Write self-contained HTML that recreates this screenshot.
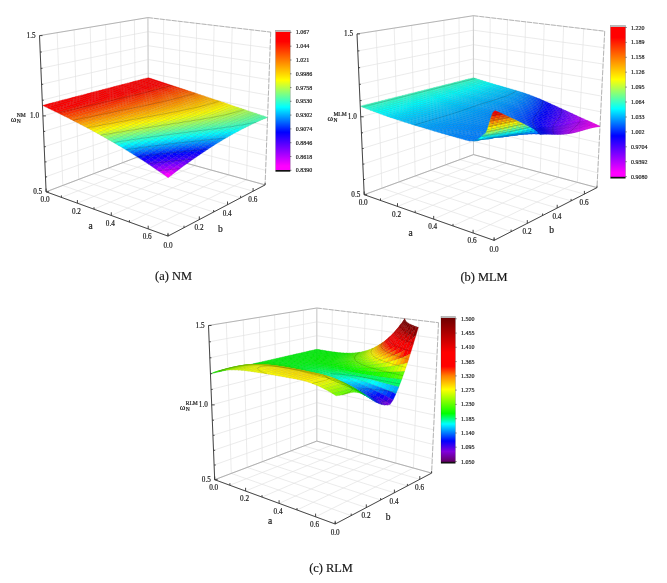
<!DOCTYPE html><html><head><meta charset="utf-8"><title>Figure</title><style>html,body{margin:0;padding:0;background:#fff}body{width:667px;height:583px;overflow:hidden;font-family:"Liberation Serif", serif}svg{display:block;filter:blur(.35px)}text{stroke:#222;stroke-width:.18px}</style></head><body><svg width="667" height="583" viewBox="0 0 667 583" font-family='"Liberation Serif", serif' fill="#141414"><defs></defs>
<g fill="none" stroke-linecap="butt">
<path d="M46.1 191.8L148.6 152.8" stroke="#e2e2e2" stroke-width="0.7"/>
<path d="M46.1 191.8L168 236.1" stroke="#e2e2e2" stroke-width="0.7"/>
<path d="M46.1 191.8L39.5 35.6" stroke="#e2e2e2" stroke-width="0.7"/>
<path d="M148.6 152.8L147.9 17.6" stroke="#e2e2e2" stroke-width="0.7"/>
<path d="M61.4 197.4L163.6 156.9" stroke="#e2e2e2" stroke-width="0.7"/>
<path d="M62.8 185.5L184 227.7" stroke="#e2e2e2" stroke-width="0.7"/>
<path d="M62.8 185.5L57.2 32.7" stroke="#e2e2e2" stroke-width="0.7"/>
<path d="M163.6 156.9L163.6 19.4" stroke="#e2e2e2" stroke-width="0.7"/>
<path d="M77.4 203.2L179 161.2" stroke="#e2e2e2" stroke-width="0.7"/>
<path d="M78.7 179.4L199.3 219.6" stroke="#e2e2e2" stroke-width="0.7"/>
<path d="M78.7 179.4L74.1 29.8" stroke="#e2e2e2" stroke-width="0.7"/>
<path d="M179 161.2L179.8 21.3" stroke="#e2e2e2" stroke-width="0.7"/>
<path d="M94 209.2L195 165.6" stroke="#e2e2e2" stroke-width="0.7"/>
<path d="M93.9 173.7L213.7 212" stroke="#e2e2e2" stroke-width="0.7"/>
<path d="M93.9 173.7L90.2 27.2" stroke="#e2e2e2" stroke-width="0.7"/>
<path d="M195 165.6L196.6 23.3" stroke="#e2e2e2" stroke-width="0.7"/>
<path d="M111.3 215.5L211.5 170.2" stroke="#e2e2e2" stroke-width="0.7"/>
<path d="M108.4 168.1L227.5 204.7" stroke="#e2e2e2" stroke-width="0.7"/>
<path d="M108.4 168.1L105.6 24.6" stroke="#e2e2e2" stroke-width="0.7"/>
<path d="M211.5 170.2L214.1 25.4" stroke="#e2e2e2" stroke-width="0.7"/>
<path d="M129.4 222.1L228.7 174.9" stroke="#e2e2e2" stroke-width="0.7"/>
<path d="M122.4 162.8L240.6 197.8" stroke="#e2e2e2" stroke-width="0.7"/>
<path d="M122.4 162.8L120.3 22.2" stroke="#e2e2e2" stroke-width="0.7"/>
<path d="M228.7 174.9L232.2 27.5" stroke="#e2e2e2" stroke-width="0.7"/>
<path d="M148.2 228.9L246.5 179.8" stroke="#e2e2e2" stroke-width="0.7"/>
<path d="M135.8 157.7L253.1 191.2" stroke="#e2e2e2" stroke-width="0.7"/>
<path d="M135.8 157.7L134.4 19.8" stroke="#e2e2e2" stroke-width="0.7"/>
<path d="M246.5 179.8L251.1 29.8" stroke="#e2e2e2" stroke-width="0.7"/>
<path d="M168 236.1L265.1 184.9" stroke="#e2e2e2" stroke-width="0.7"/>
<path d="M148.6 152.8L265.1 184.9" stroke="#e2e2e2" stroke-width="0.7"/>
<path d="M148.6 152.8L147.9 17.6" stroke="#e2e2e2" stroke-width="0.7"/>
<path d="M265.1 184.9L270.7 32.1" stroke="#e2e2e2" stroke-width="0.7"/>
<path d="M46.1 191.8L148.6 152.8" stroke="#e2e2e2" stroke-width="0.7"/>
<path d="M148.6 152.8L265.1 184.9" stroke="#e2e2e2" stroke-width="0.7"/>
<path d="M45.5 176.9L148.6 139.9" stroke="#e2e2e2" stroke-width="0.7"/>
<path d="M148.6 139.9L265.6 170.3" stroke="#e2e2e2" stroke-width="0.7"/>
<path d="M44.9 161.9L148.5 126.8" stroke="#e2e2e2" stroke-width="0.7"/>
<path d="M148.5 126.8L266.2 155.6" stroke="#e2e2e2" stroke-width="0.7"/>
<path d="M44.2 146.7L148.4 113.6" stroke="#e2e2e2" stroke-width="0.7"/>
<path d="M148.4 113.6L266.7 140.8" stroke="#e2e2e2" stroke-width="0.7"/>
<path d="M43.6 131.4L148.4 100.3" stroke="#e2e2e2" stroke-width="0.7"/>
<path d="M148.4 100.3L267.3 125.7" stroke="#e2e2e2" stroke-width="0.7"/>
<path d="M42.9 115.9L148.3 86.8" stroke="#e2e2e2" stroke-width="0.7"/>
<path d="M148.3 86.8L267.8 110.6" stroke="#e2e2e2" stroke-width="0.7"/>
<path d="M42.2 100.2L148.2 73.2" stroke="#e2e2e2" stroke-width="0.7"/>
<path d="M148.2 73.2L268.4 95.2" stroke="#e2e2e2" stroke-width="0.7"/>
<path d="M41.6 84.3L148.2 59.5" stroke="#e2e2e2" stroke-width="0.7"/>
<path d="M148.2 59.5L269 79.7" stroke="#e2e2e2" stroke-width="0.7"/>
<path d="M40.9 68.3L148.1 45.7" stroke="#e2e2e2" stroke-width="0.7"/>
<path d="M148.1 45.7L269.6 64" stroke="#e2e2e2" stroke-width="0.7"/>
<path d="M40.2 52L148 31.7" stroke="#e2e2e2" stroke-width="0.7"/>
<path d="M148 31.7L270.1 48.1" stroke="#e2e2e2" stroke-width="0.7"/>
<path d="M39.5 35.6L147.9 17.6" stroke="#e2e2e2" stroke-width="0.7"/>
<path d="M147.9 17.6L270.7 32.1" stroke="#e2e2e2" stroke-width="0.7"/>
<path d="M39.5 35.6L147.9 17.6" stroke="#8f8f8f" stroke-width="0.6"/>
<path d="M147.9 17.6L270.7 32.1" stroke="#8f8f8f" stroke-width="0.6" stroke-dasharray="5 1"/>
<path d="M270.7 32.1L265.1 184.9" stroke="#8f8f8f" stroke-width="0.6" stroke-dasharray="5 1.5"/>
<path d="M148.6 152.8L147.9 17.6" stroke="#c4c4c4" stroke-width="0.7"/>
<path d="M46.1 191.8L148.6 152.8" stroke="#9a9a9a" stroke-width="0.7"/>
<path d="M148.6 152.8L265.1 184.9" stroke="#9a9a9a" stroke-width="0.7"/>
</g>
<g stroke-width=".3" stroke-linejoin="round">
<path d="M145.7 78.4l3 0.9 2.5-0.7-2.9-0.9z" fill="#f00" stroke="#c00"/>
<path d="M148.7 79.3l2.9 0.9 2.5-0.6-2.9-1z" fill="#f00" stroke="#c00"/>
<path d="M143.2 79l2.9 1 2.6-0.7-3-0.9z" fill="#f00" stroke="#c00"/>
<path d="M151.6 80.2l3 1 2.5-0.7-3-0.9z" fill="#f00" stroke="#c00"/>
<path d="M146.1 80l3 0.9 2.5-0.7-2.9-0.9z" fill="#f00" stroke="#c00"/>
<path d="M140.6 79.7l3 0.9 2.5-0.6-2.9-1z" fill="#f00" stroke="#c00"/>
<path d="M154.6 81.2l3 1 2.5-0.7-3-1z" fill="#f00" stroke="#c00"/>
<path d="M149.1 80.9l3 1 2.5-0.7-3-1z" fill="#f00" stroke="#c00"/>
<path d="M143.6 80.6l2.9 1 2.6-0.7-3-0.9z" fill="#f00" stroke="#c00"/>
<path d="M138 80.4l3 0.9 2.6-0.7-3-0.9z" fill="#f00" stroke="#c00"/>
<path d="M157.6 82.2l3 1 2.5-0.7-3-1z" fill="#f00" stroke="#c00"/>
<path d="M152.1 81.9l3 1 2.5-0.7-3-1z" fill="#f00" stroke="#c00"/>
<path d="M146.5 81.6l3 1 2.6-0.7-3-1z" fill="#f00" stroke="#c00"/>
<path d="M141 81.3l2.9 1 2.6-0.7-2.9-1z" fill="#f00" stroke="#c00"/>
<path d="M135.4 81.1l3 0.9 2.6-0.7-3-0.9z" fill="#f00" stroke="#c00"/>
<path d="M160.6 83.2l3.1 1 2.5-0.7-3.1-1z" fill="#f00" stroke="#c00"/>
<path d="M155.1 82.9l3 1 2.5-0.7-3-1z" fill="#f00" stroke="#c00"/>
<path d="M149.5 82.6l3 1 2.6-0.7-3-1z" fill="#f00" stroke="#c00"/>
<path d="M143.9 82.3l3 1 2.6-0.7-3-1z" fill="#f00" stroke="#c00"/>
<path d="M138.4 82l2.9 1 2.6-0.7-2.9-1z" fill="#f00" stroke="#c00"/>
<path d="M163.7 84.2l3 1 2.5-0.7-3-1z" fill="#ff0a00" stroke="#cc0800"/>
<path d="M132.8 81.8l2.9 0.9 2.7-0.7-3-0.9z" fill="#f00" stroke="#c00"/>
<path d="M158.1 83.9l3 1 2.6-0.7-3.1-1z" fill="#f00" stroke="#c00"/>
<path d="M152.5 83.6l3 1 2.6-0.7-3-1z" fill="#f00" stroke="#c00"/>
<path d="M146.9 83.3l3 1 2.6-0.7-3-1z" fill="#f00" stroke="#c00"/>
<path d="M141.3 83l3 1 2.6-0.7-3-1z" fill="#f00" stroke="#c00"/>
<path d="M166.7 85.2l3.1 1 2.5-0.7-3.1-1z" fill="#ff1600" stroke="#c10"/>
<path d="M135.7 82.7l3 1 2.6-0.7-2.9-1z" fill="#f00" stroke="#c00"/>
<path d="M161.1 84.9l3.1 1 2.5-0.7-3-1z" fill="#ff0a00" stroke="#cc0800"/>
<path d="M130.1 82.5l3 0.9 2.6-0.7-2.9-0.9z" fill="#f00" stroke="#c00"/>
<path d="M155.5 84.6l3.1 1 2.5-0.7-3-1z" fill="#f00" stroke="#c00"/>
<path d="M149.9 84.3l3.1 1 2.5-0.7-3-1z" fill="#f00" stroke="#c00"/>
<path d="M144.3 84l3 1 2.6-0.7-3-1z" fill="#f00" stroke="#c00"/>
<path d="M169.8 86.2l3.1 1 2.5-0.7-3.1-1z" fill="#ff2300" stroke="#cc1c00"/>
<path d="M138.7 83.7l3 1 2.6-0.7-3-1z" fill="#f00" stroke="#c00"/>
<path d="M164.2 85.9l3.1 1 2.5-0.7-3.1-1z" fill="#ff1700" stroke="#cc1200"/>
<path d="M133.1 83.4l3 1 2.6-0.7-3-1z" fill="#f00" stroke="#c00"/>
<path d="M127.4 83.2l3 0.9 2.7-0.7-3-0.9z" fill="#f00" stroke="#c00"/>
<path d="M158.6 85.6l3.1 1 2.5-0.7-3.1-1z" fill="#ff0b00" stroke="#cc0800"/>
<path d="M153 85.3l3 1 2.6-0.7-3.1-1z" fill="#f00" stroke="#c00"/>
<path d="M172.9 87.2l3.1 1 2.5-0.7-3.1-1z" fill="#ff2f00" stroke="#cc2500"/>
<path d="M147.3 85l3.1 1 2.6-0.7-3.1-1z" fill="#f00" stroke="#c00"/>
<path d="M141.7 84.7l3 1 2.6-0.7-3-1z" fill="#f00" stroke="#c00"/>
<path d="M167.3 86.9l3.1 1 2.5-0.7-3.1-1z" fill="#ff2300" stroke="#cc1c00"/>
<path d="M136.1 84.4l3 1 2.6-0.7-3-1z" fill="#f00" stroke="#c00"/>
<path d="M161.7 86.6l3 1 2.6-0.7-3.1-1z" fill="#ff1700" stroke="#cc1200"/>
<path d="M130.4 84.1l3 1 2.7-0.7-3-1z" fill="#f00" stroke="#c00"/>
<path d="M124.7 83.9l3 0.9 2.7-0.7-3-0.9z" fill="#f00" stroke="#c00"/>
<path d="M156 86.3l3.1 1 2.6-0.7-3.1-1z" fill="#ff0b00" stroke="#cc0800"/>
<path d="M176 88.2l3.2 1.1 2.4-0.7-3.1-1.1z" fill="#ff3b00" stroke="#cc2f00"/>
<path d="M150.4 86l3 1 2.6-0.7-3-1z" fill="#f00" stroke="#c00"/>
<path d="M170.4 87.9l3.1 1.1 2.5-0.8-3.1-1z" fill="#ff2f00" stroke="#cc2500"/>
<path d="M144.7 85.7l3.1 1 2.6-0.7-3.1-1z" fill="#f00" stroke="#c00"/>
<path d="M139.1 85.4l3 1 2.6-0.7-3-1z" fill="#f00" stroke="#c00"/>
<path d="M164.7 87.6l3.1 1.1 2.6-0.8-3.1-1z" fill="#ff2300" stroke="#cc1c00"/>
<path d="M133.4 85.1l3 1 2.7-0.7-3-1z" fill="#f00" stroke="#c00"/>
<path d="M127.7 84.8l3 1.1 2.7-0.8-3-1z" fill="#f00" stroke="#c00"/>
<path d="M159.1 87.3l3.1 1.1 2.5-0.8-3-1z" fill="#ff1700" stroke="#cc1200"/>
<path d="M179.2 89.3l3.1 1 2.5-0.7-3.2-1z" fill="#ff4700" stroke="#cc3800"/>
<path d="M122 84.6l3 1 2.7-0.8-3-0.9z" fill="#f00" stroke="#c00"/>
<path d="M153.4 87l3.1 1.1 2.6-0.8-3.1-1z" fill="#ff0b00" stroke="#cc0800"/>
<path d="M173.5 89l3.2 1 2.5-0.7-3.2-1.1z" fill="#ff3b00" stroke="#cc2f00"/>
<path d="M147.8 86.7l3 1.1 2.6-0.8-3-1z" fill="#f00" stroke="#c00"/>
<path d="M142.1 86.4l3 1.1 2.7-0.8-3.1-1z" fill="#f00" stroke="#c00"/>
<path d="M167.8 88.7l3.2 1 2.5-0.7-3.1-1.1z" fill="#ff2f00" stroke="#cc2500"/>
<path d="M136.4 86.1l3 1.1 2.7-0.8-3-1z" fill="#f00" stroke="#c00"/>
<path d="M162.2 88.4l3.1 1 2.5-0.7-3.1-1.1z" fill="#ff2300" stroke="#cc1c00"/>
<path d="M130.7 85.9l3 1 2.7-0.8-3-1z" fill="#f00" stroke="#c00"/>
<path d="M182.3 90.3l3.2 1.1 2.5-0.7-3.2-1.1z" fill="#ff5400" stroke="#cc4300"/>
<path d="M125 85.6l3 1 2.7-0.7-3-1.1z" fill="#f00" stroke="#c00"/>
<path d="M156.5 88.1l3.1 1 2.6-0.7-3.1-1.1z" fill="#ff1700" stroke="#cc1200"/>
<path d="M119.3 85.3l3 1 2.7-0.7-3-1z" fill="#f00" stroke="#c00"/>
<path d="M176.7 90l3.1 1.1 2.5-0.8-3.1-1z" fill="#ff4700" stroke="#cc3800"/>
<path d="M150.8 87.8l3.1 1 2.6-0.7-3.1-1.1z" fill="#ff0b00" stroke="#cc0800"/>
<path d="M171 89.7l3.1 1.1 2.6-0.8-3.2-1z" fill="#ff3b00" stroke="#cc2f00"/>
<path d="M145.1 87.5l3.1 1 2.6-0.7-3-1.1z" fill="#f00" stroke="#c00"/>
<path d="M139.4 87.2l3.1 1 2.6-0.7-3-1.1z" fill="#f00" stroke="#c00"/>
<path d="M165.3 89.4l3.1 1.1 2.6-0.8-3.2-1z" fill="#ff2f00" stroke="#cc2500"/>
<path d="M185.5 91.4l3.2 1.1 2.5-0.8-3.2-1z" fill="#ff6000" stroke="#cc4c00"/>
<path d="M133.7 86.9l3 1 2.7-0.7-3-1.1z" fill="#f00" stroke="#c00"/>
<path d="M159.6 89.1l3.1 1.1 2.6-0.8-3.1-1z" fill="#ff2300" stroke="#cc1c00"/>
<path d="M128 86.6l3 1 2.7-0.7-3-1z" fill="#f00" stroke="#c00"/>
<path d="M179.8 91.1l3.2 1.1 2.5-0.8-3.2-1.1z" fill="#ff5400" stroke="#cc4300"/>
<path d="M122.3 86.3l3 1 2.7-0.7-3-1z" fill="#f00" stroke="#c00"/>
<path d="M153.9 88.8l3.1 1.1 2.6-0.8-3.1-1z" fill="#ff1800" stroke="#cc1300"/>
<path d="M116.5 86l3 1 2.8-0.7-3-1z" fill="#f00" stroke="#c00"/>
<path d="M174.1 90.8l3.2 1 2.5-0.7-3.1-1.1z" fill="#ff4800" stroke="#cc3900"/>
<path d="M148.2 88.5l3.1 1.1 2.6-0.8-3.1-1z" fill="#ff0c00" stroke="#cc0900"/>
<path d="M142.5 88.2l3 1.1 2.7-0.8-3.1-1z" fill="#f00" stroke="#c00"/>
<path d="M188.7 92.5l3.2 1.1 2.5-0.8-3.2-1.1z" fill="#ff6c00" stroke="#cc5600"/>
<path d="M168.4 90.5l3.2 1 2.5-0.7-3.1-1.1z" fill="#ff3c00" stroke="#cc3000"/>
<path d="M136.7 87.9l3.1 1.1 2.7-0.8-3.1-1z" fill="#f00" stroke="#c00"/>
<path d="M162.7 90.2l3.2 1 2.5-0.7-3.1-1.1z" fill="#ff3000" stroke="#cc2600"/>
<path d="M131 87.6l3 1.1 2.7-0.8-3-1z" fill="#f00" stroke="#c00"/>
<path d="M183 92.2l3.2 1 2.5-0.7-3.2-1.1z" fill="#ff6000" stroke="#cc4c00"/>
<path d="M125.3 87.3l3 1.1 2.7-0.8-3-1z" fill="#f00" stroke="#c00"/>
<path d="M157 89.9l3.1 1 2.6-0.7-3.1-1.1z" fill="#ff2400" stroke="#cc1c00"/>
<path d="M119.5 87l3 1.1 2.8-0.8-3-1z" fill="#f00" stroke="#c00"/>
<path d="M177.3 91.8l3.2 1.1 2.5-0.7-3.2-1.1z" fill="#ff5400" stroke="#cc4300"/>
<path d="M113.7 86.7l3 1.1 2.8-0.8-3-1z" fill="#f00" stroke="#c00"/>
<path d="M151.3 89.6l3.1 1 2.6-0.7-3.1-1.1z" fill="#ff1800" stroke="#cc1300"/>
<path d="M191.9 93.6l3.3 1 2.5-0.7-3.3-1.1z" fill="#ff7900" stroke="#cc6000"/>
<path d="M171.6 91.5l3.2 1.1 2.5-0.8-3.2-1z" fill="#ff4800" stroke="#cc3900"/>
<path d="M145.5 89.3l3.1 1 2.7-0.7-3.1-1.1z" fill="#ff0c00" stroke="#cc0900"/>
<path d="M139.8 89l3.1 1 2.6-0.7-3-1.1z" fill="#ff0100" stroke="#c00"/>
<path d="M165.9 91.2l3.1 1.1 2.6-0.8-3.2-1z" fill="#ff3c00" stroke="#cc3000"/>
<path d="M186.2 93.2l3.3 1.1 2.4-0.7-3.2-1.1z" fill="#ff6d00" stroke="#cc5700"/>
<path d="M134 88.7l3.1 1 2.7-0.7-3.1-1.1z" fill="#f00" stroke="#c00"/>
<path d="M160.1 90.9l3.2 1.1 2.6-0.8-3.2-1z" fill="#ff3000" stroke="#cc2600"/>
<path d="M128.3 88.4l3 1 2.7-0.7-3-1.1z" fill="#f00" stroke="#c00"/>
<path d="M180.5 92.9l3.2 1.1 2.5-0.8-3.2-1z" fill="#ff6100" stroke="#cc4d00"/>
<path d="M122.5 88.1l3 1 2.8-0.7-3-1.1z" fill="#f00" stroke="#c00"/>
<path d="M154.4 90.6l3.1 1.1 2.6-0.8-3.1-1z" fill="#ff2400" stroke="#cc1c00"/>
<path d="M116.7 87.8l3 1 2.8-0.7-3-1.1z" fill="#f00" stroke="#c00"/>
<path d="M195.2 94.6l3.3 1.1 2.4-0.7-3.2-1.1z" fill="#ff8600" stroke="#cc6b00"/>
<path d="M110.9 87.5l3 1 2.8-0.7-3-1.1z" fill="#f00" stroke="#c00"/>
<path d="M174.8 92.6l3.2 1.1 2.5-0.8-3.2-1.1z" fill="#ff5400" stroke="#cc4300"/>
<path d="M148.6 90.3l3.1 1.1 2.7-0.8-3.1-1z" fill="#ff1900" stroke="#cc1400"/>
<path d="M189.5 94.3l3.2 1.1 2.5-0.8-3.3-1z" fill="#ff7900" stroke="#cc6000"/>
<path d="M142.9 90l3 1.1 2.7-0.8-3.1-1z" fill="#ff0d00" stroke="#cc0a00"/>
<path d="M169 92.3l3.2 1.1 2.6-0.8-3.2-1.1z" fill="#ff4900" stroke="#cc3a00"/>
<path d="M137.1 89.7l3.1 1.1 2.7-0.8-3.1-1z" fill="#ff0100" stroke="#c00"/>
<path d="M163.3 92l3.1 1.1 2.6-0.8-3.1-1.1z" fill="#ff3d00" stroke="#cc3000"/>
<path d="M183.7 94l3.3 1.1 2.5-0.8-3.3-1.1z" fill="#ff6d00" stroke="#cc5700"/>
<path d="M131.3 89.4l3.1 1.1 2.7-0.8-3.1-1z" fill="#f00" stroke="#c00"/>
<path d="M125.5 89.1l3 1.1 2.8-0.8-3-1z" fill="#f00" stroke="#c00"/>
<path d="M198.5 95.7l3.3 1.1 2.4-0.7-3.3-1.1z" fill="#ff9200" stroke="#cc7400"/>
<path d="M157.5 91.7l3.1 1.1 2.7-0.8-3.2-1.1z" fill="#ff3100" stroke="#cc2700"/>
<path d="M119.7 88.8l3 1.1 2.8-0.8-3-1z" fill="#f00" stroke="#c00"/>
<path d="M178 93.7l3.2 1.1 2.5-0.8-3.2-1.1z" fill="#ff6100" stroke="#cc4d00"/>
<path d="M113.9 88.5l3 1.1 2.8-0.8-3-1z" fill="#f00" stroke="#c00"/>
<path d="M151.7 91.4l3.2 1.1 2.6-0.8-3.1-1.1z" fill="#ff2500" stroke="#cc1d00"/>
<path d="M108.1 88.2l3 1.1 2.8-0.8-3-1z" fill="#f00" stroke="#c00"/>
<path d="M192.7 95.4l3.3 1.1 2.5-0.8-3.3-1.1z" fill="#ff8600" stroke="#cc6b00"/>
<path d="M172.2 93.4l3.2 1.1 2.6-0.8-3.2-1.1z" fill="#f50" stroke="#c40"/>
<path d="M145.9 91.1l3.2 1.1 2.6-0.8-3.1-1.1z" fill="#ff1900" stroke="#cc1400"/>
<path d="M140.2 90.8l3 1.1 2.7-0.8-3-1.1z" fill="#ff0e00" stroke="#cc0b00"/>
<path d="M166.4 93.1l3.2 1.1 2.6-0.8-3.2-1.1z" fill="#ff4900" stroke="#cc3a00"/>
<path d="M187 95.1l3.2 1.1 2.5-0.8-3.2-1.1z" fill="#ff7a00" stroke="#cc6100"/>
<path d="M134.4 90.5l3 1.1 2.8-0.8-3.1-1.1z" fill="#ff0200" stroke="#cc0100"/>
<path d="M201.8 96.8l3.3 1.2 2.4-0.8-3.3-1.1z" fill="#ff9f00" stroke="#cc7f00"/>
<path d="M160.6 92.8l3.2 1.1 2.6-0.8-3.1-1.1z" fill="#ff3d00" stroke="#cc3000"/>
<path d="M128.5 90.2l3.1 1.1 2.8-0.8-3.1-1.1z" fill="#f00" stroke="#c00"/>
<path d="M181.2 94.8l3.2 1.1 2.6-0.8-3.3-1.1z" fill="#ff6e00" stroke="#cc5800"/>
<path d="M122.7 89.9l3.1 1.1 2.7-0.8-3-1.1z" fill="#f00" stroke="#c00"/>
<path d="M154.9 92.5l3.1 1.1 2.6-0.8-3.1-1.1z" fill="#ff3200" stroke="#cc2800"/>
<path d="M116.9 89.6l3 1.1 2.8-0.8-3-1.1z" fill="#f00" stroke="#c00"/>
<path d="M196 96.5l3.3 1.1 2.5-0.8-3.3-1.1z" fill="#ff9200" stroke="#cc7400"/>
<path d="M175.4 94.5l3.2 1.1 2.6-0.8-3.2-1.1z" fill="#ff6200" stroke="#cc4e00"/>
<path d="M111.1 89.3l3 1 2.8-0.7-3-1.1z" fill="#f00" stroke="#c00"/>
<path d="M149.1 92.2l3.1 1.1 2.7-0.8-3.2-1.1z" fill="#ff2600" stroke="#cc1e00"/>
<path d="M105.2 89l3 1 2.9-0.7-3-1.1z" fill="#f00" stroke="#c00"/>
<path d="M190.2 96.2l3.3 1.1 2.5-0.8-3.3-1.1z" fill="#ff8600" stroke="#cc6b00"/>
<path d="M143.2 91.9l3.2 1.1 2.7-0.8-3.2-1.1z" fill="#ff1a00" stroke="#cc1400"/>
<path d="M169.6 94.2l3.2 1.1 2.6-0.8-3.2-1.1z" fill="#ff5600" stroke="#c40"/>
<path d="M205.1 98l3.3 1.1 2.5-0.8-3.4-1.1z" fill="#ffab00" stroke="#c80"/>
<path d="M137.4 91.6l3.1 1.1 2.7-0.8-3-1.1z" fill="#ff0e00" stroke="#cc0b00"/>
<path d="M163.8 93.9l3.2 1.1 2.6-0.8-3.2-1.1z" fill="#ff4a00" stroke="#cc3b00"/>
<path d="M184.4 95.9l3.3 1.1 2.5-0.8-3.2-1.1z" fill="#ff7a00" stroke="#cc6100"/>
<path d="M131.6 91.3l3.1 1.1 2.7-0.8-3-1.1z" fill="#ff0200" stroke="#cc0100"/>
<path d="M125.8 91l3 1.1 2.8-0.8-3.1-1.1z" fill="#f00" stroke="#c00"/>
<path d="M199.3 97.6l3.3 1.2 2.5-0.8-3.3-1.2z" fill="#ff9f00" stroke="#cc7f00"/>
<path d="M158 93.6l3.2 1.1 2.6-0.8-3.2-1.1z" fill="#ff3e00" stroke="#cc3100"/>
<path d="M178.6 95.6l3.3 1.1 2.5-0.8-3.2-1.1z" fill="#ff6e00" stroke="#cc5800"/>
<path d="M119.9 90.7l3.1 1.1 2.8-0.8-3.1-1.1z" fill="#f00" stroke="#c00"/>
<path d="M114.1 90.3l3 1.1 2.8-0.7-3-1.1z" fill="#f00" stroke="#c00"/>
<path d="M152.2 93.3l3.1 1.1 2.7-0.8-3.1-1.1z" fill="#ff3200" stroke="#cc2800"/>
<path d="M108.2 90l3 1.1 2.9-0.8-3-1z" fill="#f00" stroke="#c00"/>
<path d="M193.5 97.3l3.3 1.2 2.5-0.9-3.3-1.1z" fill="#ff9300" stroke="#cc7500"/>
<path d="M102.3 89.7l3 1.1 2.9-0.8-3-1z" fill="#f00" stroke="#c00"/>
<path d="M172.8 95.3l3.2 1.1 2.6-0.8-3.2-1.1z" fill="#ff6200" stroke="#cc4e00"/>
<path d="M146.4 93l3.1 1.1 2.7-0.8-3.1-1.1z" fill="#ff2700" stroke="#cc1f00"/>
<path d="M208.4 99.1l3.4 1.1 2.4-0.8-3.3-1.1z" fill="#ffb800" stroke="#cc9300"/>
<path d="M140.5 92.7l3.1 1.1 2.8-0.8-3.2-1.1z" fill="#ff1b00" stroke="#cc1500"/>
<path d="M167 95l3.2 1.1 2.6-0.8-3.2-1.1z" fill="#ff5700" stroke="#cc4500"/>
<path d="M187.7 97l3.3 1.2 2.5-0.9-3.3-1.1z" fill="#ff8700" stroke="#cc6c00"/>
<path d="M134.7 92.4l3.1 1.1 2.7-0.8-3.1-1.1z" fill="#ff0f00" stroke="#cc0c00"/>
<path d="M202.6 98.8l3.4 1.1 2.4-0.8-3.3-1.1z" fill="#ffac00" stroke="#cc8900"/>
<path d="M161.2 94.7l3.2 1.1 2.6-0.8-3.2-1.1z" fill="#ff4b00" stroke="#cc3c00"/>
<path d="M128.8 92.1l3.1 1.1 2.8-0.8-3.1-1.1z" fill="#ff0300" stroke="#cc0200"/>
<path d="M181.9 96.7l3.2 1.2 2.6-0.9-3.3-1.1z" fill="#ff7b00" stroke="#cc6200"/>
<path d="M123 91.8l3 1.1 2.8-0.8-3-1.1z" fill="#f00" stroke="#c00"/>
<path d="M155.3 94.4l3.2 1.1 2.7-0.8-3.2-1.1z" fill="#ff3f00" stroke="#cc3200"/>
<path d="M196.8 98.5l3.3 1.1 2.5-0.8-3.3-1.2z" fill="#ff9f00" stroke="#cc7f00"/>
<path d="M117.1 91.4l3 1.2 2.9-0.8-3.1-1.1z" fill="#f00" stroke="#c00"/>
<path d="M211.8 100.2l3.4 1.2 2.4-0.9-3.4-1.1z" fill="#ffc500" stroke="#cc9d00"/>
<path d="M176 96.4l3.3 1.2 2.6-0.9-3.3-1.1z" fill="#ff6f00" stroke="#cc5800"/>
<path d="M111.2 91.1l3 1.1 2.9-0.8-3-1.1z" fill="#f00" stroke="#c00"/>
<path d="M149.5 94.1l3.2 1.1 2.6-0.8-3.1-1.1z" fill="#f30" stroke="#cc2800"/>
<path d="M105.3 90.8l3 1.1 2.9-0.8-3-1.1z" fill="#f00" stroke="#c00"/>
<path d="M99.4 90.5l3 1.1 2.9-0.8-3-1.1z" fill="#f00" stroke="#c00"/>
<path d="M191 98.2l3.3 1.1 2.5-0.8-3.3-1.2z" fill="#ff9300" stroke="#cc7500"/>
<path d="M170.2 96.1l3.2 1.2 2.6-0.9-3.2-1.1z" fill="#ff6300" stroke="#cc4f00"/>
<path d="M143.6 93.8l3.2 1.1 2.7-0.8-3.1-1.1z" fill="#ff2800" stroke="#cc2000"/>
<path d="M206 99.9l3.3 1.1 2.5-0.8-3.4-1.1z" fill="#ffb800" stroke="#cc9300"/>
<path d="M137.8 93.5l3.1 1.1 2.7-0.8-3.1-1.1z" fill="#ff1c00" stroke="#cc1600"/>
<path d="M164.4 95.8l3.2 1.2 2.6-0.9-3.2-1.1z" fill="#ff5800" stroke="#cc4600"/>
<path d="M185.1 97.9l3.3 1.1 2.6-0.8-3.3-1.2z" fill="#f80" stroke="#cc6c00"/>
<path d="M131.9 93.2l3.1 1.1 2.8-0.8-3.1-1.1z" fill="#ff1000" stroke="#cc0c00"/>
<path d="M200.1 99.6l3.4 1.1 2.5-0.8-3.4-1.1z" fill="#ffac00" stroke="#cc8900"/>
<path d="M126 92.9l3.1 1.1 2.8-0.8-3.1-1.1z" fill="#ff0400" stroke="#cc0300"/>
<path d="M158.5 95.5l3.2 1.2 2.7-0.9-3.2-1.1z" fill="#ff4c00" stroke="#cc3c00"/>
<path d="M215.2 101.4l3.4 1.1 2.4-0.8-3.4-1.2z" fill="#ffd100" stroke="#cca700"/>
<path d="M179.3 97.6l3.3 1.1 2.5-0.8-3.2-1.2z" fill="#ff7c00" stroke="#cc6300"/>
<path d="M120.1 92.6l3.1 1.1 2.8-0.8-3-1.1z" fill="#f00" stroke="#c00"/>
<path d="M152.7 95.2l3.1 1.2 2.7-0.9-3.2-1.1z" fill="#ff4000" stroke="#c30"/>
<path d="M114.2 92.2l3.1 1.2 2.8-0.8-3-1.2z" fill="#f00" stroke="#c00"/>
<path d="M194.3 99.3l3.3 1.1 2.5-0.8-3.3-1.1z" fill="#ffa000" stroke="#cc8000"/>
<path d="M108.3 91.9l3.1 1.1 2.8-0.8-3-1.1z" fill="#f00" stroke="#c00"/>
<path d="M173.4 97.3l3.3 1.1 2.6-0.8-3.3-1.2z" fill="#ff7000" stroke="#cc5900"/>
<path d="M102.4 91.6l3 1.1 2.9-0.8-3-1.1z" fill="#f00" stroke="#c00"/>
<path d="M209.3 101l3.4 1.2 2.5-0.8-3.4-1.2z" fill="#ffc500" stroke="#cc9d00"/>
<path d="M146.8 94.9l3.1 1.2 2.8-0.9-3.2-1.1z" fill="#ff3400" stroke="#cc2900"/>
<path d="M96.5 91.2l3 1.1 2.9-0.7-3-1.1z" fill="#f00" stroke="#c00"/>
<path d="M140.9 94.6l3.2 1.2 2.7-0.9-3.2-1.1z" fill="#ff2900" stroke="#cc2000"/>
<path d="M188.4 99l3.4 1.1 2.5-0.8-3.3-1.1z" fill="#ff9400" stroke="#cc7600"/>
<path d="M167.6 97l3.2 1.1 2.6-0.8-3.2-1.2z" fill="#ff6400" stroke="#cc5000"/>
<path d="M135 94.3l3.1 1.1 2.8-0.8-3.1-1.1z" fill="#ff1d00" stroke="#cc1700"/>
<path d="M203.5 100.7l3.4 1.2 2.4-0.9-3.3-1.1z" fill="#ffb900" stroke="#cc9400"/>
<path d="M218.6 102.5l3.4 1.2 2.4-0.9-3.4-1.1z" fill="#ffde00" stroke="#ccb100"/>
<path d="M161.7 96.7l3.2 1.1 2.7-0.8-3.2-1.2z" fill="#ff5900" stroke="#cc4700"/>
<path d="M129.1 94l3.1 1.1 2.8-0.8-3.1-1.1z" fill="#f10" stroke="#cc0d00"/>
<path d="M182.6 98.7l3.3 1.1 2.5-0.8-3.3-1.1z" fill="#ff8900" stroke="#cc6d00"/>
<path d="M123.2 93.7l3.1 1.1 2.8-0.8-3.1-1.1z" fill="#ff0500" stroke="#cc0400"/>
<path d="M155.8 96.4l3.2 1.1 2.7-0.8-3.2-1.2z" fill="#ff4d00" stroke="#cc3d00"/>
<path d="M197.6 100.4l3.4 1.2 2.5-0.9-3.4-1.1z" fill="#ffad00" stroke="#cc8a00"/>
<path d="M117.3 93.4l3.1 1.1 2.8-0.8-3.1-1.1z" fill="#f00" stroke="#c00"/>
<path d="M212.7 102.2l3.5 1.2 2.4-0.9-3.4-1.1z" fill="#ffd200" stroke="#cca800"/>
<path d="M176.7 98.4l3.3 1.1 2.6-0.8-3.3-1.1z" fill="#ff7d00" stroke="#cc6400"/>
<path d="M111.4 93l3 1.2 2.9-0.8-3.1-1.2z" fill="#f00" stroke="#c00"/>
<path d="M149.9 96.1l3.2 1.1 2.7-0.8-3.1-1.2z" fill="#ff4100" stroke="#cc3400"/>
<path d="M105.4 92.7l3.1 1.1 2.9-0.8-3.1-1.1z" fill="#f00" stroke="#c00"/>
<path d="M99.5 92.3l3 1.2 2.9-0.8-3-1.1z" fill="#f00" stroke="#c00"/>
<path d="M191.8 100.1l3.3 1.2 2.5-0.9-3.3-1.1z" fill="#ffa100" stroke="#cc8000"/>
<path d="M93.5 92l3 1.1 3-0.8-3-1.1z" fill="#f00" stroke="#c00"/>
<path d="M170.8 98.1l3.3 1.2 2.6-0.9-3.3-1.1z" fill="#ff7100" stroke="#cc5a00"/>
<path d="M144.1 95.8l3.1 1.1 2.7-0.8-3.1-1.2z" fill="#ff3600" stroke="#cc2b00"/>
<path d="M206.9 101.9l3.4 1.2 2.4-0.9-3.4-1.2z" fill="#ffc600" stroke="#cc9e00"/>
<path d="M222 103.7l3.5 1.1 2.4-0.8-3.5-1.2z" fill="#ffeb00" stroke="#ccbc00"/>
<path d="M138.1 95.4l3.2 1.2 2.8-0.8-3.2-1.2z" fill="#ff2a00" stroke="#cc2100"/>
<path d="M164.9 97.8l3.3 1.2 2.6-0.9-3.2-1.1z" fill="#f60" stroke="#cc5100"/>
<path d="M185.9 99.8l3.3 1.2 2.6-0.9-3.4-1.1z" fill="#ff9500" stroke="#c70"/>
<path d="M132.2 95.1l3.2 1.2 2.7-0.9-3.1-1.1z" fill="#ff1e00" stroke="#cc1800"/>
<path d="M201 101.6l3.4 1.1 2.5-0.8-3.4-1.2z" fill="#ffba00" stroke="#cc9400"/>
<path d="M216.2 103.4l3.4 1.1 2.4-0.8-3.4-1.2z" fill="#ffdf00" stroke="#ccb200"/>
<path d="M126.3 94.8l3.1 1.2 2.8-0.9-3.1-1.1z" fill="#ff1200" stroke="#cc0e00"/>
<path d="M159 97.5l3.3 1.2 2.6-0.9-3.2-1.1z" fill="#ff5a00" stroke="#cc4800"/>
<path d="M180 99.5l3.3 1.2 2.6-0.9-3.3-1.1z" fill="#ff8a00" stroke="#cc6e00"/>
<path d="M120.4 94.5l3.1 1.1 2.8-0.8-3.1-1.1z" fill="#ff0500" stroke="#cc0400"/>
<path d="M153.1 97.2l3.2 1.2 2.7-0.9-3.2-1.1z" fill="#ff4e00" stroke="#cc3e00"/>
<path d="M114.4 94.2l3.1 1.1 2.9-0.8-3.1-1.1z" fill="#f00" stroke="#c00"/>
<path d="M195.1 101.3l3.4 1.2 2.5-0.9-3.4-1.2z" fill="#ffae00" stroke="#cc8b00"/>
<path d="M108.5 93.8l3 1.2 2.9-0.8-3-1.2z" fill="#f00" stroke="#c00"/>
<path d="M225.5 104.8l3.5 1.2 2.4-0.8-3.5-1.2z" fill="#fff800" stroke="#ccc600"/>
<path d="M174.1 99.3l3.3 1.1 2.6-0.9-3.3-1.1z" fill="#ff7e00" stroke="#cc6400"/>
<path d="M210.3 103.1l3.4 1.1 2.5-0.8-3.5-1.2z" fill="#ffd200" stroke="#cca800"/>
<path d="M102.5 93.5l3 1.1 3-0.8-3.1-1.1z" fill="#f00" stroke="#c00"/>
<path d="M147.2 96.9l3.2 1.2 2.7-0.9-3.2-1.1z" fill="#ff4300" stroke="#cc3500"/>
<path d="M96.5 93.1l3.1 1.2 2.9-0.8-3-1.2z" fill="#f00" stroke="#c00"/>
<path d="M90.6 92.8l3 1.1 2.9-0.8-3-1.1z" fill="#f00" stroke="#c00"/>
<path d="M141.3 96.6l3.2 1.2 2.7-0.9-3.1-1.1z" fill="#ff3700" stroke="#cc2c00"/>
<path d="M189.2 101l3.3 1.2 2.6-0.9-3.3-1.2z" fill="#ffa200" stroke="#cc8100"/>
<path d="M168.2 99l3.3 1.1 2.6-0.8-3.3-1.2z" fill="#ff7300" stroke="#cc5c00"/>
<path d="M204.4 102.7l3.4 1.2 2.5-0.8-3.4-1.2z" fill="#ffc600" stroke="#cc9e00"/>
<path d="M219.6 104.5l3.5 1.2 2.4-0.9-3.5-1.1z" fill="#ffeb00" stroke="#ccbc00"/>
<path d="M135.4 96.3l3.1 1.1 2.8-0.8-3.2-1.2z" fill="#ff2b00" stroke="#c20"/>
<path d="M162.3 98.7l3.2 1.1 2.7-0.8-3.3-1.2z" fill="#ff6700" stroke="#cc5200"/>
<path d="M183.3 100.7l3.3 1.2 2.6-0.9-3.3-1.2z" fill="#ff9700" stroke="#cc7800"/>
<path d="M129.4 96l3.1 1.1 2.9-0.8-3.2-1.2z" fill="#ff1f00" stroke="#cc1800"/>
<path d="M123.5 95.6l3.1 1.2 2.8-0.8-3.1-1.2z" fill="#ff1300" stroke="#cc0f00"/>
<path d="M156.3 98.4l3.3 1.1 2.7-0.8-3.3-1.2z" fill="#ff5c00" stroke="#cc4900"/>
<path d="M198.5 102.5l3.3 1.1 2.6-0.9-3.4-1.1z" fill="#fb0" stroke="#cc9500"/>
<path d="M229 106l3.5 1.2 2.4-0.8-3.5-1.2z" fill="#f7ff08" stroke="#c5cc06"/>
<path d="M213.7 104.2l3.4 1.2 2.5-0.9-3.4-1.1z" fill="#ffdf00" stroke="#ccb200"/>
<path d="M117.5 95.3l3.1 1.2 2.9-0.9-3.1-1.1z" fill="#ff0600" stroke="#cc0400"/>
<path d="M177.4 100.4l3.3 1.2 2.6-0.9-3.3-1.2z" fill="#ff8b00" stroke="#cc6f00"/>
<path d="M111.5 95l3.1 1.1 2.9-0.8-3.1-1.1z" fill="#f00" stroke="#c00"/>
<path d="M150.4 98.1l3.2 1.1 2.7-0.8-3.2-1.2z" fill="#ff5000" stroke="#cc4000"/>
<path d="M105.5 94.6l3.1 1.2 2.9-0.8-3-1.2z" fill="#f00" stroke="#c00"/>
<path d="M99.6 94.3l3 1.2 2.9-0.9-3-1.1z" fill="#f00" stroke="#c00"/>
<path d="M192.5 102.2l3.4 1.1 2.6-0.8-3.4-1.2z" fill="#ffaf00" stroke="#cc8c00"/>
<path d="M93.6 93.9l3 1.2 3-0.8-3.1-1.2z" fill="#f00" stroke="#c00"/>
<path d="M171.5 100.1l3.2 1.2 2.7-0.9-3.3-1.1z" fill="#ff8000" stroke="#c60"/>
<path d="M87.5 93.6l3 1.1 3.1-0.8-3-1.1z" fill="#f00" stroke="#c00"/>
<path d="M144.5 97.8l3.2 1.1 2.7-0.8-3.2-1.2z" fill="#f40" stroke="#cc3600"/>
<path d="M223.1 105.7l3.5 1.2 2.4-0.9-3.5-1.2z" fill="#fff800" stroke="#ccc600"/>
<path d="M207.8 103.9l3.4 1.2 2.5-0.9-3.4-1.1z" fill="#ffd300" stroke="#cca800"/>
<path d="M138.5 97.4l3.2 1.2 2.8-0.8-3.2-1.2z" fill="#ff3800" stroke="#cc2c00"/>
<path d="M165.5 99.8l3.3 1.2 2.7-0.9-3.3-1.1z" fill="#ff7400" stroke="#cc5c00"/>
<path d="M186.6 101.9l3.4 1.1 2.5-0.8-3.3-1.2z" fill="#ffa400" stroke="#cc8300"/>
<path d="M132.5 97.1l3.2 1.2 2.8-0.9-3.1-1.1z" fill="#ff2c00" stroke="#cc2300"/>
<path d="M232.5 107.2l3.5 1.2 2.4-0.8-3.5-1.2z" fill="#e4ff1b" stroke="#b6cc15"/>
<path d="M201.8 103.6l3.5 1.2 2.5-0.9-3.4-1.2z" fill="#ffc800" stroke="#cca000"/>
<path d="M217.1 105.4l3.5 1.2 2.5-0.9-3.5-1.2z" fill="#ffec00" stroke="#ccbc00"/>
<path d="M159.6 99.5l3.2 1.2 2.7-0.9-3.2-1.1z" fill="#ff6900" stroke="#cc5400"/>
<path d="M126.6 96.8l3.1 1.2 2.8-0.9-3.1-1.1z" fill="#ff2000" stroke="#cc1900"/>
<path d="M180.7 101.6l3.3 1.2 2.6-0.9-3.3-1.2z" fill="#ff9800" stroke="#cc7900"/>
<path d="M120.6 96.5l3.1 1.2 2.9-0.9-3.1-1.2z" fill="#ff1400" stroke="#cc1000"/>
<path d="M153.6 99.2l3.3 1.2 2.7-0.9-3.3-1.1z" fill="#ff5d00" stroke="#cc4a00"/>
<path d="M114.6 96.1l3.1 1.2 2.9-0.8-3.1-1.2z" fill="#ff0700" stroke="#cc0500"/>
<path d="M195.9 103.3l3.4 1.2 2.5-0.9-3.3-1.1z" fill="#ffbc00" stroke="#cc9600"/>
<path d="M226.6 106.9l3.5 1.2 2.4-0.9-3.5-1.2z" fill="#f6ff09" stroke="#c4cc07"/>
<path d="M108.6 95.8l3.1 1.2 2.9-0.9-3.1-1.1z" fill="#f00" stroke="#c00"/>
<path d="M174.7 101.3l3.4 1.2 2.6-0.9-3.3-1.2z" fill="#ff8d00" stroke="#cc7000"/>
<path d="M211.2 105.1l3.5 1.2 2.4-0.9-3.4-1.2z" fill="#ffe000" stroke="#ccb300"/>
<path d="M102.6 95.5l3.1 1.1 2.9-0.8-3.1-1.2z" fill="#f00" stroke="#c00"/>
<path d="M147.7 98.9l3.2 1.2 2.7-0.9-3.2-1.1z" fill="#ff5100" stroke="#cc4000"/>
<path d="M96.6 95.1l3 1.2 3-0.8-3-1.2z" fill="#f00" stroke="#c00"/>
<path d="M90.5 94.7l3.1 1.2 3-0.8-3-1.2z" fill="#f00" stroke="#c00"/>
<path d="M84.5 94.4l3 1.1 3-0.8-3-1.1z" fill="#f00" stroke="#c00"/>
<path d="M190 103l3.3 1.2 2.6-0.9-3.4-1.1z" fill="#ffb100" stroke="#cc8d00"/>
<path d="M141.7 98.6l3.2 1.2 2.8-0.9-3.2-1.1z" fill="#ff4600" stroke="#cc3800"/>
<path d="M168.8 101l3.3 1.2 2.6-0.9-3.2-1.2z" fill="#ff8100" stroke="#cc6700"/>
<path d="M236 108.4l3.6 1.2 2.4-0.8-3.6-1.2z" fill="#d2ff2d" stroke="#a8cc24"/>
<path d="M205.3 104.8l3.4 1.2 2.5-0.9-3.4-1.2z" fill="#ffd500" stroke="#ca0"/>
<path d="M220.6 106.6l3.5 1.2 2.5-0.9-3.5-1.2z" fill="#fff900" stroke="#ccc700"/>
<path d="M135.7 98.3l3.2 1.2 2.8-0.9-3.2-1.2z" fill="#ff3a00" stroke="#cc2e00"/>
<path d="M162.8 100.7l3.3 1.2 2.7-0.9-3.3-1.2z" fill="#ff7600" stroke="#cc5e00"/>
<path d="M184 102.8l3.4 1.2 2.6-1-3.4-1.1z" fill="#ffa500" stroke="#cc8400"/>
<path d="M129.7 98l3.2 1.2 2.8-0.9-3.2-1.2z" fill="#ff2e00" stroke="#cc2400"/>
<path d="M123.7 97.7l3.2 1.2 2.8-0.9-3.1-1.2z" fill="#ff2100" stroke="#cc1a00"/>
<path d="M230.1 108.1l3.5 1.2 2.4-0.9-3.5-1.2z" fill="#e4ff1b" stroke="#b6cc15"/>
<path d="M199.3 104.5l3.4 1.2 2.6-0.9-3.5-1.2z" fill="#ffc900" stroke="#cca000"/>
<path d="M156.9 100.4l3.2 1.2 2.7-0.9-3.2-1.2z" fill="#ff6a00" stroke="#cc5400"/>
<path d="M214.7 106.3l3.4 1.2 2.5-0.9-3.5-1.2z" fill="#ffed00" stroke="#ccbd00"/>
<path d="M117.7 97.3l3.1 1.2 2.9-0.8-3.1-1.2z" fill="#ff1500" stroke="#cc1000"/>
<path d="M178.1 102.5l3.3 1.2 2.6-0.9-3.3-1.2z" fill="#ff9a00" stroke="#cc7b00"/>
<path d="M111.7 97l3.1 1.2 2.9-0.9-3.1-1.2z" fill="#ff0800" stroke="#cc0600"/>
<path d="M150.9 100.1l3.2 1.2 2.8-0.9-3.3-1.2z" fill="#ff5f00" stroke="#cc4c00"/>
<path d="M105.7 96.6l3 1.2 3-0.8-3.1-1.2z" fill="#f00" stroke="#c00"/>
<path d="M239.6 109.6l3.6 1.2 2.3-0.8-3.5-1.2z" fill="#bfff40" stroke="#98cc33"/>
<path d="M193.3 104.2l3.4 1.2 2.6-0.9-3.4-1.2z" fill="#ffbe00" stroke="#cc9800"/>
<path d="M99.6 96.3l3.1 1.2 3-0.9-3.1-1.1z" fill="#f00" stroke="#c00"/>
<path d="M172.1 102.2l3.3 1.2 2.7-0.9-3.4-1.2z" fill="#ff8f00" stroke="#cc7200"/>
<path d="M93.6 95.9l3 1.2 3-0.8-3-1.2z" fill="#f00" stroke="#c00"/>
<path d="M144.9 99.8l3.2 1.2 2.8-0.9-3.2-1.2z" fill="#ff5300" stroke="#cc4200"/>
<path d="M224.1 107.8l3.5 1.2 2.5-0.9-3.5-1.2z" fill="#f5ff0a" stroke="#c4cc08"/>
<path d="M87.5 95.5l3 1.2 3.1-0.8-3.1-1.2z" fill="#f00" stroke="#c00"/>
<path d="M208.7 106l3.5 1.2 2.5-0.9-3.5-1.2z" fill="#ffe200" stroke="#ccb400"/>
<path d="M81.4 95.2l3 1.2 3.1-0.9-3-1.1z" fill="#f00" stroke="#c00"/>
<path d="M138.9 99.5l3.2 1.2 2.8-0.9-3.2-1.2z" fill="#ff4700" stroke="#cc3800"/>
<path d="M166.1 101.9l3.3 1.2 2.7-0.9-3.3-1.2z" fill="#ff8300" stroke="#cc6800"/>
<path d="M187.4 104l3.4 1.2 2.5-1-3.3-1.2z" fill="#ffb200" stroke="#cc8e00"/>
<path d="M233.6 109.3l3.6 1.2 2.4-0.9-3.6-1.2z" fill="#d1ff2e" stroke="#a7cc24"/>
<path d="M132.9 99.2l3.2 1.2 2.8-0.9-3.2-1.2z" fill="#ff3b00" stroke="#cc2f00"/>
<path d="M202.7 105.7l3.5 1.2 2.5-0.9-3.4-1.2z" fill="#ffd600" stroke="#ccab00"/>
<path d="M218.1 107.5l3.5 1.2 2.5-0.9-3.5-1.2z" fill="#fffa00" stroke="#ccc800"/>
<path d="M160.1 101.6l3.3 1.2 2.7-0.9-3.3-1.2z" fill="#ff7800" stroke="#cc6000"/>
<path d="M126.9 98.9l3.1 1.2 2.9-0.9-3.2-1.2z" fill="#ff2f00" stroke="#cc2500"/>
<path d="M181.4 103.7l3.4 1.2 2.6-0.9-3.4-1.2z" fill="#ffa700" stroke="#cc8500"/>
<path d="M243.2 110.8l3.6 1.3 2.4-0.9-3.7-1.2z" fill="#adff52" stroke="#8acc41"/>
<path d="M120.8 98.5l3.2 1.2 2.9-0.8-3.2-1.2z" fill="#ff2300" stroke="#cc1c00"/>
<path d="M154.1 101.3l3.3 1.2 2.7-0.9-3.2-1.2z" fill="#ff6c00" stroke="#cc5600"/>
<path d="M114.8 98.2l3.1 1.2 2.9-0.9-3.1-1.2z" fill="#ff1600" stroke="#c10"/>
<path d="M196.7 105.4l3.5 1.3 2.5-1-3.4-1.2z" fill="#ffcb00" stroke="#cca200"/>
<path d="M227.6 109l3.6 1.2 2.4-0.9-3.5-1.2z" fill="#e3ff1c" stroke="#b5cc16"/>
<path d="M212.2 107.2l3.4 1.2 2.5-0.9-3.4-1.2z" fill="#ffef00" stroke="#ccbf00"/>
<path d="M108.7 97.8l3.1 1.3 3-0.9-3.1-1.2z" fill="#ff0a00" stroke="#cc0800"/>
<path d="M175.4 103.4l3.3 1.2 2.7-0.9-3.3-1.2z" fill="#ff9c00" stroke="#cc7c00"/>
<path d="M102.7 97.5l3.1 1.2 2.9-0.9-3-1.2z" fill="#f00" stroke="#c00"/>
<path d="M148.1 101l3.3 1.2 2.7-0.9-3.2-1.2z" fill="#ff6100" stroke="#cc4d00"/>
<path d="M96.6 97.1l3.1 1.2 3-0.8-3.1-1.2z" fill="#f00" stroke="#c00"/>
<path d="M90.5 96.7l3.1 1.3 3-0.9-3-1.2z" fill="#f00" stroke="#c00"/>
<path d="M84.4 96.4l3.1 1.2 3-0.9-3-1.2z" fill="#f00" stroke="#c00"/>
<path d="M78.3 96l3.1 1.2 3-0.8-3-1.2z" fill="#f00" stroke="#c00"/>
<path d="M190.8 105.2l3.4 1.2 2.5-1-3.4-1.2z" fill="#ffc000" stroke="#c90"/>
<path d="M237.2 110.5l3.6 1.3 2.4-1-3.6-1.2z" fill="#bfff40" stroke="#98cc33"/>
<path d="M142.1 100.7l3.2 1.2 2.8-0.9-3.2-1.2z" fill="#f50" stroke="#c40"/>
<path d="M169.4 103.1l3.3 1.2 2.7-0.9-3.3-1.2z" fill="#ff9100" stroke="#cc7400"/>
<path d="M206.2 106.9l3.4 1.2 2.6-0.9-3.5-1.2z" fill="#ffe300" stroke="#ccb500"/>
<path d="M221.6 108.7l3.6 1.2 2.4-0.9-3.5-1.2z" fill="#f3ff0c" stroke="#c2cc09"/>
<path d="M136.1 100.4l3.2 1.2 2.8-0.9-3.2-1.2z" fill="#ff4900" stroke="#cc3a00"/>
<path d="M246.8 112.1l3.6 1.2 2.4-0.9-3.6-1.2z" fill="#9aff65" stroke="#7bcc50"/>
<path d="M163.4 102.8l3.3 1.2 2.7-0.9-3.3-1.2z" fill="#ff8500" stroke="#cc6a00"/>
<path d="M184.8 104.9l3.3 1.2 2.7-0.9-3.4-1.2z" fill="#ffb500" stroke="#cc9000"/>
<path d="M130 100.1l3.2 1.2 2.9-0.9-3.2-1.2z" fill="#ff3d00" stroke="#cc3000"/>
<path d="M231.2 110.2l3.6 1.3 2.4-1-3.6-1.2z" fill="#d0ff2f" stroke="#a6cc25"/>
<path d="M200.2 106.7l3.4 1.2 2.6-1-3.5-1.2z" fill="#ffd800" stroke="#ccac00"/>
<path d="M124 99.7l3.1 1.3 2.9-0.9-3.1-1.2z" fill="#ff3100" stroke="#cc2700"/>
<path d="M157.4 102.5l3.3 1.2 2.7-0.9-3.3-1.2z" fill="#ff7a00" stroke="#cc6100"/>
<path d="M215.6 108.4l3.6 1.3 2.4-1-3.5-1.2z" fill="#fffc00" stroke="#ccc900"/>
<path d="M178.7 104.6l3.4 1.2 2.7-0.9-3.4-1.2z" fill="#ffa900" stroke="#cc8700"/>
<path d="M117.9 99.4l3.2 1.2 2.9-0.9-3.2-1.2z" fill="#ff2400" stroke="#cc1c00"/>
<path d="M111.8 99.1l3.2 1.2 2.9-0.9-3.1-1.2z" fill="#ff1800" stroke="#cc1300"/>
<path d="M151.4 102.2l3.2 1.2 2.8-0.9-3.3-1.2z" fill="#ff6e00" stroke="#cc5800"/>
<path d="M240.8 111.8l3.6 1.2 2.4-0.9-3.6-1.3z" fill="#acff53" stroke="#89cc42"/>
<path d="M105.8 98.7l3.1 1.2 2.9-0.8-3.1-1.3z" fill="#ff0b00" stroke="#cc0800"/>
<path d="M194.2 106.4l3.4 1.2 2.6-0.9-3.5-1.3z" fill="#ffcd00" stroke="#cca400"/>
<path d="M99.7 98.3l3.1 1.3 3-0.9-3.1-1.2z" fill="#f00" stroke="#c00"/>
<path d="M172.7 104.3l3.4 1.2 2.6-0.9-3.3-1.2z" fill="#ff9e00" stroke="#cc7e00"/>
<path d="M225.2 109.9l3.5 1.3 2.5-1-3.6-1.2z" fill="#e1ff1e" stroke="#b4cc18"/>
<path d="M209.6 108.1l3.5 1.3 2.5-1-3.4-1.2z" fill="#fff000" stroke="#ccc000"/>
<path d="M93.6 98l3.1 1.2 3-0.9-3.1-1.2z" fill="#f00" stroke="#c00"/>
<path d="M145.3 101.9l3.3 1.2 2.8-0.9-3.3-1.2z" fill="#ff6300" stroke="#cc4f00"/>
<path d="M87.5 97.6l3 1.2 3.1-0.8-3.1-1.3z" fill="#f00" stroke="#c00"/>
<path d="M75.2 96.8l3 1.2 3.2-0.8-3.1-1.2z" fill="#f00" stroke="#c00"/>
<path d="M81.4 97.2l3 1.2 3.1-0.8-3.1-1.2z" fill="#f00" stroke="#c00"/>
<path d="M250.4 113.3l3.7 1.3 2.3-1-3.6-1.2z" fill="#8f7" stroke="#6ccc5f"/>
<path d="M139.3 101.6l3.2 1.2 2.8-0.9-3.2-1.2z" fill="#ff5700" stroke="#cc4500"/>
<path d="M188.1 106.1l3.5 1.2 2.6-0.9-3.4-1.2z" fill="#ffc200" stroke="#cc9b00"/>
<path d="M166.7 104l3.3 1.3 2.7-1-3.3-1.2z" fill="#ff9300" stroke="#cc7500"/>
<path d="M234.8 111.5l3.6 1.2 2.4-0.9-3.6-1.3z" fill="#bdff42" stroke="#97cc34"/>
<path d="M133.2 101.3l3.2 1.2 2.9-0.9-3.2-1.2z" fill="#ff4b00" stroke="#cc3c00"/>
<path d="M203.6 107.9l3.5 1.2 2.5-1-3.4-1.2z" fill="#ffe500" stroke="#ccb700"/>
<path d="M219.2 109.7l3.5 1.2 2.5-1-3.6-1.2z" fill="#f1ff0e" stroke="#c0cc0b"/>
<path d="M160.7 103.7l3.3 1.3 2.7-1-3.3-1.2z" fill="#f80" stroke="#cc6c00"/>
<path d="M127.1 101l3.2 1.2 2.9-0.9-3.2-1.2z" fill="#ff3f00" stroke="#cc3200"/>
<path d="M182.1 105.8l3.4 1.3 2.6-1-3.3-1.2z" fill="#ffb700" stroke="#cc9200"/>
<path d="M244.4 113l3.6 1.2 2.4-0.9-3.6-1.2z" fill="#9f6" stroke="#7acc51"/>
<path d="M121.1 100.6l3.1 1.3 2.9-0.9-3.1-1.3z" fill="#ff3200" stroke="#cc2800"/>
<path d="M154.6 103.4l3.3 1.3 2.8-1-3.3-1.2z" fill="#ff7c00" stroke="#cc6300"/>
<path d="M197.6 107.6l3.4 1.2 2.6-0.9-3.4-1.2z" fill="#ffda00" stroke="#ccae00"/>
<path d="M228.7 111.2l3.6 1.2 2.5-0.9-3.6-1.3z" fill="#ceff31" stroke="#a4cc27"/>
<path d="M115 100.3l3.1 1.2 3-0.9-3.2-1.2z" fill="#ff2600" stroke="#cc1e00"/>
<path d="M213.1 109.4l3.5 1.2 2.6-0.9-3.6-1.3z" fill="#fffe00" stroke="#cccb00"/>
<path d="M254.1 114.6l3.7 1.2 2.3-0.9-3.7-1.3z" fill="#75ff8a" stroke="#5dcc6e"/>
<path d="M176.1 105.5l3.3 1.3 2.7-1-3.4-1.2z" fill="#ffac00" stroke="#cc8900"/>
<path d="M108.9 99.9l3.1 1.3 3-0.9-3.2-1.2z" fill="#ff1900" stroke="#cc1400"/>
<path d="M148.6 103.1l3.2 1.3 2.8-1-3.2-1.2z" fill="#ff7100" stroke="#cc5a00"/>
<path d="M102.8 99.6l3.1 1.2 3-0.9-3.1-1.2z" fill="#ff0c00" stroke="#cc0900"/>
<path d="M96.7 99.2l3 1.2 3.1-0.8-3.1-1.3z" fill="#f00" stroke="#c00"/>
<path d="M90.5 98.8l3.1 1.3 3.1-0.9-3.1-1.2z" fill="#f00" stroke="#c00"/>
<path d="M238.4 112.7l3.6 1.2 2.4-0.9-3.6-1.2z" fill="#abff54" stroke="#88cc43"/>
<path d="M72.1 97.6l3 1.3 3.1-0.9-3-1.2z" fill="#f00" stroke="#c00"/>
<path d="M84.4 98.4l3 1.3 3.1-0.9-3-1.2z" fill="#f00" stroke="#c00"/>
<path d="M191.6 107.3l3.4 1.3 2.6-1-3.4-1.2z" fill="#ffcf00" stroke="#cca500"/>
<path d="M78.2 98l3.1 1.3 3.1-0.9-3-1.2z" fill="#f00" stroke="#c00"/>
<path d="M170 105.3l3.4 1.2 2.7-1-3.4-1.2z" fill="#ffa100" stroke="#cc8000"/>
<path d="M142.5 102.8l3.2 1.3 2.9-1-3.3-1.2z" fill="#ff6500" stroke="#cc5000"/>
<path d="M222.7 110.9l3.6 1.2 2.4-0.9-3.5-1.3z" fill="#deff21" stroke="#b1cc1a"/>
<path d="M207.1 109.1l3.5 1.2 2.5-0.9-3.5-1.3z" fill="#fff300" stroke="#ccc200"/>
<path d="M136.4 102.5l3.2 1.3 2.9-1-3.2-1.2z" fill="#ff5900" stroke="#cc4700"/>
<path d="M248 114.2l3.7 1.3 2.4-0.9-3.7-1.3z" fill="#87ff78" stroke="#6ccc60"/>
<path d="M164 105l3.3 1.2 2.7-0.9-3.3-1.3z" fill="#ff9500" stroke="#c70"/>
<path d="M185.5 107.1l3.4 1.2 2.7-1-3.5-1.2z" fill="#ffc400" stroke="#cc9c00"/>
<path d="M130.3 102.2l3.2 1.2 2.9-0.9-3.2-1.2z" fill="#ff4d00" stroke="#cc3d00"/>
<path d="M232.3 112.4l3.6 1.3 2.5-1-3.6-1.2z" fill="#bf4" stroke="#95cc36"/>
<path d="M257.8 115.8l3.7 1.3 2.3-1-3.7-1.2z" fill="#62ff9d" stroke="#4ecc7d"/>
<path d="M201 108.8l3.5 1.3 2.6-1-3.5-1.2z" fill="#ffe800" stroke="#ccb900"/>
<path d="M124.2 101.9l3.2 1.2 2.9-0.9-3.2-1.2z" fill="#ff4100" stroke="#cc3400"/>
<path d="M216.6 110.6l3.6 1.3 2.5-1-3.5-1.2z" fill="#ef1" stroke="#becc0d"/>
<path d="M157.9 104.7l3.3 1.2 2.8-0.9-3.3-1.3z" fill="#ff8a00" stroke="#cc6e00"/>
<path d="M179.4 106.8l3.4 1.2 2.7-0.9-3.4-1.3z" fill="#ffb900" stroke="#cc9400"/>
<path d="M118.1 101.5l3.2 1.3 2.9-0.9-3.1-1.3z" fill="#ff3400" stroke="#cc2900"/>
<path d="M242 113.9l3.6 1.3 2.4-1-3.6-1.2z" fill="#98ff67" stroke="#79cc52"/>
<path d="M112 101.2l3.2 1.2 2.9-0.9-3.1-1.2z" fill="#ff2700" stroke="#cc1f00"/>
<path d="M151.8 104.4l3.3 1.2 2.8-0.9-3.3-1.3z" fill="#ff7f00" stroke="#cc6500"/>
<path d="M195 108.6l3.4 1.2 2.6-1-3.4-1.2z" fill="#fd0" stroke="#ccb000"/>
<path d="M105.9 100.8l3.1 1.3 3-0.9-3.1-1.3z" fill="#ff1a00" stroke="#cc1400"/>
<path d="M226.3 112.1l3.5 1.3 2.5-1-3.6-1.2z" fill="#cbff34" stroke="#a2cc29"/>
<path d="M173.4 106.5l3.4 1.3 2.6-1-3.3-1.3z" fill="#ffae00" stroke="#cc8b00"/>
<path d="M99.7 100.4l3.2 1.3 3-0.9-3.1-1.2z" fill="#ff0d00" stroke="#cc0a00"/>
<path d="M210.6 110.3l3.5 1.3 2.5-1-3.5-1.2z" fill="#feff01" stroke="#cbcc00"/>
<path d="M145.7 104.1l3.3 1.2 2.8-0.9-3.2-1.3z" fill="#ff7300" stroke="#cc5c00"/>
<path d="M93.6 100.1l3.1 1.2 3-0.9-3-1.2z" fill="#f00" stroke="#c00"/>
<path d="M251.7 115.5l3.7 1.3 2.4-1-3.7-1.2z" fill="#74ff8b" stroke="#5ccc6f"/>
<path d="M87.4 99.7l3.1 1.2 3.1-0.8-3.1-1.3z" fill="#f00" stroke="#c00"/>
<path d="M68.9 98.5l3 1.2 3.2-0.8-3-1.3z" fill="#f00" stroke="#c00"/>
<path d="M81.3 99.3l3 1.2 3.1-0.8-3-1.3z" fill="#f00" stroke="#c00"/>
<path d="M75.1 98.9l3 1.2 3.2-0.8-3.1-1.3z" fill="#f00" stroke="#c00"/>
<path d="M139.6 103.8l3.3 1.2 2.8-0.9-3.2-1.3z" fill="#ff6700" stroke="#cc5200"/>
<path d="M188.9 108.3l3.5 1.3 2.6-1-3.4-1.3z" fill="#ffd200" stroke="#cca800"/>
<path d="M167.3 106.2l3.4 1.3 2.7-1-3.4-1.2z" fill="#ffa300" stroke="#cc8200"/>
<path d="M261.5 117.1l3.7 1.3 2.4-1-3.8-1.3z" fill="#4fffb0" stroke="#3fcc8c"/>
<path d="M235.9 113.7l3.7 1.2 2.4-1-3.6-1.2z" fill="#a8ff57" stroke="#86cc45"/>
<path d="M204.5 110.1l3.5 1.2 2.6-1-3.5-1.2z" fill="#fff500" stroke="#ccc400"/>
<path d="M133.5 103.4l3.3 1.3 2.8-0.9-3.2-1.3z" fill="#ff5b00" stroke="#cc4800"/>
<path d="M220.2 111.9l3.6 1.2 2.5-1-3.6-1.2z" fill="#dbff24" stroke="#afcc1c"/>
<path d="M161.2 105.9l3.4 1.3 2.7-1-3.3-1.2z" fill="#ff9800" stroke="#cc7900"/>
<path d="M127.4 103.1l3.2 1.3 2.9-1-3.2-1.2z" fill="#ff4f00" stroke="#cc3f00"/>
<path d="M182.8 108l3.5 1.3 2.6-1-3.4-1.2z" fill="#ffc700" stroke="#cc9f00"/>
<path d="M245.6 115.2l3.7 1.3 2.4-1-3.7-1.3z" fill="#85ff7a" stroke="#6acc61"/>
<path d="M121.3 102.8l3.2 1.3 2.9-1-3.2-1.2z" fill="#ff4300" stroke="#cc3500"/>
<path d="M155.1 105.6l3.3 1.3 2.8-1-3.3-1.2z" fill="#ff8d00" stroke="#cc7000"/>
<path d="M198.4 109.8l3.5 1.3 2.6-1-3.5-1.3z" fill="#ffea00" stroke="#cb0"/>
<path d="M229.8 113.4l3.7 1.3 2.4-1-3.6-1.3z" fill="#b8ff47" stroke="#93cc38"/>
<path d="M255.4 116.8l3.7 1.2 2.4-0.9-3.7-1.3z" fill="#61ff9e" stroke="#4dcc7e"/>
<path d="M115.2 102.4l3.1 1.3 3-0.9-3.2-1.3z" fill="#ff3600" stroke="#cc2b00"/>
<path d="M214.1 111.6l3.6 1.3 2.5-1-3.6-1.3z" fill="#eaff15" stroke="#bbcc10"/>
<path d="M176.8 107.8l3.4 1.2 2.6-1-3.4-1.2z" fill="#ffbc00" stroke="#cc9600"/>
<path d="M109 102.1l3.2 1.3 3-1-3.2-1.2z" fill="#ff2900" stroke="#cc2000"/>
<path d="M149 105.3l3.3 1.3 2.8-1-3.3-1.2z" fill="#ff8100" stroke="#cc6700"/>
<path d="M102.9 101.7l3.1 1.3 3-0.9-3.1-1.3z" fill="#ff1c00" stroke="#cc1600"/>
<path d="M96.7 101.3l3.1 1.3 3.1-0.9-3.2-1.3z" fill="#ff0f00" stroke="#cc0c00"/>
<path d="M239.6 114.9l3.6 1.3 2.4-1-3.6-1.3z" fill="#95ff6a" stroke="#77cc54"/>
<path d="M192.4 109.6l3.4 1.2 2.6-1-3.4-1.2z" fill="#ffe000" stroke="#ccb300"/>
<path d="M90.5 100.9l3.1 1.3 3.1-0.9-3.1-1.2z" fill="#ff0100" stroke="#c00"/>
<path d="M65.7 99.3l3 1.3 3.2-0.9-3-1.2z" fill="#f00" stroke="#c00"/>
<path d="M84.3 100.5l3.1 1.3 3.1-0.9-3.1-1.2z" fill="#f00" stroke="#c00"/>
<path d="M71.9 99.7l3.1 1.3 3.1-0.9-3-1.2z" fill="#f00" stroke="#c00"/>
<path d="M78.1 100.1l3.1 1.3 3.1-0.9-3-1.2z" fill="#f00" stroke="#c00"/>
<path d="M170.7 107.5l3.3 1.2 2.8-0.9-3.4-1.3z" fill="#ffb100" stroke="#cc8d00"/>
<path d="M142.9 105l3.3 1.3 2.8-1-3.3-1.2z" fill="#ff7500" stroke="#cc5d00"/>
<path d="M223.8 113.1l3.6 1.3 2.4-1-3.5-1.3z" fill="#c8ff37" stroke="#a0cc2c"/>
<path d="M208 111.3l3.6 1.3 2.5-1-3.5-1.3z" fill="#faff05" stroke="#c8cc04"/>
<path d="M249.3 116.5l3.7 1.3 2.4-1-3.7-1.3z" fill="#72ff8d" stroke="#5bcc70"/>
<path d="M136.8 104.7l3.2 1.3 2.9-1-3.3-1.2z" fill="#ff6a00" stroke="#cc5400"/>
<path d="M164.6 107.2l3.3 1.3 2.8-1-3.4-1.3z" fill="#ffa600" stroke="#cc8400"/>
<path d="M186.3 109.3l3.4 1.3 2.7-1-3.5-1.3z" fill="#ffd500" stroke="#ca0"/>
<path d="M130.6 104.4l3.3 1.3 2.9-1-3.3-1.3z" fill="#ff5e00" stroke="#cc4b00"/>
<path d="M259.1 118l3.8 1.3 2.3-0.9-3.7-1.3z" fill="#4effb1" stroke="#3ecc8d"/>
<path d="M233.5 114.7l3.6 1.2 2.5-1-3.7-1.2z" fill="#a5ff5a" stroke="#84cc48"/>
<path d="M201.9 111.1l3.5 1.3 2.6-1.1-3.5-1.2z" fill="#fff800" stroke="#ccc600"/>
<path d="M217.7 112.9l3.5 1.2 2.6-1-3.6-1.2z" fill="#d7ff28" stroke="#accc20"/>
<path d="M124.5 104.1l3.2 1.2 2.9-0.9-3.2-1.3z" fill="#ff5100" stroke="#cc4000"/>
<path d="M158.4 106.9l3.4 1.3 2.8-1-3.4-1.3z" fill="#ff9b00" stroke="#cc7c00"/>
<path d="M180.2 109l3.4 1.3 2.7-1-3.5-1.3z" fill="#ffca00" stroke="#cca100"/>
<path d="M118.3 103.7l3.2 1.3 3-0.9-3.2-1.3z" fill="#ff4500" stroke="#cc3700"/>
<path d="M243.2 116.2l3.7 1.3 2.4-1-3.7-1.3z" fill="#82ff7d" stroke="#68cc64"/>
<path d="M152.3 106.6l3.3 1.3 2.8-1-3.3-1.3z" fill="#ff8f00" stroke="#cc7200"/>
<path d="M112.2 103.4l3.2 1.3 2.9-1-3.1-1.3z" fill="#ff3800" stroke="#cc2c00"/>
<path d="M195.8 110.8l3.5 1.3 2.6-1-3.5-1.3z" fill="#ffed00" stroke="#ccbd00"/>
<path d="M106 103l3.2 1.3 3-0.9-3.2-1.3z" fill="#ff2b00" stroke="#c20"/>
<path d="M227.4 114.4l3.6 1.3 2.5-1-3.7-1.3z" fill="#b5ff4a" stroke="#90cc3b"/>
<path d="M211.6 112.6l3.5 1.3 2.6-1-3.6-1.3z" fill="#e6ff19" stroke="#b8cc14"/>
<path d="M174 108.7l3.5 1.3 2.7-1-3.4-1.2z" fill="#ffbf00" stroke="#cc9800"/>
<path d="M99.8 102.6l3.2 1.3 3-0.9-3.1-1.3z" fill="#ff1e00" stroke="#cc1800"/>
<path d="M253 117.8l3.8 1.2 2.3-1-3.7-1.2z" fill="#5fffa0" stroke="#4ccc80"/>
<path d="M146.2 106.3l3.3 1.3 2.8-1-3.3-1.3z" fill="#ff8400" stroke="#cc6900"/>
<path d="M93.6 102.2l3.1 1.3 3.1-0.9-3.1-1.3z" fill="#ff1000" stroke="#cc0c00"/>
<path d="M62.5 100.1l3 1.3 3.2-0.8-3-1.3z" fill="#f00" stroke="#c00"/>
<path d="M87.4 101.8l3.1 1.3 3.1-0.9-3.1-1.3z" fill="#ff0200" stroke="#cc0100"/>
<path d="M68.7 100.6l3.1 1.3 3.2-0.9-3.1-1.3z" fill="#f00" stroke="#c00"/>
<path d="M81.2 101.4l3.1 1.3 3.1-0.9-3.1-1.3z" fill="#f00" stroke="#c00"/>
<path d="M75 101l3 1.3 3.2-0.9-3.1-1.3z" fill="#f00" stroke="#c00"/>
<path d="M189.7 110.6l3.5 1.3 2.6-1.1-3.4-1.2z" fill="#ffe300" stroke="#ccb500"/>
<path d="M140 106l3.3 1.3 2.9-1-3.3-1.3z" fill="#ff7800" stroke="#cc6000"/>
<path d="M167.9 108.5l3.4 1.3 2.7-1.1-3.3-1.2z" fill="#ffb400" stroke="#cc9000"/>
<path d="M237.1 115.9l3.7 1.3 2.4-1-3.6-1.3z" fill="#92ff6d" stroke="#74cc57"/>
<path d="M205.4 112.4l3.6 1.2 2.6-1-3.6-1.3z" fill="#f5ff0a" stroke="#c4cc08"/>
<path d="M221.2 114.1l3.6 1.3 2.6-1-3.6-1.3z" fill="#c4ff3b" stroke="#9ccc2f"/>
<path d="M133.9 105.7l3.3 1.3 2.8-1-3.2-1.3z" fill="#ff6c00" stroke="#cc5600"/>
<path d="M161.8 108.2l3.4 1.3 2.7-1-3.3-1.3z" fill="#ffa900" stroke="#cc8700"/>
<path d="M246.9 117.5l3.7 1.3 2.4-1-3.7-1.3z" fill="#6fff90" stroke="#58cc73"/>
<path d="M183.6 110.3l3.4 1.3 2.7-1-3.4-1.3z" fill="#ffd800" stroke="#ccac00"/>
<path d="M127.7 105.3l3.3 1.3 2.9-0.9-3.3-1.3z" fill="#ff6000" stroke="#cc4c00"/>
<path d="M121.5 105l3.3 1.3 2.9-1-3.2-1.2z" fill="#ff5400" stroke="#cc4300"/>
<path d="M231 115.7l3.6 1.3 2.5-1.1-3.6-1.2z" fill="#a1ff5e" stroke="#80cc4b"/>
<path d="M199.3 112.1l3.5 1.3 2.6-1-3.5-1.3z" fill="#fffb00" stroke="#ccc800"/>
<path d="M155.6 107.9l3.4 1.3 2.8-1-3.4-1.3z" fill="#ff9e00" stroke="#cc7e00"/>
<path d="M256.8 119l3.7 1.3 2.4-1-3.8-1.3z" fill="#4cffb3" stroke="#3ccc8f"/>
<path d="M215.1 113.9l3.6 1.3 2.5-1.1-3.5-1.2z" fill="#d3ff2c" stroke="#a8cc23"/>
<path d="M115.4 104.7l3.2 1.3 2.9-1-3.2-1.3z" fill="#ff4700" stroke="#cc3800"/>
<path d="M177.5 110l3.4 1.3 2.7-1-3.4-1.3z" fill="#ffcd00" stroke="#cca400"/>
<path d="M109.2 104.3l3.2 1.3 3-0.9-3.2-1.3z" fill="#ff3a00" stroke="#cc2e00"/>
<path d="M149.5 107.6l3.3 1.3 2.8-1-3.3-1.3z" fill="#ff9200" stroke="#cc7400"/>
<path d="M103 103.9l3.1 1.3 3.1-0.9-3.2-1.3z" fill="#ff2d00" stroke="#cc2400"/>
<path d="M240.8 117.2l3.7 1.3 2.4-1-3.7-1.3z" fill="#7fff80" stroke="#65cc66"/>
<path d="M96.7 103.5l3.2 1.4 3.1-1-3.2-1.3z" fill="#ff1f00" stroke="#cc1800"/>
<path d="M59.2 101l3 1.3 3.3-0.9-3-1.3z" fill="#f00" stroke="#c00"/>
<path d="M193.2 111.9l3.5 1.3 2.6-1.1-3.5-1.3z" fill="#fff100" stroke="#ccc000"/>
<path d="M90.5 103.1l3.1 1.4 3.1-1-3.1-1.3z" fill="#f10" stroke="#cc0d00"/>
<path d="M65.5 101.4l3 1.4 3.3-0.9-3.1-1.3z" fill="#f00" stroke="#c00"/>
<path d="M171.3 109.8l3.4 1.3 2.8-1.1-3.5-1.3z" fill="#ffc300" stroke="#cc9c00"/>
<path d="M84.3 102.7l3.1 1.4 3.1-1-3.1-1.3z" fill="#ff0300" stroke="#cc0200"/>
<path d="M71.8 101.9l3 1.3 3.2-0.9-3-1.3z" fill="#f00" stroke="#c00"/>
<path d="M78 102.3l3.1 1.3 3.2-0.9-3.1-1.3z" fill="#f00" stroke="#c00"/>
<path d="M224.8 115.4l3.7 1.3 2.5-1-3.6-1.3z" fill="#b0ff4f" stroke="#8ccc3f"/>
<path d="M143.3 107.3l3.3 1.3 2.9-1-3.3-1.3z" fill="#ff8700" stroke="#cc6c00"/>
<path d="M209 113.6l3.5 1.3 2.6-1-3.5-1.3z" fill="#e2ff1d" stroke="#b4cc17"/>
<path d="M250.6 118.8l3.8 1.3 2.4-1.1-3.8-1.2z" fill="#5cffa3" stroke="#49cc82"/>
<path d="M137.2 107l3.2 1.3 2.9-1-3.3-1.3z" fill="#ff7b00" stroke="#cc6200"/>
<path d="M165.2 109.5l3.3 1.3 2.8-1-3.4-1.3z" fill="#ffb800" stroke="#cc9300"/>
<path d="M187 111.6l3.5 1.3 2.7-1-3.5-1.3z" fill="#ffe600" stroke="#ccb800"/>
<path d="M234.6 117l3.7 1.3 2.5-1.1-3.7-1.3z" fill="#8eff71" stroke="#71cc5a"/>
<path d="M131 106.6l3.2 1.4 3-1-3.3-1.3z" fill="#ff6f00" stroke="#cc5800"/>
<path d="M202.8 113.4l3.6 1.3 2.6-1.1-3.6-1.2z" fill="#f0ff0f" stroke="#c0cc0c"/>
<path d="M218.7 115.2l3.6 1.3 2.5-1.1-3.6-1.3z" fill="#bfff40" stroke="#98cc33"/>
<path d="M159 109.2l3.4 1.3 2.8-1-3.4-1.3z" fill="#ffad00" stroke="#cc8a00"/>
<path d="M124.8 106.3l3.2 1.3 3-1-3.3-1.3z" fill="#ff6300" stroke="#cc4f00"/>
<path d="M180.9 111.3l3.4 1.3 2.7-1-3.4-1.3z" fill="#ffdc00" stroke="#ccb000"/>
<path d="M244.5 118.5l3.7 1.3 2.4-1-3.7-1.3z" fill="#6cff93" stroke="#56cc75"/>
<path d="M118.6 106l3.2 1.3 3-1-3.3-1.3z" fill="#ff5600" stroke="#c40"/>
<path d="M152.8 108.9l3.4 1.3 2.8-1-3.4-1.3z" fill="#ffa100" stroke="#cc8000"/>
<path d="M112.4 105.6l3.2 1.3 3-0.9-3.2-1.3z" fill="#ff4900" stroke="#cc3a00"/>
<path d="M196.7 113.2l3.5 1.3 2.6-1.1-3.5-1.3z" fill="#ff0" stroke="#cc0"/>
<path d="M228.5 116.7l3.6 1.3 2.5-1-3.6-1.3z" fill="#9dff62" stroke="#7dcc4e"/>
<path d="M106.1 105.2l3.2 1.4 3.1-1-3.2-1.3z" fill="#ff3c00" stroke="#cc3000"/>
<path d="M212.5 114.9l3.6 1.4 2.6-1.1-3.6-1.3z" fill="#ceff31" stroke="#a4cc27"/>
<path d="M254.4 120.1l3.7 1.3 2.4-1.1-3.7-1.3z" fill="#49ffb6" stroke="#3acc91"/>
<path d="M174.7 111.1l3.5 1.3 2.7-1.1-3.4-1.3z" fill="#ffd100" stroke="#cca700"/>
<path d="M99.9 104.9l3.2 1.3 3-1-3.1-1.3z" fill="#ff2f00" stroke="#cc2500"/>
<path d="M55.9 101.9l3 1.3 3.3-0.9-3-1.3z" fill="#f00" stroke="#c00"/>
<path d="M146.6 108.6l3.4 1.3 2.8-1-3.3-1.3z" fill="#ff9600" stroke="#cc7800"/>
<path d="M93.6 104.5l3.2 1.3 3.1-0.9-3.2-1.4z" fill="#ff2100" stroke="#cc1a00"/>
<path d="M62.2 102.3l3.1 1.4 3.2-0.9-3-1.4z" fill="#f00" stroke="#c00"/>
<path d="M87.4 104.1l3.1 1.3 3.1-0.9-3.1-1.4z" fill="#ff1300" stroke="#cc0f00"/>
<path d="M68.5 102.8l3.1 1.3 3.2-0.9-3-1.3z" fill="#f00" stroke="#c00"/>
<path d="M81.1 103.6l3.1 1.4 3.2-0.9-3.1-1.4z" fill="#ff0500" stroke="#cc0400"/>
<path d="M74.8 103.2l3.1 1.4 3.2-1-3.1-1.3z" fill="#f00" stroke="#c00"/>
<path d="M190.5 112.9l3.5 1.3 2.7-1-3.5-1.3z" fill="#fff500" stroke="#ccc400"/>
<path d="M238.3 118.3l3.7 1.3 2.5-1.1-3.7-1.3z" fill="#7bff84" stroke="#62cc69"/>
<path d="M140.4 108.3l3.4 1.3 2.8-1-3.3-1.3z" fill="#ff8a00" stroke="#cc6e00"/>
<path d="M168.5 110.8l3.5 1.3 2.7-1-3.4-1.3z" fill="#ffc600" stroke="#cc9e00"/>
<path d="M206.4 114.7l3.5 1.3 2.6-1.1-3.5-1.3z" fill="#dcff23" stroke="#b0cc1c"/>
<path d="M222.3 116.5l3.6 1.3 2.6-1.1-3.7-1.3z" fill="#abff54" stroke="#88cc43"/>
<path d="M134.2 108l3.3 1.3 2.9-1-3.2-1.3z" fill="#ff7e00" stroke="#cc6400"/>
<path d="M248.2 119.8l3.7 1.4 2.5-1.1-3.8-1.3z" fill="#59ffa6" stroke="#47cc84"/>
<path d="M162.4 110.5l3.4 1.3 2.7-1-3.3-1.3z" fill="#fb0" stroke="#cc9500"/>
<path d="M184.3 112.6l3.5 1.4 2.7-1.1-3.5-1.3z" fill="#ffea00" stroke="#cb0"/>
<path d="M128 107.6l3.3 1.4 2.9-1-3.2-1.4z" fill="#ff7200" stroke="#cc5b00"/>
<path d="M232.1 118l3.7 1.4 2.5-1.1-3.7-1.3z" fill="#89ff76" stroke="#6dcc5e"/>
<path d="M121.8 107.3l3.2 1.3 3-1-3.2-1.3z" fill="#ff6500" stroke="#cc5000"/>
<path d="M200.2 114.5l3.6 1.3 2.6-1.1-3.6-1.3z" fill="#ebff14" stroke="#bccc10"/>
<path d="M156.2 110.2l3.3 1.4 2.9-1.1-3.4-1.3z" fill="#ffb000" stroke="#cc8c00"/>
<path d="M216.1 116.3l3.6 1.3 2.6-1.1-3.6-1.3z" fill="#baff45" stroke="#94cc37"/>
<path d="M115.6 106.9l3.2 1.4 3-1-3.2-1.3z" fill="#ff5900" stroke="#cc4700"/>
<path d="M178.2 112.4l3.4 1.3 2.7-1.1-3.4-1.3z" fill="#ffe000" stroke="#ccb300"/>
<path d="M109.3 106.6l3.2 1.3 3.1-1-3.2-1.3z" fill="#ff4c00" stroke="#cc3c00"/>
<path d="M150 109.9l3.3 1.4 2.9-1.1-3.4-1.3z" fill="#ffa500" stroke="#cc8400"/>
<path d="M242 119.6l3.7 1.3 2.5-1.1-3.7-1.3z" fill="#67ff98" stroke="#52cc79"/>
<path d="M103.1 106.2l3.1 1.4 3.1-1-3.2-1.4z" fill="#ff3e00" stroke="#cc3100"/>
<path d="M52.6 102.7l3 1.4 3.3-0.9-3-1.3z" fill="#f00" stroke="#c00"/>
<path d="M194 114.2l3.6 1.4 2.6-1.1-3.5-1.3z" fill="#f9ff06" stroke="#c7cc04"/>
<path d="M96.8 105.8l3.2 1.4 3.1-1-3.2-1.3z" fill="#ff3100" stroke="#cc2700"/>
<path d="M58.9 103.2l3.1 1.4 3.3-0.9-3.1-1.4z" fill="#f00" stroke="#c00"/>
<path d="M172 112.1l3.4 1.4 2.8-1.1-3.5-1.3z" fill="#ffd500" stroke="#ca0"/>
<path d="M90.5 105.4l3.2 1.4 3.1-1-3.2-1.3z" fill="#ff2300" stroke="#cc1c00"/>
<path d="M225.9 117.8l3.7 1.3 2.5-1.1-3.6-1.3z" fill="#98ff67" stroke="#79cc52"/>
<path d="M65.3 103.7l3.1 1.3 3.2-0.9-3.1-1.3z" fill="#f00" stroke="#c00"/>
<path d="M209.9 116l3.6 1.4 2.6-1.1-3.6-1.4z" fill="#c8ff37" stroke="#a0cc2c"/>
<path d="M84.2 105l3.2 1.4 3.1-1-3.1-1.3z" fill="#ff1400" stroke="#cc1000"/>
<path d="M71.6 104.1l3.1 1.4 3.2-0.9-3.1-1.4z" fill="#f00" stroke="#c00"/>
<path d="M143.8 109.6l3.3 1.4 2.9-1.1-3.4-1.3z" fill="#f90" stroke="#cc7a00"/>
<path d="M77.9 104.6l3.1 1.3 3.2-0.9-3.1-1.4z" fill="#ff0600" stroke="#cc0400"/>
<path d="M251.9 121.2l3.8 1.3 2.4-1.1-3.7-1.3z" fill="#45ffba" stroke="#37cc94"/>
<path d="M137.5 109.3l3.3 1.4 3-1.1-3.4-1.3z" fill="#ff8d00" stroke="#cc7000"/>
<path d="M187.8 114l3.5 1.3 2.7-1.1-3.5-1.3z" fill="#fff900" stroke="#ccc700"/>
<path d="M165.8 111.8l3.4 1.4 2.8-1.1-3.5-1.3z" fill="#ffca00" stroke="#cca100"/>
<path d="M235.8 119.4l3.7 1.3 2.5-1.1-3.7-1.3z" fill="#76ff89" stroke="#5ecc6d"/>
<path d="M131.3 109l3.3 1.3 2.9-1-3.3-1.3z" fill="#ff8100" stroke="#cc6700"/>
<path d="M203.8 115.8l3.5 1.3 2.6-1.1-3.5-1.3z" fill="#d6ff29" stroke="#abcc20"/>
<path d="M219.7 117.6l3.7 1.3 2.5-1.1-3.6-1.3z" fill="#a6ff59" stroke="#84cc47"/>
<path d="M159.5 111.6l3.4 1.3 2.9-1.1-3.4-1.3z" fill="#ffbf00" stroke="#cc9800"/>
<path d="M125 108.6l3.3 1.4 3-1-3.3-1.4z" fill="#ff7500" stroke="#cc5d00"/>
<path d="M181.6 113.7l3.5 1.4 2.7-1.1-3.5-1.4z" fill="#fe0" stroke="#ccbe00"/>
<path d="M245.7 120.9l3.8 1.4 2.4-1.1-3.7-1.4z" fill="#54ffab" stroke="#43cc88"/>
<path d="M118.8 108.3l3.2 1.4 3-1.1-3.2-1.3z" fill="#ff6800" stroke="#cc5300"/>
<path d="M153.3 111.3l3.4 1.3 2.8-1-3.3-1.4z" fill="#ffb400" stroke="#cc9000"/>
<path d="M197.6 115.6l3.5 1.3 2.7-1.1-3.6-1.3z" fill="#e5ff1a" stroke="#b7cc14"/>
<path d="M112.5 107.9l3.3 1.4 3-1-3.2-1.4z" fill="#ff5b00" stroke="#cc4800"/>
<path d="M229.6 119.1l3.7 1.4 2.5-1.1-3.7-1.4z" fill="#84ff7b" stroke="#69cc62"/>
<path d="M213.5 117.4l3.7 1.3 2.5-1.1-3.6-1.3z" fill="#b4ff4b" stroke="#90cc3c"/>
<path d="M106.2 107.6l3.3 1.3 3-1-3.2-1.3z" fill="#ff4e00" stroke="#cc3e00"/>
<path d="M175.4 113.5l3.5 1.3 2.7-1.1-3.4-1.3z" fill="#ffe400" stroke="#ccb600"/>
<path d="M49.2 103.6l3.1 1.4 3.3-0.9-3-1.4z" fill="#f00" stroke="#c00"/>
<path d="M100 107.2l3.2 1.4 3-1-3.1-1.4z" fill="#ff4100" stroke="#cc3400"/>
<path d="M147.1 111l3.4 1.3 2.8-1-3.3-1.4z" fill="#ffa800" stroke="#cc8600"/>
<path d="M55.6 104.1l3.1 1.4 3.3-0.9-3.1-1.4z" fill="#f00" stroke="#c00"/>
<path d="M93.7 106.8l3.1 1.4 3.2-1-3.2-1.4z" fill="#f30" stroke="#cc2800"/>
<path d="M62 104.6l3.1 1.4 3.3-1-3.1-1.3z" fill="#f00" stroke="#c00"/>
<path d="M87.4 106.4l3.1 1.3 3.2-0.9-3.2-1.4z" fill="#ff2500" stroke="#cc1d00"/>
<path d="M68.4 105l3 1.4 3.3-0.9-3.1-1.4z" fill="#f00" stroke="#c00"/>
<path d="M81 105.9l3.2 1.4 3.2-0.9-3.2-1.4z" fill="#ff1600" stroke="#c10"/>
<path d="M74.7 105.5l3.1 1.4 3.2-1-3.1-1.3z" fill="#ff0700" stroke="#cc0500"/>
<path d="M239.5 120.7l3.8 1.3 2.4-1.1-3.7-1.3z" fill="#62ff9d" stroke="#4ecc7d"/>
<path d="M191.3 115.3l3.6 1.4 2.7-1.1-3.6-1.4z" fill="#f3ff0c" stroke="#c2cc09"/>
<path d="M169.2 113.2l3.4 1.3 2.8-1-3.4-1.4z" fill="#ffd900" stroke="#ccad00"/>
<path d="M140.8 110.7l3.4 1.3 2.9-1-3.3-1.4z" fill="#ff9d00" stroke="#cc7d00"/>
<path d="M223.4 118.9l3.7 1.4 2.5-1.2-3.7-1.3z" fill="#92ff6d" stroke="#74cc57"/>
<path d="M207.3 117.1l3.6 1.4 2.6-1.1-3.6-1.4z" fill="#c2ff3d" stroke="#9bcc30"/>
<path d="M134.6 110.3l3.3 1.4 2.9-1-3.3-1.4z" fill="#ff9100" stroke="#cc7400"/>
<path d="M249.5 122.3l3.8 1.3 2.4-1.1-3.8-1.3z" fill="#40ffbf" stroke="#33cc98"/>
<path d="M162.9 112.9l3.5 1.4 2.8-1.1-3.4-1.4z" fill="#ffce00" stroke="#cca400"/>
<path d="M185.1 115.1l3.5 1.3 2.7-1.1-3.5-1.3z" fill="#fffd00" stroke="#ccca00"/>
<path d="M128.3 110l3.3 1.4 3-1.1-3.3-1.3z" fill="#ff8400" stroke="#cc6900"/>
<path d="M233.3 120.5l3.7 1.3 2.5-1.1-3.7-1.3z" fill="#70ff8f" stroke="#59cc72"/>
<path d="M201.1 116.9l3.6 1.4 2.6-1.2-3.5-1.3z" fill="#d0ff2f" stroke="#a6cc25"/>
<path d="M122 109.7l3.3 1.3 3-1-3.3-1.4z" fill="#ff7800" stroke="#cc6000"/>
<path d="M217.2 118.7l3.6 1.4 2.6-1.2-3.7-1.3z" fill="#9fff60" stroke="#7fcc4c"/>
<path d="M156.7 112.6l3.4 1.4 2.8-1.1-3.4-1.3z" fill="#ffc300" stroke="#cc9c00"/>
<path d="M178.9 114.8l3.5 1.4 2.7-1.1-3.5-1.4z" fill="#fff300" stroke="#ccc200"/>
<path d="M115.8 109.3l3.2 1.4 3-1-3.2-1.4z" fill="#ff6b00" stroke="#c50"/>
<path d="M243.3 122l3.7 1.4 2.5-1.1-3.8-1.4z" fill="#4effb1" stroke="#3ecc8d"/>
<path d="M109.5 108.9l3.2 1.4 3.1-1-3.3-1.4z" fill="#ff5e00" stroke="#cc4b00"/>
<path d="M150.5 112.3l3.3 1.4 2.9-1.1-3.4-1.3z" fill="#ffb800" stroke="#cc9300"/>
<path d="M45.9 104.5l3 1.4 3.4-0.9-3.1-1.4z" fill="#f00" stroke="#c00"/>
<path d="M103.2 108.6l3.2 1.3 3.1-1-3.3-1.3z" fill="#ff5100" stroke="#cc4000"/>
<path d="M194.9 116.7l3.5 1.3 2.7-1.1-3.5-1.3z" fill="#deff21" stroke="#b1cc1a"/>
<path d="M52.3 105l3 1.4 3.4-0.9-3.1-1.4z" fill="#f00" stroke="#c00"/>
<path d="M227.1 120.3l3.7 1.3 2.5-1.1-3.7-1.4z" fill="#7dff82" stroke="#64cc68"/>
<path d="M96.8 108.2l3.2 1.4 3.2-1-3.2-1.4z" fill="#ff4300" stroke="#cc3500"/>
<path d="M58.7 105.5l3.1 1.4 3.3-0.9-3.1-1.4z" fill="#f00" stroke="#c00"/>
<path d="M172.6 114.5l3.5 1.4 2.8-1.1-3.5-1.3z" fill="#ffe800" stroke="#ccb900"/>
<path d="M210.9 118.5l3.7 1.4 2.6-1.2-3.7-1.3z" fill="#adff52" stroke="#8acc41"/>
<path d="M90.5 107.7l3.2 1.5 3.1-1-3.1-1.4z" fill="#ff3500" stroke="#cc2a00"/>
<path d="M65.1 106l3.1 1.4 3.2-1-3-1.4z" fill="#f00" stroke="#c00"/>
<path d="M144.2 112l3.4 1.4 2.9-1.1-3.4-1.3z" fill="#ffac00" stroke="#cc8900"/>
<path d="M84.2 107.3l3.1 1.4 3.2-1-3.1-1.3z" fill="#ff2700" stroke="#cc1f00"/>
<path d="M71.4 106.4l3.2 1.5 3.2-1-3.1-1.4z" fill="#ff0900" stroke="#cc0700"/>
<path d="M77.8 106.9l3.1 1.4 3.3-1-3.2-1.4z" fill="#ff1800" stroke="#cc1300"/>
<path d="M137.9 111.7l3.4 1.4 2.9-1.1-3.4-1.3z" fill="#ffa000" stroke="#cc8000"/>
<path d="M188.6 116.4l3.6 1.4 2.7-1.1-3.6-1.4z" fill="#ecff13" stroke="#bccc0f"/>
<path d="M166.4 114.3l3.4 1.4 2.8-1.2-3.4-1.3z" fill="#fd0" stroke="#ccb000"/>
<path d="M237 121.8l3.8 1.4 2.5-1.2-3.8-1.3z" fill="#5cffa3" stroke="#49cc82"/>
<path d="M204.7 118.3l3.6 1.3 2.6-1.1-3.6-1.4z" fill="#bf4" stroke="#95cc36"/>
<path d="M220.8 120.1l3.7 1.3 2.6-1.1-3.7-1.4z" fill="#8bff74" stroke="#6fcc5c"/>
<path d="M131.6 111.4l3.4 1.4 2.9-1.1-3.3-1.4z" fill="#ff9400" stroke="#cc7600"/>
<path d="M160.1 114l3.4 1.4 2.9-1.1-3.5-1.4z" fill="#ffd300" stroke="#cca800"/>
<path d="M125.3 111l3.3 1.4 3-1-3.3-1.4z" fill="#f80" stroke="#cc6c00"/>
<path d="M247 123.4l3.8 1.4 2.5-1.2-3.8-1.3z" fill="#3affc5" stroke="#2ecc9d"/>
<path d="M182.4 116.2l3.5 1.4 2.7-1.2-3.5-1.3z" fill="#fbff04" stroke="#c8cc03"/>
<path d="M119 110.7l3.3 1.4 3-1.1-3.3-1.3z" fill="#ff7b00" stroke="#cc6200"/>
<path d="M230.8 121.6l3.7 1.4 2.5-1.2-3.7-1.3z" fill="#69ff96" stroke="#54cc78"/>
<path d="M153.8 113.7l3.5 1.4 2.8-1.1-3.4-1.4z" fill="#ffc700" stroke="#cc9f00"/>
<path d="M198.4 118l3.6 1.4 2.7-1.1-3.6-1.4z" fill="#c9ff36" stroke="#a0cc2b"/>
<path d="M112.7 110.3l3.3 1.4 3-1-3.2-1.4z" fill="#ff6e00" stroke="#cc5800"/>
<path d="M214.6 119.9l3.6 1.3 2.6-1.1-3.6-1.4z" fill="#98ff67" stroke="#79cc52"/>
<path d="M42.5 105.4l3 1.4 3.4-0.9-3-1.4z" fill="#f00" stroke="#c00"/>
<path d="M176.1 115.9l3.5 1.4 2.8-1.1-3.5-1.4z" fill="#fff700" stroke="#ccc500"/>
<path d="M106.4 109.9l3.2 1.5 3.1-1.1-3.2-1.4z" fill="#ff6100" stroke="#cc4d00"/>
<path d="M48.9 105.9l3.1 1.4 3.3-0.9-3-1.4z" fill="#f00" stroke="#c00"/>
<path d="M147.6 113.4l3.3 1.4 2.9-1.1-3.3-1.4z" fill="#ffbc00" stroke="#cc9600"/>
<path d="M100 109.6l3.3 1.4 3.1-1.1-3.2-1.3z" fill="#ff5300" stroke="#cc4200"/>
<path d="M55.3 106.4l3.1 1.4 3.4-0.9-3.1-1.4z" fill="#f00" stroke="#c00"/>
<path d="M93.7 109.2l3.2 1.4 3.1-1-3.2-1.4z" fill="#ff4500" stroke="#cc3700"/>
<path d="M61.8 106.9l3.1 1.4 3.3-0.9-3.1-1.4z" fill="#f00" stroke="#c00"/>
<path d="M240.8 123.2l3.7 1.4 2.5-1.2-3.7-1.4z" fill="#48ffb7" stroke="#39cc92"/>
<path d="M87.3 108.7l3.2 1.5 3.2-1-3.2-1.5z" fill="#ff3700" stroke="#cc2c00"/>
<path d="M68.2 107.4l3.1 1.4 3.3-0.9-3.2-1.5z" fill="#ff0a00" stroke="#cc0800"/>
<path d="M80.9 108.3l3.2 1.4 3.2-1-3.1-1.4z" fill="#ff2900" stroke="#cc2000"/>
<path d="M74.6 107.9l3.1 1.4 3.2-1-3.1-1.4z" fill="#ff1900" stroke="#cc1400"/>
<path d="M192.2 117.8l3.5 1.4 2.7-1.2-3.5-1.3z" fill="#d7ff28" stroke="#accc20"/>
<path d="M169.8 115.7l3.5 1.4 2.8-1.2-3.5-1.4z" fill="#ffed00" stroke="#ccbd00"/>
<path d="M141.3 113.1l3.3 1.4 3-1.1-3.4-1.4z" fill="#ffb000" stroke="#cc8c00"/>
<path d="M224.5 121.4l3.7 1.4 2.6-1.2-3.7-1.3z" fill="#76ff89" stroke="#5ecc6d"/>
<path d="M208.3 119.6l3.6 1.4 2.7-1.1-3.7-1.4z" fill="#a6ff59" stroke="#84cc47"/>
<path d="M135 112.8l3.3 1.4 3-1.1-3.4-1.4z" fill="#ffa400" stroke="#cc8300"/>
<path d="M163.5 115.4l3.5 1.4 2.8-1.1-3.4-1.4z" fill="#ffe200" stroke="#ccb400"/>
<path d="M185.9 117.6l3.5 1.4 2.8-1.2-3.6-1.4z" fill="#e5ff1a" stroke="#b7cc14"/>
<path d="M128.6 112.4l3.4 1.5 3-1.1-3.4-1.4z" fill="#ff9800" stroke="#cc7900"/>
<path d="M234.5 123l3.7 1.4 2.6-1.2-3.8-1.4z" fill="#5fa" stroke="#4c8"/>
<path d="M202 119.4l3.6 1.4 2.7-1.2-3.6-1.3z" fill="#b3ff4c" stroke="#8fcc3c"/>
<path d="M218.2 121.2l3.7 1.4 2.6-1.2-3.7-1.3z" fill="#83ff7c" stroke="#68cc63"/>
<path d="M122.3 112.1l3.3 1.4 3-1.1-3.3-1.4z" fill="#ff8c00" stroke="#cc7000"/>
<path d="M157.3 115.1l3.4 1.4 2.8-1.1-3.4-1.4z" fill="#ffd700" stroke="#ccac00"/>
<path d="M179.6 117.3l3.5 1.4 2.8-1.1-3.5-1.4z" fill="#f4ff0b" stroke="#c3cc08"/>
<path d="M116 111.7l3.3 1.5 3-1.1-3.3-1.4z" fill="#ff7f00" stroke="#cc6500"/>
<path d="M244.5 124.6l3.8 1.4 2.5-1.2-3.8-1.4z" fill="#3fc" stroke="#28cca3"/>
<path d="M109.6 111.4l3.3 1.4 3.1-1.1-3.3-1.4z" fill="#ff7200" stroke="#cc5b00"/>
<path d="M150.9 114.8l3.5 1.4 2.9-1.1-3.5-1.4z" fill="#fc0" stroke="#cca300"/>
<path d="M45.5 106.8l3 1.5 3.5-1-3.1-1.4z" fill="#f00" stroke="#c00"/>
<path d="M195.7 119.2l3.6 1.4 2.7-1.2-3.6-1.4z" fill="#c1ff3e" stroke="#9acc31"/>
<path d="M103.3 111l3.2 1.4 3.1-1-3.2-1.5z" fill="#ff6400" stroke="#cc5000"/>
<path d="M228.2 122.8l3.7 1.4 2.6-1.2-3.7-1.4z" fill="#61ff9e" stroke="#4dcc7e"/>
<path d="M52 107.3l3 1.5 3.4-1-3.1-1.4z" fill="#f00" stroke="#c00"/>
<path d="M211.9 121l3.7 1.4 2.6-1.2-3.6-1.3z" fill="#91ff6e" stroke="#74cc58"/>
<path d="M173.3 117.1l3.5 1.4 2.8-1.2-3.5-1.4z" fill="#fffc00" stroke="#ccc900"/>
<path d="M96.9 110.6l3.2 1.4 3.2-1-3.3-1.4z" fill="#ff5600" stroke="#c40"/>
<path d="M58.4 107.8l3.1 1.5 3.4-1-3.1-1.4z" fill="#f00" stroke="#c00"/>
<path d="M90.5 110.2l3.2 1.4 3.2-1-3.2-1.4z" fill="#ff4800" stroke="#cc3900"/>
<path d="M144.6 114.5l3.4 1.4 2.9-1.1-3.3-1.4z" fill="#ffc000" stroke="#c90"/>
<path d="M64.9 108.3l3.1 1.5 3.3-1-3.1-1.4z" fill="#ff0c00" stroke="#cc0900"/>
<path d="M84.1 109.7l3.2 1.5 3.2-1-3.2-1.5z" fill="#ff3a00" stroke="#cc2e00"/>
<path d="M71.3 108.8l3.1 1.5 3.3-1-3.1-1.4z" fill="#ff1b00" stroke="#cc1500"/>
<path d="M77.7 109.3l3.2 1.4 3.2-1-3.2-1.4z" fill="#ff2b00" stroke="#c20"/>
<path d="M189.4 119l3.6 1.4 2.7-1.2-3.5-1.4z" fill="#cfff30" stroke="#a5cc26"/>
<path d="M138.3 114.2l3.4 1.4 2.9-1.1-3.3-1.4z" fill="#ffb500" stroke="#cc9000"/>
<path d="M238.2 124.4l3.8 1.4 2.5-1.2-3.7-1.4z" fill="#40ffbf" stroke="#33cc98"/>
<path d="M167 116.8l3.5 1.4 2.8-1.1-3.5-1.4z" fill="#fff200" stroke="#ccc100"/>
<path d="M205.6 120.8l3.7 1.4 2.6-1.2-3.6-1.4z" fill="#9eff61" stroke="#7ecc4d"/>
<path d="M221.9 122.6l3.7 1.4 2.6-1.2-3.7-1.4z" fill="#6eff91" stroke="#58cc74"/>
<path d="M132 113.9l3.3 1.4 3-1.1-3.3-1.4z" fill="#ffa800" stroke="#cc8600"/>
<path d="M160.7 116.5l3.5 1.5 2.8-1.2-3.5-1.4z" fill="#ffe700" stroke="#ccb800"/>
<path d="M183.1 118.7l3.6 1.5 2.7-1.2-3.5-1.4z" fill="#df2" stroke="#b0cc1b"/>
<path d="M125.6 113.5l3.4 1.5 3-1.1-3.4-1.5z" fill="#ff9c00" stroke="#cc7c00"/>
<path d="M119.3 113.2l3.3 1.4 3-1.1-3.3-1.4z" fill="#ff8f00" stroke="#cc7200"/>
<path d="M231.9 124.2l3.8 1.4 2.5-1.2-3.7-1.4z" fill="#4dffb2" stroke="#3dcc8e"/>
<path d="M199.3 120.6l3.6 1.4 2.7-1.2-3.6-1.4z" fill="#abff54" stroke="#88cc43"/>
<path d="M154.4 116.2l3.4 1.5 2.9-1.2-3.4-1.4z" fill="#ffdc00" stroke="#ccb000"/>
<path d="M215.6 122.4l3.7 1.5 2.6-1.3-3.7-1.4z" fill="#7bff84" stroke="#62cc69"/>
<path d="M112.9 112.8l3.3 1.5 3.1-1.1-3.3-1.5z" fill="#ff8200" stroke="#cc6800"/>
<path d="M176.8 118.5l3.5 1.4 2.8-1.2-3.5-1.4z" fill="#ecff13" stroke="#bccc0f"/>
<path d="M106.5 112.4l3.3 1.5 3.1-1.1-3.3-1.4z" fill="#ff7500" stroke="#cc5d00"/>
<path d="M48.5 108.3l3.1 1.5 3.4-1-3-1.5z" fill="#f00" stroke="#c00"/>
<path d="M148 115.9l3.4 1.5 3-1.2-3.5-1.4z" fill="#ffd100" stroke="#cca700"/>
<path d="M100.1 112l3.3 1.5 3.1-1.1-3.2-1.4z" fill="#ff6700" stroke="#cc5200"/>
<path d="M242 125.8l3.8 1.4 2.5-1.2-3.8-1.4z" fill="#2bffd4" stroke="#22cca9"/>
<path d="M55 108.8l3.1 1.5 3.4-1-3.1-1.5z" fill="#f00" stroke="#c00"/>
<path d="M93.7 111.6l3.2 1.5 3.2-1.1-3.2-1.4z" fill="#ff5900" stroke="#cc4700"/>
<path d="M61.5 109.3l3.1 1.5 3.4-1-3.1-1.5z" fill="#ff0d00" stroke="#cc0a00"/>
<path d="M193 120.4l3.6 1.4 2.7-1.2-3.6-1.4z" fill="#b9ff46" stroke="#94cc38"/>
<path d="M87.3 111.2l3.2 1.5 3.2-1.1-3.2-1.4z" fill="#ff4b00" stroke="#cc3c00"/>
<path d="M68 109.8l3.1 1.5 3.3-1-3.1-1.5z" fill="#ff1d00" stroke="#cc1700"/>
<path d="M80.9 110.7l3.2 1.5 3.2-1-3.2-1.5z" fill="#ff3c00" stroke="#cc3000"/>
<path d="M74.4 110.3l3.2 1.5 3.3-1.1-3.2-1.4z" fill="#ff2d00" stroke="#cc2400"/>
<path d="M170.5 118.2l3.5 1.5 2.8-1.2-3.5-1.4z" fill="#fbff04" stroke="#c8cc03"/>
<path d="M225.6 124l3.7 1.5 2.6-1.3-3.7-1.4z" fill="#59ffa6" stroke="#47cc84"/>
<path d="M141.7 115.6l3.4 1.5 2.9-1.2-3.4-1.4z" fill="#ffc500" stroke="#cc9d00"/>
<path d="M209.3 122.2l3.6 1.5 2.7-1.3-3.7-1.4z" fill="#8f7" stroke="#6ccc5f"/>
<path d="M135.3 115.3l3.4 1.5 3-1.2-3.4-1.4z" fill="#ffb900" stroke="#cc9400"/>
<path d="M164.2 118l3.4 1.4 2.9-1.2-3.5-1.4z" fill="#fff700" stroke="#ccc500"/>
<path d="M186.7 120.2l3.6 1.4 2.7-1.2-3.6-1.4z" fill="#c7ff38" stroke="#9fcc2c"/>
<path d="M235.7 125.6l3.8 1.5 2.5-1.3-3.8-1.4z" fill="#38ffc7" stroke="#2ccc9f"/>
<path d="M129 115l3.3 1.4 3-1.1-3.3-1.4z" fill="#ffad00" stroke="#cc8a00"/>
<path d="M202.9 122l3.7 1.5 2.7-1.3-3.7-1.4z" fill="#95ff6a" stroke="#77cc54"/>
<path d="M219.3 123.9l3.7 1.4 2.6-1.3-3.7-1.4z" fill="#6f9" stroke="#51cc7a"/>
<path d="M157.8 117.7l3.5 1.4 2.9-1.1-3.5-1.5z" fill="#ffec00" stroke="#ccbc00"/>
<path d="M122.6 114.6l3.3 1.5 3.1-1.1-3.4-1.5z" fill="#ffa000" stroke="#cc8000"/>
<path d="M180.3 119.9l3.6 1.5 2.8-1.2-3.6-1.5z" fill="#d5ff2a" stroke="#aacc21"/>
<path d="M116.2 114.3l3.3 1.4 3.1-1.1-3.3-1.4z" fill="#ff9300" stroke="#cc7500"/>
<path d="M151.4 117.4l3.5 1.4 2.9-1.1-3.4-1.5z" fill="#ffe100" stroke="#ccb400"/>
<path d="M109.8 113.9l3.3 1.5 3.1-1.1-3.3-1.5z" fill="#ff8600" stroke="#cc6b00"/>
<path d="M196.6 121.8l3.6 1.5 2.7-1.3-3.6-1.4z" fill="#a2ff5d" stroke="#81cc4a"/>
<path d="M229.3 125.5l3.8 1.4 2.6-1.3-3.8-1.4z" fill="#4fb" stroke="#36cc95"/>
<path d="M103.4 113.5l3.2 1.5 3.2-1.1-3.3-1.5z" fill="#ff7800" stroke="#cc6000"/>
<path d="M212.9 123.7l3.7 1.4 2.7-1.2-3.7-1.5z" fill="#72ff8d" stroke="#5bcc70"/>
<path d="M174 119.7l3.5 1.4 2.8-1.2-3.5-1.4z" fill="#e4ff1b" stroke="#b6cc15"/>
<path d="M51.6 109.8l3.1 1.5 3.4-1-3.1-1.5z" fill="#f00" stroke="#c00"/>
<path d="M96.9 113.1l3.3 1.5 3.2-1.1-3.3-1.5z" fill="#ff6a00" stroke="#cc5400"/>
<path d="M58.1 110.3l3.2 1.5 3.3-1-3.1-1.5z" fill="#ff0f00" stroke="#cc0c00"/>
<path d="M145.1 117.1l3.4 1.4 2.9-1.1-3.4-1.5z" fill="#ffd600" stroke="#ccab00"/>
<path d="M90.5 112.7l3.2 1.4 3.2-1-3.2-1.5z" fill="#ff5c00" stroke="#cc4900"/>
<path d="M64.6 110.8l3.2 1.5 3.3-1-3.1-1.5z" fill="#ff1f00" stroke="#cc1800"/>
<path d="M84.1 112.2l3.2 1.5 3.2-1-3.2-1.5z" fill="#ff4e00" stroke="#cc3e00"/>
<path d="M71.1 111.3l3.2 1.5 3.3-1-3.2-1.5z" fill="#ff2f00" stroke="#cc2500"/>
<path d="M77.6 111.8l3.2 1.5 3.3-1.1-3.2-1.5z" fill="#ff3e00" stroke="#cc3100"/>
<path d="M239.5 127.1l3.8 1.4 2.5-1.3-3.8-1.4z" fill="#2fd" stroke="#1bccb0"/>
<path d="M190.3 121.6l3.6 1.5 2.7-1.3-3.6-1.4z" fill="#b0ff4f" stroke="#8ccc3f"/>
<path d="M138.7 116.8l3.4 1.4 3-1.1-3.4-1.5z" fill="#ffca00" stroke="#cca100"/>
<path d="M167.6 119.4l3.6 1.5 2.8-1.2-3.5-1.5z" fill="#f3ff0c" stroke="#c2cc09"/>
<path d="M223 125.3l3.7 1.4 2.6-1.2-3.7-1.5z" fill="#50ffaf" stroke="#40cc8c"/>
<path d="M206.6 123.5l3.7 1.4 2.6-1.2-3.6-1.5z" fill="#7fff80" stroke="#65cc66"/>
<path d="M132.3 116.4l3.4 1.5 3-1.1-3.4-1.5z" fill="#ffbe00" stroke="#cc9800"/>
<path d="M161.3 119.1l3.5 1.5 2.8-1.2-3.4-1.4z" fill="#fffd00" stroke="#ccca00"/>
<path d="M183.9 121.4l3.6 1.4 2.8-1.2-3.6-1.4z" fill="#beff41" stroke="#98cc34"/>
<path d="M125.9 116.1l3.4 1.5 3-1.2-3.3-1.4z" fill="#ffb100" stroke="#cc8d00"/>
<path d="M233.1 126.9l3.8 1.5 2.6-1.3-3.8-1.5z" fill="#2effd1" stroke="#24cca7"/>
<path d="M200.2 123.3l3.7 1.4 2.7-1.2-3.7-1.5z" fill="#8cff73" stroke="#70cc5c"/>
<path d="M119.5 115.7l3.3 1.5 3.1-1.1-3.3-1.5z" fill="#ffa400" stroke="#cc8300"/>
<path d="M216.6 125.1l3.8 1.5 2.6-1.3-3.7-1.4z" fill="#5cffa3" stroke="#49cc82"/>
<path d="M154.9 118.8l3.5 1.5 2.9-1.2-3.5-1.4z" fill="#fff200" stroke="#ccc100"/>
<path d="M113.1 115.4l3.3 1.5 3.1-1.2-3.3-1.4z" fill="#ff9700" stroke="#cc7800"/>
<path d="M177.5 121.1l3.6 1.5 2.8-1.2-3.6-1.5z" fill="#cf3" stroke="#a3cc28"/>
<path d="M106.6 115l3.3 1.5 3.2-1.1-3.3-1.5z" fill="#ff8a00" stroke="#cc6e00"/>
<path d="M148.5 118.5l3.5 1.5 2.9-1.2-3.5-1.4z" fill="#ffe600" stroke="#ccb800"/>
<path d="M100.2 114.6l3.3 1.5 3.1-1.1-3.2-1.5z" fill="#ff7c00" stroke="#cc6300"/>
<path d="M54.7 111.3l3.2 1.5 3.4-1-3.2-1.5z" fill="#ff1000" stroke="#cc0c00"/>
<path d="M193.9 123.1l3.6 1.4 2.7-1.2-3.6-1.5z" fill="#9f6" stroke="#7acc51"/>
<path d="M93.7 114.1l3.3 1.6 3.2-1.1-3.3-1.5z" fill="#ff6e00" stroke="#cc5800"/>
<path d="M61.3 111.8l3.1 1.5 3.4-1-3.2-1.5z" fill="#ff2100" stroke="#cc1a00"/>
<path d="M87.3 113.7l3.2 1.5 3.2-1.1-3.2-1.4z" fill="#ff5f00" stroke="#cc4c00"/>
<path d="M226.7 126.7l3.8 1.5 2.6-1.3-3.8-1.4z" fill="#3affc5" stroke="#2ecc9d"/>
<path d="M67.8 112.3l3.2 1.5 3.3-1-3.2-1.5z" fill="#ff3100" stroke="#cc2700"/>
<path d="M171.2 120.9l3.5 1.5 2.8-1.3-3.5-1.4z" fill="#dbff24" stroke="#afcc1c"/>
<path d="M80.8 113.3l3.2 1.5 3.3-1.1-3.2-1.5z" fill="#ff5000" stroke="#cc4000"/>
<path d="M74.3 112.8l3.2 1.5 3.3-1-3.2-1.5z" fill="#ff4100" stroke="#cc3400"/>
<path d="M210.3 124.9l3.7 1.5 2.6-1.3-3.7-1.4z" fill="#68ff97" stroke="#53cc78"/>
<path d="M142.1 118.2l3.4 1.5 3-1.2-3.4-1.4z" fill="#ffdb00" stroke="#ccaf00"/>
<path d="M135.7 117.9l3.4 1.5 3-1.2-3.4-1.4z" fill="#ffcf00" stroke="#cca500"/>
<path d="M187.5 122.8l3.6 1.5 2.8-1.2-3.6-1.5z" fill="#a7ff58" stroke="#85cc46"/>
<path d="M164.8 120.6l3.5 1.5 2.9-1.2-3.6-1.5z" fill="#eaff15" stroke="#bbcc10"/>
<path d="M236.9 128.4l3.8 1.4 2.6-1.3-3.8-1.4z" fill="#18ffe7" stroke="#13ccb8"/>
<path d="M129.3 117.6l3.4 1.5 3-1.2-3.4-1.5z" fill="#ffc300" stroke="#cc9c00"/>
<path d="M203.9 124.7l3.7 1.5 2.7-1.3-3.7-1.4z" fill="#75ff8a" stroke="#5dcc6e"/>
<path d="M220.4 126.6l3.7 1.5 2.6-1.4-3.7-1.4z" fill="#46ffb9" stroke="#38cc94"/>
<path d="M158.4 120.3l3.5 1.5 2.9-1.2-3.5-1.5z" fill="#faff05" stroke="#c8cc04"/>
<path d="M122.8 117.2l3.4 1.5 3.1-1.1-3.4-1.5z" fill="#ffb600" stroke="#cc9100"/>
<path d="M181.1 122.6l3.6 1.5 2.8-1.3-3.6-1.4z" fill="#b5ff4a" stroke="#90cc3b"/>
<path d="M116.4 116.9l3.3 1.5 3.1-1.2-3.3-1.5z" fill="#ffa900" stroke="#cc8700"/>
<path d="M152 120l3.4 1.6 3-1.3-3.5-1.5z" fill="#fff800" stroke="#ccc600"/>
<path d="M230.5 128.2l3.8 1.5 2.6-1.3-3.8-1.5z" fill="#24ffdb" stroke="#1cccaf"/>
<path d="M197.5 124.5l3.7 1.5 2.7-1.3-3.7-1.4z" fill="#82ff7d" stroke="#68cc64"/>
<path d="M109.9 116.5l3.4 1.5 3.1-1.1-3.3-1.5z" fill="#ff9c00" stroke="#cc7c00"/>
<path d="M214 126.4l3.7 1.5 2.7-1.3-3.8-1.5z" fill="#52ffad" stroke="#41cc8a"/>
<path d="M103.5 116.1l3.3 1.5 3.1-1.1-3.3-1.5z" fill="#ff8e00" stroke="#cc7100"/>
<path d="M174.7 122.4l3.6 1.5 2.8-1.3-3.6-1.5z" fill="#c3ff3c" stroke="#9ccc30"/>
<path d="M97 115.7l3.3 1.5 3.2-1.1-3.3-1.5z" fill="#ff8000" stroke="#c60"/>
<path d="M145.5 119.7l3.5 1.6 3-1.3-3.5-1.5z" fill="#ffec00" stroke="#ccbc00"/>
<path d="M57.9 112.8l3.1 1.6 3.4-1.1-3.1-1.5z" fill="#ff2300" stroke="#cc1c00"/>
<path d="M90.5 115.2l3.3 1.6 3.2-1.1-3.3-1.6z" fill="#ff7100" stroke="#cc5a00"/>
<path d="M64.4 113.3l3.2 1.6 3.4-1.1-3.2-1.5z" fill="#ff3400" stroke="#cc2900"/>
<path d="M84 114.8l3.2 1.5 3.3-1.1-3.2-1.5z" fill="#ff6300" stroke="#cc4f00"/>
<path d="M71 113.8l3.1 1.6 3.4-1.1-3.2-1.5z" fill="#f40" stroke="#cc3600"/>
<path d="M77.5 114.3l3.2 1.6 3.3-1.1-3.2-1.5z" fill="#ff5300" stroke="#cc4200"/>
<path d="M191.1 124.3l3.6 1.5 2.8-1.3-3.6-1.4z" fill="#8fff70" stroke="#72cc59"/>
<path d="M168.3 122.1l3.5 1.5 2.9-1.2-3.5-1.5z" fill="#d2ff2d" stroke="#a8cc24"/>
<path d="M139.1 119.4l3.4 1.5 3-1.2-3.4-1.5z" fill="#ffe000" stroke="#ccb300"/>
<path d="M224.1 128.1l3.8 1.5 2.6-1.4-3.8-1.5z" fill="#2fffd0" stroke="#25cca6"/>
<path d="M207.6 126.2l3.7 1.5 2.7-1.3-3.7-1.5z" fill="#5effa1" stroke="#4bcc80"/>
<path d="M132.7 119.1l3.4 1.5 3-1.2-3.4-1.5z" fill="#ffd400" stroke="#cca900"/>
<path d="M161.9 121.8l3.5 1.6 2.9-1.3-3.5-1.5z" fill="#e1ff1e" stroke="#b4cc18"/>
<path d="M184.7 124.1l3.6 1.5 2.8-1.3-3.6-1.5z" fill="#9dff62" stroke="#7dcc4e"/>
<path d="M126.2 118.7l3.4 1.6 3.1-1.2-3.4-1.5z" fill="#ffc800" stroke="#cca000"/>
<path d="M234.3 129.7l3.9 1.5 2.5-1.4-3.8-1.4z" fill="#0dfff2" stroke="#0accc1"/>
<path d="M201.2 126l3.6 1.6 2.8-1.4-3.7-1.5z" fill="#6aff95" stroke="#54cc77"/>
<path d="M217.7 127.9l3.8 1.5 2.6-1.3-3.7-1.5z" fill="#3bffc4" stroke="#2fcc9c"/>
<path d="M119.7 118.4l3.4 1.5 3.1-1.2-3.4-1.5z" fill="#fb0" stroke="#cc9500"/>
<path d="M155.4 121.6l3.5 1.5 3-1.3-3.5-1.5z" fill="#f1ff0e" stroke="#c0cc0b"/>
<path d="M178.3 123.9l3.6 1.5 2.8-1.3-3.6-1.5z" fill="#abff54" stroke="#88cc43"/>
<path d="M113.3 118l3.3 1.5 3.1-1.1-3.3-1.5z" fill="#ffae00" stroke="#cc8b00"/>
<path d="M106.8 117.6l3.3 1.6 3.2-1.2-3.4-1.5z" fill="#ffa000" stroke="#cc8000"/>
<path d="M149 121.3l3.5 1.5 2.9-1.2-3.4-1.6z" fill="#fffe00" stroke="#cccb00"/>
<path d="M100.3 117.2l3.3 1.6 3.2-1.2-3.3-1.5z" fill="#ff9200" stroke="#cc7400"/>
<path d="M194.7 125.8l3.7 1.6 2.8-1.4-3.7-1.5z" fill="#7f8" stroke="#5fcc6c"/>
<path d="M227.9 129.6l3.8 1.5 2.6-1.4-3.8-1.5z" fill="#18ffe7" stroke="#13ccb8"/>
<path d="M93.8 116.8l3.2 1.5 3.3-1.1-3.3-1.5z" fill="#ff8400" stroke="#cc6900"/>
<path d="M211.3 127.7l3.7 1.6 2.7-1.4-3.7-1.5z" fill="#46ffb9" stroke="#38cc94"/>
<path d="M61 114.4l3.2 1.6 3.4-1.1-3.2-1.6z" fill="#ff3600" stroke="#cc2b00"/>
<path d="M171.8 123.6l3.6 1.6 2.9-1.3-3.6-1.5z" fill="#b9ff46" stroke="#94cc38"/>
<path d="M87.2 116.3l3.3 1.6 3.3-1.1-3.3-1.6z" fill="#ff7500" stroke="#cc5d00"/>
<path d="M67.6 114.9l3.2 1.6 3.3-1.1-3.1-1.6z" fill="#ff4600" stroke="#cc3800"/>
<path d="M80.7 115.9l3.2 1.5 3.3-1.1-3.2-1.5z" fill="#f60" stroke="#cc5100"/>
<path d="M74.1 115.4l3.3 1.6 3.3-1.1-3.2-1.6z" fill="#ff5600" stroke="#c40"/>
<path d="M142.5 120.9l3.5 1.6 3-1.2-3.5-1.6z" fill="#fff200" stroke="#ccc100"/>
<path d="M136.1 120.6l3.4 1.6 3-1.3-3.4-1.5z" fill="#ffe600" stroke="#ccb800"/>
<path d="M188.3 125.6l3.6 1.6 2.8-1.4-3.6-1.5z" fill="#84ff7b" stroke="#69cc62"/>
<path d="M165.4 123.4l3.5 1.5 2.9-1.3-3.5-1.5z" fill="#c8ff37" stroke="#a0cc2c"/>
<path d="M204.8 127.6l3.8 1.5 2.7-1.4-3.7-1.5z" fill="#52ffad" stroke="#41cc8a"/>
<path d="M221.5 129.4l3.8 1.5 2.6-1.3-3.8-1.5z" fill="#23ffdc" stroke="#1cccb0"/>
<path d="M129.6 120.3l3.4 1.5 3.1-1.2-3.4-1.5z" fill="#ffda00" stroke="#ccae00"/>
<path d="M158.9 123.1l3.6 1.5 2.9-1.2-3.5-1.6z" fill="#d7ff28" stroke="#accc20"/>
<path d="M123.1 119.9l3.4 1.6 3.1-1.2-3.4-1.6z" fill="#ffcd00" stroke="#cca400"/>
<path d="M181.9 125.4l3.6 1.6 2.8-1.4-3.6-1.5z" fill="#92ff6d" stroke="#74cc57"/>
<path d="M116.6 119.5l3.4 1.6 3.1-1.2-3.4-1.5z" fill="#ffc000" stroke="#c90"/>
<path d="M231.7 131.1l3.8 1.5 2.7-1.4-3.9-1.5z" fill="#01fffe" stroke="#00cccb"/>
<path d="M198.4 127.4l3.7 1.5 2.7-1.3-3.6-1.6z" fill="#5fffa0" stroke="#4ccc80"/>
<path d="M152.5 122.8l3.5 1.6 2.9-1.3-3.5-1.5z" fill="#e7ff18" stroke="#b8cc13"/>
<path d="M110.1 119.2l3.4 1.5 3.1-1.2-3.3-1.5z" fill="#ffb200" stroke="#cc8e00"/>
<path d="M215 129.3l3.8 1.5 2.7-1.4-3.8-1.5z" fill="#2fffd0" stroke="#25cca6"/>
<path d="M175.4 125.2l3.6 1.5 2.9-1.3-3.6-1.5z" fill="#a0ff5f" stroke="#80cc4c"/>
<path d="M103.6 118.8l3.3 1.5 3.2-1.1-3.3-1.6z" fill="#ffa500" stroke="#cc8400"/>
<path d="M97 118.3l3.4 1.6 3.2-1.1-3.3-1.6z" fill="#ff9600" stroke="#cc7800"/>
<path d="M146 122.5l3.5 1.6 3-1.3-3.5-1.5z" fill="#f8ff07" stroke="#c6cc05"/>
<path d="M90.5 117.9l3.3 1.6 3.2-1.2-3.2-1.5z" fill="#f80" stroke="#cc6c00"/>
<path d="M64.2 116l3.2 1.6 3.4-1.1-3.2-1.6z" fill="#ff4900" stroke="#cc3a00"/>
<path d="M83.9 117.4l3.3 1.6 3.3-1.1-3.3-1.6z" fill="#ff7900" stroke="#cc6000"/>
<path d="M70.8 116.5l3.2 1.6 3.4-1.1-3.3-1.6z" fill="#ff5a00" stroke="#cc4800"/>
<path d="M77.4 117l3.2 1.6 3.3-1.2-3.2-1.5z" fill="#ff6900" stroke="#cc5400"/>
<path d="M191.9 127.2l3.7 1.5 2.8-1.3-3.7-1.6z" fill="#6cff93" stroke="#56cc75"/>
<path d="M168.9 124.9l3.6 1.6 2.9-1.3-3.6-1.6z" fill="#afff50" stroke="#8ccc40"/>
<path d="M225.3 130.9l3.8 1.6 2.6-1.4-3.8-1.5z" fill="#0cfff3" stroke="#09ccc2"/>
<path d="M139.5 122.2l3.5 1.6 3-1.3-3.5-1.6z" fill="#fff800" stroke="#ccc600"/>
<path d="M208.6 129.1l3.7 1.5 2.7-1.3-3.7-1.6z" fill="#3affc5" stroke="#2ecc9d"/>
<path d="M133 121.8l3.5 1.6 3-1.2-3.4-1.6z" fill="#ffec00" stroke="#ccbc00"/>
<path d="M162.5 124.6l3.5 1.6 2.9-1.3-3.5-1.5z" fill="#beff41" stroke="#98cc34"/>
<path d="M185.5 127l3.6 1.5 2.8-1.3-3.6-1.6z" fill="#79ff86" stroke="#60cc6b"/>
<path d="M126.5 121.5l3.4 1.6 3.1-1.3-3.4-1.5z" fill="#ffdf00" stroke="#ccb200"/>
<path d="M202.1 128.9l3.7 1.6 2.8-1.4-3.8-1.5z" fill="#46ffb9" stroke="#38cc94"/>
<path d="M218.8 130.8l3.8 1.6 2.7-1.5-3.8-1.5z" fill="#17ffe8" stroke="#12ccb9"/>
<path d="M120 121.1l3.4 1.6 3.1-1.2-3.4-1.6z" fill="#ffd200" stroke="#cca800"/>
<path d="M156 124.4l3.5 1.6 3-1.4-3.6-1.5z" fill="#ceff31" stroke="#a4cc27"/>
<path d="M179 126.7l3.6 1.6 2.9-1.3-3.6-1.6z" fill="#87ff78" stroke="#6ccc60"/>
<path d="M113.5 120.7l3.3 1.6 3.2-1.2-3.4-1.6z" fill="#ffc500" stroke="#cc9d00"/>
<path d="M106.9 120.3l3.4 1.6 3.2-1.2-3.4-1.5z" fill="#ffb700" stroke="#cc9200"/>
<path d="M149.5 124.1l3.5 1.6 3-1.3-3.5-1.6z" fill="#deff21" stroke="#b1cc1a"/>
<path d="M195.6 128.7l3.7 1.6 2.8-1.4-3.7-1.5z" fill="#53ffac" stroke="#42cc89"/>
<path d="M229.1 132.5l3.8 1.5 2.6-1.4-3.8-1.5z" fill="#00f3ff" stroke="#00c2cc"/>
<path d="M100.4 119.9l3.3 1.6 3.2-1.2-3.3-1.5z" fill="#ffa900" stroke="#cc8700"/>
<path d="M212.3 130.6l3.8 1.6 2.7-1.4-3.8-1.5z" fill="#2fd" stroke="#1bccb0"/>
<path d="M93.8 119.5l3.3 1.6 3.3-1.2-3.4-1.6z" fill="#ff9b00" stroke="#cc7c00"/>
<path d="M172.5 126.5l3.6 1.6 2.9-1.4-3.6-1.5z" fill="#95ff6a" stroke="#77cc54"/>
<path d="M87.2 119l3.3 1.7 3.3-1.2-3.3-1.6z" fill="#ff8c00" stroke="#cc7000"/>
<path d="M67.4 117.6l3.2 1.6 3.4-1.1-3.2-1.6z" fill="#ff5d00" stroke="#cc4a00"/>
<path d="M80.6 118.6l3.3 1.6 3.3-1.2-3.3-1.6z" fill="#ff7d00" stroke="#cc6400"/>
<path d="M143 123.8l3.5 1.6 3-1.3-3.5-1.6z" fill="#ef1" stroke="#becc0d"/>
<path d="M74 118.1l3.3 1.6 3.3-1.1-3.2-1.6z" fill="#ff6d00" stroke="#cc5700"/>
<path d="M189.1 128.5l3.7 1.6 2.8-1.4-3.7-1.5z" fill="#60ff9f" stroke="#4ccc7f"/>
<path d="M136.5 123.4l3.4 1.6 3.1-1.2-3.5-1.6z" fill="#ff0" stroke="#cc0"/>
<path d="M166 126.2l3.6 1.6 2.9-1.3-3.6-1.6z" fill="#a4ff5b" stroke="#83cc48"/>
<path d="M222.6 132.4l3.8 1.5 2.7-1.4-3.8-1.6z" fill="#00feff" stroke="#00cbcc"/>
<path d="M205.8 130.5l3.8 1.6 2.7-1.5-3.7-1.5z" fill="#2effd1" stroke="#24cca7"/>
<path d="M129.9 123.1l3.5 1.6 3.1-1.3-3.5-1.6z" fill="#fff200" stroke="#ccc100"/>
<path d="M159.5 126l3.6 1.6 2.9-1.4-3.5-1.6z" fill="#b3ff4c" stroke="#8fcc3c"/>
<path d="M182.6 128.3l3.7 1.6 2.8-1.4-3.6-1.5z" fill="#6dff92" stroke="#57cc74"/>
<path d="M123.4 122.7l3.4 1.6 3.1-1.2-3.4-1.6z" fill="#ffe500" stroke="#ccb700"/>
<path d="M116.8 122.3l3.4 1.7 3.2-1.3-3.4-1.6z" fill="#ffd800" stroke="#ccac00"/>
<path d="M199.3 130.3l3.8 1.6 2.7-1.4-3.7-1.6z" fill="#3affc5" stroke="#2ecc9d"/>
<path d="M153 125.7l3.5 1.6 3-1.3-3.5-1.6z" fill="#c3ff3c" stroke="#9ccc30"/>
<path d="M216.1 132.2l3.8 1.6 2.7-1.4-3.8-1.6z" fill="#0afff5" stroke="#08ccc4"/>
<path d="M110.3 121.9l3.4 1.7 3.1-1.3-3.3-1.6z" fill="#ffcb00" stroke="#cca200"/>
<path d="M176.1 128.1l3.7 1.6 2.8-1.4-3.6-1.6z" fill="#7bff84" stroke="#62cc69"/>
<path d="M103.7 121.5l3.4 1.7 3.2-1.3-3.4-1.6z" fill="#ffbd00" stroke="#cc9700"/>
<path d="M146.5 125.4l3.5 1.6 3-1.3-3.5-1.6z" fill="#d4ff2b" stroke="#a9cc22"/>
<path d="M97.1 121.1l3.3 1.6 3.3-1.2-3.3-1.6z" fill="#ffae00" stroke="#cc8b00"/>
<path d="M90.5 120.7l3.3 1.6 3.3-1.2-3.3-1.6z" fill="#ff9f00" stroke="#cc7f00"/>
<path d="M192.8 130.1l3.7 1.6 2.8-1.4-3.7-1.6z" fill="#46ffb9" stroke="#38cc94"/>
<path d="M83.9 120.2l3.3 1.6 3.3-1.1-3.3-1.7z" fill="#ff9000" stroke="#cc7300"/>
<path d="M70.6 119.2l3.3 1.7 3.4-1.2-3.3-1.6z" fill="#ff7100" stroke="#cc5a00"/>
<path d="M77.3 119.7l3.2 1.7 3.4-1.2-3.3-1.6z" fill="#ff8100" stroke="#cc6700"/>
<path d="M226.4 133.9l3.9 1.6 2.6-1.5-3.8-1.5z" fill="#00e4ff" stroke="#00b6cc"/>
<path d="M169.6 127.8l3.6 1.7 2.9-1.4-3.6-1.6z" fill="#89ff76" stroke="#6dcc5e"/>
<path d="M209.6 132.1l3.8 1.6 2.7-1.5-3.8-1.6z" fill="#15ffea" stroke="#10ccbb"/>
<path d="M139.9 125l3.5 1.7 3.1-1.3-3.5-1.6z" fill="#e5ff1a" stroke="#b7cc14"/>
<path d="M133.4 124.7l3.5 1.6 3-1.3-3.4-1.6z" fill="#f6ff09" stroke="#c4cc07"/>
<path d="M186.3 129.9l3.7 1.6 2.8-1.4-3.7-1.6z" fill="#53ffac" stroke="#42cc89"/>
<path d="M163.1 127.6l3.6 1.6 2.9-1.4-3.6-1.6z" fill="#98ff67" stroke="#79cc52"/>
<path d="M126.8 124.3l3.5 1.7 3.1-1.3-3.5-1.6z" fill="#fff900" stroke="#ccc700"/>
<path d="M203.1 131.9l3.7 1.6 2.8-1.4-3.8-1.6z" fill="#20ffdf" stroke="#19ccb2"/>
<path d="M219.9 133.8l3.8 1.6 2.7-1.5-3.8-1.5z" fill="#0ef" stroke="#00becc"/>
<path d="M156.5 127.3l3.6 1.6 3-1.3-3.6-1.6z" fill="#a8ff57" stroke="#86cc45"/>
<path d="M120.2 124l3.5 1.6 3.1-1.3-3.4-1.6z" fill="#ffec00" stroke="#ccbc00"/>
<path d="M179.8 129.7l3.6 1.6 2.9-1.4-3.7-1.6z" fill="#61ff9e" stroke="#4dcc7e"/>
<path d="M113.7 123.6l3.4 1.6 3.1-1.2-3.4-1.7z" fill="#ffde00" stroke="#ccb100"/>
<path d="M150 127l3.5 1.6 3-1.3-3.5-1.6z" fill="#b8ff47" stroke="#93cc38"/>
<path d="M107.1 123.2l3.3 1.6 3.3-1.2-3.4-1.7z" fill="#ffd000" stroke="#cca600"/>
<path d="M196.5 131.7l3.8 1.7 2.8-1.5-3.8-1.6z" fill="#2cffd3" stroke="#23cca8"/>
<path d="M213.4 133.7l3.8 1.6 2.7-1.5-3.8-1.6z" fill="#00faff" stroke="#00c8cc"/>
<path d="M100.4 122.7l3.4 1.7 3.3-1.2-3.4-1.7z" fill="#ffc200" stroke="#cc9b00"/>
<path d="M173.2 129.5l3.7 1.6 2.9-1.4-3.7-1.6z" fill="#6fff90" stroke="#58cc73"/>
<path d="M93.8 122.3l3.4 1.7 3.2-1.3-3.3-1.6z" fill="#ffb300" stroke="#cc8f00"/>
<path d="M87.2 121.8l3.3 1.7 3.3-1.2-3.3-1.6z" fill="#ffa400" stroke="#cc8300"/>
<path d="M143.4 126.7l3.6 1.6 3-1.3-3.5-1.6z" fill="#c9ff36" stroke="#a0cc2b"/>
<path d="M80.5 121.4l3.3 1.7 3.4-1.3-3.3-1.6z" fill="#ff9500" stroke="#c70"/>
<path d="M73.9 120.9l3.2 1.7 3.4-1.2-3.2-1.7z" fill="#ff8500" stroke="#cc6a00"/>
<path d="M190 131.5l3.7 1.7 2.8-1.5-3.7-1.6z" fill="#39ffc6" stroke="#2dcc9e"/>
<path d="M136.9 126.3l3.5 1.7 3-1.3-3.5-1.7z" fill="#daff25" stroke="#aecc1d"/>
<path d="M166.7 129.2l3.6 1.7 2.9-1.4-3.6-1.7z" fill="#7dff82" stroke="#64cc68"/>
<path d="M223.7 135.4l3.9 1.7 2.7-1.6-3.9-1.6z" fill="#00d3ff" stroke="#00a8cc"/>
<path d="M206.8 133.5l3.8 1.7 2.8-1.5-3.8-1.6z" fill="#06fff9" stroke="#04ccc7"/>
<path d="M130.3 126l3.5 1.7 3.1-1.4-3.5-1.6z" fill="#ecff13" stroke="#bccc0f"/>
<path d="M160.1 128.9l3.6 1.7 3-1.4-3.6-1.6z" fill="#8dff72" stroke="#70cc5b"/>
<path d="M183.4 131.3l3.7 1.7 2.9-1.5-3.7-1.6z" fill="#46ffb9" stroke="#38cc94"/>
<path d="M123.7 125.6l3.4 1.7 3.2-1.3-3.5-1.7z" fill="#ff0" stroke="#cc0"/>
<path d="M200.3 133.4l3.7 1.6 2.8-1.5-3.7-1.6z" fill="#12ffed" stroke="#0eccbd"/>
<path d="M117.1 125.2l3.4 1.7 3.2-1.3-3.5-1.6z" fill="#fff200" stroke="#ccc100"/>
<path d="M217.2 135.3l3.8 1.7 2.7-1.6-3.8-1.6z" fill="#00deff" stroke="#00b1cc"/>
<path d="M153.5 128.6l3.6 1.7 3-1.4-3.6-1.6z" fill="#9cff63" stroke="#7ccc4f"/>
<path d="M110.4 124.8l3.5 1.7 3.2-1.3-3.4-1.6z" fill="#ffe400" stroke="#ccb600"/>
<path d="M176.9 131.1l3.6 1.7 2.9-1.5-3.6-1.6z" fill="#53ffac" stroke="#42cc89"/>
<path d="M103.8 124.4l3.4 1.7 3.2-1.3-3.3-1.6z" fill="#ffd600" stroke="#ccab00"/>
<path d="M147 128.3l3.5 1.7 3-1.4-3.5-1.6z" fill="#adff52" stroke="#8acc41"/>
<path d="M97.2 124l3.3 1.7 3.3-1.3-3.4-1.7z" fill="#ffc700" stroke="#cc9f00"/>
<path d="M193.7 133.2l3.7 1.7 2.9-1.5-3.8-1.7z" fill="#1effe1" stroke="#18ccb4"/>
<path d="M90.5 123.5l3.3 1.7 3.4-1.2-3.4-1.7z" fill="#ffb800" stroke="#cc9300"/>
<path d="M83.8 123.1l3.4 1.7 3.3-1.3-3.3-1.7z" fill="#ffa900" stroke="#cc8700"/>
<path d="M77.1 122.6l3.3 1.7 3.4-1.2-3.3-1.7z" fill="#f90" stroke="#cc7a00"/>
<path d="M210.6 135.2l3.8 1.7 2.8-1.6-3.8-1.6z" fill="#00e9ff" stroke="#00bacc"/>
<path d="M170.3 130.9l3.6 1.7 3-1.5-3.7-1.6z" fill="#62ff9d" stroke="#4ecc7d"/>
<path d="M140.4 128l3.5 1.7 3.1-1.4-3.6-1.6z" fill="#beff41" stroke="#98cc34"/>
<path d="M133.8 127.7l3.5 1.7 3.1-1.4-3.5-1.7z" fill="#d0ff2f" stroke="#a6cc25"/>
<path d="M187.1 133l3.7 1.7 2.9-1.5-3.7-1.7z" fill="#2affd5" stroke="#21ccaa"/>
<path d="M163.7 130.6l3.6 1.7 3-1.4-3.6-1.7z" fill="#71ff8e" stroke="#5acc71"/>
<path d="M204 135l3.8 1.7 2.8-1.5-3.8-1.7z" fill="#00f5ff" stroke="#00c4cc"/>
<path d="M221 137l3.9 1.6 2.7-1.5-3.9-1.7z" fill="#00c2ff" stroke="#009bcc"/>
<path d="M127.1 127.3l3.5 1.7 3.2-1.3-3.5-1.7z" fill="#e2ff1d" stroke="#b4cc17"/>
<path d="M157.1 130.3l3.6 1.7 3-1.4-3.6-1.7z" fill="#80ff7f" stroke="#66cc65"/>
<path d="M120.5 126.9l3.5 1.7 3.1-1.3-3.4-1.7z" fill="#f5ff0a" stroke="#c4cc08"/>
<path d="M180.5 132.8l3.7 1.7 2.9-1.5-3.7-1.7z" fill="#38ffc7" stroke="#2ccc9f"/>
<path d="M113.9 126.5l3.4 1.8 3.2-1.4-3.4-1.7z" fill="#fff900" stroke="#ccc700"/>
<path d="M197.4 134.9l3.8 1.7 2.8-1.6-3.7-1.6z" fill="#03fffc" stroke="#02ccc9"/>
<path d="M150.5 130l3.6 1.7 3-1.4-3.6-1.7z" fill="#90ff6f" stroke="#73cc58"/>
<path d="M107.2 126.1l3.4 1.7 3.3-1.3-3.5-1.7z" fill="#ffea00" stroke="#cb0"/>
<path d="M214.4 136.9l3.9 1.7 2.7-1.6-3.8-1.7z" fill="#00cdff" stroke="#00a4cc"/>
<path d="M100.5 125.7l3.4 1.7 3.3-1.3-3.4-1.7z" fill="#ffdc00" stroke="#ccb000"/>
<path d="M173.9 132.6l3.7 1.7 2.9-1.5-3.6-1.7z" fill="#46ffb9" stroke="#38cc94"/>
<path d="M93.8 125.2l3.4 1.8 3.3-1.3-3.3-1.7z" fill="#ffcd00" stroke="#cca400"/>
<path d="M143.9 129.7l3.5 1.7 3.1-1.4-3.5-1.7z" fill="#a1ff5e" stroke="#80cc4b"/>
<path d="M87.2 124.8l3.3 1.7 3.3-1.3-3.3-1.7z" fill="#ffbe00" stroke="#cc9800"/>
<path d="M80.4 124.3l3.4 1.7 3.4-1.2-3.4-1.7z" fill="#ffae00" stroke="#cc8b00"/>
<path d="M190.8 134.7l3.8 1.7 2.8-1.5-3.7-1.7z" fill="#0ffff0" stroke="#0cccc0"/>
<path d="M167.3 132.3l3.7 1.7 2.9-1.4-3.6-1.7z" fill="#54ffab" stroke="#43cc88"/>
<path d="M137.3 129.4l3.5 1.7 3.1-1.4-3.5-1.7z" fill="#b2ff4d" stroke="#8ecc3d"/>
<path d="M207.8 136.7l3.8 1.7 2.8-1.5-3.8-1.7z" fill="#00d8ff" stroke="#00accc"/>
<path d="M130.6 129l3.5 1.8 3.2-1.4-3.5-1.7z" fill="#c5ff3a" stroke="#9dcc2e"/>
<path d="M160.7 132l3.6 1.8 3-1.5-3.6-1.7z" fill="#63ff9c" stroke="#4fcc7c"/>
<path d="M184.2 134.5l3.8 1.7 2.8-1.5-3.7-1.7z" fill="#1cffe3" stroke="#16ccb5"/>
<path d="M124 128.6l3.5 1.8 3.1-1.4-3.5-1.7z" fill="#d7ff28" stroke="#accc20"/>
<path d="M201.2 136.6l3.8 1.7 2.8-1.6-3.8-1.7z" fill="#00e4ff" stroke="#00b6cc"/>
<path d="M218.3 138.6l3.8 1.7 2.8-1.7-3.9-1.6z" fill="#00b0ff" stroke="#008ccc"/>
<path d="M117.3 128.3l3.5 1.7 3.2-1.4-3.5-1.7z" fill="#ebff14" stroke="#bccc10"/>
<path d="M154.1 131.7l3.6 1.8 3-1.5-3.6-1.7z" fill="#73ff8c" stroke="#5ccc70"/>
<path d="M177.6 134.3l3.7 1.7 2.9-1.5-3.7-1.7z" fill="#29ffd6" stroke="#20ccab"/>
<path d="M110.6 127.8l3.5 1.8 3.2-1.3-3.4-1.8z" fill="#ff0" stroke="#cc0"/>
<path d="M103.9 127.4l3.4 1.8 3.3-1.4-3.4-1.7z" fill="#fff100" stroke="#ccc000"/>
<path d="M147.4 131.4l3.6 1.8 3.1-1.5-3.6-1.7z" fill="#84ff7b" stroke="#69cc62"/>
<path d="M194.6 136.4l3.8 1.8 2.8-1.6-3.8-1.7z" fill="#00f1ff" stroke="#00c0cc"/>
<path d="M97.2 127l3.4 1.7 3.3-1.3-3.4-1.7z" fill="#ffe200" stroke="#ccb400"/>
<path d="M211.6 138.4l3.9 1.8 2.8-1.6-3.9-1.7z" fill="#0bf" stroke="#0095cc"/>
<path d="M90.5 126.5l3.4 1.8 3.3-1.3-3.4-1.8z" fill="#ffd300" stroke="#cca800"/>
<path d="M171 134l3.7 1.8 2.9-1.5-3.7-1.7z" fill="#37ffc8" stroke="#2ccca0"/>
<path d="M83.8 126l3.3 1.8 3.4-1.3-3.3-1.7z" fill="#ffc300" stroke="#cc9c00"/>
<path d="M140.8 131.1l3.6 1.8 3-1.5-3.5-1.7z" fill="#95ff6a" stroke="#77cc54"/>
<path d="M188 136.2l3.7 1.8 2.9-1.6-3.8-1.7z" fill="#00feff" stroke="#00cbcc"/>
<path d="M134.1 130.8l3.6 1.7 3.1-1.4-3.5-1.7z" fill="#a7ff58" stroke="#85cc46"/>
<path d="M164.3 133.8l3.7 1.7 3-1.5-3.7-1.7z" fill="#46ffb9" stroke="#38cc94"/>
<path d="M205 138.3l3.8 1.8 2.8-1.7-3.8-1.7z" fill="#00c6ff" stroke="#009ecc"/>
<path d="M127.5 130.4l3.5 1.8 3.1-1.4-3.5-1.8z" fill="#b9ff46" stroke="#94cc38"/>
<path d="M157.7 133.5l3.6 1.8 3-1.5-3.6-1.8z" fill="#5fa" stroke="#4c8"/>
<path d="M181.3 136l3.7 1.8 3-1.6-3.8-1.7z" fill="#0cfff3" stroke="#09ccc2"/>
<path d="M120.8 130l3.5 1.8 3.2-1.4-3.5-1.8z" fill="#cf3" stroke="#a3cc28"/>
<path d="M114.1 129.6l3.4 1.8 3.3-1.4-3.5-1.7z" fill="#e0ff1f" stroke="#b3cc18"/>
<path d="M198.4 138.2l3.8 1.7 2.8-1.6-3.8-1.7z" fill="#00d2ff" stroke="#00a8cc"/>
<path d="M215.5 140.2l3.9 1.7 2.7-1.6-3.8-1.7z" fill="#009cff" stroke="#007ccc"/>
<path d="M151 133.2l3.6 1.8 3.1-1.5-3.6-1.8z" fill="#6f9" stroke="#51cc7a"/>
<path d="M107.3 129.2l3.5 1.8 3.3-1.4-3.5-1.8z" fill="#f4ff0b" stroke="#c3cc08"/>
<path d="M174.7 135.8l3.7 1.8 2.9-1.6-3.7-1.7z" fill="#1affe5" stroke="#14ccb7"/>
<path d="M100.6 128.7l3.5 1.8 3.2-1.3-3.4-1.8z" fill="#fff800" stroke="#ccc600"/>
<path d="M93.9 128.3l3.4 1.8 3.3-1.4-3.4-1.7z" fill="#ffe900" stroke="#ccba00"/>
<path d="M144.4 132.9l3.5 1.8 3.1-1.5-3.6-1.8z" fill="#76ff89" stroke="#5ecc6d"/>
<path d="M87.1 127.8l3.4 1.8 3.4-1.3-3.4-1.8z" fill="#ffd900" stroke="#ccad00"/>
<path d="M191.7 138l3.8 1.8 2.9-1.6-3.8-1.8z" fill="#00dfff" stroke="#00b2cc"/>
<path d="M168 135.5l3.7 1.8 3-1.5-3.7-1.8z" fill="#28ffd7" stroke="#20ccac"/>
<path d="M208.8 140.1l3.9 1.7 2.8-1.6-3.9-1.8z" fill="#00a7ff" stroke="#0085cc"/>
<path d="M137.7 132.5l3.5 1.8 3.2-1.4-3.6-1.8z" fill="#8f7" stroke="#6ccc5f"/>
<path d="M131 132.2l3.5 1.8 3.2-1.5-3.6-1.7z" fill="#9aff65" stroke="#7bcc50"/>
<path d="M185 137.8l3.8 1.8 2.9-1.6-3.7-1.8z" fill="#00ecff" stroke="#00bccc"/>
<path d="M161.3 135.3l3.7 1.8 3-1.6-3.7-1.7z" fill="#37ffc8" stroke="#2ccca0"/>
<path d="M124.3 131.8l3.5 1.8 3.2-1.4-3.5-1.8z" fill="#adff52" stroke="#8acc41"/>
<path d="M202.2 139.9l3.8 1.8 2.8-1.6-3.8-1.8z" fill="#00b3ff" stroke="#008fcc"/>
<path d="M117.5 131.4l3.5 1.8 3.3-1.4-3.5-1.8z" fill="#c1ff3e" stroke="#9acc31"/>
<path d="M154.6 135l3.7 1.8 3-1.5-3.6-1.8z" fill="#47ffb8" stroke="#38cc93"/>
<path d="M178.4 137.6l3.7 1.8 2.9-1.6-3.7-1.8z" fill="#00faff" stroke="#00c8cc"/>
<path d="M110.8 131l3.5 1.8 3.2-1.4-3.4-1.8z" fill="#d5ff2a" stroke="#aacc21"/>
<path d="M104.1 130.5l3.4 1.9 3.3-1.4-3.5-1.8z" fill="#eaff15" stroke="#bbcc10"/>
<path d="M147.9 134.7l3.7 1.8 3-1.5-3.6-1.8z" fill="#58ffa7" stroke="#46cc85"/>
<path d="M195.5 139.8l3.8 1.8 2.9-1.7-3.8-1.7z" fill="#00bfff" stroke="#0098cc"/>
<path d="M212.7 141.8l3.9 1.8 2.8-1.7-3.9-1.7z" fill="#08f" stroke="#006ccc"/>
<path d="M97.3 130.1l3.4 1.8 3.4-1.4-3.5-1.8z" fill="#ff0" stroke="#cc0"/>
<path d="M171.7 137.3l3.7 1.9 3-1.6-3.7-1.8z" fill="#0afff5" stroke="#08ccc4"/>
<path d="M90.5 129.6l3.4 1.8 3.4-1.3-3.4-1.8z" fill="#ffef00" stroke="#ccbf00"/>
<path d="M141.2 134.3l3.6 1.9 3.1-1.5-3.5-1.8z" fill="#69ff96" stroke="#54cc78"/>
<path d="M188.8 139.6l3.8 1.8 2.9-1.6-3.8-1.8z" fill="#0cf" stroke="#00a3cc"/>
<path d="M134.5 134l3.6 1.8 3.1-1.5-3.5-1.8z" fill="#7bff84" stroke="#62cc69"/>
<path d="M165 137.1l3.7 1.8 3-1.6-3.7-1.8z" fill="#18ffe7" stroke="#13ccb8"/>
<path d="M206 141.7l3.9 1.8 2.8-1.7-3.9-1.7z" fill="#0093ff" stroke="#0075cc"/>
<path d="M127.8 133.6l3.5 1.9 3.2-1.5-3.5-1.8z" fill="#8eff71" stroke="#71cc5a"/>
<path d="M158.3 136.8l3.7 1.9 3-1.6-3.7-1.8z" fill="#28ffd7" stroke="#20ccac"/>
<path d="M182.1 139.4l3.8 1.8 2.9-1.6-3.8-1.8z" fill="#00d9ff" stroke="#00adcc"/>
<path d="M121 133.2l3.6 1.9 3.2-1.5-3.5-1.8z" fill="#a1ff5e" stroke="#80cc4b"/>
<path d="M199.3 141.6l3.8 1.8 2.9-1.7-3.8-1.8z" fill="#009eff" stroke="#007ecc"/>
<path d="M114.3 132.8l3.5 1.9 3.2-1.5-3.5-1.8z" fill="#b5ff4a" stroke="#90cc3b"/>
<path d="M151.6 136.5l3.6 1.9 3.1-1.6-3.7-1.8z" fill="#38ffc7" stroke="#2ccc9f"/>
<path d="M107.5 132.4l3.5 1.8 3.3-1.4-3.5-1.8z" fill="#caff35" stroke="#a1cc2a"/>
<path d="M175.4 139.2l3.7 1.8 3-1.6-3.7-1.8z" fill="#00e8ff" stroke="#00b9cc"/>
<path d="M100.7 131.9l3.5 1.9 3.3-1.4-3.4-1.9z" fill="#dfff20" stroke="#b2cc19"/>
<path d="M144.8 136.2l3.7 1.8 3.1-1.5-3.7-1.8z" fill="#49ffb6" stroke="#3acc91"/>
<path d="M93.9 131.4l3.5 1.9 3.3-1.4-3.4-1.8z" fill="#f5ff0a" stroke="#c4cc08"/>
<path d="M192.6 141.4l3.8 1.9 2.9-1.7-3.8-1.8z" fill="#00abff" stroke="#08c"/>
<path d="M209.9 143.5l3.9 1.9 2.8-1.8-3.9-1.8z" fill="#0072ff" stroke="#005bcc"/>
<path d="M168.7 138.9l3.7 1.9 3-1.6-3.7-1.9z" fill="#00f7ff" stroke="#00c5cc"/>
<path d="M138.1 135.8l3.6 1.9 3.1-1.5-3.6-1.9z" fill="#5bffa4" stroke="#48cc83"/>
<path d="M131.3 135.5l3.6 1.9 3.2-1.6-3.6-1.8z" fill="#6dff92" stroke="#57cc74"/>
<path d="M185.9 141.2l3.8 1.9 2.9-1.7-3.8-1.8z" fill="#00b8ff" stroke="#0093cc"/>
<path d="M162 138.7l3.7 1.8 3-1.6-3.7-1.8z" fill="#08fff7" stroke="#06ccc5"/>
<path d="M203.1 143.4l3.9 1.9 2.9-1.8-3.9-1.8z" fill="#007dff" stroke="#0064cc"/>
<path d="M124.6 135.1l3.5 1.9 3.2-1.5-3.5-1.9z" fill="#80ff7f" stroke="#66cc65"/>
<path d="M155.2 138.4l3.7 1.9 3.1-1.6-3.7-1.9z" fill="#18ffe7" stroke="#13ccb8"/>
<path d="M117.8 134.7l3.5 1.9 3.3-1.5-3.6-1.9z" fill="#94ff6b" stroke="#76cc55"/>
<path d="M179.1 141l3.8 1.9 3-1.7-3.8-1.8z" fill="#00c6ff" stroke="#009ecc"/>
<path d="M111 134.2l3.5 1.9 3.3-1.4-3.5-1.9z" fill="#a9ff56" stroke="#87cc44"/>
<path d="M196.4 143.3l3.9 1.9 2.8-1.8-3.8-1.8z" fill="#0089ff" stroke="#006dcc"/>
<path d="M148.5 138l3.6 2 3.1-1.6-3.6-1.9z" fill="#29ffd6" stroke="#20ccab"/>
<path d="M104.2 133.8l3.5 1.9 3.3-1.5-3.5-1.8z" fill="#beff41" stroke="#98cc34"/>
<path d="M97.4 133.3l3.4 1.9 3.4-1.4-3.5-1.9z" fill="#d4ff2b" stroke="#a9cc22"/>
<path d="M172.4 140.8l3.8 1.9 2.9-1.7-3.7-1.8z" fill="#00d5ff" stroke="#0ac"/>
<path d="M141.7 137.7l3.6 1.9 3.2-1.6-3.7-1.8z" fill="#3affc5" stroke="#2ecc9d"/>
<path d="M189.7 143.1l3.8 1.9 2.9-1.7-3.8-1.9z" fill="#0096ff" stroke="#0078cc"/>
<path d="M165.7 140.5l3.7 2 3-1.7-3.7-1.9z" fill="#00e5ff" stroke="#00b7cc"/>
<path d="M134.9 137.4l3.6 1.9 3.2-1.6-3.6-1.9z" fill="#4cffb3" stroke="#3ccc8f"/>
<path d="M207 145.3l3.9 1.9 2.9-1.8-3.9-1.9z" fill="#005cff" stroke="#0049cc"/>
<path d="M128.1 137l3.6 1.9 3.2-1.5-3.6-1.9z" fill="#5fffa0" stroke="#4ccc80"/>
<path d="M158.9 140.3l3.7 1.9 3.1-1.7-3.7-1.8z" fill="#00f5ff" stroke="#00c4cc"/>
<path d="M182.9 142.9l3.8 1.9 3-1.7-3.8-1.9z" fill="#00a3ff" stroke="#0082cc"/>
<path d="M121.3 136.6l3.6 1.9 3.2-1.5-3.5-1.9z" fill="#73ff8c" stroke="#5ccc70"/>
<path d="M200.3 145.2l3.8 1.9 2.9-1.8-3.9-1.9z" fill="#0067ff" stroke="#0052cc"/>
<path d="M114.5 136.1l3.5 2 3.3-1.5-3.5-1.9z" fill="#87ff78" stroke="#6ccc60"/>
<path d="M152.1 140l3.7 1.9 3.1-1.6-3.7-1.9z" fill="#07fff8" stroke="#05ccc6"/>
<path d="M176.2 142.7l3.7 1.9 3-1.7-3.8-1.9z" fill="#00b2ff" stroke="#008ecc"/>
<path d="M107.7 135.7l3.5 1.9 3.3-1.5-3.5-1.9z" fill="#9cff63" stroke="#7ccc4f"/>
<path d="M100.8 135.2l3.5 2 3.4-1.5-3.5-1.9z" fill="#b2ff4d" stroke="#8ecc3d"/>
<path d="M145.3 139.6l3.7 2 3.1-1.6-3.6-2z" fill="#19ffe6" stroke="#14ccb8"/>
<path d="M193.5 145l3.9 2 2.9-1.8-3.9-1.9z" fill="#0073ff" stroke="#005ccc"/>
<path d="M169.4 142.5l3.7 1.9 3.1-1.7-3.8-1.9z" fill="#00c1ff" stroke="#009acc"/>
<path d="M138.5 139.3l3.6 1.9 3.2-1.6-3.6-1.9z" fill="#2affd5" stroke="#21ccaa"/>
<path d="M186.7 144.8l3.9 2 2.9-1.8-3.8-1.9z" fill="#0080ff" stroke="#06c"/>
<path d="M131.7 138.9l3.6 2 3.2-1.6-3.6-1.9z" fill="#3dffc2" stroke="#30cc9b"/>
<path d="M162.6 142.2l3.7 2 3.1-1.7-3.7-2z" fill="#00d1ff" stroke="#00a7cc"/>
<path d="M204.1 147.1l4 2 2.8-1.9-3.9-1.9z" fill="#04f" stroke="#0036cc"/>
<path d="M124.9 138.5l3.6 2 3.2-1.6-3.6-1.9z" fill="#51ffae" stroke="#40cc8b"/>
<path d="M155.8 141.9l3.7 2 3.1-1.7-3.7-1.9z" fill="#00e2ff" stroke="#00b4cc"/>
<path d="M179.9 144.6l3.8 2 3-1.8-3.8-1.9z" fill="#008eff" stroke="#0071cc"/>
<path d="M118 138.1l3.6 2 3.3-1.6-3.6-1.9z" fill="#65ff9a" stroke="#50cc7b"/>
<path d="M111.2 137.6l3.5 2 3.3-1.5-3.5-2z" fill="#7aff85" stroke="#61cc6a"/>
<path d="M197.4 147l3.8 1.9 2.9-1.8-3.8-1.9z" fill="#0050ff" stroke="#0040cc"/>
<path d="M149 141.6l3.7 2 3.1-1.7-3.7-1.9z" fill="#00f5ff" stroke="#00c4cc"/>
<path d="M104.3 137.2l3.5 2 3.4-1.6-3.5-1.9z" fill="#90ff6f" stroke="#73cc58"/>
<path d="M173.1 144.4l3.8 2 3-1.8-3.7-1.9z" fill="#009dff" stroke="#007dcc"/>
<path d="M142.1 141.2l3.7 2 3.2-1.6-3.7-2z" fill="#08fff7" stroke="#06ccc5"/>
<path d="M190.6 146.8l3.8 2 3-1.8-3.9-2z" fill="#005cff" stroke="#0049cc"/>
<path d="M166.3 144.2l3.8 2 3-1.8-3.7-1.9z" fill="#00acff" stroke="#0089cc"/>
<path d="M135.3 140.9l3.6 2 3.2-1.7-3.6-1.9z" fill="#1affe5" stroke="#14ccb7"/>
<path d="M128.5 140.5l3.6 2 3.2-1.6-3.6-2z" fill="#2effd1" stroke="#24cca7"/>
<path d="M183.7 146.6l3.9 2 3-1.8-3.9-2z" fill="#0069ff" stroke="#0054cc"/>
<path d="M159.5 143.9l3.7 2 3.1-1.7-3.7-2z" fill="#00bdff" stroke="#0097cc"/>
<path d="M201.2 148.9l4 2.1 2.9-1.9-4-2z" fill="#002bff" stroke="#02c"/>
<path d="M121.6 140.1l3.6 2 3.3-1.6-3.6-2z" fill="#42ffbd" stroke="#34cc97"/>
<path d="M114.7 139.6l3.6 2.1 3.3-1.6-3.6-2z" fill="#56ffa9" stroke="#44cc87"/>
<path d="M152.7 143.6l3.7 2 3.1-1.7-3.7-2z" fill="#00cfff" stroke="#00a5cc"/>
<path d="M176.9 146.4l3.8 2 3-1.8-3.8-2z" fill="#07f" stroke="#005fcc"/>
<path d="M107.8 139.2l3.6 2 3.3-1.6-3.5-2z" fill="#6cff93" stroke="#56cc75"/>
<path d="M194.4 148.8l3.9 2 2.9-1.9-3.8-1.9z" fill="#0037ff" stroke="#002ccc"/>
<path d="M145.8 143.2l3.7 2.1 3.2-1.7-3.7-2z" fill="#00e1ff" stroke="#00b4cc"/>
<path d="M170.1 146.2l3.8 2 3-1.8-3.8-2z" fill="#0087ff" stroke="#006ccc"/>
<path d="M138.9 142.9l3.7 2 3.2-1.7-3.7-2z" fill="#00f5ff" stroke="#00c4cc"/>
<path d="M187.6 148.6l3.8 2.1 3-1.9-3.8-2z" fill="#04f" stroke="#0036cc"/>
<path d="M163.2 145.9l3.8 2 3.1-1.7-3.8-2z" fill="#0097ff" stroke="#0078cc"/>
<path d="M132.1 142.5l3.6 2 3.2-1.6-3.6-2z" fill="#0afff5" stroke="#08ccc4"/>
<path d="M125.2 142.1l3.6 2 3.3-1.6-3.6-2z" fill="#1effe1" stroke="#18ccb4"/>
<path d="M156.4 145.6l3.7 2.1 3.1-1.8-3.7-2z" fill="#00a8ff" stroke="#0086cc"/>
<path d="M180.7 148.4l3.9 2.1 3-1.9-3.9-2z" fill="#0052ff" stroke="#0041cc"/>
<path d="M118.3 141.7l3.6 2 3.3-1.6-3.6-2z" fill="#32ffcd" stroke="#28cca4"/>
<path d="M198.3 150.8l3.9 2.1 3-1.9-4-2.1z" fill="#0012ff" stroke="#000ecc"/>
<path d="M111.4 141.2l3.5 2.1 3.4-1.6-3.6-2.1z" fill="#48ffb7" stroke="#39cc92"/>
<path d="M149.5 145.3l3.7 2.1 3.2-1.8-3.7-2z" fill="#0bf" stroke="#0095cc"/>
<path d="M173.9 148.2l3.8 2.1 3-1.9-3.8-2z" fill="#0060ff" stroke="#004ccc"/>
<path d="M142.6 144.9l3.7 2.1 3.2-1.7-3.7-2.1z" fill="#00ceff" stroke="#00a4cc"/>
<path d="M191.4 150.7l3.9 2.1 3-2-3.9-2z" fill="#001eff" stroke="#0018cc"/>
<path d="M167 147.9l3.8 2.1 3.1-1.8-3.8-2z" fill="#0070ff" stroke="#0059cc"/>
<path d="M135.7 144.5l3.7 2.1 3.2-1.7-3.7-2z" fill="#00e2ff" stroke="#00b4cc"/>
<path d="M184.6 150.5l3.9 2.1 2.9-1.9-3.8-2.1z" fill="#002bff" stroke="#02c"/>
<path d="M128.8 144.1l3.7 2.2 3.2-1.8-3.6-2z" fill="#00f7ff" stroke="#00c5cc"/>
<path d="M160.1 147.7l3.8 2.1 3.1-1.9-3.8-2z" fill="#0081ff" stroke="#0067cc"/>
<path d="M121.9 143.7l3.6 2.1 3.3-1.7-3.6-2z" fill="#0dfff2" stroke="#0accc1"/>
<path d="M153.2 147.4l3.8 2.1 3.1-1.8-3.7-2.1z" fill="#0093ff" stroke="#0075cc"/>
<path d="M114.9 143.3l3.6 2.1 3.4-1.7-3.6-2z" fill="#2fd" stroke="#1bccb0"/>
<path d="M177.7 150.3l3.8 2.1 3.1-1.9-3.9-2.1z" fill="#0039ff" stroke="#002dcc"/>
<path d="M195.3 152.8l4 2.1 2.9-2-3.9-2.1z" fill="#0700ff" stroke="#0500cc"/>
<path d="M146.3 147l3.7 2.1 3.2-1.7-3.7-2.1z" fill="#00a6ff" stroke="#0084cc"/>
<path d="M170.8 150l3.8 2.2 3.1-1.9-3.8-2.1z" fill="#0048ff" stroke="#0039cc"/>
<path d="M139.4 146.6l3.7 2.2 3.2-1.8-3.7-2.1z" fill="#00b9ff" stroke="#0094cc"/>
<path d="M188.5 152.6l3.9 2.2 2.9-2-3.9-2.1z" fill="#0003ff" stroke="#0002cc"/>
<path d="M163.9 149.8l3.8 2.1 3.1-1.9-3.8-2.1z" fill="#0059ff" stroke="#0047cc"/>
<path d="M132.5 146.3l3.6 2.1 3.3-1.8-3.7-2.1z" fill="#00ceff" stroke="#00a4cc"/>
<path d="M125.5 145.8l3.7 2.2 3.3-1.7-3.7-2.2z" fill="#00e4ff" stroke="#00b6cc"/>
<path d="M181.5 152.4l3.9 2.2 3.1-2-3.9-2.1z" fill="#01f" stroke="#000dcc"/>
<path d="M157 149.5l3.8 2.1 3.1-1.8-3.8-2.1z" fill="#006aff" stroke="#0054cc"/>
<path d="M118.5 145.4l3.7 2.1 3.3-1.7-3.6-2.1z" fill="#00fbff" stroke="#00c8cc"/>
<path d="M150 149.1l3.8 2.2 3.2-1.8-3.8-2.1z" fill="#007cff" stroke="#0063cc"/>
<path d="M174.6 152.2l3.9 2.2 3-2-3.8-2.1z" fill="#001fff" stroke="#0018cc"/>
<path d="M192.4 154.8l3.9 2.1 3-2-4-2.1z" fill="#1c00ff" stroke="#1600cc"/>
<path d="M143.1 148.8l3.7 2.2 3.2-1.9-3.7-2.1z" fill="#0090ff" stroke="#0073cc"/>
<path d="M167.7 151.9l3.8 2.2 3.1-1.9-3.8-2.2z" fill="#002fff" stroke="#0025cc"/>
<path d="M136.1 148.4l3.7 2.2 3.3-1.8-3.7-2.2z" fill="#00a4ff" stroke="#0083cc"/>
<path d="M185.4 154.6l3.9 2.2 3.1-2-3.9-2.2z" fill="#1200ff" stroke="#0e00cc"/>
<path d="M129.2 148l3.6 2.2 3.3-1.8-3.6-2.1z" fill="#00baff" stroke="#0094cc"/>
<path d="M160.8 151.6l3.8 2.3 3.1-2-3.8-2.1z" fill="#0040ff" stroke="#03c"/>
<path d="M122.2 147.5l3.6 2.3 3.4-1.8-3.7-2.2z" fill="#00d0ff" stroke="#00a6cc"/>
<path d="M153.8 151.3l3.8 2.2 3.2-1.9-3.8-2.1z" fill="#0052ff" stroke="#0041cc"/>
<path d="M178.5 154.4l3.9 2.2 3-2-3.9-2.2z" fill="#0800ff" stroke="#0600cc"/>
<path d="M146.8 151l3.8 2.2 3.2-1.9-3.8-2.2z" fill="#0065ff" stroke="#0050cc"/>
<path d="M171.5 154.1l3.9 2.3 3.1-2-3.9-2.2z" fill="#0005ff" stroke="#0004cc"/>
<path d="M139.8 150.6l3.8 2.2 3.2-1.8-3.7-2.2z" fill="#007aff" stroke="#0061cc"/>
<path d="M189.3 156.8l4 2.2 3-2.1-3.9-2.1z" fill="#3100ff" stroke="#2700cc"/>
<path d="M164.6 153.9l3.8 2.2 3.1-2-3.8-2.2z" fill="#0016ff" stroke="#01c"/>
<path d="M132.8 150.2l3.8 2.2 3.2-1.8-3.7-2.2z" fill="#008fff" stroke="#0072cc"/>
<path d="M182.4 156.6l3.9 2.3 3-2.1-3.9-2.2z" fill="#2700ff" stroke="#1f00cc"/>
<path d="M125.8 149.8l3.7 2.2 3.3-1.8-3.6-2.2z" fill="#00a5ff" stroke="#0084cc"/>
<path d="M157.6 153.5l3.8 2.3 3.2-1.9-3.8-2.3z" fill="#0027ff" stroke="#001fcc"/>
<path d="M150.6 153.2l3.8 2.3 3.2-2-3.8-2.2z" fill="#003aff" stroke="#002ecc"/>
<path d="M175.4 156.4l3.9 2.3 3.1-2.1-3.9-2.2z" fill="#1c00ff" stroke="#1600cc"/>
<path d="M143.6 152.8l3.7 2.3 3.3-1.9-3.8-2.2z" fill="#004eff" stroke="#003ecc"/>
<path d="M168.4 156.1l3.9 2.3 3.1-2-3.9-2.3z" fill="#10f" stroke="#0d00cc"/>
<path d="M136.6 152.4l3.7 2.3 3.3-1.9-3.8-2.2z" fill="#0063ff" stroke="#004fcc"/>
<path d="M186.3 158.9l3.9 2.3 3.1-2.2-4-2.2z" fill="#4800ff" stroke="#3900cc"/>
<path d="M161.4 155.8l3.8 2.3 3.2-2-3.8-2.2z" fill="#0400ff" stroke="#0300cc"/>
<path d="M129.5 152l3.7 2.3 3.4-1.9-3.8-2.2z" fill="#0079ff" stroke="#0060cc"/>
<path d="M179.3 158.7l3.9 2.3 3.1-2.1-3.9-2.3z" fill="#3d00ff" stroke="#3000cc"/>
<path d="M154.4 155.5l3.8 2.3 3.2-2-3.8-2.3z" fill="#000dff" stroke="#000acc"/>
<path d="M147.3 155.1l3.8 2.4 3.3-2-3.8-2.3z" fill="#0021ff" stroke="#001acc"/>
<path d="M172.3 158.4l3.9 2.4 3.1-2.1-3.9-2.3z" fill="#3200ff" stroke="#2800cc"/>
<path d="M140.3 154.7l3.8 2.4 3.2-2-3.7-2.3z" fill="#0035ff" stroke="#002acc"/>
<path d="M165.2 158.1l3.9 2.4 3.2-2.1-3.9-2.3z" fill="#2500ff" stroke="#1d00cc"/>
<path d="M133.2 154.3l3.8 2.4 3.3-2-3.7-2.3z" fill="#004bff" stroke="#003ccc"/>
<path d="M183.2 161l4 2.4 3-2.2-3.9-2.3z" fill="#5f00ff" stroke="#4c00cc"/>
<path d="M158.2 157.8l3.9 2.4 3.1-2.1-3.8-2.3z" fill="#1800ff" stroke="#1300cc"/>
<path d="M151.1 157.5l3.9 2.4 3.2-2.1-3.8-2.3z" fill="#0a00ff" stroke="#0800cc"/>
<path d="M176.2 160.8l3.9 2.4 3.1-2.2-3.9-2.3z" fill="#5400ff" stroke="#4300cc"/>
<path d="M144.1 157.1l3.8 2.4 3.2-2-3.8-2.4z" fill="#0007ff" stroke="#0005cc"/>
<path d="M169.1 160.5l3.9 2.4 3.2-2.1-3.9-2.4z" fill="#4800ff" stroke="#3900cc"/>
<path d="M137 156.7l3.8 2.4 3.3-2-3.8-2.4z" fill="#001cff" stroke="#0016cc"/>
<path d="M162.1 160.2l3.8 2.4 3.2-2.1-3.9-2.4z" fill="#3b00ff" stroke="#2f00cc"/>
<path d="M180.1 163.2l4 2.4 3.1-2.2-4-2.4z" fill="#70f" stroke="#5f00cc"/>
<path d="M155 159.9l3.8 2.4 3.3-2.1-3.9-2.4z" fill="#2d00ff" stroke="#2400cc"/>
<path d="M147.9 159.5l3.8 2.5 3.3-2.1-3.9-2.4z" fill="#1e00ff" stroke="#1800cc"/>
<path d="M173 162.9l4 2.5 3.1-2.2-3.9-2.4z" fill="#6b00ff" stroke="#50c"/>
<path d="M140.8 159.1l3.8 2.5 3.3-2.1-3.8-2.4z" fill="#0f00ff" stroke="#0c00cc"/>
<path d="M165.9 162.6l3.9 2.5 3.2-2.2-3.9-2.4z" fill="#5f00ff" stroke="#4c00cc"/>
<path d="M158.8 162.3l3.9 2.5 3.2-2.2-3.8-2.4z" fill="#5100ff" stroke="#4000cc"/>
<path d="M177 165.4l3.9 2.5 3.2-2.3-4-2.4z" fill="#8f00ff" stroke="#7200cc"/>
<path d="M151.7 162l3.9 2.5 3.2-2.2-3.8-2.4z" fill="#4300ff" stroke="#3500cc"/>
<path d="M144.6 161.6l3.8 2.5 3.3-2.1-3.8-2.5z" fill="#3400ff" stroke="#2900cc"/>
<path d="M169.8 165.1l4 2.6 3.2-2.3-4-2.5z" fill="#8300ff" stroke="#6800cc"/>
<path d="M162.7 164.8l3.9 2.6 3.2-2.3-3.9-2.5z" fill="#7600ff" stroke="#5e00cc"/>
<path d="M155.6 164.5l3.9 2.6 3.2-2.3-3.9-2.5z" fill="#6800ff" stroke="#5300cc"/>
<path d="M173.8 167.7l4 2.6 3.1-2.4-3.9-2.5z" fill="#a900ff" stroke="#8700cc"/>
<path d="M148.4 164.1l3.9 2.6 3.3-2.2-3.9-2.5z" fill="#5900ff" stroke="#4700cc"/>
<path d="M166.6 167.4l4 2.6 3.2-2.3-4-2.6z" fill="#9c00ff" stroke="#7c00cc"/>
<path d="M159.5 167.1l3.9 2.6 3.2-2.3-3.9-2.6z" fill="#8f00ff" stroke="#7200cc"/>
<path d="M152.3 166.7l3.9 2.7 3.3-2.3-3.9-2.6z" fill="#8000ff" stroke="#60c"/>
<path d="M170.6 170l4 2.7 3.2-2.4-4-2.6z" fill="#c300ff" stroke="#9c00cc"/>
<path d="M163.4 169.7l4 2.7 3.2-2.4-4-2.6z" fill="#b600ff" stroke="#9100cc"/>
<path d="M156.2 169.4l3.9 2.7 3.3-2.4-3.9-2.6z" fill="#a800ff" stroke="#8600cc"/>
<path d="M167.4 172.4l3.9 2.8 3.3-2.5-4-2.7z" fill="#df00ff" stroke="#b200cc"/>
<path d="M160.1 172.1l4 2.7 3.3-2.4-4-2.7z" fill="#d100ff" stroke="#a700cc"/>
<path d="M164.1 174.8l4 2.9 3.2-2.5-3.9-2.8z" fill="#fb00ff" stroke="#c800cc"/>
</g>
<path d="M158.3 170.8L162.5 170.3M164.1 170.2L162.5 170.3M164.1 170.2L169.9 169.6M169.9 169.6L171.4 169.4M175.8 169L171.4 169.4M175.8 169L180.1 168.6M148 163.9L149 163.7M153.6 163.2L149 163.7M153.6 163.2L158.4 162.6M159.2 162.6L158.4 162.6M159.2 162.6L164.8 161.9M164.8 161.9L167.4 161.6M170.4 161.3L167.4 161.6M170.4 161.3L176.1 160.7M176.1 160.7L176.2 160.7M181.8 160.2L176.2 160.7M181.8 160.2L184.8 159.9M187.6 159.6L184.8 159.9M187.6 159.6L193.1 159.1M137.2 156.8L142.5 156.1M142.5 156.1L146.5 155.6M147.9 155.5L146.5 155.6M147.9 155.5L153.2 154.8M153.2 154.8L156.1 154.5M158.6 154.2L156.1 154.5M158.6 154.2L164 153.5M164 153.5L165.3 153.4M169.4 152.9L165.3 153.4M169.4 152.9L174.3 152.4M174.9 152.3L174.3 152.4M174.9 152.3L180.4 151.8M180.4 151.8L183 151.5M185.9 151.2L183 151.5M185.9 151.2L191.4 150.7M191.4 150.7L191.5 150.7M197 150.1L191.5 150.7M197 150.1L199.8 149.9M202.6 149.6L199.8 149.9M202.6 149.6L207.9 149.2M125.8 149.7L125.9 149.7M130.8 149L125.9 149.7M130.8 149L135.9 148.3M135.9 148.3L136.5 148.2M141 147.6L136.5 148.2M141 147.6L146.1 146.9M146.1 146.9L146.6 146.9M151.2 146.2L146.6 146.9M151.2 146.2L156.4 145.6M156.4 145.6L156.4 145.6M156.4 145.6L161.5 145M161.5 145L165.8 144.4M166.7 144.3L165.8 144.4M166.7 144.3L171.8 143.7M171.8 143.7L175 143.4M177 143.1L175 143.4M177 143.1L182.2 142.5M182.2 142.5L183.9 142.3M187.4 142L183.9 142.3M187.4 142L192.6 141.4M192.6 141.4L192.6 141.4M197.8 140.9L192.6 141.4M197.8 140.9L201.1 140.5M203 140.3L201.1 140.5M203 140.3L208.3 139.8M208.3 139.8L209.5 139.7M213.5 139.3L209.5 139.7M213.5 139.3L217.7 138.9M218.7 138.8L217.7 138.9M218.7 138.8L224 138.3M224 138.3L225.8 138.1M113.7 142.5L117.8 141.9M118.5 141.8L117.8 141.9M118.5 141.8L123.3 141M123.3 141L128.1 140.3M128.1 140.3L129.1 140.1M132.9 139.6L129.1 140.1M132.9 139.6L137.8 138.9M137.8 138.9L140 138.6M142.6 138.2L140 138.6M142.6 138.2L147.4 137.5M147.4 137.5L150.4 137.1M152.2 136.8L150.4 137.1M152.2 136.8L157 136.2M157 136.2L160.5 135.7M161.8 135.5L160.5 135.7M161.8 135.5L166.6 134.9M166.6 134.9L170.2 134.4M171.4 134.3L170.2 134.4M171.4 134.3L176.2 133.6M176.2 133.6L179.8 133.2M181 133L179.8 133.2M181 133L185.8 132.4M185.8 132.4L189.1 132M190.6 131.8L189.1 132M190.6 131.8L195.3 131.2M195.3 131.2L198.3 130.8M200.1 130.6L198.3 130.8M200.1 130.6L204.8 130M204.8 130L207.3 129.7M209.4 129.4L207.3 129.7M209.4 129.4L214.1 128.9M214.1 128.9L216.4 128.6M218.6 128.3L216.4 128.6M218.6 128.3L223.1 127.7M223.1 127.7L225.5 127.3M227.6 127.1L225.5 127.3M227.6 127.1L231.9 126.5M231.9 126.5L234.9 126M236.2 125.8L234.9 126M236.2 125.8L240.3 125.2M240.3 125.2L244.4 124.5M244.4 124.5L244.8 124.4M248.2 123.8L244.8 124.4M248.2 123.8L251.9 123.1M251.9 123.1L255.5 122.4M255.5 122.4L256.4 122.2M100.8 135.2L100.8 135.2M105.4 134.4L100.8 135.2M105.4 134.4L109.9 133.7M109.9 133.7L113.8 133M114.5 132.9L113.8 133M114.5 132.9L119 132.2M119 132.2L123.5 131.4M123.5 131.4L126.1 131M128 130.7L126.1 131M128 130.7L132.5 130M132.5 130L137 129.3M137 129.3L137.8 129.1M141.5 128.5L137.8 129.1M141.5 128.5L145.9 127.8M145.9 127.8L149.2 127.3M150.4 127.2L149.2 127.3M150.4 127.2L154.8 126.5M154.8 126.5L159.2 125.8M159.2 125.8L160.2 125.6M163.6 125.1L160.2 125.6M163.6 125.1L167.9 124.5M167.9 124.5L171 124M172.3 123.8L171 124M172.3 123.8L176.6 123.2M176.6 123.2L180.8 122.5M180.8 122.5L181.6 122.4M185.1 121.8L181.6 122.4M185.1 121.8L189.2 121.2M189.2 121.2L192.3 120.7M193.4 120.5L192.3 120.7M193.4 120.5L197.5 119.9M197.5 119.9L201.5 119.2M201.5 119.2L203.2 118.9M205.4 118.5L203.2 118.9M205.4 118.5L209.3 117.9M209.3 117.9L213.1 117.2M213.1 117.2L214.7 116.9M216.8 116.5L214.7 116.9M216.8 116.5L220.3 115.8M220.3 115.8L223.8 115.1M223.8 115.1L227.1 114.3M227.1 114.3L228.2 114.1M230.3 113.6L228.2 114.1M230.3 113.6L233.4 112.8M233.4 112.8L236.3 112M236.3 112L239.1 111.2M239.1 111.2L241.7 110.3M241.7 110.3L244.1 109.5M87.2 127.8L91.5 127M91.5 127L95.8 126.2M95.8 126.2L100 125.4M100 125.4L102.3 125M104.3 124.6L102.3 125M104.3 124.6L108.5 123.9M108.5 123.9L112.7 123.1M112.7 123.1L116.8 122.4M116.9 122.4L116.8 122.4M116.9 122.4L121 121.6M121 121.6L125.1 120.9M125.1 120.9L129.3 120.1M129.3 120.1L130.6 119.9M133.3 119.4L130.6 119.9M133.3 119.4L137.4 118.7M137.4 118.7L141.4 117.9M141.4 117.9L144.1 117.5M145.4 117.2L144.1 117.5M145.4 117.2L149.4 116.5M149.4 116.5L153.3 115.8M153.3 115.8L157.2 115.1M157.3 115.1L157.2 115.1M157.3 115.1L161.1 114.4M161.1 114.4L164.9 113.7M164.9 113.7L168.7 113M168.7 113L170.6 112.6M172.4 112.3L170.6 112.6M172.4 112.3L176.1 111.6M176.1 111.6L179.7 110.9M179.7 110.9L183.3 110.2M183.3 110.2L184.7 109.9M186.7 109.5L184.7 109.9M186.7 109.5L190.2 108.7M190.2 108.7L193.5 108M193.5 108L196.7 107.3M196.7 107.3L199.9 106.6M199.9 106.6L201.5 106.2M203 105.8L201.5 106.2M203 105.8L206 105.1M206 105.1L208.8 104.3M208.8 104.3L211.6 103.5M211.6 103.5L214.3 102.7M214.3 102.7L216.9 101.9M216.9 101.9L219.3 101.1M72.9 120.4L76.9 119.5M76.9 119.5L79.2 119.1M80.9 118.7L79.2 119.1M80.9 118.7L84.8 117.9M84.8 117.9L88.8 117.1M88.8 117.1L92.7 116.3M92.7 116.3L96.6 115.5M96.6 115.5L98.9 115M100.5 114.7L98.9 115M100.5 114.7L104.3 113.9M104.3 113.9L108.1 113.1M108.1 113.1L111.9 112.4M111.9 112.4L115.6 111.6M115.6 111.6L117.5 111.2M119.3 110.8L117.5 111.2M119.3 110.8L123 110.1M123 110.1L126.7 109.3M126.7 109.3L130.3 108.6M130.3 108.6L133.9 107.8M133.9 107.8L135.7 107.5M137.5 107.1L135.7 107.5M137.5 107.1L141 106.4M141 106.4L144.5 105.6M144.5 105.6L147.9 104.9M147.9 104.9L151.3 104.2M151.3 104.2L154.6 103.5M154.6 103.4L154.6 103.5M154.6 103.4L157.9 102.7M157.9 102.7L161.2 102M161.2 102L164.3 101.3M164.3 101.3L167.5 100.5M167.5 100.5L170.6 99.8M170.6 99.8L173.6 99.1M173.6 99.1L176.5 98.3M176.5 98.3L178.2 97.9M179.4 97.6L178.2 97.9M179.4 97.6L182.3 96.9M182.3 96.9L185 96.1M185 96.1L187.7 95.4M187.7 95.4L190.3 94.6M190.3 94.6L192.9 93.9M192.9 93.9L195.4 93.1M58 112.9L61.7 112M61.7 112L65.4 111.2M65.4 111.2L69.1 110.3M69.1 110.3L72.7 109.5M72.7 109.5L76.3 108.6M76.3 108.6L79.9 107.8M79.9 107.8L83.4 107M83.4 107L87 106.2M87 106.2L90.5 105.4M90.5 105.4L91 105.3M93.9 104.6L91 105.3M93.9 104.6L97.4 103.8M97.4 103.8L100.8 103M100.8 103L104.1 102.2M104.1 102.2L107.5 101.5M107.5 101.5L110.8 100.7M110.8 100.7L114.1 99.9M114.1 99.9L117.3 99.2M117.3 99.2L120.6 98.4M120.6 98.4L123.5 97.7M123.7 97.7L123.5 97.7M123.7 97.7L126.9 96.9M126.9 96.9L130 96.2M130 96.2L133.1 95.4M133.1 95.4L136.1 94.7M136.1 94.7L139.1 94M139.1 94L142.1 93.3M142.1 93.3L145 92.5M145 92.5L147.9 91.8M147.9 91.8L150.7 91.1M150.7 91.1L153.5 90.4M153.5 90.4L156.3 89.6M156.3 89.6L159 88.9M159 88.9L161.7 88.2M161.7 88.2L164.3 87.5M164.3 87.5L166.9 86.8M166.9 86.8L169.5 86.1M169.5 86.1L172 85.4" fill="none" stroke="#000" stroke-opacity=".4" stroke-width=".4"/>
<g fill="none" stroke="#333" stroke-width=".9">
<path d="M46.1 191.8L39.5 35.6"/>
<path d="M46.1 191.8L168 236.1"/>
<path d="M168 236.1L265.1 184.9"/>
<path d="M46.1 191.8h3"/>
<path d="M45.5 176.9h1.6"/>
<path d="M44.9 161.9h1.6"/>
<path d="M44.2 146.7h1.6"/>
<path d="M43.6 131.4h1.6"/>
<path d="M42.9 115.9h3"/>
<path d="M42.2 100.2h1.6"/>
<path d="M41.6 84.3h1.6"/>
<path d="M40.9 68.3h1.6"/>
<path d="M40.2 52h1.6"/>
<path d="M39.5 35.6h3"/>
<path d="M46.1 191.8l0-3.2"/>
<path d="M168 236.1l0-3.2"/>
<path d="M61.4 197.4l0-2"/>
<path d="M184 227.7l0-2"/>
<path d="M77.4 203.2l0-3.2"/>
<path d="M199.3 219.6l0-3.2"/>
<path d="M94 209.2l0-2"/>
<path d="M213.7 212l0-2"/>
<path d="M111.3 215.5l0-3.2"/>
<path d="M227.5 204.7l0-3.2"/>
<path d="M129.4 222.1l0-2"/>
<path d="M240.6 197.8l0-2"/>
<path d="M148.2 228.9l0-3.2"/>
<path d="M253.1 191.2l0-3.2"/>
<path d="M168 236.1l0-2"/>
<path d="M265.1 184.9l0-2"/>
</g>
<g fill="none" stroke-linecap="butt">
<path d="M364.2 194.7L473.5 154.6" stroke="#e2e2e2" stroke-width="0.7"/>
<path d="M364.2 194.7L494.1 240.4" stroke="#e2e2e2" stroke-width="0.7"/>
<path d="M364.2 194.7L357 33.9" stroke="#e2e2e2" stroke-width="0.7"/>
<path d="M473.5 154.6L473.4 15.7" stroke="#e2e2e2" stroke-width="0.7"/>
<path d="M380.5 200.4L489.3 158.8" stroke="#e2e2e2" stroke-width="0.7"/>
<path d="M381.9 188.2L511.1 231.6" stroke="#e2e2e2" stroke-width="0.7"/>
<path d="M381.9 188.2L376.1 30.9" stroke="#e2e2e2" stroke-width="0.7"/>
<path d="M489.3 158.8L490.2 17.6" stroke="#e2e2e2" stroke-width="0.7"/>
<path d="M397.5 206.4L505.7 163.2" stroke="#e2e2e2" stroke-width="0.7"/>
<path d="M398.9 181.9L527.3 223.3" stroke="#e2e2e2" stroke-width="0.7"/>
<path d="M398.9 181.9L394.2 28.1" stroke="#e2e2e2" stroke-width="0.7"/>
<path d="M505.7 163.2L507.5 19.7" stroke="#e2e2e2" stroke-width="0.7"/>
<path d="M415.2 212.6L522.7 167.7" stroke="#e2e2e2" stroke-width="0.7"/>
<path d="M415.2 176L542.6 215.5" stroke="#e2e2e2" stroke-width="0.7"/>
<path d="M415.2 176L411.6 25.3" stroke="#e2e2e2" stroke-width="0.7"/>
<path d="M522.7 167.7L525.5 21.8" stroke="#e2e2e2" stroke-width="0.7"/>
<path d="M433.7 219.1L540.3 172.4" stroke="#e2e2e2" stroke-width="0.7"/>
<path d="M430.7 170.3L557.2 208" stroke="#e2e2e2" stroke-width="0.7"/>
<path d="M430.7 170.3L428.1 22.8" stroke="#e2e2e2" stroke-width="0.7"/>
<path d="M540.3 172.4L544.2 24" stroke="#e2e2e2" stroke-width="0.7"/>
<path d="M453 225.9L558.5 177.3" stroke="#e2e2e2" stroke-width="0.7"/>
<path d="M445.5 164.8L571.1 200.9" stroke="#e2e2e2" stroke-width="0.7"/>
<path d="M445.5 164.8L443.9 20.3" stroke="#e2e2e2" stroke-width="0.7"/>
<path d="M558.5 177.3L563.6 26.3" stroke="#e2e2e2" stroke-width="0.7"/>
<path d="M473.1 233L577.4 182.4" stroke="#e2e2e2" stroke-width="0.7"/>
<path d="M459.8 159.6L584.4 194.1" stroke="#e2e2e2" stroke-width="0.7"/>
<path d="M459.8 159.6L459 17.9" stroke="#e2e2e2" stroke-width="0.7"/>
<path d="M577.4 182.4L583.7 28.7" stroke="#e2e2e2" stroke-width="0.7"/>
<path d="M494.1 240.4L597 187.6" stroke="#e2e2e2" stroke-width="0.7"/>
<path d="M473.5 154.6L597 187.6" stroke="#e2e2e2" stroke-width="0.7"/>
<path d="M473.5 154.6L473.4 15.7" stroke="#e2e2e2" stroke-width="0.7"/>
<path d="M597 187.6L604.7 31.2" stroke="#e2e2e2" stroke-width="0.7"/>
<path d="M364.2 194.7L473.5 154.6" stroke="#e2e2e2" stroke-width="0.7"/>
<path d="M473.5 154.6L597 187.6" stroke="#e2e2e2" stroke-width="0.7"/>
<path d="M363.5 179.5L473.5 141.3" stroke="#e2e2e2" stroke-width="0.7"/>
<path d="M473.5 141.3L597.7 172.8" stroke="#e2e2e2" stroke-width="0.7"/>
<path d="M362.8 164.1L473.5 128" stroke="#e2e2e2" stroke-width="0.7"/>
<path d="M473.5 128L598.5 157.8" stroke="#e2e2e2" stroke-width="0.7"/>
<path d="M362.1 148.5L473.5 114.4" stroke="#e2e2e2" stroke-width="0.7"/>
<path d="M473.5 114.4L599.2 142.7" stroke="#e2e2e2" stroke-width="0.7"/>
<path d="M361.4 132.8L473.5 100.8" stroke="#e2e2e2" stroke-width="0.7"/>
<path d="M473.5 100.8L600 127.3" stroke="#e2e2e2" stroke-width="0.7"/>
<path d="M360.7 116.8L473.5 87" stroke="#e2e2e2" stroke-width="0.7"/>
<path d="M473.5 87L600.7 111.8" stroke="#e2e2e2" stroke-width="0.7"/>
<path d="M360 100.6L473.4 73" stroke="#e2e2e2" stroke-width="0.7"/>
<path d="M473.4 73L601.5 96.1" stroke="#e2e2e2" stroke-width="0.7"/>
<path d="M359.2 84.3L473.4 58.9" stroke="#e2e2e2" stroke-width="0.7"/>
<path d="M473.4 58.9L602.3 80.2" stroke="#e2e2e2" stroke-width="0.7"/>
<path d="M358.5 67.7L473.4 44.7" stroke="#e2e2e2" stroke-width="0.7"/>
<path d="M473.4 44.7L603.1 64" stroke="#e2e2e2" stroke-width="0.7"/>
<path d="M357.8 50.9L473.4 30.2" stroke="#e2e2e2" stroke-width="0.7"/>
<path d="M473.4 30.2L603.9 47.7" stroke="#e2e2e2" stroke-width="0.7"/>
<path d="M357 33.9L473.4 15.7" stroke="#e2e2e2" stroke-width="0.7"/>
<path d="M473.4 15.7L604.7 31.2" stroke="#e2e2e2" stroke-width="0.7"/>
<path d="M357 33.9L473.4 15.7" stroke="#8f8f8f" stroke-width="0.6"/>
<path d="M473.4 15.7L604.7 31.2" stroke="#8f8f8f" stroke-width="0.6" stroke-dasharray="5 1"/>
<path d="M604.7 31.2L597 187.6" stroke="#8f8f8f" stroke-width="0.6" stroke-dasharray="5 1.5"/>
<path d="M473.5 154.6L473.4 15.7" stroke="#c4c4c4" stroke-width="0.7"/>
<path d="M364.2 194.7L473.5 154.6" stroke="#9a9a9a" stroke-width="0.7"/>
<path d="M473.5 154.6L597 187.6" stroke="#9a9a9a" stroke-width="0.7"/>
</g>
<g stroke-width=".3" stroke-linejoin="round">
<path d="M470.8 78.5l3.1 1 2.7-0.7-3.1-1z" fill="#3cffc3" stroke="#30cc9c"/>
<path d="M473.9 79.5l3.1 1 2.7-0.7-3.1-1z" fill="#2fffd0" stroke="#25cca6"/>
<path d="M468 79.1l3.2 1.1 2.7-0.7-3.1-1z" fill="#3cffc3" stroke="#30cc9c"/>
<path d="M477 80.5l3.2 1 2.7-0.7-3.2-1z" fill="#23ffdc" stroke="#1cccb0"/>
<path d="M471.2 80.2l3.1 1 2.7-0.7-3.1-1z" fill="#2fffd0" stroke="#25cca6"/>
<path d="M465.3 79.8l3.1 1.1 2.8-0.7-3.2-1.1z" fill="#3cffc3" stroke="#30cc9c"/>
<path d="M480.2 81.5l3.2 1 2.7-0.7-3.2-1z" fill="#17ffe8" stroke="#12ccb9"/>
<path d="M474.3 81.2l3.2 1 2.7-0.7-3.2-1z" fill="#23ffdc" stroke="#1cccb0"/>
<path d="M468.4 80.9l3.2 1 2.7-0.7-3.1-1z" fill="#2fffd0" stroke="#25cca6"/>
<path d="M462.5 80.5l3.2 1.1 2.7-0.7-3.1-1.1z" fill="#3cffc3" stroke="#30cc9c"/>
<path d="M483.4 82.5l3.2 1 2.7-0.7-3.2-1z" fill="#0cfff3" stroke="#09ccc2"/>
<path d="M477.5 82.2l3.2 1 2.7-0.7-3.2-1z" fill="#17ffe8" stroke="#12ccb9"/>
<path d="M471.6 81.9l3.2 1 2.7-0.7-3.2-1z" fill="#23ffdc" stroke="#1cccb0"/>
<path d="M465.7 81.6l3.2 1 2.7-0.7-3.2-1z" fill="#2fffd0" stroke="#25cca6"/>
<path d="M459.7 81.2l3.2 1.1 2.8-0.7-3.2-1.1z" fill="#3cffc3" stroke="#30cc9c"/>
<path d="M486.6 83.5l3.3 0.9 2.7-0.7-3.3-0.9z" fill="#01fffe" stroke="#00cccb"/>
<path d="M480.7 83.2l3.2 1 2.7-0.7-3.2-1z" fill="#0cfff3" stroke="#09ccc2"/>
<path d="M474.8 82.9l3.2 1 2.7-0.7-3.2-1z" fill="#17ffe8" stroke="#12ccb9"/>
<path d="M468.9 82.6l3.1 1 2.8-0.7-3.2-1z" fill="#23ffdc" stroke="#1cccb0"/>
<path d="M462.9 82.3l3.2 1 2.8-0.7-3.2-1z" fill="#2fffd0" stroke="#25cca6"/>
<path d="M489.9 84.4l3.2 1 2.7-0.7-3.2-1z" fill="#00f6ff" stroke="#00c4cc"/>
<path d="M456.9 81.9l3.2 1.1 2.8-0.7-3.2-1.1z" fill="#3cffc3" stroke="#30cc9c"/>
<path d="M483.9 84.2l3.3 1 2.7-0.8-3.3-0.9z" fill="#01fffe" stroke="#00cccb"/>
<path d="M478 83.9l3.2 1 2.7-0.7-3.2-1z" fill="#0cfff3" stroke="#09ccc2"/>
<path d="M472 83.6l3.3 1.1 2.7-0.8-3.2-1z" fill="#17ffe8" stroke="#12ccb9"/>
<path d="M466.1 83.3l3.2 1.1 2.7-0.8-3.1-1z" fill="#23ffdc" stroke="#1cccb0"/>
<path d="M493.1 85.4l3.3 0.9 2.7-0.7-3.3-0.9z" fill="#00ecff" stroke="#00bccc"/>
<path d="M460.1 83l3.2 1.1 2.8-0.8-3.2-1z" fill="#2fffd0" stroke="#25cca6"/>
<path d="M487.2 85.2l3.3 0.9 2.6-0.7-3.2-1z" fill="#00f6ff" stroke="#00c4cc"/>
<path d="M454.1 82.6l3.2 1.1 2.8-0.7-3.2-1.1z" fill="#3cffc3" stroke="#30cc9c"/>
<path d="M481.2 84.9l3.3 1 2.7-0.7-3.3-1z" fill="#02fffd" stroke="#01ccca"/>
<path d="M475.3 84.7l3.2 0.9 2.7-0.7-3.2-1z" fill="#0cfff3" stroke="#09ccc2"/>
<path d="M469.3 84.4l3.2 1 2.8-0.7-3.3-1.1z" fill="#17ffe8" stroke="#12ccb9"/>
<path d="M496.4 86.3l3.3 1 2.7-0.7-3.3-1z" fill="#00e2ff" stroke="#00b4cc"/>
<path d="M463.3 84.1l3.2 1 2.8-0.7-3.2-1.1z" fill="#23ffdc" stroke="#1cccb0"/>
<path d="M490.5 86.1l3.2 0.9 2.7-0.7-3.3-0.9z" fill="#00ecff" stroke="#00bccc"/>
<path d="M457.3 83.7l3.1 1.1 2.9-0.7-3.2-1.1z" fill="#2fffd0" stroke="#25cca6"/>
<path d="M451.2 83.4l3.2 1 2.9-0.7-3.2-1.1z" fill="#3cffc3" stroke="#30cc9c"/>
<path d="M484.5 85.9l3.2 0.9 2.8-0.7-3.3-0.9z" fill="#00f6ff" stroke="#00c4cc"/>
<path d="M478.5 85.6l3.2 1 2.8-0.7-3.3-1z" fill="#02fffd" stroke="#01ccca"/>
<path d="M499.7 87.3l3.4 0.9 2.6-0.7-3.3-0.9z" fill="#00d8ff" stroke="#00accc"/>
<path d="M472.5 85.4l3.2 1 2.8-0.8-3.2-0.9z" fill="#0cfff3" stroke="#09ccc2"/>
<path d="M466.5 85.1l3.2 1 2.8-0.7-3.2-1z" fill="#17ffe8" stroke="#12ccb9"/>
<path d="M493.7 87l3.4 1 2.6-0.7-3.3-1z" fill="#00e2ff" stroke="#00b4cc"/>
<path d="M460.4 84.8l3.2 1 2.9-0.7-3.2-1z" fill="#23ffdc" stroke="#1cccb0"/>
<path d="M487.7 86.8l3.3 1 2.7-0.8-3.2-0.9z" fill="#00ecff" stroke="#00bccc"/>
<path d="M454.4 84.4l3.2 1.1 2.8-0.7-3.1-1.1z" fill="#2fffd0" stroke="#25cca6"/>
<path d="M448.4 84.1l3.1 1.1 2.9-0.8-3.2-1z" fill="#3cffc3" stroke="#30cc9c"/>
<path d="M481.7 86.6l3.3 1 2.7-0.8-3.2-0.9z" fill="#00f6ff" stroke="#00c4cc"/>
<path d="M503.1 88.2l3.3 0.9 2.7-0.7-3.4-0.9z" fill="#00cfff" stroke="#00a5cc"/>
<path d="M475.7 86.4l3.3 0.9 2.7-0.7-3.2-1z" fill="#02fffd" stroke="#01ccca"/>
<path d="M469.7 86.1l3.2 1 2.8-0.7-3.2-1z" fill="#0cfff3" stroke="#09ccc2"/>
<path d="M497.1 88l3.3 0.9 2.7-0.7-3.4-0.9z" fill="#00d9ff" stroke="#00adcc"/>
<path d="M463.6 85.8l3.3 1 2.8-0.7-3.2-1z" fill="#17ffe8" stroke="#12ccb9"/>
<path d="M491 87.8l3.4 0.9 2.7-0.7-3.4-1z" fill="#00e3ff" stroke="#00b5cc"/>
<path d="M457.6 85.5l3.2 1.1 2.8-0.8-3.2-1z" fill="#23ffdc" stroke="#1cccb0"/>
<path d="M451.5 85.2l3.2 1 2.9-0.7-3.2-1.1z" fill="#2fffd0" stroke="#25cca6"/>
<path d="M485 87.6l3.3 0.9 2.7-0.7-3.3-1z" fill="#00ecff" stroke="#00bccc"/>
<path d="M445.5 84.8l3.1 1.1 2.9-0.7-3.1-1.1z" fill="#3cffc3" stroke="#30cc9c"/>
<path d="M506.4 89.1l3.4 1 2.6-0.7-3.3-1z" fill="#00c5ff" stroke="#009dcc"/>
<path d="M479 87.3l3.3 1 2.7-0.7-3.3-1z" fill="#00f6ff" stroke="#00c4cc"/>
<path d="M500.4 88.9l3.3 0.9 2.7-0.7-3.3-0.9z" fill="#00d0ff" stroke="#00a6cc"/>
<path d="M472.9 87.1l3.3 1 2.8-0.8-3.3-0.9z" fill="#02fffd" stroke="#01ccca"/>
<path d="M466.9 86.8l3.2 1 2.8-0.7-3.2-1z" fill="#0cfff3" stroke="#09ccc2"/>
<path d="M494.4 88.7l3.3 0.9 2.7-0.7-3.3-0.9z" fill="#00daff" stroke="#00aecc"/>
<path d="M460.8 86.6l3.2 1 2.9-0.8-3.3-1z" fill="#17ffe8" stroke="#12ccb9"/>
<path d="M488.3 88.5l3.3 0.9 2.8-0.7-3.4-0.9z" fill="#00e3ff" stroke="#00b5cc"/>
<path d="M454.7 86.2l3.2 1.1 2.9-0.7-3.2-1.1z" fill="#23ffdc" stroke="#1cccb0"/>
<path d="M509.8 90.1l3.4 0.9 2.6-0.6-3.4-1z" fill="#0bf" stroke="#0095cc"/>
<path d="M448.6 85.9l3.2 1.1 2.9-0.8-3.2-1z" fill="#2fffd0" stroke="#25cca6"/>
<path d="M482.3 88.3l3.3 1 2.7-0.8-3.3-0.9z" fill="#00edff" stroke="#00bdcc"/>
<path d="M442.5 85.5l3.2 1.1 2.9-0.7-3.1-1.1z" fill="#3cffc3" stroke="#30cc9c"/>
<path d="M503.7 89.8l3.4 1 2.7-0.7-3.4-1z" fill="#00c7ff" stroke="#009fcc"/>
<path d="M476.2 88.1l3.3 1 2.8-0.8-3.3-1z" fill="#00f7ff" stroke="#00c5cc"/>
<path d="M470.1 87.8l3.3 1 2.8-0.7-3.3-1z" fill="#02fffd" stroke="#01ccca"/>
<path d="M497.7 89.6l3.4 1 2.6-0.8-3.3-0.9z" fill="#00d1ff" stroke="#00a7cc"/>
<path d="M464 87.6l3.3 1 2.8-0.8-3.2-1z" fill="#0cfff3" stroke="#09ccc2"/>
<path d="M491.6 89.4l3.4 1 2.7-0.8-3.3-0.9z" fill="#00daff" stroke="#00aecc"/>
<path d="M513.2 91l3.4 1 2.6-0.6-3.4-1z" fill="#00b0ff" stroke="#008ccc"/>
<path d="M457.9 87.3l3.3 1 2.8-0.7-3.2-1z" fill="#17ffe8" stroke="#12ccb9"/>
<path d="M451.8 87l3.2 1 2.9-0.7-3.2-1.1z" fill="#23ffdc" stroke="#1cccb0"/>
<path d="M485.6 89.3l3.3 0.9 2.7-0.8-3.3-0.9z" fill="#00e3ff" stroke="#00b5cc"/>
<path d="M445.7 86.6l3.2 1.1 2.9-0.7-3.2-1.1z" fill="#2fffd0" stroke="#25cca6"/>
<path d="M507.1 90.8l3.4 0.9 2.7-0.7-3.4-0.9z" fill="#00bdff" stroke="#0097cc"/>
<path d="M479.5 89.1l3.3 0.9 2.8-0.7-3.3-1z" fill="#00edff" stroke="#00bdcc"/>
<path d="M439.6 86.3l3.2 1.1 2.9-0.8-3.2-1.1z" fill="#3cffc3" stroke="#30cc9c"/>
<path d="M501.1 90.6l3.3 0.9 2.7-0.7-3.4-1z" fill="#00c8ff" stroke="#00a0cc"/>
<path d="M473.4 88.8l3.3 1 2.8-0.7-3.3-1z" fill="#00f7ff" stroke="#00c5cc"/>
<path d="M467.3 88.6l3.3 1 2.8-0.8-3.3-1z" fill="#02fffd" stroke="#01ccca"/>
<path d="M495 90.4l3.3 0.9 2.8-0.7-3.4-1z" fill="#00d1ff" stroke="#00a7cc"/>
<path d="M516.6 92l3.4 1.1 2.7-0.6-3.5-1.1z" fill="#00a3ff" stroke="#0082cc"/>
<path d="M461.2 88.3l3.2 1.1 2.9-0.8-3.3-1z" fill="#0cfff3" stroke="#09ccc2"/>
<path d="M488.9 90.2l3.3 0.9 2.8-0.7-3.4-1z" fill="#00daff" stroke="#00aecc"/>
<path d="M455 88l3.3 1.1 2.9-0.8-3.3-1z" fill="#17ffe8" stroke="#12ccb9"/>
<path d="M510.5 91.7l3.4 1 2.7-0.7-3.4-1z" fill="#00b3ff" stroke="#008fcc"/>
<path d="M448.9 87.7l3.2 1.1 2.9-0.8-3.2-1z" fill="#23ffdc" stroke="#1cccb0"/>
<path d="M482.8 90l3.3 1 2.8-0.8-3.3-0.9z" fill="#00e3ff" stroke="#00b5cc"/>
<path d="M442.8 87.4l3.2 1.1 2.9-0.8-3.2-1.1z" fill="#2fffd0" stroke="#25cca6"/>
<path d="M504.4 91.5l3.4 0.9 2.7-0.7-3.4-0.9z" fill="#00bfff" stroke="#0098cc"/>
<path d="M436.6 87l3.2 1.1 3-0.7-3.2-1.1z" fill="#3cffc3" stroke="#30cc9c"/>
<path d="M476.7 89.8l3.3 1 2.8-0.8-3.3-0.9z" fill="#00edff" stroke="#00bdcc"/>
<path d="M520 93.1l3.5 1.1 2.6-0.5-3.4-1.2z" fill="#0096ff" stroke="#0078cc"/>
<path d="M470.6 89.6l3.2 1 2.9-0.8-3.3-1z" fill="#00f7ff" stroke="#00c5cc"/>
<path d="M498.3 91.3l3.4 0.9 2.7-0.7-3.3-0.9z" fill="#00c9ff" stroke="#00a0cc"/>
<path d="M464.4 89.4l3.3 1 2.9-0.8-3.3-1z" fill="#02fffd" stroke="#01ccca"/>
<path d="M492.2 91.1l3.4 1 2.7-0.8-3.3-0.9z" fill="#00d2ff" stroke="#00a8cc"/>
<path d="M513.9 92.7l3.5 1 2.6-0.6-3.4-1.1z" fill="#00a8ff" stroke="#0086cc"/>
<path d="M458.3 89.1l3.2 1 2.9-0.7-3.2-1.1z" fill="#0cfff3" stroke="#09ccc2"/>
<path d="M452.1 88.8l3.3 1.1 2.9-0.8-3.3-1.1z" fill="#17ffe8" stroke="#12ccb9"/>
<path d="M486.1 91l3.4 0.9 2.7-0.8-3.3-0.9z" fill="#00dbff" stroke="#00afcc"/>
<path d="M446 88.5l3.2 1.1 2.9-0.8-3.2-1.1z" fill="#23ffdc" stroke="#1cccb0"/>
<path d="M507.8 92.4l3.5 1 2.6-0.7-3.4-1z" fill="#00b6ff" stroke="#0091cc"/>
<path d="M480 90.8l3.3 0.9 2.8-0.7-3.3-1z" fill="#00e4ff" stroke="#00b6cc"/>
<path d="M439.8 88.1l3.2 1.2 3-0.8-3.2-1.1z" fill="#2fffd0" stroke="#25cca6"/>
<path d="M523.5 94.2l3.5 1.2 2.6-0.5-3.5-1.2z" fill="#0086ff" stroke="#006bcc"/>
<path d="M433.6 87.8l3.2 1.1 3-0.8-3.2-1.1z" fill="#3cffc3" stroke="#30cc9c"/>
<path d="M501.7 92.2l3.4 1 2.7-0.8-3.4-0.9z" fill="#00c1ff" stroke="#009acc"/>
<path d="M473.8 90.6l3.4 0.9 2.8-0.7-3.3-1z" fill="#00edff" stroke="#00bdcc"/>
<path d="M467.7 90.4l3.3 0.9 2.8-0.7-3.2-1z" fill="#00f7ff" stroke="#00c5cc"/>
<path d="M517.4 93.7l3.5 1.1 2.6-0.6-3.5-1.1z" fill="#009cff" stroke="#007ccc"/>
<path d="M495.6 92.1l3.4 0.9 2.7-0.8-3.4-0.9z" fill="#00caff" stroke="#00a1cc"/>
<path d="M461.5 90.1l3.3 1 2.9-0.7-3.3-1z" fill="#02fffd" stroke="#01ccca"/>
<path d="M489.5 91.9l3.3 0.9 2.8-0.7-3.4-1z" fill="#00d2ff" stroke="#00a8cc"/>
<path d="M455.4 89.9l3.2 1 2.9-0.8-3.2-1z" fill="#0cfff3" stroke="#09ccc2"/>
<path d="M511.3 93.4l3.4 1 2.7-0.7-3.5-1z" fill="#00acff" stroke="#0089cc"/>
<path d="M449.2 89.6l3.2 1 3-0.7-3.3-1.1z" fill="#17ffe8" stroke="#12ccb9"/>
<path d="M527 95.4l3.5 1.3 2.6-0.4-3.5-1.4z" fill="#0074ff" stroke="#005ccc"/>
<path d="M483.3 91.7l3.4 1 2.8-0.8-3.4-0.9z" fill="#00dbff" stroke="#00afcc"/>
<path d="M443 89.3l3.2 1 3-0.7-3.2-1.1z" fill="#23ffdc" stroke="#1cccb0"/>
<path d="M505.1 93.2l3.5 0.9 2.7-0.7-3.5-1z" fill="#00b8ff" stroke="#0093cc"/>
<path d="M436.8 88.9l3.2 1.1 3-0.7-3.2-1.2z" fill="#2fffd0" stroke="#25cca6"/>
<path d="M477.2 91.5l3.3 1 2.8-0.8-3.3-0.9z" fill="#00e4ff" stroke="#00b6cc"/>
<path d="M430.6 88.5l3.1 1.2 3.1-0.8-3.2-1.1z" fill="#3cffc3" stroke="#30cc9c"/>
<path d="M520.9 94.8l3.5 1.1 2.6-0.5-3.5-1.2z" fill="#008eff" stroke="#0071cc"/>
<path d="M471 91.3l3.3 1 2.9-0.8-3.4-0.9z" fill="#00edff" stroke="#00bdcc"/>
<path d="M499 93l3.4 0.9 2.7-0.7-3.4-1z" fill="#00c2ff" stroke="#009bcc"/>
<path d="M464.8 91.1l3.3 1 2.9-0.8-3.3-0.9z" fill="#00f7ff" stroke="#00c5cc"/>
<path d="M492.8 92.8l3.4 1 2.8-0.8-3.4-0.9z" fill="#00caff" stroke="#00a1cc"/>
<path d="M514.7 94.4l3.5 1 2.7-0.6-3.5-1.1z" fill="#00a1ff" stroke="#0080cc"/>
<path d="M458.6 90.9l3.3 1 2.9-0.8-3.3-1z" fill="#02fffd" stroke="#01ccca"/>
<path d="M530.5 96.7l3.5 1.3 2.6-0.3-3.5-1.4z" fill="#0060ff" stroke="#004ccc"/>
<path d="M452.4 90.6l3.3 1.1 2.9-0.8-3.2-1z" fill="#0cfff3" stroke="#09ccc2"/>
<path d="M486.7 92.7l3.4 0.9 2.7-0.8-3.3-0.9z" fill="#00d2ff" stroke="#00a8cc"/>
<path d="M446.2 90.3l3.3 1.1 2.9-0.8-3.2-1z" fill="#17ffe8" stroke="#12ccb9"/>
<path d="M508.6 94.1l3.4 1 2.7-0.7-3.4-1z" fill="#00afff" stroke="#008ccc"/>
<path d="M480.5 92.5l3.4 1 2.8-0.8-3.4-1z" fill="#00dbff" stroke="#00afcc"/>
<path d="M440 90l3.2 1.1 3-0.8-3.2-1z" fill="#23ffdc" stroke="#1cccb0"/>
<path d="M524.4 95.9l3.5 1.2 2.6-0.4-3.5-1.3z" fill="#007fff" stroke="#0065cc"/>
<path d="M433.7 89.7l3.3 1.1 3-0.8-3.2-1.1z" fill="#2fffd0" stroke="#25cca6"/>
<path d="M502.4 93.9l3.5 1 2.7-0.8-3.5-0.9z" fill="#00b9ff" stroke="#0094cc"/>
<path d="M427.5 89.3l3.2 1.2 3-0.8-3.1-1.2z" fill="#3cffc3" stroke="#30cc9c"/>
<path d="M474.3 92.3l3.4 1 2.8-0.8-3.3-1z" fill="#00e4ff" stroke="#00b6cc"/>
<path d="M468.1 92.1l3.3 1 2.9-0.8-3.3-1z" fill="#00edff" stroke="#00bdcc"/>
<path d="M518.2 95.4l3.5 1.1 2.7-0.6-3.5-1.1z" fill="#0095ff" stroke="#07c"/>
<path d="M496.2 93.8l3.5 0.9 2.7-0.8-3.4-0.9z" fill="#00c2ff" stroke="#009bcc"/>
<path d="M534 98l3.6 1.4 2.5-0.3-3.5-1.4z" fill="#004aff" stroke="#003bcc"/>
<path d="M461.9 91.9l3.3 1 2.9-0.8-3.3-1z" fill="#00f7ff" stroke="#00c5cc"/>
<path d="M490.1 93.6l3.4 0.9 2.7-0.7-3.4-1z" fill="#00caff" stroke="#00a1cc"/>
<path d="M455.7 91.7l3.3 1 2.9-0.8-3.3-1z" fill="#02fffd" stroke="#01ccca"/>
<path d="M512 95.1l3.5 1 2.7-0.7-3.5-1z" fill="#00a5ff" stroke="#0084cc"/>
<path d="M449.5 91.4l3.2 1 3-0.7-3.3-1.1z" fill="#0cfff3" stroke="#09ccc2"/>
<path d="M527.9 97.1l3.5 1.3 2.6-0.4-3.5-1.3z" fill="#006dff" stroke="#0057cc"/>
<path d="M483.9 93.5l3.3 0.9 2.9-0.8-3.4-0.9z" fill="#00d2ff" stroke="#00a8cc"/>
<path d="M443.2 91.1l3.3 1.1 3-0.8-3.3-1.1z" fill="#17ffe8" stroke="#12ccb9"/>
<path d="M505.9 94.9l3.4 0.9 2.7-0.7-3.4-1z" fill="#00b1ff" stroke="#008dcc"/>
<path d="M437 90.8l3.2 1.1 3-0.8-3.2-1.1z" fill="#23ffdc" stroke="#1cccb0"/>
<path d="M477.7 93.3l3.3 0.9 2.9-0.7-3.4-1z" fill="#00dbff" stroke="#00afcc"/>
<path d="M430.7 90.5l3.2 1.1 3.1-0.8-3.3-1.1z" fill="#2fffd0" stroke="#25cca6"/>
<path d="M537.6 99.4l3.5 1.5 2.6-0.2-3.6-1.6z" fill="#0032ff" stroke="#0028cc"/>
<path d="M424.4 90.1l3.2 1.1 3.1-0.7-3.2-1.2z" fill="#3cffc3" stroke="#30cc9c"/>
<path d="M521.7 96.5l3.5 1.1 2.7-0.5-3.5-1.2z" fill="#0087ff" stroke="#006ccc"/>
<path d="M471.4 93.1l3.4 1 2.9-0.8-3.4-1z" fill="#00e4ff" stroke="#00b6cc"/>
<path d="M499.7 94.7l3.4 0.9 2.8-0.7-3.5-1z" fill="#00baff" stroke="#0094cc"/>
<path d="M465.2 92.9l3.3 1 2.9-0.8-3.3-1z" fill="#00edff" stroke="#00bdcc"/>
<path d="M493.5 94.5l3.4 1 2.8-0.8-3.5-0.9z" fill="#00c3ff" stroke="#009ccc"/>
<path d="M515.5 96.1l3.5 1 2.7-0.6-3.5-1.1z" fill="#009aff" stroke="#007bcc"/>
<path d="M459 92.7l3.3 1 2.9-0.8-3.3-1z" fill="#00f7ff" stroke="#00c5cc"/>
<path d="M531.4 98.4l3.6 1.4 2.6-0.4-3.6-1.4z" fill="#0059ff" stroke="#0047cc"/>
<path d="M452.7 92.4l3.3 1.1 3-0.8-3.3-1z" fill="#02fffd" stroke="#01ccca"/>
<path d="M487.2 94.4l3.5 0.9 2.8-0.8-3.4-0.9z" fill="#00cbff" stroke="#00a2cc"/>
<path d="M446.5 92.2l3.2 1 3-0.8-3.2-1z" fill="#0cfff3" stroke="#09ccc2"/>
<path d="M509.3 95.8l3.5 1 2.7-0.7-3.5-1z" fill="#00a8ff" stroke="#0086cc"/>
<path d="M541.1 100.9l3.6 1.6 2.6-0.2-3.6-1.6z" fill="#0019ff" stroke="#0014cc"/>
<path d="M440.2 91.9l3.3 1.1 3-0.8-3.3-1.1z" fill="#17ffe8" stroke="#12ccb9"/>
<path d="M481 94.2l3.4 1 2.8-0.8-3.3-0.9z" fill="#00d3ff" stroke="#00a8cc"/>
<path d="M525.2 97.6l3.6 1.3 2.6-0.5-3.5-1.3z" fill="#07f" stroke="#005fcc"/>
<path d="M433.9 91.6l3.2 1.1 3.1-0.8-3.2-1.1z" fill="#23ffdc" stroke="#1cccb0"/>
<path d="M503.1 95.6l3.5 1 2.7-0.8-3.4-0.9z" fill="#00b2ff" stroke="#008ecc"/>
<path d="M427.6 91.2l3.2 1.2 3.1-0.8-3.2-1.1z" fill="#2fffd0" stroke="#25cca6"/>
<path d="M474.8 94.1l3.4 0.9 2.8-0.8-3.3-0.9z" fill="#00dbff" stroke="#00afcc"/>
<path d="M421.3 90.9l3.2 1.1 3.1-0.8-3.2-1.1z" fill="#3cffc3" stroke="#30cc9c"/>
<path d="M468.5 93.9l3.4 1 2.9-0.8-3.4-1z" fill="#00e4ff" stroke="#00b6cc"/>
<path d="M519 97.1l3.6 1.1 2.6-0.6-3.5-1.1z" fill="#008eff" stroke="#0071cc"/>
<path d="M535 99.8l3.5 1.4 2.6-0.3-3.5-1.5z" fill="#0042ff" stroke="#0034cc"/>
<path d="M496.9 95.5l3.4 0.9 2.8-0.8-3.4-0.9z" fill="#0bf" stroke="#0095cc"/>
<path d="M462.3 93.7l3.3 1 2.9-0.8-3.3-1z" fill="#00edff" stroke="#00bdcc"/>
<path d="M490.7 95.3l3.4 1 2.8-0.8-3.4-1z" fill="#00c3ff" stroke="#009ccc"/>
<path d="M456 93.5l3.3 1 3-0.8-3.3-1z" fill="#00f7ff" stroke="#00c5cc"/>
<path d="M544.7 102.5l3.6 1.6 2.6-0.2-3.6-1.6z" fill="#0100ff" stroke="#00c"/>
<path d="M512.8 96.8l3.5 1 2.7-0.7-3.5-1z" fill="#009eff" stroke="#007ecc"/>
<path d="M449.7 93.2l3.3 1.1 3-0.8-3.3-1.1z" fill="#02fffd" stroke="#01ccca"/>
<path d="M528.8 98.9l3.5 1.3 2.7-0.4-3.6-1.4z" fill="#0065ff" stroke="#0050cc"/>
<path d="M484.4 95.2l3.4 0.9 2.9-0.8-3.5-0.9z" fill="#00cbff" stroke="#00a2cc"/>
<path d="M443.5 93l3.2 1 3-0.8-3.2-1z" fill="#0cfff3" stroke="#09ccc2"/>
<path d="M506.6 96.6l3.5 0.9 2.7-0.7-3.5-1z" fill="#0af" stroke="#08c"/>
<path d="M437.1 92.7l3.3 1.1 3.1-0.8-3.3-1.1z" fill="#17ffe8" stroke="#12ccb9"/>
<path d="M478.2 95l3.4 1 2.8-0.8-3.4-1z" fill="#00d3ff" stroke="#00a8cc"/>
<path d="M430.8 92.4l3.3 1.1 3-0.8-3.2-1.1z" fill="#23ffdc" stroke="#1cccb0"/>
<path d="M538.5 101.2l3.6 1.5 2.6-0.2-3.6-1.6z" fill="#002aff" stroke="#0021cc"/>
<path d="M424.5 92l3.2 1.2 3.1-0.8-3.2-1.2z" fill="#2fffd0" stroke="#25cca6"/>
<path d="M522.6 98.2l3.5 1.2 2.7-0.5-3.6-1.3z" fill="#0080ff" stroke="#06c"/>
<path d="M418.2 91.6l3.2 1.2 3.1-0.8-3.2-1.1z" fill="#3cffc3" stroke="#30cc9c"/>
<path d="M471.9 94.9l3.4 0.9 2.9-0.8-3.4-0.9z" fill="#00dbff" stroke="#00afcc"/>
<path d="M500.3 96.4l3.5 1 2.8-0.8-3.5-1z" fill="#00b3ff" stroke="#008fcc"/>
<path d="M548.3 104.1l3.7 1.6 2.5-0.2-3.6-1.6z" fill="#1500ff" stroke="#1000cc"/>
<path d="M465.6 94.7l3.4 1 2.9-0.8-3.4-1z" fill="#00e4ff" stroke="#00b6cc"/>
<path d="M494.1 96.3l3.4 0.9 2.8-0.8-3.4-0.9z" fill="#0bf" stroke="#0095cc"/>
<path d="M516.3 97.8l3.6 1.1 2.7-0.7-3.6-1.1z" fill="#0093ff" stroke="#0075cc"/>
<path d="M459.3 94.5l3.4 1 2.9-0.8-3.3-1z" fill="#00edff" stroke="#00bdcc"/>
<path d="M532.3 100.2l3.6 1.4 2.6-0.4-3.5-1.4z" fill="#0051ff" stroke="#0040cc"/>
<path d="M453 94.3l3.4 1 2.9-0.8-3.3-1z" fill="#00f7ff" stroke="#00c5cc"/>
<path d="M487.8 96.1l3.5 1 2.8-0.8-3.4-1z" fill="#00c3ff" stroke="#009ccc"/>
<path d="M510.1 97.5l3.5 1 2.7-0.7-3.5-1z" fill="#00a1ff" stroke="#0080cc"/>
<path d="M446.7 94l3.3 1.1 3-0.8-3.3-1.1z" fill="#02fffd" stroke="#01ccca"/>
<path d="M542.1 102.7l3.7 1.6 2.5-0.2-3.6-1.6z" fill="#01f" stroke="#000dcc"/>
<path d="M440.4 93.8l3.3 1 3-0.8-3.2-1z" fill="#0cfff3" stroke="#09ccc2"/>
<path d="M481.6 96l3.4 0.9 2.8-0.8-3.4-0.9z" fill="#00cbff" stroke="#00a2cc"/>
<path d="M526.1 99.4l3.6 1.3 2.6-0.5-3.5-1.3z" fill="#0070ff" stroke="#0059cc"/>
<path d="M434.1 93.5l3.2 1.1 3.1-0.8-3.3-1.1z" fill="#17ffe8" stroke="#12ccb9"/>
<path d="M552 105.7l3.7 1.7 2.5-0.2-3.7-1.7z" fill="#2a00ff" stroke="#2100cc"/>
<path d="M503.8 97.4l3.5 0.9 2.8-0.8-3.5-0.9z" fill="#00acff" stroke="#0089cc"/>
<path d="M427.7 93.2l3.3 1.1 3.1-0.8-3.3-1.1z" fill="#23ffdc" stroke="#1cccb0"/>
<path d="M475.3 95.8l3.4 1 2.9-0.8-3.4-1z" fill="#00d3ff" stroke="#00a8cc"/>
<path d="M421.4 92.8l3.2 1.2 3.1-0.8-3.2-1.2z" fill="#2fffd0" stroke="#25cca6"/>
<path d="M415 92.4l3.2 1.2 3.2-0.8-3.2-1.2z" fill="#3cffc3" stroke="#30cc9c"/>
<path d="M469 95.7l3.4 1 2.9-0.9-3.4-0.9z" fill="#00dbff" stroke="#00afcc"/>
<path d="M535.9 101.6l3.6 1.5 2.6-0.4-3.6-1.5z" fill="#003aff" stroke="#002ecc"/>
<path d="M519.9 98.9l3.5 1.1 2.7-0.6-3.5-1.2z" fill="#0087ff" stroke="#006ccc"/>
<path d="M497.5 97.2l3.5 1 2.8-0.8-3.5-1z" fill="#00b4ff" stroke="#0090cc"/>
<path d="M462.7 95.5l3.3 1 3-0.8-3.4-1z" fill="#00e4ff" stroke="#00b6cc"/>
<path d="M545.8 104.3l3.6 1.6 2.6-0.2-3.7-1.6z" fill="#0700ff" stroke="#0500cc"/>
<path d="M491.3 97.1l3.4 0.9 2.8-0.8-3.4-0.9z" fill="#00bcff" stroke="#0096cc"/>
<path d="M456.4 95.3l3.3 1 3-0.8-3.4-1z" fill="#00edff" stroke="#00bdcc"/>
<path d="M513.6 98.5l3.5 1.1 2.8-0.7-3.6-1.1z" fill="#0097ff" stroke="#0078cc"/>
<path d="M529.7 100.7l3.6 1.3 2.6-0.4-3.6-1.4z" fill="#005dff" stroke="#004acc"/>
<path d="M450 95.1l3.4 1 3-0.8-3.4-1z" fill="#00f7ff" stroke="#00c5cc"/>
<path d="M555.7 107.4l3.6 1.7 2.6-0.2-3.7-1.7z" fill="#3f00ff" stroke="#3200cc"/>
<path d="M485 96.9l3.4 1 2.9-0.8-3.5-1z" fill="#00c3ff" stroke="#009ccc"/>
<path d="M443.7 94.8l3.3 1.1 3-0.8-3.3-1.1z" fill="#02fffd" stroke="#01ccca"/>
<path d="M507.3 98.3l3.5 1 2.8-0.8-3.5-1z" fill="#00a3ff" stroke="#0082cc"/>
<path d="M437.3 94.6l3.3 1 3.1-0.8-3.3-1z" fill="#0cfff3" stroke="#09ccc2"/>
<path d="M478.7 96.8l3.4 1 2.9-0.9-3.4-0.9z" fill="#00cbff" stroke="#00a2cc"/>
<path d="M431 94.3l3.2 1.1 3.1-0.8-3.2-1.1z" fill="#17ffe8" stroke="#12ccb9"/>
<path d="M539.5 103.1l3.7 1.5 2.6-0.3-3.7-1.6z" fill="#02f" stroke="#001bcc"/>
<path d="M424.6 94l3.2 1.1 3.2-0.8-3.3-1.1z" fill="#23ffdc" stroke="#1cccb0"/>
<path d="M523.4 100l3.6 1.2 2.7-0.5-3.6-1.3z" fill="#0078ff" stroke="#0060cc"/>
<path d="M418.2 93.6l3.2 1.2 3.2-0.8-3.2-1.2z" fill="#2fffd0" stroke="#25cca6"/>
<path d="M472.4 96.7l3.4 0.9 2.9-0.8-3.4-1z" fill="#00d3ff" stroke="#00a8cc"/>
<path d="M411.8 93.2l3.2 1.2 3.2-0.8-3.2-1.2z" fill="#3cffc3" stroke="#30cc9c"/>
<path d="M501 98.2l3.5 0.9 2.8-0.8-3.5-0.9z" fill="#00acff" stroke="#0089cc"/>
<path d="M549.4 105.9l3.7 1.7 2.6-0.2-3.7-1.7z" fill="#1b00ff" stroke="#1500cc"/>
<path d="M466 96.5l3.4 1 3-0.8-3.4-1z" fill="#00dbff" stroke="#00afcc"/>
<path d="M494.7 98l3.5 1 2.8-0.8-3.5-1z" fill="#00b4ff" stroke="#0090cc"/>
<path d="M517.1 99.6l3.6 1.1 2.7-0.7-3.5-1.1z" fill="#008cff" stroke="#0070cc"/>
<path d="M559.3 109.1l3.8 1.7 2.5-0.2-3.7-1.7z" fill="#5400ff" stroke="#4300cc"/>
<path d="M533.3 102l3.6 1.4 2.6-0.3-3.6-1.5z" fill="#0048ff" stroke="#0039cc"/>
<path d="M459.7 96.3l3.4 1 2.9-0.8-3.3-1z" fill="#00e4ff" stroke="#00b6cc"/>
<path d="M453.4 96.1l3.3 1 3-0.8-3.3-1z" fill="#00edff" stroke="#00bdcc"/>
<path d="M488.4 97.9l3.5 0.9 2.8-0.8-3.4-0.9z" fill="#00bcff" stroke="#0096cc"/>
<path d="M510.8 99.3l3.6 1 2.7-0.7-3.5-1.1z" fill="#009aff" stroke="#007bcc"/>
<path d="M447 95.9l3.3 1 3.1-0.8-3.4-1z" fill="#00f7ff" stroke="#00c5cc"/>
<path d="M543.2 104.6l3.6 1.6 2.6-0.3-3.6-1.6z" fill="#0008ff" stroke="#0006cc"/>
<path d="M440.6 95.6l3.3 1.1 3.1-0.8-3.3-1.1z" fill="#02fffd" stroke="#01ccca"/>
<path d="M482.1 97.8l3.4 0.9 2.9-0.8-3.4-1z" fill="#00c3ff" stroke="#009ccc"/>
<path d="M527 101.2l3.6 1.3 2.7-0.5-3.6-1.3z" fill="#0067ff" stroke="#0052cc"/>
<path d="M434.2 95.4l3.3 1.1 3.1-0.9-3.3-1z" fill="#0cfff3" stroke="#09ccc2"/>
<path d="M553.1 107.6l3.7 1.7 2.5-0.2-3.6-1.7z" fill="#3000ff" stroke="#2600cc"/>
<path d="M504.5 99.1l3.6 1 2.7-0.8-3.5-1z" fill="#00a5ff" stroke="#0084cc"/>
<path d="M427.8 95.1l3.3 1.1 3.1-0.8-3.2-1.1z" fill="#17ffe8" stroke="#12ccb9"/>
<path d="M475.8 97.6l3.4 1 2.9-0.8-3.4-1z" fill="#00cbff" stroke="#00a2cc"/>
<path d="M421.4 94.8l3.3 1.1 3.1-0.8-3.2-1.1z" fill="#23ffdc" stroke="#1cccb0"/>
<path d="M415 94.4l3.2 1.2 3.2-0.8-3.2-1.2z" fill="#2fffd0" stroke="#25cca6"/>
<path d="M563.1 110.8l3.7 1.7 2.5-0.2-3.7-1.7z" fill="#6900ff" stroke="#5400cc"/>
<path d="M408.6 94l3.2 1.2 3.2-0.8-3.2-1.2z" fill="#3cffc3" stroke="#30cc9c"/>
<path d="M536.9 103.4l3.6 1.6 2.7-0.4-3.7-1.5z" fill="#0031ff" stroke="#0027cc"/>
<path d="M469.4 97.5l3.4 1 3-0.9-3.4-0.9z" fill="#00d3ff" stroke="#00a8cc"/>
<path d="M520.7 100.7l3.6 1.1 2.7-0.6-3.6-1.2z" fill="#007fff" stroke="#0065cc"/>
<path d="M498.2 99l3.5 0.9 2.8-0.8-3.5-0.9z" fill="#00adff" stroke="#008acc"/>
<path d="M463.1 97.3l3.4 1 2.9-0.8-3.4-1z" fill="#00dbff" stroke="#00afcc"/>
<path d="M546.8 106.2l3.7 1.7 2.6-0.3-3.7-1.7z" fill="#0e00ff" stroke="#0b00cc"/>
<path d="M491.9 98.8l3.5 1 2.8-0.8-3.5-1z" fill="#00b5ff" stroke="#0090cc"/>
<path d="M456.7 97.1l3.4 1 3-0.8-3.4-1z" fill="#00e4ff" stroke="#00b6cc"/>
<path d="M514.4 100.3l3.6 1.1 2.7-0.7-3.6-1.1z" fill="#0090ff" stroke="#0073cc"/>
<path d="M530.6 102.5l3.6 1.4 2.7-0.5-3.6-1.4z" fill="#0054ff" stroke="#0043cc"/>
<path d="M450.3 96.9l3.4 1.1 3-0.9-3.3-1z" fill="#00edff" stroke="#00bdcc"/>
<path d="M556.8 109.3l3.7 1.7 2.6-0.2-3.8-1.7z" fill="#4500ff" stroke="#3700cc"/>
<path d="M485.5 98.7l3.5 1 2.9-0.9-3.5-0.9z" fill="#00bcff" stroke="#0096cc"/>
<path d="M443.9 96.7l3.4 1.1 3-0.9-3.3-1z" fill="#00f7ff" stroke="#00c5cc"/>
<path d="M566.8 112.5l3.7 1.7 2.5-0.2-3.7-1.7z" fill="#7e00ff" stroke="#6400cc"/>
<path d="M508.1 100.1l3.5 1 2.8-0.8-3.6-1z" fill="#009cff" stroke="#007ccc"/>
<path d="M437.5 96.5l3.3 1 3.1-0.8-3.3-1.1z" fill="#02fffd" stroke="#01ccca"/>
<path d="M479.2 98.6l3.5 1 2.8-0.9-3.4-0.9z" fill="#00c3ff" stroke="#009ccc"/>
<path d="M540.5 105l3.7 1.5 2.6-0.3-3.6-1.6z" fill="#0019ff" stroke="#0014cc"/>
<path d="M431.1 96.2l3.3 1.1 3.1-0.8-3.3-1.1z" fill="#0cfff3" stroke="#09ccc2"/>
<path d="M524.3 101.8l3.6 1.3 2.7-0.6-3.6-1.3z" fill="#0070ff" stroke="#0059cc"/>
<path d="M424.7 95.9l3.3 1.1 3.1-0.8-3.3-1.1z" fill="#17ffe8" stroke="#12ccb9"/>
<path d="M418.2 95.6l3.3 1.1 3.2-0.8-3.3-1.1z" fill="#23ffdc" stroke="#1cccb0"/>
<path d="M411.8 95.2l3.2 1.2 3.2-0.8-3.2-1.2z" fill="#2fffd0" stroke="#25cca6"/>
<path d="M472.8 98.5l3.5 0.9 2.9-0.8-3.4-1z" fill="#00cbff" stroke="#00a2cc"/>
<path d="M501.7 99.9l3.6 1 2.8-0.8-3.6-1z" fill="#00a5ff" stroke="#0084cc"/>
<path d="M405.3 94.9l3.2 1.2 3.3-0.9-3.2-1.2z" fill="#3cffc3" stroke="#30cc9c"/>
<path d="M550.5 107.9l3.7 1.7 2.6-0.3-3.7-1.7z" fill="#20f" stroke="#1b00cc"/>
<path d="M466.5 98.3l3.4 1 2.9-0.8-3.4-1z" fill="#00d3ff" stroke="#00a8cc"/>
<path d="M560.5 111l3.8 1.7 2.5-0.2-3.7-1.7z" fill="#5a00ff" stroke="#4800cc"/>
<path d="M518 101.4l3.6 1.1 2.7-0.7-3.6-1.1z" fill="#0085ff" stroke="#006acc"/>
<path d="M495.4 99.8l3.5 1 2.8-0.9-3.5-0.9z" fill="#00adff" stroke="#008acc"/>
<path d="M534.2 103.9l3.7 1.5 2.6-0.4-3.6-1.6z" fill="#003fff" stroke="#0032cc"/>
<path d="M460.1 98.1l3.4 1 3-0.8-3.4-1z" fill="#00dbff" stroke="#00afcc"/>
<path d="M570.5 114.2l3.8 1.7 2.5-0.2-3.8-1.7z" fill="#9300ff" stroke="#7500cc"/>
<path d="M453.7 98l3.3 1 3.1-0.9-3.4-1z" fill="#00e4ff" stroke="#00b6cc"/>
<path d="M489 99.7l3.5 0.9 2.9-0.8-3.5-1z" fill="#00b5ff" stroke="#0090cc"/>
<path d="M544.2 106.5l3.7 1.7 2.6-0.3-3.7-1.7z" fill="#0100ff" stroke="#00c"/>
<path d="M511.6 101.1l3.6 1 2.8-0.7-3.6-1.1z" fill="#0093ff" stroke="#0075cc"/>
<path d="M447.3 97.8l3.3 1 3.1-0.8-3.4-1.1z" fill="#00edff" stroke="#00bdcc"/>
<path d="M527.9 103.1l3.7 1.3 2.6-0.5-3.6-1.4z" fill="#005fff" stroke="#004ccc"/>
<path d="M440.8 97.5l3.4 1.1 3.1-0.8-3.4-1.1z" fill="#00f7ff" stroke="#00c5cc"/>
<path d="M482.7 99.6l3.4 0.9 2.9-0.8-3.5-1z" fill="#00bcff" stroke="#0096cc"/>
<path d="M554.2 109.6l3.8 1.7 2.5-0.3-3.7-1.7z" fill="#3700ff" stroke="#2c00cc"/>
<path d="M434.4 97.3l3.3 1.1 3.1-0.9-3.3-1z" fill="#02fffd" stroke="#01ccca"/>
<path d="M505.3 100.9l3.5 1 2.8-0.8-3.5-1z" fill="#009eff" stroke="#007ecc"/>
<path d="M428 97l3.3 1.1 3.1-0.8-3.3-1.1z" fill="#0cfff3" stroke="#09ccc2"/>
<path d="M476.3 99.4l3.4 1 3-0.8-3.5-1z" fill="#00c3ff" stroke="#009ccc"/>
<path d="M421.5 96.7l3.3 1.2 3.2-0.9-3.3-1.1z" fill="#17ffe8" stroke="#12ccb9"/>
<path d="M564.3 112.7l3.7 1.8 2.5-0.3-3.7-1.7z" fill="#6f00ff" stroke="#5800cc"/>
<path d="M415 96.4l3.3 1.2 3.2-0.9-3.3-1.1z" fill="#23ffdc" stroke="#1cccb0"/>
<path d="M408.5 96.1l3.3 1.1 3.2-0.8-3.2-1.2z" fill="#2fffd0" stroke="#25cca6"/>
<path d="M402 95.7l3.3 1.2 3.2-0.8-3.2-1.2z" fill="#3cffc3" stroke="#30cc9c"/>
<path d="M537.9 105.4l3.7 1.5 2.6-0.4-3.7-1.5z" fill="#0028ff" stroke="#0020cc"/>
<path d="M574.3 115.9l3.8 1.8 2.5-0.2-3.8-1.8z" fill="#a800ff" stroke="#8600cc"/>
<path d="M521.6 102.5l3.6 1.2 2.7-0.6-3.6-1.3z" fill="#07f" stroke="#005fcc"/>
<path d="M469.9 99.3l3.4 1 3-0.9-3.5-0.9z" fill="#00cbff" stroke="#00a2cc"/>
<path d="M498.9 100.8l3.5 0.9 2.9-0.8-3.6-1z" fill="#00a6ff" stroke="#0084cc"/>
<path d="M463.5 99.1l3.4 1 3-0.8-3.4-1z" fill="#00d3ff" stroke="#00a8cc"/>
<path d="M547.9 108.2l3.7 1.7 2.6-0.3-3.7-1.7z" fill="#1500ff" stroke="#1000cc"/>
<path d="M492.5 100.6l3.5 1 2.9-0.8-3.5-1z" fill="#00aeff" stroke="#008bcc"/>
<path d="M457 99l3.4 1 3.1-0.9-3.4-1z" fill="#00dbff" stroke="#00afcc"/>
<path d="M515.2 102.1l3.6 1.1 2.8-0.7-3.6-1.1z" fill="#0089ff" stroke="#006dcc"/>
<path d="M531.6 104.4l3.6 1.4 2.7-0.4-3.7-1.5z" fill="#004bff" stroke="#003ccc"/>
<path d="M558 111.3l3.7 1.7 2.6-0.3-3.8-1.7z" fill="#4c00ff" stroke="#3c00cc"/>
<path d="M450.6 98.8l3.4 1 3-0.8-3.3-1z" fill="#00e4ff" stroke="#00b6cc"/>
<path d="M486.1 100.5l3.5 1 2.9-0.9-3.5-0.9z" fill="#00b5ff" stroke="#0090cc"/>
<path d="M568 114.5l3.8 1.7 2.5-0.3-3.8-1.7z" fill="#8400ff" stroke="#6900cc"/>
<path d="M444.2 98.6l3.3 1 3.1-0.8-3.3-1z" fill="#00edff" stroke="#00bdcc"/>
<path d="M508.8 101.9l3.6 1 2.8-0.8-3.6-1z" fill="#0095ff" stroke="#07c"/>
<path d="M578.1 117.7l3.9 1.7 2.4-0.2-3.8-1.7z" fill="#bd00ff" stroke="#9700cc"/>
<path d="M437.7 98.4l3.4 1 3.1-0.8-3.4-1.1z" fill="#00f7ff" stroke="#00c5cc"/>
<path d="M541.6 106.9l3.7 1.6 2.6-0.3-3.7-1.7z" fill="#000eff" stroke="#000bcc"/>
<path d="M479.7 100.4l3.5 1 2.9-0.9-3.4-0.9z" fill="#00bcff" stroke="#0096cc"/>
<path d="M431.3 98.1l3.3 1.1 3.1-0.8-3.3-1.1z" fill="#02fffd" stroke="#01ccca"/>
<path d="M525.2 103.7l3.6 1.3 2.8-0.6-3.7-1.3z" fill="#0068ff" stroke="#0053cc"/>
<path d="M424.8 97.9l3.3 1.1 3.2-0.9-3.3-1.1z" fill="#0cfff3" stroke="#09ccc2"/>
<path d="M418.3 97.6l3.3 1.1 3.2-0.8-3.3-1.2z" fill="#17ffe8" stroke="#12ccb9"/>
<path d="M411.8 97.2l3.2 1.2 3.3-0.8-3.3-1.2z" fill="#23ffdc" stroke="#1cccb0"/>
<path d="M502.4 101.7l3.6 1 2.8-0.8-3.5-1z" fill="#009fff" stroke="#007fcc"/>
<path d="M473.3 100.3l3.5 0.9 2.9-0.8-3.4-1z" fill="#00c3ff" stroke="#009ccc"/>
<path d="M405.3 96.9l3.2 1.2 3.3-0.9-3.3-1.1z" fill="#2fffd0" stroke="#25cca6"/>
<path d="M398.7 96.5l3.3 1.2 3.3-0.8-3.3-1.2z" fill="#3cffc3" stroke="#30cc9c"/>
<path d="M551.6 109.9l3.8 1.7 2.6-0.3-3.8-1.7z" fill="#2a00ff" stroke="#2100cc"/>
<path d="M466.9 100.1l3.4 1 3-0.8-3.4-1z" fill="#00cbff" stroke="#00a2cc"/>
<path d="M561.7 113l3.8 1.8 2.5-0.3-3.7-1.8z" fill="#6100ff" stroke="#4d00cc"/>
<path d="M518.8 103.2l3.6 1.2 2.8-0.7-3.6-1.2z" fill="#007dff" stroke="#0064cc"/>
<path d="M535.2 105.8l3.7 1.5 2.7-0.4-3.7-1.5z" fill="#0035ff" stroke="#002acc"/>
<path d="M496 101.6l3.6 1 2.8-0.9-3.5-0.9z" fill="#00a6ff" stroke="#0084cc"/>
<path d="M571.8 116.2l3.8 1.8 2.5-0.3-3.8-1.8z" fill="#90f" stroke="#7a00cc"/>
<path d="M460.4 100l3.5 1 3-0.9-3.4-1z" fill="#00d3ff" stroke="#00a8cc"/>
<path d="M582 119.4l3.8 1.8 2.5-0.2-3.9-1.8z" fill="#d200ff" stroke="#a800cc"/>
<path d="M454 99.8l3.4 1 3-0.8-3.4-1z" fill="#00dbff" stroke="#00afcc"/>
<path d="M489.6 101.5l3.6 0.9 2.8-0.8-3.5-1z" fill="#00aeff" stroke="#008bcc"/>
<path d="M545.3 108.5l3.7 1.7 2.6-0.3-3.7-1.7z" fill="#0900ff" stroke="#0700cc"/>
<path d="M512.4 102.9l3.6 1.1 2.8-0.8-3.6-1.1z" fill="#008cff" stroke="#0070cc"/>
<path d="M447.5 99.6l3.4 1.1 3.1-0.9-3.4-1z" fill="#00e4ff" stroke="#00b6cc"/>
<path d="M528.8 105l3.7 1.3 2.7-0.5-3.6-1.4z" fill="#05f" stroke="#04c"/>
<path d="M441.1 99.4l3.3 1.1 3.1-0.9-3.3-1z" fill="#00edff" stroke="#00bdcc"/>
<path d="M483.2 101.4l3.5 0.9 2.9-0.8-3.5-1z" fill="#00b5ff" stroke="#0090cc"/>
<path d="M585.8 121.2l0.1 0 2.4-0.2 0 0z" fill="#d0f" stroke="#b000cc"/>
<path d="M555.4 111.6l3.7 1.7 2.6-0.3-3.7-1.7z" fill="#3f00ff" stroke="#3200cc"/>
<path d="M434.6 99.2l3.3 1.1 3.2-0.9-3.4-1z" fill="#00f7ff" stroke="#00c5cc"/>
<path d="M585.9 121.2l0.9 0.5 2.5-0.3-1-0.4z" fill="#df00ff" stroke="#b200cc"/>
<path d="M506 102.7l3.6 1 2.8-0.8-3.6-1z" fill="#0097ff" stroke="#0078cc"/>
<path d="M428.1 99l3.3 1.1 3.2-0.9-3.3-1.1z" fill="#02fffd" stroke="#01ccca"/>
<path d="M565.5 114.8l3.8 1.7 2.5-0.3-3.8-1.7z" fill="#70f" stroke="#5f00cc"/>
<path d="M476.8 101.2l3.5 1 2.9-0.8-3.5-1z" fill="#00bcff" stroke="#0096cc"/>
<path d="M421.6 98.7l3.3 1.1 3.2-0.8-3.3-1.1z" fill="#0cfff3" stroke="#09ccc2"/>
<path d="M586.8 121.7l1 0.4 2.4-0.3-0.9-0.4z" fill="#e400ff" stroke="#b600cc"/>
<path d="M415 98.4l3.3 1.1 3.3-0.8-3.3-1.1z" fill="#17ffe8" stroke="#12ccb9"/>
<path d="M575.6 118l3.9 1.8 2.5-0.4-3.9-1.7z" fill="#af00ff" stroke="#8c00cc"/>
<path d="M408.5 98.1l3.3 1.2 3.2-0.9-3.2-1.2z" fill="#23ffdc" stroke="#1cccb0"/>
<path d="M538.9 107.3l3.7 1.6 2.7-0.4-3.7-1.6z" fill="#001dff" stroke="#0017cc"/>
<path d="M395.4 97.3l3.2 1.3 3.4-0.9-3.3-1.2z" fill="#3cffc3" stroke="#30cc9c"/>
<path d="M402 97.7l3.2 1.2 3.3-0.8-3.2-1.2z" fill="#2fffd0" stroke="#25cca6"/>
<path d="M522.4 104.4l3.7 1.2 2.7-0.6-3.6-1.3z" fill="#006fff" stroke="#0058cc"/>
<path d="M470.3 101.1l3.5 1 3-0.9-3.5-0.9z" fill="#00c3ff" stroke="#009ccc"/>
<path d="M499.6 102.6l3.6 1 2.8-0.9-3.6-1z" fill="#009fff" stroke="#007fcc"/>
<path d="M587.8 122.1l1 0.4 2.4-0.2-1-0.5z" fill="#ea00ff" stroke="#b0c"/>
<path d="M549 110.2l3.7 1.7 2.7-0.3-3.8-1.7z" fill="#1e00ff" stroke="#1800cc"/>
<path d="M463.9 101l3.4 1 3-0.9-3.4-1z" fill="#00cbff" stroke="#00a2cc"/>
<path d="M588.8 122.5l0.9 0.5 2.5-0.3-1-0.4z" fill="#ef00ff" stroke="#bf00cc"/>
<path d="M589.7 123l0 0 2.5-0.3 0 0z" fill="#f100ff" stroke="#c000cc"/>
<path d="M493.2 102.4l3.5 1 2.9-0.8-3.6-1z" fill="#00a7ff" stroke="#0085cc"/>
<path d="M516 104l3.7 1.1 2.7-0.7-3.6-1.2z" fill="#0081ff" stroke="#0067cc"/>
<path d="M457.4 100.8l3.4 1 3.1-0.8-3.5-1z" fill="#00d3ff" stroke="#00a8cc"/>
<path d="M559.1 113.3l3.8 1.8 2.6-0.3-3.8-1.8z" fill="#5400ff" stroke="#4300cc"/>
<path d="M532.5 106.3l3.7 1.5 2.7-0.5-3.7-1.5z" fill="#0041ff" stroke="#0034cc"/>
<path d="M589.7 123l1 0.4 2.5-0.2-1-0.5z" fill="#f400ff" stroke="#c300cc"/>
<path d="M450.9 100.7l3.4 1 3.1-0.9-3.4-1z" fill="#00dbff" stroke="#00afcc"/>
<path d="M569.3 116.5l3.8 1.8 2.5-0.3-3.8-1.8z" fill="#8c00ff" stroke="#7000cc"/>
<path d="M486.7 102.3l3.6 1 2.9-0.9-3.6-0.9z" fill="#00aeff" stroke="#008bcc"/>
<path d="M590.7 123.4l1 0.5 2.4-0.3-0.9-0.4z" fill="#f900ff" stroke="#c700cc"/>
<path d="M444.4 100.5l3.4 1 3.1-0.8-3.4-1.1z" fill="#00e4ff" stroke="#00b6cc"/>
<path d="M579.5 119.8l3.9 1.7 2.4-0.3-3.8-1.8z" fill="#c400ff" stroke="#9c00cc"/>
<path d="M509.6 103.7l3.6 1.1 2.8-0.8-3.6-1.1z" fill="#008eff" stroke="#0071cc"/>
<path d="M542.6 108.9l3.8 1.7 2.6-0.4-3.7-1.7z" fill="#0003ff" stroke="#0002cc"/>
<path d="M437.9 100.3l3.4 1 3.1-0.8-3.3-1.1z" fill="#00edff" stroke="#00bdcc"/>
<path d="M591.7 123.9l1 0.4 2.4-0.3-1-0.4z" fill="#fe00ff" stroke="#cb00cc"/>
<path d="M480.3 102.2l3.5 1 2.9-0.9-3.5-0.9z" fill="#00b5ff" stroke="#0090cc"/>
<path d="M431.4 100.1l3.3 1 3.2-0.8-3.3-1.1z" fill="#00f7ff" stroke="#00c5cc"/>
<path d="M526.1 105.6l3.7 1.3 2.7-0.6-3.7-1.3z" fill="#005eff" stroke="#004bcc"/>
<path d="M424.9 99.8l3.3 1.1 3.2-0.8-3.3-1.1z" fill="#02fffd" stroke="#01ccca"/>
<path d="M592.7 124.3l1 0.5 2.4-0.3-1-0.5z" fill="#f0f" stroke="#c0c"/>
<path d="M418.3 99.5l3.3 1.2 3.3-0.9-3.3-1.1z" fill="#0cfff3" stroke="#09ccc2"/>
<path d="M552.7 111.9l3.8 1.8 2.6-0.4-3.7-1.7z" fill="#30f" stroke="#2800cc"/>
<path d="M411.8 99.3l3.3 1.1 3.2-0.9-3.3-1.1z" fill="#17ffe8" stroke="#12ccb9"/>
<path d="M503.2 103.6l3.6 1 2.8-0.9-3.6-1z" fill="#0098ff" stroke="#0079cc"/>
<path d="M583.4 121.5l0 0 2.5-0.3-0.1 0z" fill="#ce00ff" stroke="#a400cc"/>
<path d="M392 98.2l3.2 1.2 3.4-0.8-3.2-1.3z" fill="#3cffc3" stroke="#30cc9c"/>
<path d="M473.8 102.1l3.5 1 3-0.9-3.5-1z" fill="#00bcff" stroke="#0096cc"/>
<path d="M405.2 98.9l3.3 1.2 3.3-0.8-3.3-1.2z" fill="#23ffdc" stroke="#1cccb0"/>
<path d="M398.6 98.6l3.3 1.2 3.3-0.9-3.2-1.2z" fill="#2fffd0" stroke="#25cca6"/>
<path d="M593.7 124.8l0 0 2.4-0.3 0 0z" fill="#f0f" stroke="#c0c"/>
<path d="M583.4 121.5l0.9 0.5 2.5-0.3-0.9-0.5z" fill="#d100ff" stroke="#a700cc"/>
<path d="M593.7 124.8l0.9 0.4 2.5-0.3-1-0.4z" fill="#f0f" stroke="#c0c"/>
<path d="M562.9 115.1l3.8 1.8 2.6-0.4-3.8-1.7z" fill="#6a00ff" stroke="#5400cc"/>
<path d="M467.3 102l3.5 0.9 3-0.8-3.5-1z" fill="#00c4ff" stroke="#009ccc"/>
<path d="M536.2 107.8l3.7 1.6 2.7-0.5-3.7-1.6z" fill="#002aff" stroke="#0021cc"/>
<path d="M519.7 105.1l3.6 1.2 2.8-0.7-3.7-1.2z" fill="#0074ff" stroke="#005ccc"/>
<path d="M584.3 122l1 0.4 2.5-0.3-1-0.4z" fill="#d600ff" stroke="#ab00cc"/>
<path d="M496.7 103.4l3.6 1 2.9-0.8-3.6-1z" fill="#00a0ff" stroke="#0080cc"/>
<path d="M573.1 118.3l3.9 1.8 2.5-0.3-3.9-1.8z" fill="#a100ff" stroke="#8000cc"/>
<path d="M594.6 125.2l1 0.5 2.5-0.3-1-0.5z" fill="#f0f" stroke="#c0c"/>
<path d="M460.8 101.8l3.5 1 3-0.8-3.4-1z" fill="#00cbff" stroke="#00a2cc"/>
<path d="M585.3 122.4l1 0.5 2.5-0.4-1-0.4z" fill="#db00ff" stroke="#af00cc"/>
<path d="M595.6 125.7l1 0.4 2.4-0.3-0.9-0.4z" fill="#f0f" stroke="#c0c"/>
<path d="M454.3 101.7l3.5 1 3-0.9-3.4-1z" fill="#00d3ff" stroke="#00a8cc"/>
<path d="M546.4 110.6l3.7 1.7 2.6-0.4-3.7-1.7z" fill="#1200ff" stroke="#0e00cc"/>
<path d="M490.3 103.3l3.5 1 2.9-0.9-3.5-1z" fill="#00a7ff" stroke="#0085cc"/>
<path d="M513.2 104.8l3.7 1.1 2.8-0.8-3.7-1.1z" fill="#0084ff" stroke="#0069cc"/>
<path d="M586.3 122.9l1 0.4 2.4-0.3-0.9-0.5z" fill="#e100ff" stroke="#b400cc"/>
<path d="M596.6 126.1l1 0.5 2.4-0.3-1-0.5z" fill="#f0f" stroke="#c0c"/>
<path d="M447.8 101.5l3.4 1 3.1-0.8-3.4-1z" fill="#00dbff" stroke="#00afcc"/>
<path d="M529.8 106.9l3.7 1.4 2.7-0.5-3.7-1.5z" fill="#004bff" stroke="#003ccc"/>
<path d="M587.3 123.3l0 0 2.4-0.3 0 0z" fill="#e300ff" stroke="#b500cc"/>
<path d="M597.6 126.6l0 0 2.4-0.3 0 0z" fill="#f0f" stroke="#c0c"/>
<path d="M556.5 113.7l3.8 1.8 2.6-0.4-3.8-1.8z" fill="#4800ff" stroke="#3900cc"/>
<path d="M441.3 101.3l3.4 1.1 3.1-0.9-3.4-1z" fill="#00e4ff" stroke="#00b6cc"/>
<path d="M483.8 103.2l3.5 1 3-0.9-3.6-1z" fill="#00aeff" stroke="#008bcc"/>
<path d="M587.3 123.3l0.9 0.5 2.5-0.4-1-0.4z" fill="#e600ff" stroke="#b800cc"/>
<path d="M434.7 101.1l3.4 1.1 3.2-0.9-3.4-1z" fill="#00edff" stroke="#00bdcc"/>
<path d="M566.7 116.9l3.9 1.8 2.5-0.4-3.8-1.8z" fill="#8000ff" stroke="#60c"/>
<path d="M506.8 104.6l3.6 1 2.8-0.8-3.6-1.1z" fill="#008fff" stroke="#0072cc"/>
<path d="M428.2 100.9l3.3 1.1 3.2-0.9-3.3-1z" fill="#00f7ff" stroke="#00c5cc"/>
<path d="M588.2 123.8l1 0.5 2.5-0.4-1-0.5z" fill="#eb00ff" stroke="#bc00cc"/>
<path d="M477.3 103.1l3.5 0.9 3-0.8-3.5-1z" fill="#00b5ff" stroke="#0090cc"/>
<path d="M577 120.1l3.9 1.9 2.5-0.5-3.9-1.7z" fill="#b700ff" stroke="#9200cc"/>
<path d="M421.6 100.7l3.4 1.1 3.2-0.9-3.3-1.1z" fill="#02fffd" stroke="#01ccca"/>
<path d="M539.9 109.4l3.8 1.6 2.7-0.4-3.8-1.7z" fill="#01f" stroke="#000dcc"/>
<path d="M415.1 100.4l3.3 1.1 3.2-0.8-3.3-1.2z" fill="#0cfff3" stroke="#09ccc2"/>
<path d="M388.6 99l3.2 1.3 3.4-0.9-3.2-1.2z" fill="#3cffc3" stroke="#30cc9c"/>
<path d="M408.5 100.1l3.3 1.2 3.3-0.9-3.3-1.1z" fill="#17ffe8" stroke="#12ccb9"/>
<path d="M395.2 99.4l3.3 1.2 3.4-0.8-3.3-1.2z" fill="#2fffd0" stroke="#25cca6"/>
<path d="M401.9 99.8l3.2 1.2 3.4-0.9-3.3-1.2z" fill="#23ffdc" stroke="#1cccb0"/>
<path d="M523.3 106.3l3.7 1.3 2.8-0.7-3.7-1.3z" fill="#0065ff" stroke="#0050cc"/>
<path d="M589.2 124.3l1 0.4 2.5-0.4-1-0.4z" fill="#f000ff" stroke="#c000cc"/>
<path d="M470.8 102.9l3.5 1 3-0.8-3.5-1z" fill="#00bcff" stroke="#0096cc"/>
<path d="M500.3 104.4l3.6 1 2.9-0.8-3.6-1z" fill="#0098ff" stroke="#0079cc"/>
<path d="M550.1 112.3l3.8 1.8 2.6-0.4-3.8-1.8z" fill="#2700ff" stroke="#1f00cc"/>
<path d="M590.2 124.7l1 0.5 2.5-0.4-1-0.5z" fill="#f600ff" stroke="#c400cc"/>
<path d="M580.9 122l0 0 2.5-0.5 0 0z" fill="#c200ff" stroke="#9b00cc"/>
<path d="M464.3 102.8l3.5 1 3-0.9-3.5-0.9z" fill="#00c4ff" stroke="#009ccc"/>
<path d="M591.2 125.2l0 0 2.5-0.4 0 0z" fill="#f800ff" stroke="#c600cc"/>
<path d="M580.9 122l0.9 0.4 2.5-0.4-0.9-0.5z" fill="#c400ff" stroke="#9c00cc"/>
<path d="M493.8 104.3l3.6 1 2.9-0.9-3.6-1z" fill="#00a0ff" stroke="#0080cc"/>
<path d="M591.2 125.2l1 0.4 2.4-0.4-0.9-0.4z" fill="#fb00ff" stroke="#c800cc"/>
<path d="M560.3 115.5l3.8 1.8 2.6-0.4-3.8-1.8z" fill="#5e00ff" stroke="#4b00cc"/>
<path d="M516.9 105.9l3.7 1.1 2.7-0.7-3.6-1.2z" fill="#0078ff" stroke="#0060cc"/>
<path d="M457.8 102.7l3.4 1 3.1-0.9-3.5-1z" fill="#00cbff" stroke="#00a2cc"/>
<path d="M533.5 108.3l3.7 1.6 2.7-0.5-3.7-1.6z" fill="#0036ff" stroke="#002bcc"/>
<path d="M581.8 122.4l1 0.5 2.5-0.5-1-0.4z" fill="#ca00ff" stroke="#a100cc"/>
<path d="M570.6 118.7l3.8 1.9 2.6-0.5-3.9-1.8z" fill="#9600ff" stroke="#7800cc"/>
<path d="M592.2 125.6l1 0.5 2.4-0.4-1-0.5z" fill="#f0f" stroke="#c0c"/>
<path d="M451.2 102.5l3.5 1.1 3.1-0.9-3.5-1z" fill="#00d3ff" stroke="#00a8cc"/>
<path d="M487.3 104.2l3.6 0.9 2.9-0.8-3.5-1z" fill="#00a7ff" stroke="#0085cc"/>
<path d="M444.7 102.4l3.4 1 3.1-0.9-3.4-1z" fill="#00dbff" stroke="#00afcc"/>
<path d="M582.8 122.9l1 0.4 2.5-0.4-1-0.5z" fill="#cf00ff" stroke="#a500cc"/>
<path d="M510.4 105.6l3.7 1.1 2.8-0.8-3.7-1.1z" fill="#0086ff" stroke="#006bcc"/>
<path d="M593.2 126.1l1 0.4 2.4-0.4-1-0.4z" fill="#f0f" stroke="#c0c"/>
<path d="M543.7 111l3.7 1.7 2.7-0.4-3.7-1.7z" fill="#0700ff" stroke="#0500cc"/>
<path d="M438.1 102.2l3.4 1 3.2-0.8-3.4-1.1z" fill="#00e4ff" stroke="#00b6cc"/>
<path d="M480.8 104l3.6 1 2.9-0.8-3.5-1z" fill="#00aeff" stroke="#008bcc"/>
<path d="M527 107.6l3.7 1.3 2.8-0.6-3.7-1.4z" fill="#0054ff" stroke="#0043cc"/>
<path d="M583.8 123.3l1 0.5 2.5-0.5-1-0.4z" fill="#d400ff" stroke="#a900cc"/>
<path d="M431.5 102l3.4 1.1 3.2-0.9-3.4-1.1z" fill="#00edff" stroke="#00bdcc"/>
<path d="M594.2 126.5l0.9 0.5 2.5-0.4-1-0.5z" fill="#f0f" stroke="#c0c"/>
<path d="M425 101.8l3.3 1.1 3.2-0.9-3.3-1.1z" fill="#00f7ff" stroke="#00c5cc"/>
<path d="M584.8 123.8l0 0 2.5-0.5 0 0z" fill="#d700ff" stroke="#ac00cc"/>
<path d="M553.9 114.1l3.8 1.8 2.6-0.4-3.8-1.8z" fill="#3d00ff" stroke="#3000cc"/>
<path d="M595.1 127l0 0 2.5-0.4 0 0z" fill="#f0f" stroke="#c0c"/>
<path d="M418.4 101.5l3.3 1.1 3.3-0.8-3.4-1.1z" fill="#02fffd" stroke="#01ccca"/>
<path d="M385.2 99.9l3.2 1.3 3.4-0.9-3.2-1.3z" fill="#3cffc3" stroke="#30cc9c"/>
<path d="M503.9 105.4l3.6 1 2.9-0.8-3.6-1z" fill="#0091ff" stroke="#0074cc"/>
<path d="M391.8 100.3l3.3 1.2 3.4-0.9-3.3-1.2z" fill="#2fffd0" stroke="#25cca6"/>
<path d="M411.8 101.3l3.3 1.1 3.3-0.9-3.3-1.1z" fill="#0cfff3" stroke="#09ccc2"/>
<path d="M584.8 123.8l1 0.5 2.4-0.5-0.9-0.5z" fill="#da00ff" stroke="#ae00cc"/>
<path d="M398.5 100.6l3.3 1.2 3.3-0.8-3.2-1.2z" fill="#23ffdc" stroke="#1cccb0"/>
<path d="M405.1 101l3.3 1.1 3.4-0.8-3.3-1.2z" fill="#17ffe8" stroke="#12ccb9"/>
<path d="M474.3 103.9l3.5 1 3-0.9-3.5-0.9z" fill="#00b6ff" stroke="#0091cc"/>
<path d="M564.1 117.3l3.9 1.9 2.6-0.5-3.9-1.8z" fill="#7400ff" stroke="#5c00cc"/>
<path d="M585.8 124.3l0.9 0.4 2.5-0.4-1-0.5z" fill="#df00ff" stroke="#b200cc"/>
<path d="M537.2 109.9l3.8 1.6 2.7-0.5-3.8-1.6z" fill="#001eff" stroke="#0018cc"/>
<path d="M574.4 120.6l3.9 1.8 2.6-0.4-3.9-1.9z" fill="#ac00ff" stroke="#8900cc"/>
<path d="M467.8 103.8l3.5 1 3-0.9-3.5-1z" fill="#00bdff" stroke="#0097cc"/>
<path d="M520.6 107l3.6 1.3 2.8-0.7-3.7-1.3z" fill="#006bff" stroke="#05c"/>
<path d="M497.4 105.3l3.6 1 2.9-0.9-3.6-1z" fill="#09f" stroke="#007acc"/>
<path d="M586.7 124.7l1 0.5 2.5-0.5-1-0.4z" fill="#e500ff" stroke="#b700cc"/>
<path d="M461.2 103.7l3.5 1 3.1-0.9-3.5-1z" fill="#00c4ff" stroke="#009ccc"/>
<path d="M547.4 112.7l3.8 1.8 2.7-0.4-3.8-1.8z" fill="#1c00ff" stroke="#1600cc"/>
<path d="M454.7 103.6l3.4 1 3.1-0.9-3.4-1z" fill="#00cbff" stroke="#00a2cc"/>
<path d="M587.7 125.2l1 0.4 2.5-0.4-1-0.5z" fill="#ea00ff" stroke="#b0c"/>
<path d="M490.9 105.1l3.6 1 2.9-0.8-3.6-1z" fill="#00a1ff" stroke="#0080cc"/>
<path d="M578.3 122.4l0 0 2.6-0.4 0 0z" fill="#b700ff" stroke="#9200cc"/>
<path d="M514.1 106.7l3.6 1.1 2.9-0.8-3.7-1.1z" fill="#007cff" stroke="#0063cc"/>
<path d="M588.7 125.6l0 0 2.5-0.4 0 0z" fill="#ed00ff" stroke="#bd00cc"/>
<path d="M578.3 122.4l1 0.5 2.5-0.5-0.9-0.4z" fill="#b900ff" stroke="#9400cc"/>
<path d="M448.1 103.4l3.4 1 3.2-0.8-3.5-1.1z" fill="#00d3ff" stroke="#00a8cc"/>
<path d="M530.7 108.9l3.8 1.5 2.7-0.5-3.7-1.6z" fill="#0040ff" stroke="#03c"/>
<path d="M557.7 115.9l3.8 1.9 2.6-0.5-3.8-1.8z" fill="#5300ff" stroke="#4200cc"/>
<path d="M588.7 125.6l1 0.5 2.5-0.5-1-0.4z" fill="#ef00ff" stroke="#bf00cc"/>
<path d="M484.4 105l3.5 1 3-0.9-3.6-0.9z" fill="#00a8ff" stroke="#0086cc"/>
<path d="M441.5 103.2l3.4 1.1 3.2-0.9-3.4-1z" fill="#00dbff" stroke="#00afcc"/>
<path d="M568 119.2l3.9 1.9 2.5-0.5-3.8-1.9z" fill="#8b00ff" stroke="#6f00cc"/>
<path d="M579.3 122.9l1 0.5 2.5-0.5-1-0.5z" fill="#bf00ff" stroke="#9800cc"/>
<path d="M434.9 103.1l3.4 1 3.2-0.9-3.4-1z" fill="#00e4ff" stroke="#00b6cc"/>
<path d="M589.7 126.1l1 0.5 2.5-0.5-1-0.5z" fill="#f500ff" stroke="#c400cc"/>
<path d="M507.5 106.4l3.7 1.1 2.9-0.8-3.7-1.1z" fill="#08f" stroke="#006ccc"/>
<path d="M428.3 102.9l3.4 1 3.2-0.8-3.4-1.1z" fill="#00edff" stroke="#00bdcc"/>
<path d="M477.8 104.9l3.6 1 3-0.9-3.6-1z" fill="#00afff" stroke="#008ccc"/>
<path d="M541 111.5l3.7 1.7 2.7-0.5-3.7-1.7z" fill="#0004ff" stroke="#0003cc"/>
<path d="M381.7 100.8l3.2 1.2 3.5-0.8-3.2-1.3z" fill="#3cffc3" stroke="#30cc9c"/>
<path d="M580.3 123.4l1 0.4 2.5-0.5-1-0.4z" fill="#c400ff" stroke="#9c00cc"/>
<path d="M421.7 102.6l3.4 1.1 3.2-0.8-3.3-1.1z" fill="#00f7ff" stroke="#00c5cc"/>
<path d="M388.4 101.2l3.3 1.2 3.4-0.9-3.3-1.2z" fill="#2fffd0" stroke="#25cca6"/>
<path d="M415.1 102.4l3.3 1.1 3.3-0.9-3.3-1.1z" fill="#02fffd" stroke="#01ccca"/>
<path d="M590.7 126.6l1 0.4 2.5-0.5-1-0.4z" fill="#fa00ff" stroke="#c800cc"/>
<path d="M395.1 101.5l3.3 1.2 3.4-0.9-3.3-1.2z" fill="#23ffdc" stroke="#1cccb0"/>
<path d="M408.4 102.1l3.3 1.2 3.4-0.9-3.3-1.1z" fill="#0cfff3" stroke="#09ccc2"/>
<path d="M401.8 101.8l3.3 1.2 3.3-0.9-3.3-1.1z" fill="#17ffe8" stroke="#12ccb9"/>
<path d="M524.2 108.3l3.8 1.3 2.7-0.7-3.7-1.3z" fill="#005cff" stroke="#0049cc"/>
<path d="M581.3 123.8l0.9 0.5 2.6-0.5-1-0.5z" fill="#ca00ff" stroke="#a100cc"/>
<path d="M471.3 104.8l3.5 1 3-0.9-3.5-1z" fill="#00b6ff" stroke="#0091cc"/>
<path d="M501 106.3l3.7 1 2.8-0.9-3.6-1z" fill="#0092ff" stroke="#0074cc"/>
<path d="M591.7 127l1 0.5 2.4-0.5-0.9-0.5z" fill="#f0f" stroke="#c0c"/>
<path d="M551.2 114.5l3.8 1.9 2.7-0.5-3.8-1.8z" fill="#3200ff" stroke="#2800cc"/>
<path d="M582.2 124.3l0 0 2.6-0.5 0 0z" fill="#cd00ff" stroke="#a400cc"/>
<path d="M592.7 127.5l0 0 2.4-0.5 0 0z" fill="#f0f" stroke="#c0c"/>
<path d="M582.2 124.3l1 0.5 2.6-0.5-1-0.5z" fill="#cf00ff" stroke="#a500cc"/>
<path d="M464.7 104.7l3.5 1 3.1-0.9-3.5-1z" fill="#00bdff" stroke="#0097cc"/>
<path d="M561.5 117.8l3.9 1.9 2.6-0.5-3.9-1.9z" fill="#6a00ff" stroke="#5400cc"/>
<path d="M517.7 107.8l3.7 1.2 2.8-0.7-3.6-1.3z" fill="#0070ff" stroke="#0059cc"/>
<path d="M494.5 106.1l3.6 1 2.9-0.8-3.6-1z" fill="#009aff" stroke="#007bcc"/>
<path d="M534.5 110.4l3.7 1.6 2.8-0.5-3.8-1.6z" fill="#002aff" stroke="#0021cc"/>
<path d="M458.1 104.6l3.5 1 3.1-0.9-3.5-1z" fill="#00c4ff" stroke="#009ccc"/>
<path d="M583.2 124.8l1 0.5 2.5-0.6-0.9-0.4z" fill="#d500ff" stroke="#a0c"/>
<path d="M571.9 121.1l3.9 1.9 2.5-0.6-3.9-1.8z" fill="#a100ff" stroke="#8000cc"/>
<path d="M451.5 104.4l3.5 1 3.1-0.8-3.4-1z" fill="#0cf" stroke="#00a3cc"/>
<path d="M584.2 125.3l1 0.4 2.5-0.5-1-0.5z" fill="#da00ff" stroke="#ae00cc"/>
<path d="M487.9 106l3.6 1 3-0.9-3.6-1z" fill="#00a1ff" stroke="#0080cc"/>
<path d="M544.7 113.2l3.8 1.8 2.7-0.5-3.8-1.8z" fill="#1200ff" stroke="#0e00cc"/>
<path d="M444.9 104.3l3.5 1 3.1-0.9-3.4-1z" fill="#00d3ff" stroke="#00a8cc"/>
<path d="M511.2 107.5l3.7 1.1 2.8-0.8-3.6-1.1z" fill="#007fff" stroke="#0065cc"/>
<path d="M585.2 125.7l1 0.5 2.5-0.6-1-0.4z" fill="#e000ff" stroke="#b300cc"/>
<path d="M438.3 104.1l3.4 1.1 3.2-0.9-3.4-1.1z" fill="#00dbff" stroke="#00afcc"/>
<path d="M575.8 123l0 0 2.5-0.6 0 0z" fill="#ad00ff" stroke="#8a00cc"/>
<path d="M528 109.6l3.7 1.4 2.8-0.6-3.8-1.5z" fill="#004aff" stroke="#003bcc"/>
<path d="M481.4 105.9l3.5 1 3-0.9-3.5-1z" fill="#00a8ff" stroke="#0086cc"/>
<path d="M586.2 126.2l0 0 2.5-0.6 0 0z" fill="#e300ff" stroke="#b500cc"/>
<path d="M431.7 103.9l3.4 1.1 3.2-0.9-3.4-1z" fill="#00e4ff" stroke="#00b6cc"/>
<path d="M575.8 123l0.9 0.5 2.6-0.6-1-0.5z" fill="#af00ff" stroke="#8c00cc"/>
<path d="M555 116.4l3.9 1.8 2.6-0.4-3.8-1.9z" fill="#4800ff" stroke="#3900cc"/>
<path d="M378.2 101.7l3.2 1.2 3.5-0.9-3.2-1.2z" fill="#3cffc3" stroke="#30cc9c"/>
<path d="M425.1 103.7l3.3 1.1 3.3-0.9-3.4-1z" fill="#00edff" stroke="#00bdcc"/>
<path d="M586.2 126.2l1 0.5 2.5-0.6-1-0.5z" fill="#e500ff" stroke="#b700cc"/>
<path d="M384.9 102l3.3 1.3 3.5-0.9-3.3-1.2z" fill="#2fffd0" stroke="#25cca6"/>
<path d="M418.4 103.5l3.4 1.1 3.3-0.9-3.4-1.1z" fill="#00f7ff" stroke="#00c5cc"/>
<path d="M504.7 107.3l3.6 1 2.9-0.8-3.7-1.1z" fill="#008aff" stroke="#006ecc"/>
<path d="M391.7 102.4l3.2 1.2 3.5-0.9-3.3-1.2z" fill="#23ffdc" stroke="#1cccb0"/>
<path d="M411.7 103.3l3.4 1.1 3.3-0.9-3.3-1.1z" fill="#02fffd" stroke="#01ccca"/>
<path d="M398.4 102.7l3.3 1.2 3.4-0.9-3.3-1.2z" fill="#17ffe8" stroke="#12ccb9"/>
<path d="M565.4 119.7l3.9 1.9 2.6-0.5-3.9-1.9z" fill="#8100ff" stroke="#6700cc"/>
<path d="M405.1 103l3.3 1.2 3.3-0.9-3.3-1.2z" fill="#0cfff3" stroke="#09ccc2"/>
<path d="M474.8 105.8l3.5 1 3.1-0.9-3.6-1z" fill="#00afff" stroke="#008ccc"/>
<path d="M576.7 123.5l1 0.4 2.6-0.5-1-0.5z" fill="#b500ff" stroke="#9000cc"/>
<path d="M587.2 126.7l1 0.5 2.5-0.6-1-0.5z" fill="#eb00ff" stroke="#bc00cc"/>
<path d="M538.2 112l3.8 1.7 2.7-0.5-3.7-1.7z" fill="#01f" stroke="#000dcc"/>
<path d="M577.7 123.9l1 0.5 2.6-0.6-1-0.4z" fill="#b0f" stroke="#9500cc"/>
<path d="M521.4 109l3.8 1.3 2.8-0.7-3.8-1.3z" fill="#0062ff" stroke="#004ecc"/>
<path d="M468.2 105.7l3.5 1 3.1-0.9-3.5-1z" fill="#00b6ff" stroke="#0091cc"/>
<path d="M588.2 127.2l1 0.4 2.5-0.6-1-0.4z" fill="#f100ff" stroke="#c000cc"/>
<path d="M498.1 107.1l3.6 1 3-0.8-3.7-1z" fill="#0093ff" stroke="#0075cc"/>
<path d="M578.7 124.4l1 0.5 2.5-0.6-0.9-0.5z" fill="#c000ff" stroke="#90c"/>
<path d="M461.6 105.6l3.5 1 3.1-0.9-3.5-1z" fill="#00bdff" stroke="#0097cc"/>
<path d="M548.5 115l3.9 1.8 2.6-0.4-3.8-1.9z" fill="#2700ff" stroke="#1f00cc"/>
<path d="M589.2 127.6l1 0.5 2.5-0.6-1-0.5z" fill="#f600ff" stroke="#c400cc"/>
<path d="M579.7 124.9l0 0 2.5-0.6 0 0z" fill="#c300ff" stroke="#9c00cc"/>
<path d="M590.2 128.1l0 0 2.5-0.6 0 0z" fill="#f900ff" stroke="#c700cc"/>
<path d="M491.5 107l3.6 1 3-0.9-3.6-1z" fill="#009bff" stroke="#007ccc"/>
<path d="M455 105.4l3.5 1.1 3.1-0.9-3.5-1z" fill="#00c4ff" stroke="#009ccc"/>
<path d="M579.7 124.9l1 0.5 2.5-0.6-1-0.5z" fill="#c600ff" stroke="#9e00cc"/>
<path d="M514.9 108.6l3.7 1.2 2.8-0.8-3.7-1.2z" fill="#0074ff" stroke="#005ccc"/>
<path d="M558.9 118.2l3.9 2 2.6-0.5-3.9-1.9z" fill="#5f00ff" stroke="#4c00cc"/>
<path d="M531.7 111l3.8 1.5 2.7-0.5-3.7-1.6z" fill="#0035ff" stroke="#002acc"/>
<path d="M448.4 105.3l3.4 1 3.2-0.9-3.5-1z" fill="#0cf" stroke="#00a3cc"/>
<path d="M580.7 125.4l1 0.5 2.5-0.6-1-0.5z" fill="#c0f" stroke="#a300cc"/>
<path d="M569.3 121.6l3.9 1.9 2.6-0.5-3.9-1.9z" fill="#9800ff" stroke="#7900cc"/>
<path d="M484.9 106.9l3.6 1 3-0.9-3.6-1z" fill="#00a2ff" stroke="#0081cc"/>
<path d="M441.7 105.2l3.5 1 3.2-0.9-3.5-1z" fill="#00d3ff" stroke="#00a8cc"/>
<path d="M435.1 105l3.4 1.1 3.2-0.9-3.4-1.1z" fill="#00dbff" stroke="#00afcc"/>
<path d="M508.3 108.3l3.7 1.1 2.9-0.8-3.7-1.1z" fill="#0081ff" stroke="#0067cc"/>
<path d="M581.7 125.9l1 0.5 2.5-0.7-1-0.4z" fill="#d200ff" stroke="#a800cc"/>
<path d="M374.7 102.5l3.2 1.3 3.5-0.9-3.2-1.2z" fill="#3cffc3" stroke="#30cc9c"/>
<path d="M542 113.7l3.8 1.7 2.7-0.4-3.8-1.8z" fill="#0700ff" stroke="#0500cc"/>
<path d="M428.4 104.8l3.4 1.1 3.3-0.9-3.4-1.1z" fill="#00e4ff" stroke="#00b6cc"/>
<path d="M381.4 102.9l3.3 1.3 3.5-0.9-3.3-1.3z" fill="#2fffd0" stroke="#25cca6"/>
<path d="M478.3 106.8l3.6 1 3-0.9-3.5-1z" fill="#00a9ff" stroke="#0087cc"/>
<path d="M421.8 104.6l3.4 1.1 3.2-0.9-3.3-1.1z" fill="#00edff" stroke="#00bdcc"/>
<path d="M388.2 103.3l3.3 1.2 3.4-0.9-3.2-1.2z" fill="#23ffdc" stroke="#1cccb0"/>
<path d="M415.1 104.4l3.3 1.1 3.4-0.9-3.4-1.1z" fill="#00f7ff" stroke="#00c5cc"/>
<path d="M525.2 110.3l3.7 1.3 2.8-0.6-3.7-1.4z" fill="#0051ff" stroke="#0040cc"/>
<path d="M394.9 103.6l3.3 1.2 3.5-0.9-3.3-1.2z" fill="#17ffe8" stroke="#12ccb9"/>
<path d="M408.4 104.2l3.3 1.1 3.4-0.9-3.4-1.1z" fill="#02fffd" stroke="#01ccca"/>
<path d="M582.7 126.4l0.9 0.4 2.6-0.6-1-0.5z" fill="#d700ff" stroke="#ac00cc"/>
<path d="M401.7 103.9l3.3 1.2 3.4-0.9-3.3-1.2z" fill="#0cfff3" stroke="#09ccc2"/>
<path d="M573.2 123.5l0 0 2.6-0.5 0 0z" fill="#a300ff" stroke="#8200cc"/>
<path d="M583.6 126.8l0 0 2.6-0.6 0 0z" fill="#da00ff" stroke="#ae00cc"/>
<path d="M552.4 116.8l3.8 1.9 2.7-0.5-3.9-1.8z" fill="#3e00ff" stroke="#3100cc"/>
<path d="M573.2 123.5l1 0.5 2.5-0.5-0.9-0.5z" fill="#a600ff" stroke="#8400cc"/>
<path d="M471.7 106.7l3.6 1 3-0.9-3.5-1z" fill="#00b0ff" stroke="#008ccc"/>
<path d="M501.7 108.1l3.7 1.1 2.9-0.9-3.6-1z" fill="#008bff" stroke="#006fcc"/>
<path d="M583.6 126.8l1 0.5 2.6-0.6-1-0.5z" fill="#d0f" stroke="#b000cc"/>
<path d="M562.8 120.2l3.8 1.9 2.7-0.5-3.9-1.9z" fill="#70f" stroke="#5f00cc"/>
<path d="M574.2 124l0.9 0.5 2.6-0.6-1-0.4z" fill="#ac00ff" stroke="#8900cc"/>
<path d="M465.1 106.6l3.6 1 3-0.9-3.5-1z" fill="#00b7ff" stroke="#0092cc"/>
<path d="M584.6 127.3l1 0.5 2.6-0.6-1-0.5z" fill="#e300ff" stroke="#b500cc"/>
<path d="M535.5 112.5l3.8 1.7 2.7-0.5-3.8-1.7z" fill="#001dff" stroke="#0017cc"/>
<path d="M518.6 109.8l3.7 1.2 2.9-0.7-3.8-1.3z" fill="#0067ff" stroke="#0052cc"/>
<path d="M495.1 108l3.7 1 2.9-0.9-3.6-1z" fill="#0094ff" stroke="#0076cc"/>
<path d="M575.1 124.5l1 0.5 2.6-0.6-1-0.5z" fill="#b200ff" stroke="#8e00cc"/>
<path d="M458.5 106.5l3.5 1 3.1-0.9-3.5-1z" fill="#00bdff" stroke="#0097cc"/>
<path d="M585.6 127.8l1 0.5 2.6-0.7-1-0.4z" fill="#e900ff" stroke="#ba00cc"/>
<path d="M451.8 106.3l3.5 1 3.2-0.8-3.5-1.1z" fill="#00c5ff" stroke="#009dcc"/>
<path d="M576.1 125l1 0.5 2.6-0.6-1-0.5z" fill="#b800ff" stroke="#9300cc"/>
<path d="M545.8 115.4l3.9 1.9 2.7-0.5-3.9-1.8z" fill="#1d00ff" stroke="#1700cc"/>
<path d="M488.5 107.9l3.7 1 2.9-0.9-3.6-1z" fill="#009bff" stroke="#007ccc"/>
<path d="M586.6 128.3l1 0.5 2.6-0.7-1-0.5z" fill="#e0f" stroke="#be00cc"/>
<path d="M577.1 125.5l0 0 2.6-0.6 0 0z" fill="#b0f" stroke="#9500cc"/>
<path d="M445.2 106.2l3.5 1 3.1-0.9-3.4-1z" fill="#0cf" stroke="#00a3cc"/>
<path d="M512 109.4l3.7 1.2 2.9-0.8-3.7-1.2z" fill="#07f" stroke="#005fcc"/>
<path d="M587.6 128.8l0 0 2.6-0.7 0 0z" fill="#f100ff" stroke="#c000cc"/>
<path d="M577.1 125.5l1 0.5 2.6-0.6-1-0.5z" fill="#be00ff" stroke="#9800cc"/>
<path d="M528.9 111.6l3.8 1.5 2.8-0.6-3.8-1.5z" fill="#003eff" stroke="#0031cc"/>
<path d="M438.5 106.1l3.5 1 3.2-0.9-3.5-1z" fill="#00d3ff" stroke="#00a8cc"/>
<path d="M556.2 118.7l3.9 2 2.7-0.5-3.9-2z" fill="#50f" stroke="#40c"/>
<path d="M371.1 103.4l3.3 1.3 3.5-0.9-3.2-1.3z" fill="#3cffc3" stroke="#30cc9c"/>
<path d="M481.9 107.8l3.6 1 3-0.9-3.6-1z" fill="#00a3ff" stroke="#0082cc"/>
<path d="M431.8 105.9l3.5 1.1 3.2-0.9-3.4-1.1z" fill="#00dbff" stroke="#00afcc"/>
<path d="M377.9 103.8l3.3 1.3 3.5-0.9-3.3-1.3z" fill="#2fffd0" stroke="#25cca6"/>
<path d="M566.6 122.1l4 2 2.6-0.6-3.9-1.9z" fill="#8f00ff" stroke="#7200cc"/>
<path d="M425.2 105.7l3.4 1.1 3.2-0.9-3.4-1.1z" fill="#00e4ff" stroke="#00b6cc"/>
<path d="M578.1 126l1 0.5 2.6-0.6-1-0.5z" fill="#c400ff" stroke="#9c00cc"/>
<path d="M384.7 104.2l3.3 1.2 3.5-0.9-3.3-1.2z" fill="#23ffdc" stroke="#1cccb0"/>
<path d="M418.4 105.5l3.4 1.1 3.4-0.9-3.4-1.1z" fill="#00edff" stroke="#00bdcc"/>
<path d="M505.4 109.2l3.7 1.1 2.9-0.9-3.7-1.1z" fill="#0083ff" stroke="#0068cc"/>
<path d="M391.5 104.5l3.3 1.2 3.4-0.9-3.3-1.2z" fill="#17ffe8" stroke="#12ccb9"/>
<path d="M411.7 105.3l3.4 1.1 3.3-0.9-3.3-1.1z" fill="#00f7ff" stroke="#00c5cc"/>
<path d="M398.2 104.8l3.4 1.2 3.4-0.9-3.3-1.2z" fill="#0cfff3" stroke="#09ccc2"/>
<path d="M405 105.1l3.3 1.1 3.4-0.9-3.3-1.1z" fill="#02fffd" stroke="#01ccca"/>
<path d="M475.3 107.7l3.6 1 3-0.9-3.6-1z" fill="#00a9ff" stroke="#0087cc"/>
<path d="M579.1 126.5l1 0.5 2.6-0.6-1-0.5z" fill="#ca00ff" stroke="#a100cc"/>
<path d="M539.3 114.2l3.8 1.7 2.7-0.5-3.8-1.7z" fill="#0003ff" stroke="#0002cc"/>
<path d="M522.3 111l3.8 1.3 2.8-0.7-3.7-1.3z" fill="#0058ff" stroke="#0046cc"/>
<path d="M468.7 107.6l3.5 1 3.1-0.9-3.6-1z" fill="#00b0ff" stroke="#008ccc"/>
<path d="M580.1 127l1 0.5 2.5-0.7-0.9-0.4z" fill="#d000ff" stroke="#a600cc"/>
<path d="M498.8 109l3.7 1 2.9-0.8-3.7-1.1z" fill="#008dff" stroke="#0070cc"/>
<path d="M570.6 124.1l0 0 2.6-0.6 0 0z" fill="#9b00ff" stroke="#7c00cc"/>
<path d="M549.7 117.3l3.8 1.9 2.7-0.5-3.8-1.9z" fill="#30f" stroke="#2800cc"/>
<path d="M581.1 127.5l0 0 2.5-0.7 0 0z" fill="#d300ff" stroke="#a800cc"/>
<path d="M570.6 124.1l1 0.5 2.6-0.6-1-0.5z" fill="#9e00ff" stroke="#7e00cc"/>
<path d="M462 107.5l3.6 1 3.1-0.9-3.6-1z" fill="#00b7ff" stroke="#0092cc"/>
<path d="M581.1 127.5l1 0.5 2.5-0.7-1-0.5z" fill="#d600ff" stroke="#ab00cc"/>
<path d="M560.1 120.7l3.9 2 2.6-0.6-3.8-1.9z" fill="#6d00ff" stroke="#5700cc"/>
<path d="M492.2 108.9l3.6 1 3-0.9-3.7-1z" fill="#0095ff" stroke="#07c"/>
<path d="M571.6 124.6l0.9 0.5 2.6-0.6-0.9-0.5z" fill="#a400ff" stroke="#8300cc"/>
<path d="M455.3 107.3l3.6 1.1 3.1-0.9-3.5-1z" fill="#00beff" stroke="#0098cc"/>
<path d="M515.7 110.6l3.8 1.2 2.8-0.8-3.7-1.2z" fill="#006cff" stroke="#0056cc"/>
<path d="M532.7 113.1l3.8 1.6 2.8-0.5-3.8-1.7z" fill="#0028ff" stroke="#0020cc"/>
<path d="M582.1 128l1 0.5 2.5-0.7-1-0.5z" fill="#dc00ff" stroke="#b000cc"/>
<path d="M448.7 107.2l3.5 1.1 3.1-1-3.5-1z" fill="#00c5ff" stroke="#009dcc"/>
<path d="M572.5 125.1l1 0.5 2.6-0.6-1-0.5z" fill="#a0f" stroke="#80c"/>
<path d="M485.5 108.8l3.7 1 3-0.9-3.7-1z" fill="#009cff" stroke="#007ccc"/>
<path d="M583.1 128.5l1 0.5 2.5-0.7-1-0.5z" fill="#e200ff" stroke="#b400cc"/>
<path d="M442 107.1l3.5 1 3.2-0.9-3.5-1z" fill="#0cf" stroke="#00a3cc"/>
<path d="M367.5 104.3l3.3 1.3 3.6-0.9-3.3-1.3z" fill="#3cffc3" stroke="#30cc9c"/>
<path d="M435.3 107l3.4 1 3.3-0.9-3.5-1z" fill="#00d4ff" stroke="#00a9cc"/>
<path d="M543.1 115.9l3.8 1.9 2.8-0.5-3.9-1.9z" fill="#1300ff" stroke="#0f00cc"/>
<path d="M509.1 110.3l3.7 1.1 2.9-0.8-3.7-1.2z" fill="#007aff" stroke="#0061cc"/>
<path d="M573.5 125.6l1 0.5 2.6-0.6-1-0.5z" fill="#b000ff" stroke="#8c00cc"/>
<path d="M374.4 104.7l3.2 1.3 3.6-0.9-3.3-1.3z" fill="#2fffd0" stroke="#25cca6"/>
<path d="M428.6 106.8l3.4 1.1 3.3-0.9-3.5-1.1z" fill="#00dcff" stroke="#00b0cc"/>
<path d="M584.1 129l1 0.5 2.5-0.7-1-0.5z" fill="#e800ff" stroke="#b900cc"/>
<path d="M381.2 105.1l3.3 1.2 3.5-0.9-3.3-1.2z" fill="#23ffdc" stroke="#1cccb0"/>
<path d="M574.5 126.1l0 0 2.6-0.6 0 0z" fill="#b300ff" stroke="#8f00cc"/>
<path d="M478.9 108.7l3.6 0.9 3-0.8-3.6-1z" fill="#00a3ff" stroke="#0082cc"/>
<path d="M421.8 106.6l3.4 1.1 3.4-0.9-3.4-1.1z" fill="#00e4ff" stroke="#00b6cc"/>
<path d="M388 105.4l3.3 1.2 3.5-0.9-3.3-1.2z" fill="#17ffe8" stroke="#12ccb9"/>
<path d="M526.1 112.3l3.8 1.4 2.8-0.6-3.8-1.5z" fill="#0047ff" stroke="#0038cc"/>
<path d="M585.1 129.5l0 0 2.5-0.7 0 0z" fill="#eb00ff" stroke="#bc00cc"/>
<path d="M415.1 106.4l3.4 1.1 3.3-0.9-3.4-1.1z" fill="#00edff" stroke="#00bdcc"/>
<path d="M394.8 105.7l3.3 1.2 3.5-0.9-3.4-1.2z" fill="#0cfff3" stroke="#09ccc2"/>
<path d="M574.5 126.1l1 0.6 2.6-0.7-1-0.5z" fill="#b600ff" stroke="#9100cc"/>
<path d="M408.3 106.2l3.4 1.2 3.4-1-3.4-1.1z" fill="#00f7ff" stroke="#00c5cc"/>
<path d="M401.6 106l3.3 1.1 3.4-0.9-3.3-1.1z" fill="#02fffd" stroke="#01ccca"/>
<path d="M553.5 119.2l3.9 2 2.7-0.5-3.9-2z" fill="#4b00ff" stroke="#3c00cc"/>
<path d="M502.5 110l3.7 1.1 2.9-0.8-3.7-1.1z" fill="#0085ff" stroke="#006acc"/>
<path d="M472.2 108.6l3.6 0.9 3.1-0.8-3.6-1z" fill="#0af" stroke="#08c"/>
<path d="M564 122.7l3.9 2 2.7-0.6-4-2z" fill="#8600ff" stroke="#6b00cc"/>
<path d="M575.5 126.7l1 0.5 2.6-0.7-1-0.5z" fill="#bc00ff" stroke="#9600cc"/>
<path d="M465.6 108.5l3.5 1 3.1-0.9-3.5-1z" fill="#00b1ff" stroke="#008dcc"/>
<path d="M536.5 114.7l3.8 1.7 2.8-0.5-3.8-1.7z" fill="#0010ff" stroke="#000ccc"/>
<path d="M576.5 127.2l1 0.5 2.6-0.7-1-0.5z" fill="#c300ff" stroke="#9c00cc"/>
<path d="M519.5 111.8l3.8 1.2 2.8-0.7-3.8-1.3z" fill="#005eff" stroke="#004bcc"/>
<path d="M495.8 109.9l3.7 1 3-0.9-3.7-1z" fill="#008eff" stroke="#0071cc"/>
<path d="M458.9 108.4l3.5 1 3.2-0.9-3.6-1z" fill="#00b7ff" stroke="#0092cc"/>
<path d="M577.5 127.7l1 0.5 2.6-0.7-1-0.5z" fill="#c900ff" stroke="#a000cc"/>
<path d="M567.9 124.7l0 0 2.7-0.6 0 0z" fill="#9200ff" stroke="#7400cc"/>
<path d="M546.9 117.8l3.9 1.9 2.7-0.5-3.8-1.9z" fill="#2900ff" stroke="#2000cc"/>
<path d="M578.5 128.2l0 0 2.6-0.7 0 0z" fill="#c0f" stroke="#a300cc"/>
<path d="M452.2 108.3l3.5 1 3.2-0.9-3.6-1.1z" fill="#00beff" stroke="#0098cc"/>
<path d="M567.9 124.7l1 0.5 2.7-0.6-1-0.5z" fill="#9500ff" stroke="#70c"/>
<path d="M489.2 109.8l3.6 1 3-0.9-3.6-1z" fill="#0096ff" stroke="#0078cc"/>
<path d="M578.5 128.2l1 0.5 2.6-0.7-1-0.5z" fill="#cf00ff" stroke="#a500cc"/>
<path d="M512.8 111.4l3.8 1.1 2.9-0.7-3.8-1.2z" fill="#0070ff" stroke="#0059cc"/>
<path d="M445.5 108.1l3.5 1.1 3.2-0.9-3.5-1.1z" fill="#00c5ff" stroke="#009dcc"/>
<path d="M557.4 121.2l3.9 2 2.7-0.5-3.9-2z" fill="#6300ff" stroke="#4f00cc"/>
<path d="M363.9 105.2l3.2 1.4 3.7-1-3.3-1.3z" fill="#3cffc3" stroke="#30cc9c"/>
<path d="M568.9 125.2l1 0.5 2.6-0.6-0.9-0.5z" fill="#9b00ff" stroke="#7c00cc"/>
<path d="M529.9 113.7l3.8 1.6 2.8-0.6-3.8-1.6z" fill="#03f" stroke="#0028cc"/>
<path d="M438.7 108l3.5 1.1 3.3-1-3.5-1z" fill="#0cf" stroke="#00a3cc"/>
<path d="M370.8 105.6l3.2 1.3 3.6-0.9-3.2-1.3z" fill="#2fffd0" stroke="#25cca6"/>
<path d="M579.5 128.7l1 0.5 2.6-0.7-1-0.5z" fill="#d500ff" stroke="#a0c"/>
<path d="M482.5 109.6l3.6 1 3.1-0.8-3.7-1z" fill="#009dff" stroke="#007dcc"/>
<path d="M432 107.9l3.5 1 3.2-0.9-3.4-1z" fill="#00d4ff" stroke="#00a9cc"/>
<path d="M377.6 106l3.3 1.2 3.6-0.9-3.3-1.2z" fill="#23ffdc" stroke="#1cccb0"/>
<path d="M569.9 125.7l1 0.6 2.6-0.7-1-0.5z" fill="#a200ff" stroke="#8100cc"/>
<path d="M425.2 107.7l3.5 1.1 3.3-0.9-3.4-1.1z" fill="#00dcff" stroke="#00b0cc"/>
<path d="M384.5 106.3l3.3 1.2 3.5-0.9-3.3-1.2z" fill="#17ffe8" stroke="#12ccb9"/>
<path d="M418.5 107.5l3.4 1.1 3.3-0.9-3.4-1.1z" fill="#00e4ff" stroke="#00b6cc"/>
<path d="M580.5 129.2l1 0.6 2.6-0.8-1-0.5z" fill="#db00ff" stroke="#af00cc"/>
<path d="M506.2 111.1l3.7 1.1 2.9-0.8-3.7-1.1z" fill="#007dff" stroke="#0064cc"/>
<path d="M391.3 106.6l3.3 1.2 3.5-0.9-3.3-1.2z" fill="#0cfff3" stroke="#09ccc2"/>
<path d="M411.7 107.4l3.4 1.1 3.4-1-3.4-1.1z" fill="#00edff" stroke="#00bdcc"/>
<path d="M398.1 106.9l3.4 1.2 3.4-1-3.3-1.1z" fill="#02fffd" stroke="#01ccca"/>
<path d="M404.9 107.1l3.4 1.2 3.4-0.9-3.4-1.2z" fill="#00f7ff" stroke="#00c5cc"/>
<path d="M475.8 109.5l3.6 1 3.1-0.9-3.6-0.9z" fill="#00a4ff" stroke="#0083cc"/>
<path d="M540.3 116.4l3.9 1.8 2.7-0.4-3.8-1.9z" fill="#0800ff" stroke="#0600cc"/>
<path d="M570.9 126.3l1 0.5 2.6-0.7-1-0.5z" fill="#a800ff" stroke="#8600cc"/>
<path d="M581.5 129.8l1 0.5 2.6-0.8-1-0.5z" fill="#e200ff" stroke="#b400cc"/>
<path d="M523.3 113l3.8 1.4 2.8-0.7-3.8-1.4z" fill="#004fff" stroke="#003fcc"/>
<path d="M571.9 126.8l0 0 2.6-0.7 0 0z" fill="#ab00ff" stroke="#80c"/>
<path d="M582.5 130.3l0 0 2.6-0.8 0 0z" fill="#e500ff" stroke="#b700cc"/>
<path d="M469.1 109.5l3.6 0.9 3.1-0.9-3.6-0.9z" fill="#00abff" stroke="#08c"/>
<path d="M571.9 126.8l1 0.5 2.6-0.6-1-0.6z" fill="#ae00ff" stroke="#8b00cc"/>
<path d="M499.5 110.9l3.7 1.1 3-0.9-3.7-1.1z" fill="#0087ff" stroke="#006ccc"/>
<path d="M550.8 119.7l3.9 1.9 2.7-0.4-3.9-2z" fill="#4000ff" stroke="#30c"/>
<path d="M462.4 109.4l3.6 1 3.1-0.9-3.5-1z" fill="#00b1ff" stroke="#008dcc"/>
<path d="M561.3 123.2l4 2.1 2.6-0.6-3.9-2z" fill="#7c00ff" stroke="#6300cc"/>
<path d="M572.9 127.3l1 0.5 2.6-0.6-1-0.5z" fill="#b500ff" stroke="#9000cc"/>
<path d="M516.6 112.5l3.8 1.3 2.9-0.8-3.8-1.2z" fill="#0064ff" stroke="#0050cc"/>
<path d="M492.8 110.8l3.7 1 3-0.9-3.7-1z" fill="#0090ff" stroke="#0073cc"/>
<path d="M533.7 115.3l3.8 1.6 2.8-0.5-3.8-1.7z" fill="#001cff" stroke="#0016cc"/>
<path d="M455.7 109.3l3.6 1 3.1-0.9-3.5-1z" fill="#00b8ff" stroke="#0093cc"/>
<path d="M573.9 127.8l1 0.6 2.6-0.7-1-0.5z" fill="#b0f" stroke="#9500cc"/>
<path d="M449 109.2l3.5 1 3.2-0.9-3.5-1z" fill="#00beff" stroke="#0098cc"/>
<path d="M360.2 106.2l3.3 1.3 3.6-0.9-3.2-1.4z" fill="#3cffc3" stroke="#30cc9c"/>
<path d="M574.9 128.4l1 0.5 2.6-0.7-1-0.5z" fill="#c200ff" stroke="#9b00cc"/>
<path d="M565.3 125.3l0 0 2.6-0.6 0 0z" fill="#8900ff" stroke="#6d00cc"/>
<path d="M486.1 110.6l3.7 1.1 3-0.9-3.6-1z" fill="#0097ff" stroke="#0078cc"/>
<path d="M442.2 109.1l3.5 1 3.3-0.9-3.5-1.1z" fill="#00c5ff" stroke="#009dcc"/>
<path d="M367.1 106.6l3.3 1.2 3.6-0.9-3.2-1.3z" fill="#2fffd0" stroke="#25cca6"/>
<path d="M544.2 118.2l3.9 1.9 2.7-0.4-3.9-1.9z" fill="#1e00ff" stroke="#1800cc"/>
<path d="M575.9 128.9l0 0 2.6-0.7 0 0z" fill="#c500ff" stroke="#9d00cc"/>
<path d="M565.3 125.3l1 0.5 2.6-0.6-1-0.5z" fill="#8c00ff" stroke="#7000cc"/>
<path d="M509.9 112.2l3.8 1.1 2.9-0.8-3.8-1.1z" fill="#0073ff" stroke="#005ccc"/>
<path d="M435.5 108.9l3.4 1.1 3.3-0.9-3.5-1.1z" fill="#0cf" stroke="#00a3cc"/>
<path d="M374 106.9l3.3 1.3 3.6-1-3.3-1.2z" fill="#23ffdc" stroke="#1cccb0"/>
<path d="M575.9 128.9l1 0.5 2.6-0.7-1-0.5z" fill="#c800ff" stroke="#a000cc"/>
<path d="M428.7 108.8l3.5 1.1 3.3-1-3.5-1z" fill="#00d4ff" stroke="#00a9cc"/>
<path d="M380.9 107.2l3.3 1.3 3.6-1-3.3-1.2z" fill="#17ffe8" stroke="#12ccb9"/>
<path d="M527.1 114.4l3.8 1.5 2.8-0.6-3.8-1.6z" fill="#003dff" stroke="#0030cc"/>
<path d="M479.4 110.5l3.7 1 3-0.9-3.6-1z" fill="#009eff" stroke="#007ecc"/>
<path d="M554.7 121.6l3.9 2.1 2.7-0.5-3.9-2z" fill="#5900ff" stroke="#4700cc"/>
<path d="M421.9 108.6l3.4 1.1 3.4-0.9-3.5-1.1z" fill="#00dcff" stroke="#00b0cc"/>
<path d="M387.8 107.5l3.3 1.2 3.5-0.9-3.3-1.2z" fill="#0cfff3" stroke="#09ccc2"/>
<path d="M566.3 125.8l0.9 0.5 2.7-0.6-1-0.5z" fill="#9300ff" stroke="#7500cc"/>
<path d="M415.1 108.5l3.4 1.1 3.4-1-3.4-1.1z" fill="#00e4ff" stroke="#00b6cc"/>
<path d="M394.6 107.8l3.4 1.2 3.5-0.9-3.4-1.2z" fill="#02fffd" stroke="#01ccca"/>
<path d="M408.3 108.3l3.4 1.1 3.4-0.9-3.4-1.1z" fill="#00edff" stroke="#00bdcc"/>
<path d="M401.5 108.1l3.3 1.1 3.5-0.9-3.4-1.2z" fill="#00f7ff" stroke="#00c5cc"/>
<path d="M576.9 129.4l1 0.6 2.6-0.8-1-0.5z" fill="#cf00ff" stroke="#a500cc"/>
<path d="M503.2 112l3.8 1 2.9-0.8-3.7-1.1z" fill="#007fff" stroke="#0065cc"/>
<path d="M472.7 110.4l3.6 1 3.1-0.9-3.6-1z" fill="#00a5ff" stroke="#0084cc"/>
<path d="M567.2 126.3l1 0.6 2.7-0.6-1-0.6z" fill="#90f" stroke="#7a00cc"/>
<path d="M577.9 130l1 0.5 2.6-0.7-1-0.6z" fill="#d500ff" stroke="#a0c"/>
<path d="M537.5 116.9l3.9 1.8 2.8-0.5-3.9-1.8z" fill="#0002ff" stroke="#0001cc"/>
<path d="M466 110.4l3.6 1 3.1-1-3.6-0.9z" fill="#00abff" stroke="#08c"/>
<path d="M568.2 126.9l1 0.5 2.7-0.6-1-0.5z" fill="#a000ff" stroke="#8000cc"/>
<path d="M520.4 113.8l3.8 1.3 2.9-0.7-3.8-1.4z" fill="#0056ff" stroke="#04c"/>
<path d="M578.9 130.5l1 0.5 2.6-0.7-1-0.5z" fill="#dc00ff" stroke="#b000cc"/>
<path d="M496.5 111.8l3.8 1 2.9-0.8-3.7-1.1z" fill="#0089ff" stroke="#006dcc"/>
<path d="M569.2 127.4l0 0 2.7-0.6 0 0z" fill="#a300ff" stroke="#8200cc"/>
<path d="M579.9 131l0 0 2.6-0.7 0 0z" fill="#df00ff" stroke="#b200cc"/>
<path d="M459.3 110.3l3.5 1 3.2-0.9-3.6-1z" fill="#00b2ff" stroke="#008ecc"/>
<path d="M569.2 127.4l1 0.5 2.7-0.6-1-0.5z" fill="#a600ff" stroke="#8400cc"/>
<path d="M548.1 120.1l3.9 2 2.7-0.5-3.9-1.9z" fill="#3500ff" stroke="#2a00cc"/>
<path d="M452.5 110.2l3.6 1 3.2-0.9-3.6-1z" fill="#00b8ff" stroke="#0093cc"/>
<path d="M489.8 111.7l3.7 1 3-0.9-3.7-1z" fill="#0091ff" stroke="#0074cc"/>
<path d="M558.6 123.7l4 2.1 2.7-0.5-4-2.1z" fill="#7200ff" stroke="#5b00cc"/>
<path d="M570.2 127.9l1 0.6 2.7-0.7-1-0.5z" fill="#ad00ff" stroke="#8a00cc"/>
<path d="M513.7 113.3l3.8 1.2 2.9-0.7-3.8-1.3z" fill="#0069ff" stroke="#0054cc"/>
<path d="M445.7 110.1l3.6 1 3.2-0.9-3.5-1z" fill="#00beff" stroke="#0098cc"/>
<path d="M363.5 107.5l3.2 1.3 3.7-1-3.3-1.2z" fill="#2fffd0" stroke="#25cca6"/>
<path d="M530.9 115.9l3.8 1.6 2.8-0.6-3.8-1.6z" fill="#0028ff" stroke="#0020cc"/>
<path d="M438.9 110l3.6 1 3.2-0.9-3.5-1z" fill="#00c5ff" stroke="#009dcc"/>
<path d="M370.4 107.8l3.3 1.3 3.6-0.9-3.3-1.3z" fill="#23ffdc" stroke="#1cccb0"/>
<path d="M571.2 128.5l1 0.5 2.7-0.6-1-0.6z" fill="#b300ff" stroke="#8f00cc"/>
<path d="M483.1 111.5l3.7 1 3-0.8-3.7-1.1z" fill="#09f" stroke="#007acc"/>
<path d="M432.2 109.9l3.4 1 3.3-0.9-3.4-1.1z" fill="#0cf" stroke="#00a3cc"/>
<path d="M377.3 108.2l3.3 1.2 3.6-0.9-3.3-1.3z" fill="#17ffe8" stroke="#12ccb9"/>
<path d="M425.3 109.7l3.5 1.1 3.4-0.9-3.5-1.1z" fill="#00d4ff" stroke="#00a9cc"/>
<path d="M384.2 108.5l3.4 1.2 3.5-1-3.3-1.2z" fill="#0cfff3" stroke="#09ccc2"/>
<path d="M572.2 129l1 0.5 2.7-0.6-1-0.5z" fill="#ba00ff" stroke="#9400cc"/>
<path d="M562.6 125.8l0 0 2.7-0.5 0 0z" fill="#7f00ff" stroke="#6500cc"/>
<path d="M507 113l3.7 1.1 3-0.8-3.8-1.1z" fill="#07f" stroke="#005fcc"/>
<path d="M418.5 109.6l3.5 1.1 3.3-1-3.4-1.1z" fill="#00dcff" stroke="#00b0cc"/>
<path d="M391.1 108.7l3.4 1.2 3.5-0.9-3.4-1.2z" fill="#02fffd" stroke="#01ccca"/>
<path d="M541.4 118.7l3.9 1.9 2.8-0.5-3.9-1.9z" fill="#1300ff" stroke="#0f00cc"/>
<path d="M398 109l3.4 1.1 3.4-0.9-3.3-1.1z" fill="#00f7ff" stroke="#00c5cc"/>
<path d="M411.7 109.4l3.4 1.1 3.4-0.9-3.4-1.1z" fill="#00e4ff" stroke="#00b6cc"/>
<path d="M404.8 109.2l3.5 1.1 3.4-0.9-3.4-1.1z" fill="#00edff" stroke="#00bdcc"/>
<path d="M573.2 129.5l0 0 2.7-0.6 0 0z" fill="#bd00ff" stroke="#9700cc"/>
<path d="M476.3 111.4l3.7 1 3.1-0.9-3.7-1z" fill="#009fff" stroke="#007fcc"/>
<path d="M562.6 125.8l1 0.5 2.7-0.5-1-0.5z" fill="#8300ff" stroke="#6800cc"/>
<path d="M524.2 115.1l3.8 1.4 2.9-0.6-3.8-1.5z" fill="#0046ff" stroke="#0038cc"/>
<path d="M573.2 129.5l1 0.6 2.7-0.7-1-0.5z" fill="#c100ff" stroke="#9a00cc"/>
<path d="M552 122.1l3.9 2 2.7-0.4-3.9-2.1z" fill="#4e00ff" stroke="#3e00cc"/>
<path d="M563.6 126.3l1 0.6 2.6-0.6-0.9-0.5z" fill="#8900ff" stroke="#6d00cc"/>
<path d="M469.6 111.4l3.6 1 3.1-1-3.6-1z" fill="#00a6ff" stroke="#0084cc"/>
<path d="M500.3 112.8l3.7 1.1 3-0.9-3.8-1z" fill="#0082ff" stroke="#0068cc"/>
<path d="M574.2 130.1l1 0.5 2.7-0.6-1-0.6z" fill="#c800ff" stroke="#a000cc"/>
<path d="M564.6 126.9l1 0.5 2.6-0.5-1-0.6z" fill="#9000ff" stroke="#7300cc"/>
<path d="M462.8 111.3l3.6 1 3.2-0.9-3.6-1z" fill="#00acff" stroke="#0089cc"/>
<path d="M575.2 130.6l1 0.6 2.7-0.7-1-0.5z" fill="#ce00ff" stroke="#a400cc"/>
<path d="M534.7 117.5l3.9 1.7 2.8-0.5-3.9-1.8z" fill="#0010ff" stroke="#000ccc"/>
<path d="M517.5 114.5l3.8 1.3 2.9-0.7-3.8-1.3z" fill="#005dff" stroke="#004acc"/>
<path d="M493.5 112.7l3.7 1 3.1-0.9-3.8-1z" fill="#008bff" stroke="#006fcc"/>
<path d="M456.1 111.2l3.5 1 3.2-0.9-3.5-1z" fill="#00b2ff" stroke="#008ecc"/>
<path d="M565.6 127.4l0.9 0.5 2.7-0.5-1-0.5z" fill="#9600ff" stroke="#7800cc"/>
<path d="M576.2 131.2l1 0.6 2.7-0.8-1-0.5z" fill="#d500ff" stroke="#a0c"/>
<path d="M566.5 127.9l0.1 0 2.6-0.5 0 0z" fill="#9a00ff" stroke="#7b00cc"/>
<path d="M449.3 111.1l3.5 1 3.3-0.9-3.6-1z" fill="#00b8ff" stroke="#0093cc"/>
<path d="M577.2 131.8l0 0 2.7-0.8 0 0z" fill="#d900ff" stroke="#ad00cc"/>
<path d="M545.3 120.6l3.9 1.9 2.8-0.4-3.9-2z" fill="#2a00ff" stroke="#2100cc"/>
<path d="M566.6 127.9l0.9 0.6 2.7-0.6-1-0.5z" fill="#9d00ff" stroke="#7d00cc"/>
<path d="M486.8 112.5l3.7 1.1 3-0.9-3.7-1z" fill="#0093ff" stroke="#0075cc"/>
<path d="M366.7 108.8l3.3 1.3 3.7-1-3.3-1.3z" fill="#23ffdc" stroke="#1cccb0"/>
<path d="M442.5 111l3.5 1.1 3.3-1-3.6-1z" fill="#00beff" stroke="#0098cc"/>
<path d="M510.7 114.1l3.8 1.2 3-0.8-3.8-1.2z" fill="#006dff" stroke="#0057cc"/>
<path d="M373.7 109.1l3.3 1.3 3.6-1-3.3-1.2z" fill="#17ffe8" stroke="#12ccb9"/>
<path d="M435.6 110.9l3.6 1.1 3.3-1-3.6-1z" fill="#00c5ff" stroke="#009dcc"/>
<path d="M555.9 124.1l4 2.2 2.7-0.5-4-2.1z" fill="#6700ff" stroke="#5200cc"/>
<path d="M567.5 128.5l1 0.5 2.7-0.5-1-0.6z" fill="#a400ff" stroke="#8300cc"/>
<path d="M380.6 109.4l3.4 1.2 3.6-0.9-3.4-1.2z" fill="#0cfff3" stroke="#09ccc2"/>
<path d="M528 116.5l3.9 1.5 2.8-0.5-3.8-1.6z" fill="#03f" stroke="#0028cc"/>
<path d="M428.8 110.8l3.5 1.1 3.3-1-3.4-1z" fill="#0cf" stroke="#00a3cc"/>
<path d="M480 112.4l3.7 1 3.1-0.9-3.7-1z" fill="#009aff" stroke="#007bcc"/>
<path d="M387.6 109.7l3.3 1.2 3.6-1-3.4-1.2z" fill="#02fffd" stroke="#01ccca"/>
<path d="M422 110.7l3.4 1.1 3.4-1-3.5-1.1z" fill="#00d4ff" stroke="#00a9cc"/>
<path d="M394.5 109.9l3.4 1.2 3.5-1-3.4-1.1z" fill="#00f7ff" stroke="#00c5cc"/>
<path d="M415.1 110.5l3.5 1.1 3.4-0.9-3.5-1.1z" fill="#00dcff" stroke="#00b0cc"/>
<path d="M401.4 110.1l3.4 1.2 3.5-1-3.5-1.1z" fill="#00edff" stroke="#00bdcc"/>
<path d="M408.3 110.3l3.4 1.2 3.4-1-3.4-1.1z" fill="#00e4ff" stroke="#00b6cc"/>
<path d="M568.5 129l1 0.6 2.7-0.6-1-0.5z" fill="#ab00ff" stroke="#80c"/>
<path d="M504 113.9l3.8 1.1 2.9-0.9-3.7-1.1z" fill="#007aff" stroke="#0061cc"/>
<path d="M473.2 112.4l3.7 1 3.1-1-3.7-1z" fill="#00a0ff" stroke="#0080cc"/>
<path d="M569.5 129.6l1 0.5 2.7-0.6-1-0.5z" fill="#b200ff" stroke="#8e00cc"/>
<path d="M559.9 126.3l0 0 2.7-0.5 0 0z" fill="#7500ff" stroke="#5d00cc"/>
<path d="M538.6 119.2l3.9 1.8 2.8-0.4-3.9-1.9z" fill="#0800ff" stroke="#0600cc"/>
<path d="M570.5 130.1l0 0.1 2.7-0.7 0 0z" fill="#b500ff" stroke="#9000cc"/>
<path d="M559.9 126.3l1 0.5 2.7-0.5-1-0.5z" fill="#7800ff" stroke="#6000cc"/>
<path d="M521.3 115.8l3.8 1.3 2.9-0.6-3.8-1.4z" fill="#004eff" stroke="#003ecc"/>
<path d="M466.4 112.3l3.7 1 3.1-0.9-3.6-1z" fill="#00a7ff" stroke="#0085cc"/>
<path d="M570.5 130.2l1 0.5 2.7-0.6-1-0.6z" fill="#b800ff" stroke="#9300cc"/>
<path d="M497.2 113.7l3.8 1 3-0.8-3.7-1.1z" fill="#0085ff" stroke="#006acc"/>
<path d="M549.2 122.5l4 2.1 2.7-0.5-3.9-2z" fill="#4200ff" stroke="#3400cc"/>
<path d="M560.9 126.8l1 0.6 2.7-0.5-1-0.6z" fill="#7f00ff" stroke="#6500cc"/>
<path d="M459.6 112.2l3.7 1 3.1-0.9-3.6-1z" fill="#00acff" stroke="#0089cc"/>
<path d="M571.5 130.7l1.1 0.6 2.6-0.7-1-0.5z" fill="#bf00ff" stroke="#9800cc"/>
<path d="M452.8 112.1l3.6 1.1 3.2-1-3.5-1z" fill="#00b2ff" stroke="#008ecc"/>
<path d="M561.9 127.4l1 0.5 2.7-0.5-1-0.5z" fill="#8500ff" stroke="#6a00cc"/>
<path d="M490.5 113.6l3.7 1 3-0.9-3.7-1z" fill="#008dff" stroke="#0070cc"/>
<path d="M514.5 115.3l3.9 1.2 2.9-0.7-3.8-1.3z" fill="#0063ff" stroke="#004fcc"/>
<path d="M531.9 118l3.9 1.6 2.8-0.4-3.9-1.7z" fill="#001dff" stroke="#0017cc"/>
<path d="M572.6 131.3l1 0.5 2.6-0.6-1-0.6z" fill="#c600ff" stroke="#9e00cc"/>
<path d="M446 112.1l3.6 1 3.2-1-3.5-1z" fill="#00b8ff" stroke="#0093cc"/>
<path d="M562.9 127.9l0.9 0.5 2.7-0.5-0.9-0.5z" fill="#8c00ff" stroke="#7000cc"/>
<path d="M370 110.1l3.3 1.2 3.7-0.9-3.3-1.3z" fill="#17ffe8" stroke="#12ccb9"/>
<path d="M439.2 112l3.5 1 3.3-0.9-3.5-1.1z" fill="#00bfff" stroke="#0098cc"/>
<path d="M573.6 131.8l1 0.6 2.6-0.6-1-0.6z" fill="#cd00ff" stroke="#a400cc"/>
<path d="M483.7 113.4l3.7 1 3.1-0.8-3.7-1.1z" fill="#0095ff" stroke="#07c"/>
<path d="M377 110.4l3.3 1.2 3.7-1-3.4-1.2z" fill="#0cfff3" stroke="#09ccc2"/>
<path d="M563.8 128.4l0 0 2.8-0.5-0.1 0z" fill="#8f00ff" stroke="#7200cc"/>
<path d="M432.3 111.9l3.5 1 3.4-0.9-3.6-1.1z" fill="#00c5ff" stroke="#009dcc"/>
<path d="M574.6 132.4l0 0 2.6-0.6 0 0z" fill="#d100ff" stroke="#a700cc"/>
<path d="M384 110.6l3.3 1.2 3.6-0.9-3.3-1.2z" fill="#02fffd" stroke="#01ccca"/>
<path d="M542.5 121l3.9 1.9 2.8-0.4-3.9-1.9z" fill="#1e00ff" stroke="#1800cc"/>
<path d="M425.4 111.8l3.5 1 3.4-0.9-3.5-1.1z" fill="#0cf" stroke="#00a3cc"/>
<path d="M563.8 128.4l1 0.6 2.7-0.5-0.9-0.6z" fill="#9300ff" stroke="#7500cc"/>
<path d="M507.8 115l3.8 1.1 2.9-0.8-3.8-1.2z" fill="#0072ff" stroke="#005bcc"/>
<path d="M390.9 110.9l3.4 1.2 3.6-1-3.4-1.2z" fill="#00f7ff" stroke="#00c5cc"/>
<path d="M418.6 111.6l3.4 1.1 3.4-0.9-3.4-1.1z" fill="#00d4ff" stroke="#00a9cc"/>
<path d="M397.9 111.1l3.4 1.2 3.5-1-3.4-1.2z" fill="#00edff" stroke="#00bdcc"/>
<path d="M411.7 111.5l3.4 1.1 3.5-1-3.5-1.1z" fill="#00dcff" stroke="#00b0cc"/>
<path d="M404.8 111.3l3.4 1.1 3.5-0.9-3.4-1.2z" fill="#00e4ff" stroke="#00b6cc"/>
<path d="M476.9 113.4l3.7 1 3.1-1-3.7-1z" fill="#009bff" stroke="#007ccc"/>
<path d="M525.1 117.1l3.9 1.5 2.9-0.6-3.9-1.5z" fill="#003dff" stroke="#0030cc"/>
<path d="M553.2 124.6l3.9 2.1 2.8-0.4-4-2.2z" fill="#5c00ff" stroke="#4900cc"/>
<path d="M564.8 129l1 0.6 2.7-0.6-1-0.5z" fill="#9a00ff" stroke="#7b00cc"/>
<path d="M470.1 113.3l3.6 1 3.2-0.9-3.7-1z" fill="#00a1ff" stroke="#0080cc"/>
<path d="M501 114.7l3.8 1.1 3-0.8-3.8-1.1z" fill="#007eff" stroke="#0064cc"/>
<path d="M565.8 129.6l1 0.5 2.7-0.5-1-0.6z" fill="#a100ff" stroke="#8000cc"/>
<path d="M463.3 113.2l3.6 1 3.2-0.9-3.7-1z" fill="#00a7ff" stroke="#0085cc"/>
<path d="M535.8 119.6l3.9 1.8 2.8-0.4-3.9-1.8z" fill="#0004ff" stroke="#0003cc"/>
<path d="M566.8 130.1l1 0.6 2.7-0.6-1-0.5z" fill="#a800ff" stroke="#8600cc"/>
<path d="M557.1 126.7l0 0 2.8-0.4 0 0z" fill="#6900ff" stroke="#5400cc"/>
<path d="M518.4 116.5l3.8 1.3 2.9-0.7-3.8-1.3z" fill="#0056ff" stroke="#04c"/>
<path d="M494.2 114.6l3.8 1 3-0.9-3.8-1z" fill="#0087ff" stroke="#006ccc"/>
<path d="M567.8 130.7l0.1 0 2.6-0.5 0-0.1z" fill="#ab00ff" stroke="#80c"/>
<path d="M557.1 126.7l1 0.5 2.8-0.4-1-0.5z" fill="#6c00ff" stroke="#5600cc"/>
<path d="M456.4 113.2l3.6 1 3.3-1-3.7-1z" fill="#00adff" stroke="#008acc"/>
<path d="M567.9 130.7l1 0.6 2.6-0.6-1-0.5z" fill="#af00ff" stroke="#8c00cc"/>
<path d="M546.4 122.9l4 2 2.8-0.3-4-2.1z" fill="#3500ff" stroke="#2a00cc"/>
<path d="M449.6 113.1l3.6 1 3.2-0.9-3.6-1.1z" fill="#00b3ff" stroke="#008fcc"/>
<path d="M558.1 127.2l1 0.6 2.8-0.4-1-0.6z" fill="#7300ff" stroke="#5c00cc"/>
<path d="M487.4 114.4l3.7 1.1 3.1-0.9-3.7-1z" fill="#008fff" stroke="#0072cc"/>
<path d="M442.7 113l3.6 1.1 3.3-1-3.6-1z" fill="#00b8ff" stroke="#0093cc"/>
<path d="M568.9 131.3l1 0.5 2.7-0.5-1.1-0.6z" fill="#b600ff" stroke="#9100cc"/>
<path d="M511.6 116.1l3.8 1.2 3-0.8-3.9-1.2z" fill="#0068ff" stroke="#0053cc"/>
<path d="M373.3 111.3l3.4 1.3 3.6-1-3.3-1.2z" fill="#0cfff3" stroke="#09ccc2"/>
<path d="M435.8 112.9l3.6 1.1 3.3-1-3.5-1z" fill="#00bfff" stroke="#0098cc"/>
<path d="M559.1 127.8l1 0.5 2.8-0.4-1-0.5z" fill="#7900ff" stroke="#6000cc"/>
<path d="M529 118.6l3.9 1.5 2.9-0.5-3.9-1.6z" fill="#002aff" stroke="#0021cc"/>
<path d="M380.3 111.6l3.4 1.2 3.6-1-3.3-1.2z" fill="#02fffd" stroke="#01ccca"/>
<path d="M428.9 112.8l3.6 1.1 3.3-1-3.5-1z" fill="#00c5ff" stroke="#009dcc"/>
<path d="M569.9 131.8l1 0.6 2.7-0.6-1-0.5z" fill="#bd00ff" stroke="#9700cc"/>
<path d="M387.3 111.8l3.4 1.2 3.6-0.9-3.4-1.2z" fill="#00f7ff" stroke="#00c5cc"/>
<path d="M480.6 114.4l3.7 1 3.1-1-3.7-1z" fill="#0096ff" stroke="#0078cc"/>
<path d="M422 112.7l3.5 1.1 3.4-1-3.5-1z" fill="#0cf" stroke="#00a3cc"/>
<path d="M394.3 112.1l3.4 1.1 3.6-0.9-3.4-1.2z" fill="#00edff" stroke="#00bdcc"/>
<path d="M415.1 112.6l3.5 1.1 3.4-1-3.4-1.1z" fill="#00d4ff" stroke="#00a9cc"/>
<path d="M401.3 112.3l3.4 1.1 3.5-1-3.4-1.1z" fill="#00e4ff" stroke="#00b6cc"/>
<path d="M408.2 112.4l3.5 1.1 3.4-0.9-3.4-1.1z" fill="#00dcff" stroke="#00b0cc"/>
<path d="M560.1 128.3l1 0.6 2.7-0.5-0.9-0.5z" fill="#8000ff" stroke="#60c"/>
<path d="M570.9 132.4l1 0.6 2.7-0.6-1-0.6z" fill="#c400ff" stroke="#9c00cc"/>
<path d="M504.8 115.8l3.8 1.1 3-0.8-3.8-1.1z" fill="#0076ff" stroke="#005ecc"/>
<path d="M561.1 128.9l0 0 2.7-0.5 0 0z" fill="#8400ff" stroke="#6900cc"/>
<path d="M473.7 114.3l3.7 1 3.2-0.9-3.7-1z" fill="#009cff" stroke="#007ccc"/>
<path d="M539.7 121.4l3.9 1.9 2.8-0.4-3.9-1.9z" fill="#1200ff" stroke="#0e00cc"/>
<path d="M571.9 133l0 0 2.7-0.6 0 0z" fill="#c800ff" stroke="#a000cc"/>
<path d="M561.1 128.9l1 0.5 2.7-0.4-1-0.6z" fill="#8700ff" stroke="#6c00cc"/>
<path d="M522.2 117.8l3.9 1.4 2.9-0.6-3.9-1.5z" fill="#0047ff" stroke="#0038cc"/>
<path d="M466.9 114.2l3.7 1 3.1-0.9-3.6-1z" fill="#00a2ff" stroke="#0081cc"/>
<path d="M550.4 124.9l4 2.1 2.7-0.3-3.9-2.1z" fill="#4e00ff" stroke="#3e00cc"/>
<path d="M562.1 129.4l1 0.6 2.7-0.4-1-0.6z" fill="#8e00ff" stroke="#7100cc"/>
<path d="M498 115.6l3.8 1.1 3-0.9-3.8-1.1z" fill="#0081ff" stroke="#0067cc"/>
<path d="M460 114.2l3.7 1 3.2-1-3.6-1z" fill="#00a8ff" stroke="#0086cc"/>
<path d="M563.1 130l1 0.6 2.7-0.5-1-0.5z" fill="#9500ff" stroke="#70c"/>
<path d="M453.2 114.1l3.6 1 3.2-0.9-3.6-1z" fill="#00adff" stroke="#008acc"/>
<path d="M491.1 115.5l3.8 1 3.1-0.9-3.8-1z" fill="#008aff" stroke="#006ecc"/>
<path d="M515.4 117.3l3.9 1.2 2.9-0.7-3.8-1.3z" fill="#005eff" stroke="#004bcc"/>
<path d="M532.9 120.1l3.9 1.7 2.9-0.4-3.9-1.8z" fill="#0013ff" stroke="#000fcc"/>
<path d="M554.4 127l0 0 2.7-0.3 0 0z" fill="#5b00ff" stroke="#4800cc"/>
<path d="M564.1 130.6l1 0.5 2.7-0.4-1-0.6z" fill="#9c00ff" stroke="#7c00cc"/>
<path d="M446.3 114.1l3.6 1 3.3-1-3.6-1z" fill="#00b3ff" stroke="#008fcc"/>
<path d="M565.1 131.1l0 0 2.8-0.4-0.1 0z" fill="#9f00ff" stroke="#7f00cc"/>
<path d="M554.4 127l1 0.6 2.7-0.4-1-0.5z" fill="#5f00ff" stroke="#4c00cc"/>
<path d="M439.4 114l3.6 1 3.3-0.9-3.6-1.1z" fill="#00b8ff" stroke="#0093cc"/>
<path d="M565.1 131.1l1 0.6 2.8-0.4-1-0.6z" fill="#a300ff" stroke="#8200cc"/>
<path d="M484.3 115.4l3.7 1 3.1-0.9-3.7-1.1z" fill="#0091ff" stroke="#0074cc"/>
<path d="M376.7 112.6l3.4 1.2 3.6-1-3.4-1.2z" fill="#02fffd" stroke="#01ccca"/>
<path d="M543.6 123.3l4 2 2.8-0.4-4-2z" fill="#2800ff" stroke="#2000cc"/>
<path d="M432.5 113.9l3.5 1.1 3.4-1-3.6-1.1z" fill="#00bfff" stroke="#0098cc"/>
<path d="M383.7 112.8l3.4 1.2 3.6-1-3.4-1.2z" fill="#00f7ff" stroke="#00c5cc"/>
<path d="M555.4 127.6l1 0.5 2.7-0.3-1-0.6z" fill="#6500ff" stroke="#5000cc"/>
<path d="M425.5 113.8l3.6 1.1 3.4-1-3.6-1.1z" fill="#00c5ff" stroke="#009dcc"/>
<path d="M508.6 116.9l3.8 1.1 3-0.7-3.8-1.2z" fill="#006eff" stroke="#0058cc"/>
<path d="M390.7 113l3.4 1.2 3.6-1-3.4-1.1z" fill="#00edff" stroke="#00bdcc"/>
<path d="M418.6 113.7l3.5 1.1 3.4-1-3.5-1.1z" fill="#0cf" stroke="#00a3cc"/>
<path d="M397.7 113.2l3.5 1.2 3.5-1-3.4-1.1z" fill="#00e4ff" stroke="#00b6cc"/>
<path d="M411.7 113.5l3.4 1.2 3.5-1-3.5-1.1z" fill="#00d4ff" stroke="#00a9cc"/>
<path d="M566.1 131.7l1.1 0.6 2.7-0.5-1-0.5z" fill="#a0f" stroke="#80c"/>
<path d="M404.7 113.4l3.5 1.1 3.5-1-3.5-1.1z" fill="#00dcff" stroke="#00b0cc"/>
<path d="M477.4 115.3l3.8 1 3.1-0.9-3.7-1z" fill="#0098ff" stroke="#0079cc"/>
<path d="M526.1 119.2l3.9 1.5 2.9-0.6-3.9-1.5z" fill="#0036ff" stroke="#002bcc"/>
<path d="M556.4 128.1l1 0.6 2.7-0.4-1-0.5z" fill="#6c00ff" stroke="#5600cc"/>
<path d="M567.2 132.3l1 0.6 2.7-0.5-1-0.6z" fill="#b100ff" stroke="#8d00cc"/>
<path d="M470.6 115.2l3.7 1 3.1-0.9-3.7-1z" fill="#009dff" stroke="#007dcc"/>
<path d="M501.8 116.7l3.8 1 3-0.8-3.8-1.1z" fill="#007aff" stroke="#0061cc"/>
<path d="M557.4 128.7l1 0.5 2.7-0.3-1-0.6z" fill="#7300ff" stroke="#5c00cc"/>
<path d="M568.2 132.9l1 0.5 2.7-0.4-1-0.6z" fill="#b900ff" stroke="#9400cc"/>
<path d="M558.4 129.2l0 0 2.7-0.3 0 0z" fill="#7600ff" stroke="#5e00cc"/>
<path d="M536.8 121.8l4 1.8 2.8-0.3-3.9-1.9z" fill="#0500ff" stroke="#0400cc"/>
<path d="M463.7 115.2l3.7 1 3.2-1-3.7-1z" fill="#00a3ff" stroke="#0082cc"/>
<path d="M569.2 133.4l0 0 2.7-0.4 0 0z" fill="#bc00ff" stroke="#9600cc"/>
<path d="M558.4 129.2l1 0.6 2.7-0.4-1-0.5z" fill="#7a00ff" stroke="#6100cc"/>
<path d="M519.3 118.5l3.9 1.3 2.9-0.6-3.9-1.4z" fill="#0051ff" stroke="#0040cc"/>
<path d="M494.9 116.5l3.8 1 3.1-0.8-3.8-1.1z" fill="#0084ff" stroke="#0069cc"/>
<path d="M456.8 115.1l3.6 1.1 3.3-1-3.7-1z" fill="#00a8ff" stroke="#0086cc"/>
<path d="M547.6 125.3l4 2 2.8-0.3-4-2.1z" fill="#4000ff" stroke="#30c"/>
<path d="M559.4 129.8l1 0.5 2.7-0.3-1-0.6z" fill="#8000ff" stroke="#60c"/>
<path d="M449.9 115.1l3.6 1 3.3-1-3.6-1z" fill="#00adff" stroke="#008acc"/>
<path d="M488 116.4l3.8 1 3.1-0.9-3.8-1z" fill="#008cff" stroke="#0070cc"/>
<path d="M443 115l3.6 1.1 3.3-1-3.6-1z" fill="#00b3ff" stroke="#008fcc"/>
<path d="M560.4 130.3l1 0.6 2.7-0.3-1-0.6z" fill="#8700ff" stroke="#6c00cc"/>
<path d="M512.4 118l3.9 1.2 3-0.7-3.9-1.2z" fill="#0065ff" stroke="#0050cc"/>
<path d="M530 120.7l3.9 1.6 2.9-0.5-3.9-1.7z" fill="#02f" stroke="#001bcc"/>
<path d="M436 115l3.6 1 3.4-1-3.6-1z" fill="#00b8ff" stroke="#0093cc"/>
<path d="M380.1 113.8l3.4 1.2 3.6-1-3.4-1.2z" fill="#00f7ff" stroke="#00c5cc"/>
<path d="M429.1 114.9l3.5 1 3.4-0.9-3.5-1.1z" fill="#00bfff" stroke="#0098cc"/>
<path d="M551.6 127.3l0 0 2.8-0.3 0 0z" fill="#4d00ff" stroke="#3d00cc"/>
<path d="M561.4 130.9l1 0.6 2.7-0.4-1-0.5z" fill="#8e00ff" stroke="#7100cc"/>
<path d="M387.1 114l3.4 1.2 3.6-1-3.4-1.2z" fill="#00edff" stroke="#00bdcc"/>
<path d="M481.2 116.3l3.7 1 3.1-0.9-3.7-1z" fill="#0093ff" stroke="#0075cc"/>
<path d="M422.1 114.8l3.6 1.1 3.4-1-3.6-1.1z" fill="#00c5ff" stroke="#009dcc"/>
<path d="M394.1 114.2l3.5 1.2 3.6-1-3.5-1.2z" fill="#00e4ff" stroke="#00b6cc"/>
<path d="M415.1 114.7l3.6 1.1 3.4-1-3.5-1.1z" fill="#0cf" stroke="#00a3cc"/>
<path d="M401.2 114.4l3.4 1.1 3.6-1-3.5-1.1z" fill="#00dcff" stroke="#00b0cc"/>
<path d="M408.2 114.5l3.4 1.1 3.5-0.9-3.4-1.2z" fill="#00d4ff" stroke="#00a9cc"/>
<path d="M551.6 127.3l1 0.6 2.8-0.3-1-0.6z" fill="#5000ff" stroke="#4000cc"/>
<path d="M562.4 131.5l0 0 2.7-0.4 0 0z" fill="#9200ff" stroke="#7400cc"/>
<path d="M562.4 131.5l1 0.6 2.7-0.4-1-0.6z" fill="#9600ff" stroke="#7800cc"/>
<path d="M505.6 117.7l3.8 1.1 3-0.8-3.8-1.1z" fill="#0073ff" stroke="#005ccc"/>
<path d="M540.8 123.6l4 2 2.8-0.3-4-2z" fill="#1a00ff" stroke="#1400cc"/>
<path d="M474.3 116.2l3.7 1 3.2-0.9-3.8-1z" fill="#09f" stroke="#007acc"/>
<path d="M552.6 127.9l1 0.5 2.8-0.3-1-0.5z" fill="#5600ff" stroke="#40c"/>
<path d="M523.2 119.8l3.9 1.4 2.9-0.5-3.9-1.5z" fill="#0042ff" stroke="#0034cc"/>
<path d="M563.4 132.1l1 0.5 2.8-0.3-1.1-0.6z" fill="#9d00ff" stroke="#7d00cc"/>
<path d="M467.4 116.2l3.7 1 3.2-1-3.7-1z" fill="#009eff" stroke="#007ecc"/>
<path d="M553.6 128.4l1 0.6 2.8-0.3-1-0.6z" fill="#5d00ff" stroke="#4a00cc"/>
<path d="M498.7 117.5l3.8 1.1 3.1-0.9-3.8-1z" fill="#007eff" stroke="#0064cc"/>
<path d="M564.4 132.6l1 0.6 2.8-0.3-1-0.6z" fill="#a400ff" stroke="#8300cc"/>
<path d="M460.4 116.2l3.7 1 3.3-1-3.7-1z" fill="#00a3ff" stroke="#0082cc"/>
<path d="M554.6 129l1 0.5 2.8-0.3-1-0.5z" fill="#6400ff" stroke="#5000cc"/>
<path d="M565.4 133.2l1 0.6 2.8-0.4-1-0.5z" fill="#ab00ff" stroke="#80c"/>
<path d="M533.9 122.3l4 1.7 2.9-0.4-4-1.8z" fill="#000bff" stroke="#0008cc"/>
<path d="M453.5 116.1l3.7 1 3.2-0.9-3.6-1.1z" fill="#00a8ff" stroke="#0086cc"/>
<path d="M555.6 129.5l0 0 2.8-0.3 0 0z" fill="#6700ff" stroke="#5200cc"/>
<path d="M516.3 119.2l3.9 1.3 3-0.7-3.9-1.3z" fill="#005aff" stroke="#0048cc"/>
<path d="M491.8 117.4l3.8 1 3.1-0.9-3.8-1z" fill="#0087ff" stroke="#006ccc"/>
<path d="M566.4 133.8l0.1 0 2.7-0.4 0 0z" fill="#af00ff" stroke="#8c00cc"/>
<path d="M555.6 129.5l1 0.6 2.8-0.3-1-0.6z" fill="#6a00ff" stroke="#5400cc"/>
<path d="M446.6 116.1l3.6 1 3.3-1-3.6-1z" fill="#00adff" stroke="#008acc"/>
<path d="M439.6 116l3.6 1.1 3.4-1-3.6-1.1z" fill="#00b3ff" stroke="#008fcc"/>
<path d="M544.8 125.6l4 2 2.8-0.3-4-2z" fill="#3100ff" stroke="#2700cc"/>
<path d="M556.6 130.1l1 0.5 2.8-0.3-1-0.5z" fill="#7100ff" stroke="#5a00cc"/>
<path d="M484.9 117.3l3.8 1 3.1-0.9-3.8-1z" fill="#008eff" stroke="#0071cc"/>
<path d="M432.6 115.9l3.6 1.1 3.4-1-3.6-1z" fill="#00b8ff" stroke="#0093cc"/>
<path d="M383.5 115l3.4 1.2 3.6-1-3.4-1.2z" fill="#00edff" stroke="#00bdcc"/>
<path d="M425.7 115.9l3.5 1 3.4-1-3.5-1z" fill="#00bfff" stroke="#0098cc"/>
<path d="M509.4 118.8l3.9 1.2 3-0.8-3.9-1.2z" fill="#006bff" stroke="#05c"/>
<path d="M390.5 115.2l3.5 1.2 3.6-1-3.5-1.2z" fill="#00e4ff" stroke="#00b6cc"/>
<path d="M418.7 115.8l3.5 1.1 3.5-1-3.6-1.1z" fill="#00c5ff" stroke="#009dcc"/>
<path d="M397.6 115.4l3.4 1.1 3.6-1-3.4-1.1z" fill="#00dcff" stroke="#00b0cc"/>
<path d="M411.6 115.6l3.6 1.2 3.5-1-3.6-1.1z" fill="#0cf" stroke="#00a3cc"/>
<path d="M404.6 115.5l3.5 1.1 3.5-1-3.4-1.1z" fill="#00d4ff" stroke="#00a9cc"/>
<path d="M557.6 130.6l1 0.6 2.8-0.3-1-0.6z" fill="#7800ff" stroke="#6000cc"/>
<path d="M527.1 121.2l3.9 1.5 2.9-0.4-3.9-1.6z" fill="#0030ff" stroke="#0026cc"/>
<path d="M478 117.2l3.7 1 3.2-0.9-3.7-1z" fill="#0094ff" stroke="#0076cc"/>
<path d="M548.8 127.6l0 0 2.8-0.3 0 0z" fill="#3d00ff" stroke="#3000cc"/>
<path d="M558.6 131.2l1 0.5 2.8-0.2-1-0.6z" fill="#7f00ff" stroke="#6500cc"/>
<path d="M471.1 117.2l3.7 1 3.2-1-3.7-1z" fill="#009aff" stroke="#007bcc"/>
<path d="M502.5 118.6l3.9 1.1 3-0.9-3.8-1.1z" fill="#0078ff" stroke="#0060cc"/>
<path d="M548.8 127.6l1 0.5 2.8-0.2-1-0.6z" fill="#4000ff" stroke="#30c"/>
<path d="M559.6 131.7l0 0 2.8-0.2 0 0z" fill="#8200ff" stroke="#6800cc"/>
<path d="M537.9 124l4 1.8 2.9-0.2-4-2z" fill="#0b00ff" stroke="#0800cc"/>
<path d="M559.6 131.7l1 0.6 2.8-0.2-1-0.6z" fill="#8600ff" stroke="#6b00cc"/>
<path d="M464.1 117.2l3.7 1 3.3-1-3.7-1z" fill="#009fff" stroke="#007fcc"/>
<path d="M549.8 128.1l1 0.5 2.8-0.2-1-0.5z" fill="#4600ff" stroke="#3800cc"/>
<path d="M520.2 120.5l3.9 1.3 3-0.6-3.9-1.4z" fill="#004dff" stroke="#003dcc"/>
<path d="M495.6 118.4l3.8 1 3.1-0.8-3.8-1.1z" fill="#0082ff" stroke="#0068cc"/>
<path d="M560.6 132.3l1.1 0.6 2.7-0.3-1-0.5z" fill="#8d00ff" stroke="#7000cc"/>
<path d="M457.2 117.1l3.6 1.1 3.3-1-3.7-1z" fill="#00a3ff" stroke="#0082cc"/>
<path d="M550.8 128.6l1 0.6 2.8-0.2-1-0.6z" fill="#4d00ff" stroke="#3d00cc"/>
<path d="M450.2 117.1l3.7 1 3.3-1-3.7-1z" fill="#00a8ff" stroke="#0086cc"/>
<path d="M561.7 132.9l1 0.6 2.7-0.3-1-0.6z" fill="#9400ff" stroke="#7600cc"/>
<path d="M488.7 118.3l3.8 1 3.1-0.9-3.8-1z" fill="#008aff" stroke="#006ecc"/>
<path d="M443.2 117.1l3.7 1 3.3-1-3.6-1z" fill="#00adff" stroke="#008acc"/>
<path d="M551.8 129.2l1 0.5 2.8-0.2-1-0.5z" fill="#5300ff" stroke="#4200cc"/>
<path d="M513.3 120l3.9 1.2 3-0.7-3.9-1.3z" fill="#0062ff" stroke="#004ecc"/>
<path d="M531 122.7l4 1.7 2.9-0.4-4-1.7z" fill="#001cff" stroke="#0016cc"/>
<path d="M562.7 133.5l1 0.6 2.7-0.3-1-0.6z" fill="#9b00ff" stroke="#7c00cc"/>
<path d="M436.2 117l3.6 1.1 3.4-1-3.6-1.1z" fill="#00b3ff" stroke="#008fcc"/>
<path d="M552.8 129.7l0 0 2.8-0.2 0 0z" fill="#5600ff" stroke="#40c"/>
<path d="M429.2 116.9l3.6 1.1 3.4-1-3.6-1.1z" fill="#00b8ff" stroke="#0093cc"/>
<path d="M563.7 134.1l0 0 2.8-0.3-0.1 0z" fill="#9f00ff" stroke="#7f00cc"/>
<path d="M386.9 116.2l3.4 1.2 3.7-1-3.5-1.2z" fill="#00e4ff" stroke="#00b6cc"/>
<path d="M552.8 129.7l1 0.6 2.8-0.2-1-0.6z" fill="#5a00ff" stroke="#4800cc"/>
<path d="M481.7 118.2l3.8 1 3.2-0.9-3.8-1z" fill="#0090ff" stroke="#0073cc"/>
<path d="M422.2 116.9l3.6 1 3.4-1-3.5-1z" fill="#00bfff" stroke="#0098cc"/>
<path d="M394 116.4l3.4 1.1 3.6-1-3.4-1.1z" fill="#00dcff" stroke="#00b0cc"/>
<path d="M415.2 116.8l3.5 1.1 3.5-1-3.5-1.1z" fill="#00c5ff" stroke="#009dcc"/>
<path d="M401 116.5l3.5 1.1 3.6-1-3.5-1.1z" fill="#00d4ff" stroke="#00a9cc"/>
<path d="M408.1 116.6l3.5 1.2 3.6-1-3.6-1.2z" fill="#0cf" stroke="#00a3cc"/>
<path d="M541.9 125.8l4 2 2.9-0.2-4-2z" fill="#2100ff" stroke="#1a00cc"/>
<path d="M506.4 119.7l3.9 1.1 3-0.8-3.9-1.2z" fill="#0071ff" stroke="#005acc"/>
<path d="M553.8 130.3l1 0.5 2.8-0.2-1-0.5z" fill="#6000ff" stroke="#4c00cc"/>
<path d="M474.8 118.2l3.8 1 3.1-1-3.7-1z" fill="#0096ff" stroke="#0078cc"/>
<path d="M524.1 121.8l4 1.4 2.9-0.5-3.9-1.5z" fill="#003eff" stroke="#0031cc"/>
<path d="M554.8 130.8l1 0.6 2.8-0.2-1-0.6z" fill="#6700ff" stroke="#5200cc"/>
<path d="M467.8 118.2l3.8 1 3.2-1-3.7-1z" fill="#009aff" stroke="#007bcc"/>
<path d="M499.4 119.4l3.9 1.1 3.1-0.8-3.9-1.1z" fill="#007dff" stroke="#0064cc"/>
<path d="M545.9 127.8l0 0 2.9-0.2 0 0z" fill="#2c00ff" stroke="#2300cc"/>
<path d="M555.8 131.4l1 0.5 2.8-0.2-1-0.5z" fill="#6e00ff" stroke="#5800cc"/>
<path d="M460.8 118.2l3.8 1 3.2-1-3.7-1z" fill="#009fff" stroke="#007fcc"/>
<path d="M545.9 127.8l1 0.5 2.9-0.2-1-0.5z" fill="#2f00ff" stroke="#2500cc"/>
<path d="M556.8 131.9l0 0 2.8-0.2 0 0z" fill="#7100ff" stroke="#5a00cc"/>
<path d="M535 124.4l4 1.7 2.9-0.3-4-1.8z" fill="#0004ff" stroke="#0003cc"/>
<path d="M453.9 118.1l3.6 1.1 3.3-1-3.6-1.1z" fill="#00a3ff" stroke="#0082cc"/>
<path d="M517.2 121.2l4 1.2 2.9-0.6-3.9-1.3z" fill="#0057ff" stroke="#0045cc"/>
<path d="M556.8 131.9l1.1 0.6 2.7-0.2-1-0.6z" fill="#7400ff" stroke="#5c00cc"/>
<path d="M492.5 119.3l3.8 1 3.1-0.9-3.8-1z" fill="#0085ff" stroke="#006acc"/>
<path d="M546.9 128.3l1 0.5 2.9-0.2-1-0.5z" fill="#3500ff" stroke="#2a00cc"/>
<path d="M446.9 118.1l3.6 1.1 3.4-1.1-3.7-1z" fill="#00a8ff" stroke="#0086cc"/>
<path d="M557.9 132.5l1 0.5 2.8-0.1-1.1-0.6z" fill="#7b00ff" stroke="#6200cc"/>
<path d="M439.8 118.1l3.7 1 3.4-1-3.7-1z" fill="#00adff" stroke="#008acc"/>
<path d="M547.9 128.8l1 0.5 2.9-0.1-1-0.6z" fill="#3b00ff" stroke="#2f00cc"/>
<path d="M485.5 119.2l3.8 1 3.2-0.9-3.8-1z" fill="#008cff" stroke="#0070cc"/>
<path d="M432.8 118l3.6 1.1 3.4-1-3.6-1.1z" fill="#00b3ff" stroke="#008fcc"/>
<path d="M425.8 117.9l3.5 1.1 3.5-1-3.6-1.1z" fill="#00b8ff" stroke="#0093cc"/>
<path d="M558.9 133l1 0.6 2.8-0.1-1-0.6z" fill="#8200ff" stroke="#6800cc"/>
<path d="M510.3 120.8l3.9 1.1 3-0.7-3.9-1.2z" fill="#0069ff" stroke="#0054cc"/>
<path d="M390.3 117.4l3.5 1.1 3.6-1-3.4-1.1z" fill="#00dcff" stroke="#00b0cc"/>
<path d="M418.7 117.9l3.6 1.1 3.5-1.1-3.6-1z" fill="#00bfff" stroke="#0098cc"/>
<path d="M397.4 117.5l3.5 1.2 3.6-1.1-3.5-1.1z" fill="#00d4ff" stroke="#00a9cc"/>
<path d="M411.6 117.8l3.6 1.1 3.5-1-3.5-1.1z" fill="#00c5ff" stroke="#009dcc"/>
<path d="M404.5 117.6l3.6 1.2 3.5-1-3.5-1.2z" fill="#0cf" stroke="#00a3cc"/>
<path d="M528.1 123.2l4 1.6 2.9-0.4-4-1.7z" fill="#002cff" stroke="#0023cc"/>
<path d="M548.9 129.3l1 0.6 2.9-0.2-1-0.5z" fill="#4100ff" stroke="#3400cc"/>
<path d="M478.6 119.2l3.7 1 3.2-1-3.8-1z" fill="#0092ff" stroke="#0074cc"/>
<path d="M559.9 133.6l1 0.6 2.8-0.1-1-0.6z" fill="#8900ff" stroke="#6d00cc"/>
<path d="M549.9 129.9l0.1 0 2.8-0.2 0 0z" fill="#40f" stroke="#3600cc"/>
<path d="M560.9 134.2l0 0 2.8-0.1 0 0z" fill="#8d00ff" stroke="#7000cc"/>
<path d="M550 129.9l1 0.5 2.8-0.1-1-0.6z" fill="#4700ff" stroke="#3800cc"/>
<path d="M471.6 119.2l3.7 1 3.3-1-3.8-1z" fill="#0096ff" stroke="#0078cc"/>
<path d="M503.3 120.5l3.9 1.1 3.1-0.8-3.9-1.1z" fill="#07f" stroke="#005fcc"/>
<path d="M539 126.1l4 1.9 2.9-0.2-4-2z" fill="#10f" stroke="#0d00cc"/>
<path d="M551 130.4l1 0.5 2.8-0.1-1-0.5z" fill="#4e00ff" stroke="#3e00cc"/>
<path d="M464.6 119.2l3.7 1 3.3-1-3.8-1z" fill="#009bff" stroke="#007ccc"/>
<path d="M521.2 122.4l3.9 1.4 3-0.6-4-1.4z" fill="#004aff" stroke="#003bcc"/>
<path d="M496.3 120.3l3.9 1.1 3.1-0.9-3.9-1.1z" fill="#0080ff" stroke="#06c"/>
<path d="M552 130.9l1 0.6 2.8-0.1-1-0.6z" fill="#5400ff" stroke="#4300cc"/>
<path d="M457.5 119.2l3.8 1 3.3-1-3.8-1z" fill="#009fff" stroke="#007fcc"/>
<path d="M543 128l0 0 2.9-0.2 0 0z" fill="#1b00ff" stroke="#1500cc"/>
<path d="M450.5 119.2l3.7 1 3.3-1-3.6-1.1z" fill="#00a3ff" stroke="#0082cc"/>
<path d="M553 131.5l1 0.5 2.8-0.1-1-0.5z" fill="#5b00ff" stroke="#4800cc"/>
<path d="M489.3 120.2l3.9 1.1 3.1-1-3.8-1z" fill="#08f" stroke="#006ccc"/>
<path d="M543 128l1.1 0.5 2.8-0.2-1-0.5z" fill="#1e00ff" stroke="#1800cc"/>
<path d="M443.5 119.1l3.6 1.1 3.4-1-3.6-1.1z" fill="#00a8ff" stroke="#0086cc"/>
<path d="M514.2 121.9l3.9 1.2 3.1-0.7-4-1.2z" fill="#0060ff" stroke="#004ccc"/>
<path d="M532.1 124.8l4 1.6 2.9-0.3-4-1.7z" fill="#0017ff" stroke="#0012cc"/>
<path d="M554 132l0 0 2.8-0.1 0 0z" fill="#5e00ff" stroke="#4b00cc"/>
<path d="M436.4 119.1l3.7 1 3.4-1-3.7-1z" fill="#00adff" stroke="#008acc"/>
<path d="M554 132l1 0.6 2.9-0.1-1.1-0.6z" fill="#6100ff" stroke="#4d00cc"/>
<path d="M429.3 119l3.7 1.1 3.4-1-3.6-1.1z" fill="#00b3ff" stroke="#008fcc"/>
<path d="M544.1 128.5l1 0.5 2.8-0.2-1-0.5z" fill="#2300ff" stroke="#1c00cc"/>
<path d="M482.3 120.2l3.9 1 3.1-1-3.8-1z" fill="#008eff" stroke="#0071cc"/>
<path d="M422.3 119l3.6 1.1 3.4-1.1-3.5-1.1z" fill="#00b8ff" stroke="#0093cc"/>
<path d="M393.8 118.5l3.5 1.2 3.6-1-3.5-1.2z" fill="#00d4ff" stroke="#00a9cc"/>
<path d="M415.2 118.9l3.5 1.1 3.6-1-3.6-1.1z" fill="#00bfff" stroke="#0098cc"/>
<path d="M400.9 118.7l3.6 1.1 3.6-1-3.6-1.2z" fill="#0cf" stroke="#00a3cc"/>
<path d="M408.1 118.8l3.5 1.1 3.6-1-3.6-1.1z" fill="#00c5ff" stroke="#009dcc"/>
<path d="M555 132.6l1.1 0.5 2.8-0.1-1-0.5z" fill="#6800ff" stroke="#5300cc"/>
<path d="M507.2 121.6l3.9 1.1 3.1-0.8-3.9-1.1z" fill="#0070ff" stroke="#0059cc"/>
<path d="M545.1 129l1 0.5 2.8-0.2-1-0.5z" fill="#2900ff" stroke="#2000cc"/>
<path d="M475.3 120.2l3.8 1 3.2-1-3.7-1z" fill="#0093ff" stroke="#0075cc"/>
<path d="M556.1 133.1l1 0.6 2.8-0.1-1-0.6z" fill="#6f00ff" stroke="#5800cc"/>
<path d="M525.1 123.8l4 1.4 3-0.4-4-1.6z" fill="#003bff" stroke="#002fcc"/>
<path d="M546.1 129.5l1 0.5 2.8-0.1-1-0.6z" fill="#2e00ff" stroke="#2400cc"/>
<path d="M468.3 120.2l3.8 1 3.2-1-3.7-1z" fill="#0097ff" stroke="#0078cc"/>
<path d="M547.1 130l0 0 2.9-0.1-0.1 0z" fill="#3100ff" stroke="#2700cc"/>
<path d="M500.2 121.4l3.9 1 3.1-0.8-3.9-1.1z" fill="#007cff" stroke="#0063cc"/>
<path d="M557.1 133.7l1 0.6 2.8-0.1-1-0.6z" fill="#7500ff" stroke="#5d00cc"/>
<path d="M547.1 130l1 0.5 2.9-0.1-1-0.5z" fill="#3400ff" stroke="#2900cc"/>
<path d="M558.1 134.3l0 0 2.8-0.1 0 0z" fill="#7900ff" stroke="#6000cc"/>
<path d="M461.3 120.2l3.7 1 3.3-1-3.7-1z" fill="#009bff" stroke="#007ccc"/>
<path d="M536.1 126.4l4 1.8 2.9-0.2-4-1.9z" fill="#00f" stroke="#00c"/>
<path d="M518.1 123.1l4 1.3 3-0.6-3.9-1.4z" fill="#0056ff" stroke="#04c"/>
<path d="M454.2 120.2l3.7 1 3.4-1-3.8-1z" fill="#009fff" stroke="#007fcc"/>
<path d="M493.2 121.3l3.9 1 3.1-0.9-3.9-1.1z" fill="#0084ff" stroke="#0069cc"/>
<path d="M548.1 130.5l1 0.5 2.9-0.1-1-0.5z" fill="#3a00ff" stroke="#2e00cc"/>
<path d="M447.1 120.2l3.7 1 3.4-1-3.7-1z" fill="#00a3ff" stroke="#0082cc"/>
<path d="M549.1 131l1.1 0.5 2.8 0-1-0.6z" fill="#4000ff" stroke="#30c"/>
<path d="M440.1 120.1l3.6 1.1 3.4-1-3.6-1.1z" fill="#00a8ff" stroke="#0086cc"/>
<path d="M486.2 121.2l3.8 1 3.2-0.9-3.9-1.1z" fill="#008aff" stroke="#006ecc"/>
<path d="M433 120.1l3.6 1.1 3.5-1.1-3.7-1z" fill="#00adff" stroke="#008acc"/>
<path d="M540.1 128.2l0 0 2.9-0.2 0 0z" fill="#0900ff" stroke="#0700cc"/>
<path d="M511.1 122.7l4 1.1 3-0.7-3.9-1.2z" fill="#0069ff" stroke="#0054cc"/>
<path d="M425.9 120.1l3.6 1 3.5-1-3.7-1.1z" fill="#00b3ff" stroke="#008fcc"/>
<path d="M550.2 131.5l1 0.6 2.8-0.1-1-0.5z" fill="#4600ff" stroke="#3800cc"/>
<path d="M418.7 120l3.6 1.1 3.6-1-3.6-1.1z" fill="#00b8ff" stroke="#0093cc"/>
<path d="M397.3 119.7l3.5 1.1 3.7-1-3.6-1.1z" fill="#0cf" stroke="#00a3cc"/>
<path d="M540.1 128.2l1.1 0.5 2.9-0.2-1.1-0.5z" fill="#0c00ff" stroke="#0900cc"/>
<path d="M411.6 119.9l3.6 1.1 3.5-1-3.5-1.1z" fill="#00bfff" stroke="#0098cc"/>
<path d="M404.5 119.8l3.5 1.1 3.6-1-3.5-1.1z" fill="#00c5ff" stroke="#009dcc"/>
<path d="M529.1 125.2l4 1.6 3-0.4-4-1.6z" fill="#002aff" stroke="#0021cc"/>
<path d="M479.1 121.2l3.9 1 3.2-1-3.9-1z" fill="#008fff" stroke="#0072cc"/>
<path d="M551.2 132.1l0 0 2.8-0.1 0 0z" fill="#4a00ff" stroke="#3b00cc"/>
<path d="M551.2 132.1l1 0.5 2.8 0-1-0.6z" fill="#4d00ff" stroke="#3d00cc"/>
<path d="M541.2 128.7l1 0.4 2.9-0.1-1-0.5z" fill="#10f" stroke="#0d00cc"/>
<path d="M504.1 122.4l3.9 1.1 3.1-0.8-3.9-1.1z" fill="#0076ff" stroke="#005ecc"/>
<path d="M472.1 121.2l3.8 1 3.2-1-3.8-1z" fill="#0093ff" stroke="#0075cc"/>
<path d="M552.2 132.6l1 0.5 2.9 0-1.1-0.5z" fill="#5300ff" stroke="#4200cc"/>
<path d="M542.2 129.1l1 0.5 2.9-0.1-1-0.5z" fill="#1600ff" stroke="#10c"/>
<path d="M465 121.2l3.8 1.1 3.3-1.1-3.8-1z" fill="#0097ff" stroke="#0078cc"/>
<path d="M522.1 124.4l4 1.3 3-0.5-4-1.4z" fill="#004aff" stroke="#003bcc"/>
<path d="M553.2 133.1l1.1 0.6 2.8 0-1-0.6z" fill="#5900ff" stroke="#4700cc"/>
<path d="M497.1 122.3l3.9 1 3.1-0.9-3.9-1z" fill="#0080ff" stroke="#06c"/>
<path d="M543.2 129.6l1 0.5 2.9-0.1-1-0.5z" fill="#1b00ff" stroke="#1500cc"/>
<path d="M457.9 121.2l3.8 1.1 3.3-1.1-3.7-1z" fill="#009bff" stroke="#007ccc"/>
<path d="M544.2 130.1l0 0 2.9-0.1 0 0z" fill="#1e00ff" stroke="#1800cc"/>
<path d="M554.3 133.7l1 0.5 2.8 0.1-1-0.6z" fill="#6000ff" stroke="#4c00cc"/>
<path d="M450.8 121.2l3.8 1.1 3.3-1.1-3.7-1z" fill="#009fff" stroke="#007fcc"/>
<path d="M544.2 130.1l1 0.5 2.9-0.1-1-0.5z" fill="#2100ff" stroke="#1a00cc"/>
<path d="M555.3 134.2l0 0 2.8 0.1 0 0z" fill="#6300ff" stroke="#4f00cc"/>
<path d="M490 122.2l3.9 1 3.2-0.9-3.9-1z" fill="#0086ff" stroke="#006bcc"/>
<path d="M533.1 126.8l4.1 1.6 2.9-0.2-4-1.8z" fill="#0015ff" stroke="#0010cc"/>
<path d="M443.7 121.2l3.7 1.1 3.4-1.1-3.7-1z" fill="#00a3ff" stroke="#0082cc"/>
<path d="M515.1 123.8l4 1.2 3-0.6-4-1.3z" fill="#0060ff" stroke="#004ccc"/>
<path d="M436.6 121.2l3.7 1 3.4-1-3.6-1.1z" fill="#00a8ff" stroke="#0086cc"/>
<path d="M545.2 130.6l1 0.5 2.9-0.1-1-0.5z" fill="#2600ff" stroke="#1e00cc"/>
<path d="M429.5 121.1l3.6 1.1 3.5-1-3.6-1.1z" fill="#00adff" stroke="#008acc"/>
<path d="M422.3 121.1l3.7 1.1 3.5-1.1-3.6-1z" fill="#00b3ff" stroke="#008fcc"/>
<path d="M483 122.2l3.8 1 3.2-1-3.8-1z" fill="#008bff" stroke="#006fcc"/>
<path d="M415.2 121l3.6 1.1 3.5-1-3.6-1.1z" fill="#00b8ff" stroke="#0093cc"/>
<path d="M400.8 120.8l3.6 1.2 3.6-1.1-3.5-1.1z" fill="#00c5ff" stroke="#009dcc"/>
<path d="M408 120.9l3.6 1.2 3.6-1.1-3.6-1.1z" fill="#00bfff" stroke="#0098cc"/>
<path d="M546.2 131.1l1.1 0.5 2.9-0.1-1.1-0.5z" fill="#2c00ff" stroke="#2300cc"/>
<path d="M508 123.5l4 1.1 3.1-0.8-4-1.1z" fill="#0070ff" stroke="#0059cc"/>
<path d="M537.2 128.4l0 0 2.9-0.2 0 0z" fill="#000aff" stroke="#0008cc"/>
<path d="M475.9 122.2l3.8 1.1 3.3-1.1-3.9-1z" fill="#008fff" stroke="#0072cc"/>
<path d="M526.1 125.7l4.1 1.5 2.9-0.4-4-1.6z" fill="#003bff" stroke="#002fcc"/>
<path d="M537.2 128.4l1 0.5 3-0.2-1.1-0.5z" fill="#0007ff" stroke="#0005cc"/>
<path d="M547.3 131.6l1 0.5 2.9 0-1-0.6z" fill="#3200ff" stroke="#2800cc"/>
<path d="M468.8 122.3l3.8 1 3.3-1.1-3.8-1z" fill="#0093ff" stroke="#0075cc"/>
<path d="M548.3 132.1l0 0 2.9 0 0 0z" fill="#3400ff" stroke="#2900cc"/>
<path d="M501 123.3l3.9 1.1 3.1-0.9-3.9-1.1z" fill="#007bff" stroke="#0062cc"/>
<path d="M538.2 128.9l1 0.4 3-0.2-1-0.4z" fill="#0001ff" stroke="#00c"/>
<path d="M548.3 132.1l1 0.5 2.9 0-1-0.5z" fill="#3700ff" stroke="#2c00cc"/>
<path d="M461.7 122.3l3.8 1 3.3-1-3.8-1.1z" fill="#0097ff" stroke="#0078cc"/>
<path d="M549.3 132.6l1.1 0.5 2.8 0-1-0.5z" fill="#3d00ff" stroke="#3000cc"/>
<path d="M519.1 125l4 1.3 3-0.6-4-1.3z" fill="#0056ff" stroke="#04c"/>
<path d="M454.6 122.3l3.7 1 3.4-1-3.8-1.1z" fill="#009bff" stroke="#007ccc"/>
<path d="M539.2 129.3l1.1 0.5 2.9-0.2-1-0.5z" fill="#0400ff" stroke="#0300cc"/>
<path d="M493.9 123.2l3.9 1.1 3.2-1-3.9-1z" fill="#0083ff" stroke="#0068cc"/>
<path d="M447.4 122.3l3.8 1 3.4-1-3.8-1.1z" fill="#009fff" stroke="#007fcc"/>
<path d="M550.4 133.1l1 0.6 2.9 0-1.1-0.6z" fill="#4300ff" stroke="#3500cc"/>
<path d="M540.3 129.8l1 0.4 2.9-0.1-1-0.5z" fill="#0800ff" stroke="#0600cc"/>
<path d="M440.3 122.2l3.7 1.1 3.4-1-3.7-1.1z" fill="#00a3ff" stroke="#0082cc"/>
<path d="M486.8 123.2l3.9 1 3.2-1-3.9-1z" fill="#08f" stroke="#006ccc"/>
<path d="M541.3 130.2l0 0 2.9-0.1 0 0z" fill="#0b00ff" stroke="#0800cc"/>
<path d="M433.1 122.2l3.7 1.1 3.5-1.1-3.7-1z" fill="#00a8ff" stroke="#0086cc"/>
<path d="M551.4 133.7l1 0.5 2.9 0-1-0.5z" fill="#4900ff" stroke="#3a00cc"/>
<path d="M512 124.6l4 1.2 3.1-0.8-4-1.2z" fill="#0069ff" stroke="#0054cc"/>
<path d="M426 122.2l3.6 1.1 3.5-1.1-3.6-1.1z" fill="#00adff" stroke="#008acc"/>
<path d="M541.3 130.2l1 0.5 2.9-0.1-1-0.5z" fill="#0d00ff" stroke="#0a00cc"/>
<path d="M418.8 122.1l3.6 1.1 3.6-1-3.7-1.1z" fill="#00b3ff" stroke="#008fcc"/>
<path d="M530.2 127.2l4 1.5 3-0.3-4.1-1.6z" fill="#0029ff" stroke="#0020cc"/>
<path d="M404.4 122l3.5 1.1 3.7-1-3.6-1.2z" fill="#00bfff" stroke="#0098cc"/>
<path d="M411.6 122.1l3.6 1.1 3.6-1.1-3.6-1.1z" fill="#00b8ff" stroke="#0093cc"/>
<path d="M552.4 134.2l0 0 2.9 0 0 0z" fill="#4c00ff" stroke="#3c00cc"/>
<path d="M479.7 123.3l3.9 1 3.2-1.1-3.8-1z" fill="#008cff" stroke="#0070cc"/>
<path d="M542.3 130.7l1 0.5 2.9-0.1-1-0.5z" fill="#1200ff" stroke="#0e00cc"/>
<path d="M472.6 123.3l3.8 1 3.3-1-3.8-1.1z" fill="#0090ff" stroke="#0073cc"/>
<path d="M504.9 124.4l4 1.1 3.1-0.9-4-1.1z" fill="#0076ff" stroke="#005ecc"/>
<path d="M543.3 131.2l1.1 0.4 2.9 0-1.1-0.5z" fill="#1700ff" stroke="#1200cc"/>
<path d="M534.2 128.7l0 0 3-0.3 0 0z" fill="#0020ff" stroke="#0019cc"/>
<path d="M465.5 123.3l3.8 1 3.3-1-3.8-1z" fill="#0093ff" stroke="#0075cc"/>
<path d="M523.1 126.3l4 1.4 3.1-0.5-4.1-1.5z" fill="#004aff" stroke="#003bcc"/>
<path d="M534.2 128.7l1 0.4 3-0.2-1-0.5z" fill="#001dff" stroke="#0017cc"/>
<path d="M497.8 124.3l4 1 3.1-0.9-3.9-1.1z" fill="#007fff" stroke="#0065cc"/>
<path d="M544.4 131.6l1 0.5 2.9 0-1-0.5z" fill="#1c00ff" stroke="#1600cc"/>
<path d="M458.3 123.3l3.8 1.1 3.4-1.1-3.8-1z" fill="#0097ff" stroke="#0078cc"/>
<path d="M545.4 132.1l0 0 2.9 0 0 0z" fill="#1f00ff" stroke="#1800cc"/>
<path d="M535.2 129.1l1.1 0.5 2.9-0.3-1-0.4z" fill="#0018ff" stroke="#0013cc"/>
<path d="M451.2 123.3l3.7 1.1 3.4-1.1-3.7-1z" fill="#009bff" stroke="#007ccc"/>
<path d="M545.4 132.1l1 0.5 2.9 0-1-0.5z" fill="#20f" stroke="#1b00cc"/>
<path d="M490.7 124.2l3.9 1.1 3.2-1-3.9-1.1z" fill="#0085ff" stroke="#006acc"/>
<path d="M444 123.3l3.7 1.1 3.5-1.1-3.8-1z" fill="#009fff" stroke="#007fcc"/>
<path d="M516 125.8l4 1.2 3.1-0.7-4-1.3z" fill="#0061ff" stroke="#004dcc"/>
<path d="M536.3 129.6l1 0.4 3-0.2-1.1-0.5z" fill="#0013ff" stroke="#000fcc"/>
<path d="M436.8 123.3l3.7 1.1 3.5-1.1-3.7-1.1z" fill="#00a3ff" stroke="#0082cc"/>
<path d="M546.4 132.6l1.1 0.5 2.9 0-1.1-0.5z" fill="#2700ff" stroke="#1f00cc"/>
<path d="M429.6 123.3l3.7 1.1 3.5-1.1-3.7-1.1z" fill="#00a8ff" stroke="#0086cc"/>
<path d="M483.6 124.3l3.9 1 3.2-1.1-3.9-1z" fill="#0089ff" stroke="#006dcc"/>
<path d="M422.4 123.2l3.7 1.1 3.5-1-3.6-1.1z" fill="#00adff" stroke="#008acc"/>
<path d="M415.2 123.2l3.6 1.1 3.6-1.1-3.6-1.1z" fill="#00b3ff" stroke="#008fcc"/>
<path d="M407.9 123.1l3.7 1.2 3.6-1.1-3.6-1.1z" fill="#00b8ff" stroke="#0093cc"/>
<path d="M537.3 130l1 0.4 3-0.2-1-0.4z" fill="#000dff" stroke="#000acc"/>
<path d="M547.5 133.1l1 0.5 2.9 0.1-1-0.6z" fill="#2d00ff" stroke="#2400cc"/>
<path d="M508.9 125.5l4 1.1 3.1-0.8-4-1.2z" fill="#0071ff" stroke="#005acc"/>
<path d="M538.3 130.4l0 0 3-0.2 0 0z" fill="#000aff" stroke="#0008cc"/>
<path d="M476.4 124.3l3.9 1 3.3-1-3.9-1z" fill="#008cff" stroke="#0070cc"/>
<path d="M527.1 127.7l4.1 1.4 3-0.4-4-1.5z" fill="#003cff" stroke="#0030cc"/>
<path d="M548.5 133.6l1 0.5 2.9 0.1-1-0.5z" fill="#3200ff" stroke="#2800cc"/>
<path d="M538.3 130.4l1.1 0.4 2.9-0.1-1-0.5z" fill="#0008ff" stroke="#0006cc"/>
<path d="M549.5 134.1l0 0 2.9 0.1 0 0z" fill="#3500ff" stroke="#2a00cc"/>
<path d="M469.3 124.3l3.8 1.1 3.3-1.1-3.8-1z" fill="#0090ff" stroke="#0073cc"/>
<path d="M501.8 125.3l4 1.1 3.1-0.9-4-1.1z" fill="#007bff" stroke="#0062cc"/>
<path d="M539.4 130.8l1 0.5 2.9-0.1-1-0.5z" fill="#0002ff" stroke="#0001cc"/>
<path d="M462.1 124.4l3.8 1 3.4-1.1-3.8-1z" fill="#0093ff" stroke="#0075cc"/>
<path d="M540.4 131.3l1 0.4 3-0.1-1.1-0.4z" fill="#0300ff" stroke="#0200cc"/>
<path d="M531.2 129.1l0 0 3-0.4 0 0z" fill="#0034ff" stroke="#0029cc"/>
<path d="M520 127l4.1 1.2 3-0.5-4-1.4z" fill="#0058ff" stroke="#0046cc"/>
<path d="M454.9 124.4l3.8 1 3.4-1-3.8-1.1z" fill="#0097ff" stroke="#0078cc"/>
<path d="M494.6 125.3l4 1 3.2-1-4-1z" fill="#0081ff" stroke="#0067cc"/>
<path d="M531.2 129.1l1.1 0.4 2.9-0.4-1-0.4z" fill="#0032ff" stroke="#0028cc"/>
<path d="M447.7 124.4l3.8 1 3.4-1-3.7-1.1z" fill="#009bff" stroke="#007ccc"/>
<path d="M541.4 131.7l1 0.5 3-0.1-1-0.5z" fill="#0800ff" stroke="#0600cc"/>
<path d="M440.5 124.4l3.8 1.1 3.4-1.1-3.7-1.1z" fill="#009fff" stroke="#007fcc"/>
<path d="M487.5 125.3l3.9 1 3.2-1-3.9-1.1z" fill="#0086ff" stroke="#006bcc"/>
<path d="M542.4 132.2l0 0 3-0.1 0 0z" fill="#0a00ff" stroke="#0800cc"/>
<path d="M532.3 129.5l1 0.4 3-0.3-1.1-0.5z" fill="#002dff" stroke="#0024cc"/>
<path d="M433.3 124.4l3.7 1 3.5-1-3.7-1.1z" fill="#00a3ff" stroke="#0082cc"/>
<path d="M512.9 126.6l4 1.1 3.1-0.7-4-1.2z" fill="#006aff" stroke="#0054cc"/>
<path d="M426.1 124.3l3.7 1.1 3.5-1-3.7-1.1z" fill="#00a8ff" stroke="#0086cc"/>
<path d="M542.4 132.2l1.1 0.5 2.9-0.1-1-0.5z" fill="#0d00ff" stroke="#0a00cc"/>
<path d="M418.8 124.3l3.7 1.1 3.6-1.1-3.7-1.1z" fill="#00adff" stroke="#008acc"/>
<path d="M411.6 124.3l3.6 1.1 3.6-1.1-3.6-1.1z" fill="#00b3ff" stroke="#008fcc"/>
<path d="M480.3 125.3l3.9 1.1 3.3-1.1-3.9-1z" fill="#0089ff" stroke="#006dcc"/>
<path d="M533.3 129.9l1 0.4 3-0.3-1-0.4z" fill="#0029ff" stroke="#0020cc"/>
<path d="M543.5 132.7l1 0.4 3 0-1.1-0.5z" fill="#1200ff" stroke="#0e00cc"/>
<path d="M473.1 125.4l3.9 1 3.3-1.1-3.9-1z" fill="#008cff" stroke="#0070cc"/>
<path d="M505.8 126.4l4 1 3.1-0.8-4-1.1z" fill="#0076ff" stroke="#005ecc"/>
<path d="M534.3 130.3l1 0.4 3-0.3-1-0.4z" fill="#0024ff" stroke="#001ccc"/>
<path d="M544.5 133.1l1.1 0.5 2.9 0-1-0.5z" fill="#1700ff" stroke="#1200cc"/>
<path d="M535.3 130.7l0 0 3-0.3 0 0z" fill="#02f" stroke="#001bcc"/>
<path d="M465.9 125.4l3.9 1 3.3-1-3.8-1.1z" fill="#0090ff" stroke="#0073cc"/>
<path d="M524.1 128.2l4.1 1.4 3-0.5-4.1-1.4z" fill="#004cff" stroke="#003ccc"/>
<path d="M535.3 130.7l1.1 0.4 3-0.3-1.1-0.4z" fill="#001fff" stroke="#0018cc"/>
<path d="M545.6 133.6l1 0.5 2.9 0-1-0.5z" fill="#1c00ff" stroke="#1600cc"/>
<path d="M498.6 126.3l4 1 3.2-0.9-4-1.1z" fill="#007eff" stroke="#0064cc"/>
<path d="M458.7 125.4l3.9 1.1 3.3-1.1-3.8-1z" fill="#0093ff" stroke="#0075cc"/>
<path d="M546.6 134.1l0 0 2.9 0 0 0z" fill="#1e00ff" stroke="#1800cc"/>
<path d="M536.4 131.1l1 0.4 3-0.2-1-0.5z" fill="#001aff" stroke="#0014cc"/>
<path d="M451.5 125.4l3.8 1.1 3.4-1.1-3.8-1z" fill="#0097ff" stroke="#0078cc"/>
<path d="M491.4 126.3l4 1.1 3.2-1.1-4-1z" fill="#0083ff" stroke="#0068cc"/>
<path d="M444.3 125.5l3.8 1 3.4-1.1-3.8-1z" fill="#009bff" stroke="#007ccc"/>
<path d="M516.9 127.7l4.1 1.2 3.1-0.7-4.1-1.2z" fill="#0063ff" stroke="#004fcc"/>
<path d="M528.2 129.6l0 0 3-0.5 0 0z" fill="#0046ff" stroke="#0038cc"/>
<path d="M537.4 131.5l1 0.4 3-0.2-1-0.4z" fill="#0015ff" stroke="#0010cc"/>
<path d="M437 125.4l3.8 1.1 3.5-1-3.8-1.1z" fill="#009fff" stroke="#007fcc"/>
<path d="M528.2 129.6l1 0.3 3.1-0.4-1.1-0.4z" fill="#04f" stroke="#0036cc"/>
<path d="M429.8 125.4l3.7 1.1 3.5-1.1-3.7-1z" fill="#00a3ff" stroke="#0082cc"/>
<path d="M484.2 126.4l4 1 3.2-1.1-3.9-1z" fill="#0086ff" stroke="#006bcc"/>
<path d="M422.5 125.4l3.7 1.1 3.6-1.1-3.7-1.1z" fill="#00a8ff" stroke="#0086cc"/>
<path d="M415.2 125.4l3.7 1.1 3.6-1.1-3.7-1.1z" fill="#00adff" stroke="#008acc"/>
<path d="M538.4 131.9l1.1 0.4 2.9-0.1-1-0.5z" fill="#000fff" stroke="#000ccc"/>
<path d="M509.8 127.4l4 1.2 3.1-0.9-4-1.1z" fill="#0071ff" stroke="#005acc"/>
<path d="M529.2 129.9l1 0.4 3.1-0.4-1-0.4z" fill="#0040ff" stroke="#03c"/>
<path d="M539.5 132.3l0 0 2.9-0.1 0 0z" fill="#000dff" stroke="#000acc"/>
<path d="M477 126.4l3.9 1 3.3-1-3.9-1.1z" fill="#0089ff" stroke="#006dcc"/>
<path d="M539.5 132.3l1 0.5 3-0.1-1.1-0.5z" fill="#000aff" stroke="#0008cc"/>
<path d="M530.2 130.3l1.1 0.4 3-0.4-1-0.4z" fill="#003cff" stroke="#0030cc"/>
<path d="M469.8 126.4l3.9 1.1 3.3-1.1-3.9-1z" fill="#008cff" stroke="#0070cc"/>
<path d="M502.6 127.3l4 1.1 3.2-1-4-1z" fill="#007aff" stroke="#0061cc"/>
<path d="M540.5 132.8l1.1 0.4 2.9-0.1-1-0.4z" fill="#0004ff" stroke="#0003cc"/>
<path d="M462.6 126.5l3.8 1 3.4-1.1-3.9-1z" fill="#0090ff" stroke="#0073cc"/>
<path d="M531.3 130.7l1 0.3 3-0.3-1-0.4z" fill="#0038ff" stroke="#002ccc"/>
<path d="M541.6 133.2l1 0.5 3-0.1-1.1-0.5z" fill="#0100ff" stroke="#00c"/>
<path d="M532.3 131l0 0 3-0.3 0 0z" fill="#0036ff" stroke="#002bcc"/>
<path d="M521 128.9l4.1 1.3 3.1-0.6-4.1-1.4z" fill="#0059ff" stroke="#0047cc"/>
<path d="M455.3 126.5l3.8 1.1 3.5-1.1-3.9-1.1z" fill="#0093ff" stroke="#0075cc"/>
<path d="M495.4 127.4l4 1 3.2-1.1-4-1z" fill="#0080ff" stroke="#06c"/>
<path d="M532.3 131l1 0.4 3.1-0.3-1.1-0.4z" fill="#0034ff" stroke="#0029cc"/>
<path d="M448.1 126.5l3.8 1.1 3.4-1.1-3.8-1.1z" fill="#0097ff" stroke="#0078cc"/>
<path d="M542.6 133.7l1 0.4 3 0-1-0.5z" fill="#0600ff" stroke="#0400cc"/>
<path d="M440.8 126.5l3.8 1.1 3.5-1.1-3.8-1z" fill="#009bff" stroke="#007ccc"/>
<path d="M543.6 134.1l0 0 3 0 0 0z" fill="#0800ff" stroke="#0600cc"/>
<path d="M488.2 127.4l3.9 1 3.3-1-4-1.1z" fill="#0083ff" stroke="#0068cc"/>
<path d="M533.3 131.4l1.1 0.4 3-0.3-1-0.4z" fill="#0030ff" stroke="#0026cc"/>
<path d="M433.5 126.5l3.7 1.1 3.6-1.1-3.8-1.1z" fill="#009fff" stroke="#007fcc"/>
<path d="M513.8 128.6l4.1 1.1 3.1-0.8-4.1-1.2z" fill="#006bff" stroke="#05c"/>
<path d="M426.2 126.5l3.7 1.1 3.6-1.1-3.7-1.1z" fill="#00a3ff" stroke="#0082cc"/>
<path d="M418.9 126.5l3.7 1.1 3.6-1.1-3.7-1.1z" fill="#00a8ff" stroke="#0086cc"/>
<path d="M525.1 130.2l0 0 3.1-0.6 0 0z" fill="#0054ff" stroke="#0043cc"/>
<path d="M480.9 127.4l4 1.1 3.3-1.1-4-1z" fill="#0086ff" stroke="#006bcc"/>
<path d="M534.4 131.8l1 0.4 3-0.3-1-0.4z" fill="#002cff" stroke="#0023cc"/>
<path d="M525.1 130.2l1 0.3 3.1-0.6-1-0.3z" fill="#0053ff" stroke="#0042cc"/>
<path d="M473.7 127.5l3.9 1 3.3-1.1-3.9-1z" fill="#0089ff" stroke="#006dcc"/>
<path d="M506.6 128.4l4.1 1.1 3.1-0.9-4-1.2z" fill="#0076ff" stroke="#005ecc"/>
<path d="M535.4 132.2l1.1 0.4 3-0.3-1.1-0.4z" fill="#0027ff" stroke="#001fcc"/>
<path d="M526.1 130.5l1.1 0.4 3-0.6-1-0.4z" fill="#0050ff" stroke="#0040cc"/>
<path d="M536.5 132.6l0 0 3-0.3 0 0z" fill="#0025ff" stroke="#001dcc"/>
<path d="M466.4 127.5l3.9 1.1 3.4-1.1-3.9-1.1z" fill="#008dff" stroke="#0070cc"/>
<path d="M536.5 132.6l1 0.4 3-0.2-1-0.5z" fill="#02f" stroke="#001bcc"/>
<path d="M499.4 128.4l4 1.1 3.2-1.1-4-1.1z" fill="#007cff" stroke="#0063cc"/>
<path d="M527.2 130.9l1 0.3 3.1-0.5-1.1-0.4z" fill="#004dff" stroke="#003dcc"/>
<path d="M459.1 127.6l3.9 1 3.4-1.1-3.8-1z" fill="#0090ff" stroke="#0073cc"/>
<path d="M537.5 133l1 0.4 3.1-0.2-1.1-0.4z" fill="#001dff" stroke="#0017cc"/>
<path d="M451.9 127.6l3.8 1.1 3.4-1.1-3.8-1.1z" fill="#0093ff" stroke="#0075cc"/>
<path d="M528.2 131.2l1 0.4 3.1-0.6-1-0.3z" fill="#004aff" stroke="#003bcc"/>
<path d="M492.1 128.4l4 1.1 3.3-1.1-4-1z" fill="#0080ff" stroke="#06c"/>
<path d="M444.6 127.6l3.8 1.1 3.5-1.1-3.8-1.1z" fill="#0097ff" stroke="#0078cc"/>
<path d="M517.9 129.7l4.1 1.2 3.1-0.7-4.1-1.3z" fill="#0064ff" stroke="#0050cc"/>
<path d="M529.2 131.6l0 0 3.1-0.6 0 0z" fill="#0048ff" stroke="#0039cc"/>
<path d="M538.5 133.4l1.1 0.5 3-0.2-1-0.5z" fill="#0018ff" stroke="#0013cc"/>
<path d="M437.2 127.6l3.8 1.1 3.6-1.1-3.8-1.1z" fill="#009bff" stroke="#007ccc"/>
<path d="M529.2 131.6l1.1 0.3 3-0.5-1-0.4z" fill="#0046ff" stroke="#0038cc"/>
<path d="M429.9 127.6l3.8 1.1 3.5-1.1-3.7-1.1z" fill="#009fff" stroke="#007fcc"/>
<path d="M484.9 128.5l3.9 1 3.3-1.1-3.9-1z" fill="#0083ff" stroke="#0068cc"/>
<path d="M422.6 127.6l3.7 1.1 3.6-1.1-3.7-1.1z" fill="#00a3ff" stroke="#0082cc"/>
<path d="M539.6 133.9l1 0.4 3-0.2-1-0.4z" fill="#0013ff" stroke="#000fcc"/>
<path d="M510.7 129.5l4 1.1 3.2-0.9-4.1-1.1z" fill="#0071ff" stroke="#005acc"/>
<path d="M530.3 131.9l1 0.4 3.1-0.5-1.1-0.4z" fill="#0043ff" stroke="#0035cc"/>
<path d="M540.6 134.3l0 0 3-0.2 0 0z" fill="#0010ff" stroke="#000ccc"/>
<path d="M477.6 128.5l3.9 1.1 3.4-1.1-4-1.1z" fill="#0086ff" stroke="#006bcc"/>
<path d="M522 130.9l0 0 3.1-0.7 0 0z" fill="#0060ff" stroke="#004ccc"/>
<path d="M522 130.9l1 0.3 3.1-0.7-1-0.3z" fill="#005fff" stroke="#004ccc"/>
<path d="M531.3 132.3l1.1 0.3 3-0.4-1-0.4z" fill="#003fff" stroke="#0032cc"/>
<path d="M470.3 128.6l3.9 1 3.4-1.1-3.9-1z" fill="#0089ff" stroke="#006dcc"/>
<path d="M503.4 129.5l4.1 1 3.2-1-4.1-1.1z" fill="#0079ff" stroke="#0060cc"/>
<path d="M463 128.6l3.9 1.1 3.4-1.1-3.9-1.1z" fill="#008dff" stroke="#0070cc"/>
<path d="M532.4 132.6l1 0.4 3.1-0.4-1.1-0.4z" fill="#003bff" stroke="#002fcc"/>
<path d="M523 131.2l1.1 0.4 3.1-0.7-1.1-0.4z" fill="#005dff" stroke="#004acc"/>
<path d="M533.4 133l0 0 3.1-0.4 0 0z" fill="#0039ff" stroke="#002dcc"/>
<path d="M455.7 128.7l3.9 1 3.4-1.1-3.9-1z" fill="#0090ff" stroke="#0073cc"/>
<path d="M496.1 129.5l4.1 1 3.2-1-4-1.1z" fill="#007dff" stroke="#0064cc"/>
<path d="M533.4 133l1.1 0.4 3-0.4-1-0.4z" fill="#0037ff" stroke="#002ccc"/>
<path d="M524.1 131.6l1 0.3 3.1-0.7-1-0.3z" fill="#005aff" stroke="#0048cc"/>
<path d="M448.4 128.7l3.8 1.1 3.5-1.1-3.8-1.1z" fill="#0093ff" stroke="#0075cc"/>
<path d="M441 128.7l3.8 1.1 3.6-1.1-3.8-1.1z" fill="#0097ff" stroke="#0078cc"/>
<path d="M488.8 129.5l4.1 1.1 3.2-1.1-4-1.1z" fill="#0081ff" stroke="#0067cc"/>
<path d="M534.5 133.4l1 0.4 3-0.4-1-0.4z" fill="#03f" stroke="#0028cc"/>
<path d="M433.7 128.7l3.8 1.1 3.5-1.1-3.8-1.1z" fill="#009bff" stroke="#007ccc"/>
<path d="M525.1 131.9l1 0.3 3.1-0.6-1-0.4z" fill="#0058ff" stroke="#0046cc"/>
<path d="M514.7 130.6l4.2 1.2 3.1-0.9-4.1-1.2z" fill="#006cff" stroke="#0056cc"/>
<path d="M426.3 128.7l3.8 1.1 3.6-1.1-3.8-1.1z" fill="#009fff" stroke="#007fcc"/>
<path d="M526.1 132.2l0.1 0 3-0.6 0 0z" fill="#0056ff" stroke="#04c"/>
<path d="M481.5 129.6l4 1 3.3-1.1-3.9-1z" fill="#0084ff" stroke="#0069cc"/>
<path d="M535.5 133.8l1.1 0.1 3 0-1.1-0.5z" fill="#0031ff" stroke="#0027cc"/>
<path d="M526.2 132.2l1 0.3 3.1-0.6-1.1-0.3z" fill="#05f" stroke="#04c"/>
<path d="M507.5 130.5l4.1 1.1 3.1-1-4-1.1z" fill="#0075ff" stroke="#005dcc"/>
<path d="M474.2 129.6l4 1.1 3.3-1.1-3.9-1.1z" fill="#0087ff" stroke="#006ccc"/>
<path d="M527.2 132.5l1 0.4 3.1-0.6-1-0.4z" fill="#0052ff" stroke="#0041cc"/>
<path d="M536.6 133.9l1.1-1.5 2.9 1.9-1-0.4z" fill="#003bff" stroke="#002fcc"/>
<path d="M518.9 131.8l0 0 3.1-0.9 0 0z" fill="#0068ff" stroke="#0053cc"/>
<path d="M466.9 129.7l3.9 1.1 3.4-1.2-3.9-1z" fill="#0089ff" stroke="#006dcc"/>
<path d="M537.7 132.4l0 0 2.9 1.9 0 0z" fill="#0045ff" stroke="#0037cc"/>
<path d="M518.9 131.8l1 0.3 3.1-0.9-1-0.3z" fill="#0068ff" stroke="#0053cc"/>
<path d="M500.2 130.5l4 1.1 3.3-1.1-4.1-1z" fill="#007aff" stroke="#0061cc"/>
<path d="M528.2 132.9l1.1 0.3 3.1-0.6-1.1-0.3z" fill="#004fff" stroke="#003fcc"/>
<path d="M459.6 129.7l3.9 1.1 3.4-1.1-3.9-1.1z" fill="#008dff" stroke="#0070cc"/>
<path d="M452.2 129.8l3.9 1.1 3.5-1.2-3.9-1z" fill="#0090ff" stroke="#0073cc"/>
<path d="M519.9 132.1l1 0.3 3.2-0.8-1.1-0.4z" fill="#06f" stroke="#0051cc"/>
<path d="M529.3 133.2l1 0.4 3.1-0.6-1-0.4z" fill="#004cff" stroke="#003ccc"/>
<path d="M492.9 130.6l4 1 3.3-1.1-4.1-1z" fill="#007eff" stroke="#0064cc"/>
<path d="M444.8 129.8l3.9 1.1 3.5-1.1-3.8-1.1z" fill="#0093ff" stroke="#0075cc"/>
<path d="M530.3 133.6l0 0 3.1-0.6 0 0z" fill="#004bff" stroke="#003ccc"/>
<path d="M437.5 129.8l3.8 1.1 3.5-1.1-3.8-1.1z" fill="#0097ff" stroke="#0078cc"/>
<path d="M520.9 132.4l1.1 0.3 3.1-0.8-1-0.3z" fill="#0064ff" stroke="#0050cc"/>
<path d="M530.3 133.6l1.1 0.3 3.1-0.5-1.1-0.4z" fill="#0049ff" stroke="#003acc"/>
<path d="M430.1 129.8l3.8 1.2 3.6-1.2-3.8-1.1z" fill="#009bff" stroke="#007ccc"/>
<path d="M485.5 130.6l4 1.1 3.4-1.1-4.1-1.1z" fill="#0081ff" stroke="#0067cc"/>
<path d="M522 132.7l1 0.3 3.1-0.8-1-0.3z" fill="#0062ff" stroke="#004ecc"/>
<path d="M511.6 131.6l4.1 1.2 3.2-1-4.2-1.2z" fill="#0070ff" stroke="#0059cc"/>
<path d="M531.4 133.9l1-0.3 3.1 0.2-1-0.4z" fill="#004aff" stroke="#003bcc"/>
<path d="M478.2 130.7l4 1.1 3.3-1.2-4-1z" fill="#0084ff" stroke="#0069cc"/>
<path d="M523 133l0 0 3.2-0.8-0.1 0z" fill="#0061ff" stroke="#004dcc"/>
<path d="M523 133l1.1 0.3 3.1-0.8-1-0.3z" fill="#0060ff" stroke="#004ccc"/>
<path d="M470.8 130.8l4 1 3.4-1.1-4-1.1z" fill="#0087ff" stroke="#006ccc"/>
<path d="M532.4 133.6l1.1-0.9 3.1 1.2-1.1-0.1z" fill="#05f" stroke="#04c"/>
<path d="M504.2 131.6l4.1 1.1 3.3-1.1-4.1-1.1z" fill="#07f" stroke="#005fcc"/>
<path d="M463.5 130.8l3.9 1.1 3.4-1.1-3.9-1.1z" fill="#008aff" stroke="#006ecc"/>
<path d="M524.1 133.3l1 0.4 3.1-0.8-1-0.4z" fill="#005dff" stroke="#004acc"/>
<path d="M515.7 132.8l0 0 3.2-1 0 0z" fill="#006eff" stroke="#0058cc"/>
<path d="M456.1 130.9l3.9 1 3.5-1.1-3.9-1.1z" fill="#008dff" stroke="#0070cc"/>
<path d="M515.7 132.8l1 0.3 3.2-1-1-0.3z" fill="#006dff" stroke="#0057cc"/>
<path d="M496.9 131.6l4.1 1.1 3.2-1.1-4-1.1z" fill="#007bff" stroke="#0062cc"/>
<path d="M525.1 133.7l1.1 0.3 3.1-0.8-1.1-0.3z" fill="#005bff" stroke="#0048cc"/>
<path d="M533.5 132.7l1.1-2.4 3.1 2.1-1.1 1.5z" fill="#007aff" stroke="#007aff"/>
<path d="M448.7 130.9l3.9 1.1 3.5-1.1-3.9-1.1z" fill="#0090ff" stroke="#0073cc"/>
<path d="M441.3 130.9l3.8 1.1 3.6-1.1-3.9-1.1z" fill="#0093ff" stroke="#0075cc"/>
<path d="M516.7 133.1l1.1 0.3 3.1-1-1-0.3z" fill="#006cff" stroke="#0056cc"/>
<path d="M489.5 131.7l4.1 1.1 3.3-1.2-4-1z" fill="#007eff" stroke="#0064cc"/>
<path d="M433.9 131l3.8 1.1 3.6-1.2-3.8-1.1z" fill="#0097ff" stroke="#0078cc"/>
<path d="M534.6 130.3l0 0.1 3.1 2 0 0z" fill="#0095ff" stroke="#0095ff"/>
<path d="M526.2 134l1 0 3.1-0.4-1-0.4z" fill="#005bff" stroke="#0048cc"/>
<path d="M527.2 134l0 0 3.1-0.4 0 0z" fill="#005bff" stroke="#0048cc"/>
<path d="M517.8 133.4l1 0.3 3.2-1-1.1-0.3z" fill="#006aff" stroke="#0054cc"/>
<path d="M482.2 131.8l4 1 3.3-1.1-4-1.1z" fill="#0081ff" stroke="#0067cc"/>
<path d="M527.2 134l1.1-0.5 3.1 0.4-1.1-0.3z" fill="#005fff" stroke="#004ccc"/>
<path d="M508.3 132.7l4.2 1.1 3.2-1-4.1-1.2z" fill="#0073ff" stroke="#005ccc"/>
<path d="M474.8 131.8l4 1.1 3.4-1.1-4-1.1z" fill="#0084ff" stroke="#0069cc"/>
<path d="M518.8 133.7l1 0.3 3.2-1-1-0.3z" fill="#0068ff" stroke="#0053cc"/>
<path d="M519.8 134l0.1 0 3.1-1 0 0z" fill="#0068ff" stroke="#0053cc"/>
<path d="M528.3 133.5l1.1-0.7 3 0.8-1 0.3z" fill="#006dff" stroke="#0057cc"/>
<path d="M467.4 131.9l4 1.1 3.4-1.2-4-1z" fill="#0087ff" stroke="#006ccc"/>
<path d="M519.9 134l1 0.3 3.2-1-1.1-0.3z" fill="#0067ff" stroke="#0052cc"/>
<path d="M501 132.7l4.1 1.1 3.2-1.1-4.1-1.1z" fill="#0078ff" stroke="#0060cc"/>
<path d="M460 131.9l3.9 1.1 3.5-1.1-3.9-1.1z" fill="#008aff" stroke="#006ecc"/>
<path d="M512.5 133.8l0 0 3.2-1 0 0z" fill="#0071ff" stroke="#005acc"/>
<path d="M520.9 134.3l1 0.2 3.2-0.8-1-0.4z" fill="#0065ff" stroke="#0050cc"/>
<path d="M452.6 132l3.9 1.1 3.5-1.2-3.9-1z" fill="#008dff" stroke="#0070cc"/>
<path d="M529.4 132.8l1.1-2.4 3 2.3-1.1 0.9z" fill="#0090ff" stroke="#0073cc"/>
<path d="M493.6 132.8l4.1 1 3.3-1.1-4.1-1.1z" fill="#007cff" stroke="#0063cc"/>
<path d="M512.5 133.8l1 0.3 3.2-1-1-0.3z" fill="#0070ff" stroke="#0059cc"/>
<path d="M445.1 132l3.9 1.1 3.6-1.1-3.9-1.1z" fill="#0090ff" stroke="#0073cc"/>
<path d="M437.7 132.1l3.8 1.1 3.6-1.2-3.8-1.1z" fill="#0093ff" stroke="#0075cc"/>
<path d="M521.9 134.5l1.1-0.3 3.2-0.2-1.1-0.3z" fill="#0068ff" stroke="#0053cc"/>
<path d="M486.2 132.8l4.1 1.1 3.3-1.1-4.1-1.1z" fill="#007fff" stroke="#0065cc"/>
<path d="M513.5 134.1l1.1 0.3 3.2-1-1.1-0.3z" fill="#006fff" stroke="#0058cc"/>
<path d="M530.5 130.4l1.1-1.9 3 1.8-1.1 2.4z" fill="#00c7ff" stroke="#00c7ff"/>
<path d="M523 134.2l1.1-0.5 3.1 0.3-1 0z" fill="#0071ff" stroke="#005acc"/>
<path d="M478.8 132.9l4 1.1 3.4-1.2-4-1z" fill="#0081ff" stroke="#0067cc"/>
<path d="M514.6 134.4l1 0.3 3.2-1-1-0.3z" fill="#006eff" stroke="#0058cc"/>
<path d="M524.1 133.7l0 0 3.1 0.3 0 0z" fill="#0078ff" stroke="#0060cc"/>
<path d="M471.4 133l4 1 3.4-1.1-4-1.1z" fill="#0084ff" stroke="#0069cc"/>
<path d="M531.6 128.5l0 0 3 1.9 0-0.1z" fill="#00e5ff" stroke="#00e5ff"/>
<path d="M505.1 133.8l4.1 1.1 3.3-1.1-4.2-1.1z" fill="#0074ff" stroke="#005ccc"/>
<path d="M515.6 134.7l1 0.3 3.2-1-1-0.3z" fill="#006cff" stroke="#0056cc"/>
<path d="M524.1 133.7l1.1-0.8 3.1 0.6-1.1 0.5z" fill="#0083ff" stroke="#0068cc"/>
<path d="M463.9 133l4 1.1 3.5-1.1-4-1.1z" fill="#0087ff" stroke="#006ccc"/>
<path d="M516.6 135l0.1 0 3.2-1-0.1 0z" fill="#006cff" stroke="#0056cc"/>
<path d="M456.5 133.1l3.9 1.1 3.5-1.2-3.9-1.1z" fill="#008aff" stroke="#006ecc"/>
<path d="M497.7 133.8l4.1 1.1 3.3-1.1-4.1-1.1z" fill="#0079ff" stroke="#0060cc"/>
<path d="M516.7 135l1-0.1 3.2-0.6-1-0.3z" fill="#006dff" stroke="#0057cc"/>
<path d="M525.2 132.9l1-1.4 3.2 1.3-1.1 0.7z" fill="#009fff" stroke="#007fcc"/>
<path d="M449 133.1l3.9 1.1 3.6-1.1-3.9-1.1z" fill="#008dff" stroke="#0070cc"/>
<path d="M509.2 134.9l0 0 3.3-1.1 0 0z" fill="#0073ff" stroke="#005ccc"/>
<path d="M441.5 133.2l3.9 1.1 3.6-1.2-3.9-1.1z" fill="#0090ff" stroke="#0073cc"/>
<path d="M490.3 133.9l4 1.1 3.4-1.2-4.1-1z" fill="#007cff" stroke="#0063cc"/>
<path d="M517.7 134.9l1.1-0.4 3.1 0-1-0.2z" fill="#0073ff" stroke="#005ccc"/>
<path d="M509.2 134.9l1.1 0.3 3.2-1.1-1-0.3z" fill="#0072ff" stroke="#005bcc"/>
<path d="M482.8 134l4.1 1.1 3.4-1.2-4.1-1.1z" fill="#007fff" stroke="#0065cc"/>
<path d="M518.8 134.5l1-0.6 3.2 0.3-1.1 0.3z" fill="#0080ff" stroke="#06c"/>
<path d="M510.3 135.2l1 0.3 3.3-1.1-1.1-0.3z" fill="#0071ff" stroke="#005acc"/>
<path d="M526.2 131.5l1.2-3.2 3.1 2.1-1.1 2.4z" fill="#00d6ff" stroke="#00d6ff"/>
<path d="M475.4 134l4 1.1 3.4-1.1-4-1.1z" fill="#0081ff" stroke="#0067cc"/>
<path d="M511.3 135.5l1.1 0.1 3.2-0.9-1-0.3z" fill="#0071ff" stroke="#005acc"/>
<path d="M519.8 133.9l1.1-0.8 3.2 0.6-1.1 0.5z" fill="#0095ff" stroke="#07c"/>
<path d="M467.9 134.1l4 1.1 3.5-1.2-4-1z" fill="#0084ff" stroke="#0069cc"/>
<path d="M501.8 134.9l4.1 1.1 3.3-1.1-4.1-1.1z" fill="#0076ff" stroke="#005ecc"/>
<path d="M520.9 133.1l0 0 3.2 0.6 0 0z" fill="#00a1ff" stroke="#0080cc"/>
<path d="M460.4 134.2l4 1.1 3.5-1.2-4-1.1z" fill="#0087ff" stroke="#006ccc"/>
<path d="M527.4 128.3l1.1-1.5 3.1 1.7-1.1 1.9z" fill="#16ffe9" stroke="#16ffe9"/>
<path d="M512.4 135.6l1-0.2 3.2-0.4-1-0.3z" fill="#0075ff" stroke="#005dcc"/>
<path d="M452.9 134.2l4 1.2 3.5-1.2-3.9-1.1z" fill="#008aff" stroke="#006ecc"/>
<path d="M513.4 135.4l0 0 3.3-0.4-0.1 0z" fill="#0078ff" stroke="#0060cc"/>
<path d="M520.9 133.1l1.1-0.8 3.2 0.6-1.1 0.8z" fill="#00afff" stroke="#008ccc"/>
<path d="M494.3 135l4.2 1.1 3.3-1.2-4.1-1.1z" fill="#0079ff" stroke="#0060cc"/>
<path d="M528.5 126.8l0 0 3.1 1.7 0 0z" fill="#2effd1" stroke="#2effd1"/>
<path d="M445.4 134.3l3.9 1.1 3.6-1.2-3.9-1.1z" fill="#008dff" stroke="#0070cc"/>
<path d="M513.4 135.4l1.1-0.5 3.2 0-1 0.1z" fill="#007eff" stroke="#0064cc"/>
<path d="M505.9 136l0.1 0.1 3.2-1.2 0 0z" fill="#0074ff" stroke="#005ccc"/>
<path d="M486.9 135.1l4.1 1 3.3-1.1-4-1.1z" fill="#007cff" stroke="#0063cc"/>
<path d="M506 136.1l1 0.2 3.3-1.1-1.1-0.3z" fill="#0074ff" stroke="#005ccc"/>
<path d="M522 132.3l1.1-2.7 3.1 1.9-1 1.4z" fill="#00d9ff" stroke="#00d9ff"/>
<path d="M514.5 134.9l1.1-0.7 3.2 0.3-1.1 0.4z" fill="#008fff" stroke="#0072cc"/>
<path d="M479.4 135.1l4.1 1.1 3.4-1.1-4.1-1.1z" fill="#007fff" stroke="#0065cc"/>
<path d="M507 136.3l1-0.1 3.3-0.7-1-0.3z" fill="#0076ff" stroke="#005ecc"/>
<path d="M471.9 135.2l4.1 1.1 3.4-1.2-4-1.1z" fill="#0081ff" stroke="#0067cc"/>
<path d="M515.6 134.2l1-0.8 3.2 0.5-1 0.6z" fill="#00a5ff" stroke="#0084cc"/>
<path d="M464.4 135.3l4 1.1 3.5-1.2-4-1.1z" fill="#0084ff" stroke="#0069cc"/>
<path d="M508 136.2l1.1-0.4 3.3-0.2-1.1-0.1z" fill="#007dff" stroke="#0064cc"/>
<path d="M523.1 129.6l1.1-3.3 3.2 2-1.2 3.2z" fill="#21ffde" stroke="#21ffde"/>
<path d="M498.5 136.1l4.1 0.8 3.3-0.9-4.1-1.1z" fill="#0078ff" stroke="#0060cc"/>
<path d="M456.9 135.4l4 1.1 3.5-1.2-4-1.1z" fill="#0087ff" stroke="#006ccc"/>
<path d="M516.6 133.4l1.1-0.7 3.2 0.4-1.1 0.8z" fill="#00beff" stroke="#0098cc"/>
<path d="M449.3 135.4l4 1.1 3.6-1.1-4-1.2z" fill="#008aff" stroke="#006ecc"/>
<path d="M509.1 135.8l1.1-0.5 3.2 0.1-1 0.2z" fill="#008aff" stroke="#006ecc"/>
<path d="M517.7 132.7l0 0 3.2 0.4 0 0z" fill="#00cbff" stroke="#00a2cc"/>
<path d="M491 136.1l4.1 1.1 3.4-1.1-4.2-1.1z" fill="#007aff" stroke="#0061cc"/>
<path d="M510.2 135.3l0 0 3.2 0.1 0 0z" fill="#0092ff" stroke="#0074cc"/>
<path d="M524.2 126.3l1.1-1.2 3.2 1.7-1.1 1.5z" fill="#5dffa2" stroke="#5dffa2"/>
<path d="M517.7 132.7l1.1-1.9 3.2 1.5-1.1 0.8z" fill="#00dfff" stroke="#00b2cc"/>
<path d="M510.2 135.3l1-0.7 3.3 0.3-1.1 0.5z" fill="#009dff" stroke="#007dcc"/>
<path d="M483.5 136.2l4.1 1.1 3.4-1.2-4.1-1z" fill="#007dff" stroke="#0064cc"/>
<path d="M502.6 136.9l0 0 3.4-0.8-0.1-0.1z" fill="#0078ff" stroke="#0060cc"/>
<path d="M525.3 125.1l0 0 3.2 1.7 0 0z" fill="#70ff8f" stroke="#70ff8f"/>
<path d="M502.6 136.9l1.1-0.2 3.3-0.4-1-0.2z" fill="#007cff" stroke="#0063cc"/>
<path d="M476 136.3l4 1.1 3.5-1.2-4.1-1.1z" fill="#007fff" stroke="#0065cc"/>
<path d="M511.2 134.6l1.1-0.8 3.3 0.4-1.1 0.7z" fill="#00b4ff" stroke="#0090cc"/>
<path d="M468.4 136.4l4.1 1.1 3.5-1.2-4.1-1.1z" fill="#0082ff" stroke="#0068cc"/>
<path d="M503.7 136.7l1.1-0.4 3.2-0.1-1 0.1z" fill="#0086ff" stroke="#006bcc"/>
<path d="M518.8 130.8l1.1-3.3 3.2 2.1-1.1 2.7z" fill="#1cffe3" stroke="#1cffe3"/>
<path d="M460.9 136.5l4 1.1 3.5-1.2-4-1.1z" fill="#0084ff" stroke="#0069cc"/>
<path d="M512.3 133.8l1.1-0.9 3.2 0.5-1 0.8z" fill="#00ceff" stroke="#00a4cc"/>
<path d="M453.3 136.5l4 1.2 3.6-1.2-4-1.1z" fill="#0087ff" stroke="#006ccc"/>
<path d="M504.8 136.3l1-0.6 3.3 0.1-1.1 0.4z" fill="#0096ff" stroke="#0078cc"/>
<path d="M495.1 137.2l4.2 0 3.3-0.3-4.1-0.8z" fill="#0080ff" stroke="#06c"/>
<path d="M519.9 127.5l1.2-3 3.1 1.8-1.1 3.3z" fill="#6aff95" stroke="#6aff95"/>
<path d="M487.6 137.3l4.1 1.1 3.4-1.2-4.1-1.1z" fill="#007aff" stroke="#0061cc"/>
<path d="M513.4 132.9l1.1-1.1 3.2 0.9-1.1 0.7z" fill="#00eaff" stroke="#0bc"/>
<path d="M505.8 135.7l1.1-0.7 3.3 0.3-1.1 0.5z" fill="#0af" stroke="#08c"/>
<path d="M514.5 131.8l0 0 3.2 0.9 0 0z" fill="#00f8ff" stroke="#00c6cc"/>
<path d="M480 137.4l4.1 1.1 3.5-1.2-4.1-1.1z" fill="#007dff" stroke="#0064cc"/>
<path d="M506.9 135l0 0 3.3 0.3 0 0z" fill="#00b5ff" stroke="#0090cc"/>
<path d="M499.3 137.2l0 0 3.3-0.3 0 0z" fill="#08f" stroke="#006ccc"/>
<path d="M506.9 135l1-0.8 3.3 0.4-1 0.7z" fill="#00c2ff" stroke="#009bcc"/>
<path d="M472.5 137.5l4 1.1 3.5-1.2-4-1.1z" fill="#007fff" stroke="#0065cc"/>
<path d="M514.5 131.8l1.1-2.8 3.2 1.8-1.1 1.9z" fill="#19ffe6" stroke="#19ffe6"/>
<path d="M521.1 124.5l1.1-1 3.1 1.6-1.1 1.2z" fill="#a1ff5e" stroke="#a1ff5e"/>
<path d="M499.3 137.2l1.1-0.5 3.3 0-1.1 0.2z" fill="#0090ff" stroke="#0073cc"/>
<path d="M464.9 137.6l4 1.1 3.6-1.2-4.1-1.1z" fill="#0082ff" stroke="#0068cc"/>
<path d="M522.2 123.5l0 0 3.1 1.6 0 0z" fill="#b1ff4e" stroke="#b1ff4e"/>
<path d="M457.3 137.7l4 1.1 3.6-1.2-4-1.1z" fill="#0084ff" stroke="#0069cc"/>
<path d="M507.9 134.2l1.1-0.9 3.3 0.5-1.1 0.8z" fill="#00dcff" stroke="#00b0cc"/>
<path d="M500.4 136.7l1-0.6 3.4 0.2-1.1 0.4z" fill="#00a1ff" stroke="#0080cc"/>
<path d="M515.6 129l1.1-3.5 3.2 2-1.1 3.3z" fill="#62ff9d" stroke="#62ff9d"/>
<path d="M491.7 138.4l4.2-1.2 3.4 0-4.2 0z" fill="#008eff" stroke="#0071cc"/>
<path d="M509 133.3l1.1-0.7 3.3 0.3-1.1 0.9z" fill="#00f7ff" stroke="#00c5cc"/>
<path d="M501.4 136.1l1.1-0.7 3.3 0.3-1 0.6z" fill="#00b7ff" stroke="#0092cc"/>
<path d="M484.1 138.5l4.2 0.5 3.4-0.6-4.1-1.1z" fill="#007eff" stroke="#0064cc"/>
<path d="M476.5 138.6l4.2 1.1 3.4-1.2-4.1-1.1z" fill="#007dff" stroke="#0064cc"/>
<path d="M502.5 135.4l1-0.8 3.4 0.4-1.1 0.7z" fill="#00ceff" stroke="#00a4cc"/>
<path d="M510.1 132.6l1.1-2.3 3.3 1.5-1.1 1.1z" fill="#1bffe4" stroke="#1bffe4"/>
<path d="M516.7 125.5l1.1-2.7 3.3 1.7-1.2 3z" fill="#b1ff4e" stroke="#b1ff4e"/>
<path d="M468.9 138.7l4.1 1.1 3.5-1.2-4-1.1z" fill="#007fff" stroke="#0065cc"/>
<path d="M503.5 134.6l0 0 3.4 0.4 0 0z" fill="#00dbff" stroke="#00afcc"/>
<path d="M495.9 137.2l0 0 3.4 0 0 0z" fill="#00a3ff" stroke="#0082cc"/>
<path d="M511.2 130.3l0 0 3.3 1.5 0 0z" fill="#31ffce" stroke="#31ffce"/>
<path d="M461.3 138.8l4.1 1.1 3.5-1.2-4-1.1z" fill="#0082ff" stroke="#0068cc"/>
<path d="M503.5 134.6l1.1-0.9 3.3 0.5-1 0.8z" fill="#00e9ff" stroke="#00bacc"/>
<path d="M495.9 137.2l1.1-0.6 3.4 0.1-1.1 0.5z" fill="#00adff" stroke="#008acc"/>
<path d="M511.2 130.3l1.1-3.3 3.3 2-1.1 2.8z" fill="#58ffa7" stroke="#58ffa7"/>
<path d="M517.8 122.8l1.1-0.9 3.3 1.6-1.1 1z" fill="#e3ff1c" stroke="#e3ff1c"/>
<path d="M504.6 133.7l1.1-0.6 3.3 0.2-1.1 0.9z" fill="#04fffb" stroke="#03ccc8"/>
<path d="M497 136.6l1-0.7 3.4 0.2-1 0.6z" fill="#00c3ff" stroke="#009ccc"/>
<path d="M518.9 121.9l0 0 3.3 1.6 0 0z" fill="#f0ff0f" stroke="#f0ff0f"/>
<path d="M488.3 139l4.2-1.9 3.4 0.1-4.2 1.2z" fill="#00a2ff" stroke="#0081cc"/>
<path d="M480.7 139.7l4.1-0.5 3.5-0.2-4.2-0.5z" fill="#08f" stroke="#006ccc"/>
<path d="M498 135.9l1.1-0.9 3.4 0.4-1.1 0.7z" fill="#00dbff" stroke="#00afcc"/>
<path d="M505.7 133.1l1.1-1.6 3.3 1.1-1.1 0.7z" fill="#21ffde" stroke="#1accb1"/>
<path d="M512.3 127l1.2-3.5 3.2 2-1.1 3.5z" fill="#af5" stroke="#af5"/>
<path d="M473 139.8l4.2 0.9 3.5-1-4.2-1.1z" fill="#007eff" stroke="#0064cc"/>
<path d="M465.4 139.9l4.1 1.1 3.5-1.2-4.1-1.1z" fill="#007fff" stroke="#0065cc"/>
<path d="M499.1 135l1.1-0.8 3.3 0.4-1 0.8z" fill="#00f6ff" stroke="#00c4cc"/>
<path d="M506.8 131.5l1.1-3 3.3 1.8-1.1 2.3z" fill="#52ffad" stroke="#52ffad"/>
<path d="M492.5 137.1l0-0.1 3.4 0.2 0 0z" fill="#00c3ff" stroke="#009ccc"/>
<path d="M500.2 134.2l0-0.1 3.3 0.5 0 0z" fill="#04fffb" stroke="#03ccc8"/>
<path d="M513.5 123.5l1.1-2.4 3.2 1.7-1.1 2.7z" fill="#f6ff09" stroke="#f6ff09"/>
<path d="M492.5 137l1.1-0.7 3.4 0.3-1.1 0.6z" fill="#00cfff" stroke="#00a5cc"/>
<path d="M500.2 134.1l1.1-0.7 3.3 0.3-1.1 0.9z" fill="#1fe" stroke="#0dccbe"/>
<path d="M507.9 128.5l0 0 3.3 1.8 0 0z" fill="#73ff8c" stroke="#73ff8c"/>
<path d="M507.9 128.5l1.1-3.5 3.3 2-1.1 3.3z" fill="#9eff61" stroke="#9eff61"/>
<path d="M514.6 121.1l1.1-0.8 3.2 1.6-1.1 0.9z" fill="#ffe600" stroke="#ffe600"/>
<path d="M493.6 136.3l1-0.8 3.4 0.4-1 0.7z" fill="#00e7ff" stroke="#00b8cc"/>
<path d="M501.3 133.4l1-1 3.4 0.7-1.1 0.6z" fill="#2affd5" stroke="#21ccaa"/>
<path d="M515.7 120.3l0 0 3.2 1.6 0 0z" fill="#fd0" stroke="#fd0"/>
<path d="M484.8 139.2l4.2-2.4 3.5 0.3-4.2 1.9z" fill="#00beff" stroke="#0098cc"/>
<path d="M477.2 140.7l4.1-1.4 3.5-0.1-4.1 0.5z" fill="#0098ff" stroke="#0079cc"/>
<path d="M469.5 141l4.1 0.1 3.6-0.4-4.2-0.9z" fill="#0085ff" stroke="#006acc"/>
<path d="M494.6 135.5l1.1-0.9 3.4 0.4-1.1 0.9z" fill="#03fffc" stroke="#02ccc9"/>
<path d="M502.3 132.4l1.1-2.5 3.4 1.6-1.1 1.6z" fill="#51ffae" stroke="#51ffae"/>
<path d="M509 125l1.1-3.3 3.4 1.8-1.2 3.5z" fill="#f2ff0d" stroke="#f2ff0d"/>
<path d="M495.7 134.6l1.1-0.9 3.4 0.5-1.1 0.8z" fill="#1dffe2" stroke="#17ccb4"/>
<path d="M489 136.8l0.1 0 3.4 0.2 0 0.1z" fill="#00e6ff" stroke="#00b8cc"/>
<path d="M496.8 133.7l0 0 3.4 0.4 0 0.1z" fill="#2bffd4" stroke="#22cca9"/>
<path d="M503.4 129.9l1.1-3.3 3.4 1.9-1.1 3z" fill="#92ff6d" stroke="#92ff6d"/>
<path d="M489.1 136.8l1-0.8 3.5 0.3-1.1 0.7z" fill="#00f3ff" stroke="#00c2cc"/>
<path d="M496.8 133.7l1-0.6 3.5 0.3-1.1 0.7z" fill="#35ffca" stroke="#2acca1"/>
<path d="M510.1 121.7l1.2-2.3 3.3 1.7-1.1 2.4z" fill="#ffd600" stroke="#ffd600"/>
<path d="M504.5 126.6l0 0 3.4 1.9 0 0z" fill="#b9ff46" stroke="#b9ff46"/>
<path d="M490.1 136l1.1-0.9 3.4 0.4-1 0.8z" fill="#0efff1" stroke="#0bccc0"/>
<path d="M497.8 133.1l1.1-2 3.4 1.3-1 1z" fill="#54ffab" stroke="#54ffab"/>
<path d="M511.3 119.4l1-0.6 3.4 1.5-1.1 0.8z" fill="#ffba00" stroke="#ffba00"/>
<path d="M473.6 141.1l4.2-1.9 3.5 0.1-4.1 1.4z" fill="#00aeff" stroke="#008bcc"/>
<path d="M481.3 139.3l4.2-2.8 3.5 0.3-4.2 2.4z" fill="#00deff" stroke="#00b1cc"/>
<path d="M504.5 126.6l1.2-3.6 3.3 2-1.1 3.5z" fill="#e5ff1a" stroke="#e5ff1a"/>
<path d="M512.3 118.8l0.1 0 3.3 1.5 0 0z" fill="#ffb200" stroke="#ffb200"/>
<path d="M491.2 135.1l1-1 3.5 0.5-1.1 0.9z" fill="#28ffd7" stroke="#20ccac"/>
<path d="M498.9 131.1l1.1-3 3.4 1.8-1.1 2.5z" fill="#8aff75" stroke="#8aff75"/>
<path d="M492.2 134.1l1.1-0.5 3.5 0.1-1.1 0.9z" fill="#41ffbe" stroke="#34cc98"/>
<path d="M505.7 123l1.1-3.2 3.3 1.9-1.1 3.3z" fill="#ffd700" stroke="#ffd700"/>
<path d="M485.5 136.5l0.1 0 3.5 0.3-0.1 0z" fill="#0cfff3" stroke="#09ccc2"/>
<path d="M493.3 133.6l0 0 3.5 0.1 0 0z" fill="#4cffb3" stroke="#3ccc8f"/>
<path d="M485.6 136.5l1-0.9 3.5 0.4-1 0.8z" fill="#19ffe6" stroke="#14ccb8"/>
<path d="M493.3 133.6l1.1-1.5 3.4 1-1 0.6z" fill="#5bffa4" stroke="#48cc83"/>
<path d="M500 128.1l1.1-3.5 3.4 2-1.1 3.3z" fill="#d7ff28" stroke="#d7ff28"/>
<path d="M506.8 119.8l1.1-2.1 3.4 1.7-1.2 2.3z" fill="#ffa800" stroke="#ffa800"/>
<path d="M486.6 135.6l1.1-1 3.5 0.5-1.1 0.9z" fill="#3fc" stroke="#28cca3"/>
<path d="M501.1 124.6l0.1 0 3.3 2 0 0z" fill="#fffd00" stroke="#fffd00"/>
<path d="M477.8 139.2l4.2-3.1 3.5 0.4-4.2 2.8z" fill="#02fffd" stroke="#01ccca"/>
<path d="M494.4 132.1l1.1-2.6 3.4 1.6-1.1 2z" fill="#87ff78" stroke="#87ff78"/>
<path d="M507.9 117.7l1.1-0.5 3.3 1.6-1 0.6z" fill="#ff8e00" stroke="#ff8e00"/>
<path d="M501.2 124.6l1.1-3.6 3.4 2-1.2 3.6z" fill="#ffdf00" stroke="#ffdf00"/>
<path d="M487.7 134.6l1.1-0.6 3.4 0.1-1 1z" fill="#4cffb3" stroke="#3ccc8f"/>
<path d="M509 117.2l0 0 3.4 1.6-0.1 0z" fill="#ff8700" stroke="#ff8700"/>
<path d="M495.5 129.5l1.1-3.3 3.4 1.9-1.1 3z" fill="#cbff34" stroke="#cbff34"/>
<path d="M488.8 134l1-1 3.5 0.6-1.1 0.5z" fill="#64ff9b" stroke="#50cc7c"/>
<path d="M482 136.1l0 0 3.6 0.4-0.1 0z" fill="#30ffcf" stroke="#26cca5"/>
<path d="M502.3 121l1.1-3 3.4 1.8-1.1 3.2z" fill="#ffa600" stroke="#ffa600"/>
<path d="M489.8 133l0 0 3.5 0.6 0 0z" fill="#70ff8f" stroke="#70ff8f"/>
<path d="M482 136.1l1.1-1 3.5 0.5-1 0.9z" fill="#3effc1" stroke="#31cc9a"/>
<path d="M489.8 133l1.1-2.2 3.5 1.3-1.1 1.5z" fill="#8f7" stroke="#8f7"/>
<path d="M496.6 126.2l1.1-3.7 3.4 2.1-1.1 3.5z" fill="#ffea00" stroke="#ffea00"/>
<path d="M483.1 135.1l1-0.8 3.6 0.3-1.1 1z" fill="#58ffa7" stroke="#46cc85"/>
<path d="M503.4 118l1.1-1.9 3.4 1.6-1.1 2.1z" fill="#ff7b00" stroke="#ff7b00"/>
<path d="M497.7 122.5l0 0 3.5 2.1-0.1 0z" fill="#ffcb00" stroke="#ffcb00"/>
<path d="M490.9 130.8l1.1-3.1 3.5 1.8-1.1 2.6z" fill="#c2ff3d" stroke="#c2ff3d"/>
<path d="M484.1 134.3l1.1-0.6 3.6 0.3-1.1 0.6z" fill="#6fff90" stroke="#58cc73"/>
<path d="M504.5 116.1l1.1-0.5 3.4 1.6-1.1 0.5z" fill="#ff6300" stroke="#ff6300"/>
<path d="M497.7 122.5l1.1-3.5 3.5 2-1.1 3.6z" fill="#ffad00" stroke="#ffad00"/>
<path d="M505.6 115.6l0 0 3.4 1.6 0 0z" fill="#ff5d00" stroke="#ff5d00"/>
<path d="M485.2 133.7l1.1-1.8 3.5 1.1-1 1z" fill="#8cff73" stroke="#8cff73"/>
<path d="M492 127.7l1.1-3.5 3.5 2-1.1 3.3z" fill="#fff400" stroke="#fff400"/>
<path d="M486.3 131.9l0 0 3.5 1.1 0 0z" fill="#9fff60" stroke="#9fff60"/>
<path d="M498.8 119l1.1-2.8 3.5 1.8-1.1 3z" fill="#f70" stroke="#f70"/>
<path d="M486.3 131.9l1.1-2.7 3.5 1.6-1.1 2.2z" fill="#bdff42" stroke="#bdff42"/>
<path d="M493.1 124.2l1.1-3.7 3.5 2-1.1 3.7z" fill="#ffb800" stroke="#ffb800"/>
<path d="M499.9 116.2l1.2-1.7 3.4 1.6-1.1 1.9z" fill="#ff4e00" stroke="#ff4e00"/>
<path d="M494.2 120.5l0 0 3.5 2 0 0z" fill="#f90" stroke="#f90"/>
<path d="M487.4 129.2l1.1-3.4 3.5 1.9-1.1 3.1z" fill="#fffc00" stroke="#fffc00"/>
<path d="M501.1 114.5l1.1-0.5 3.4 1.6-1.1 0.5z" fill="#ff3800" stroke="#ff3800"/>
<path d="M494.2 120.5l1.1-3.4 3.5 1.9-1.1 3.5z" fill="#ff7c00" stroke="#ff7c00"/>
<path d="M502.2 114l0 0 3.4 1.6 0 0z" fill="#f30" stroke="#f30"/>
<path d="M488.5 125.8l1.1-3.7 3.5 2.1-1.1 3.5z" fill="#ffc300" stroke="#ffc300"/>
<path d="M495.3 117.1l1.2-2.6 3.4 1.7-1.1 2.8z" fill="#ff4800" stroke="#ff4800"/>
<path d="M489.6 122.1l1.1-3.6 3.5 2-1.1 3.7z" fill="#ff8600" stroke="#ff8600"/>
<path d="M496.5 114.5l1.1-1.7 3.5 1.7-1.2 1.7z" fill="#f20" stroke="#f20"/>
<path d="M490.7 118.5l0 0 3.5 2 0 0z" fill="#ff6700" stroke="#ff6700"/>
<path d="M497.6 112.8l1.1-0.4 3.5 1.6-1.1 0.5z" fill="#ff0e00" stroke="#ff0e00"/>
<path d="M490.7 118.5l1.1-3.3 3.5 1.9-1.1 3.4z" fill="#ff4c00" stroke="#ff4c00"/>
<path d="M498.7 112.4l0 0 3.5 1.6 0 0z" fill="#ff0900" stroke="#ff0900"/>
<path d="M491.8 115.2l1.1-2.5 3.6 1.8-1.2 2.6z" fill="#ff1a00" stroke="#ff1a00"/>
<path d="M492.9 112.7l1.1-1.5 3.6 1.6-1.1 1.7z" fill="#f00" stroke="#f00"/>
<path d="M494 111.2l1.1-0.4 3.6 1.6-1.1 0.4z" fill="#f00" stroke="#f00"/>
<path d="M495.1 110.8l0 0 3.6 1.6 0 0z" fill="#f00" stroke="#f00"/>
</g>
<path d="M579.9 117.5L579.8 117.1M580.1 119.7L580.1 118.6M580.1 118.6L579.9 117.5M579.4 122.2L579.8 121.5M579.8 121.5L580.1 120M580.1 120L580.1 119.7M579.4 122.2L579.4 122.2M579 123L579.1 122.8M579.1 122.8L579.4 122.2M578.4 123.8L579 123M577.7 124.7L578.1 124.1M578.1 124.1L578.4 123.8M576.7 125.6L576.9 125.4M576.9 125.4L577.7 124.7M576.7 125.6L576.7 125.6M575.6 126.6L576.7 125.6M574.4 127.7L575.6 126.7M575.6 126.7L575.6 126.6M573.2 128.8L574.1 128M574.1 128L574.4 127.7M572.1 129.8L572.7 129.3M572.7 129.3L573.2 128.8M572.1 129.8L572.1 129.8M571.1 130.8L571.3 130.6M571.3 130.6L572.1 129.8M570.3 131.7L571.1 130.8M569.7 132.6L570.1 132M570.1 132L570.3 131.7M569.1 133.4L569.1 133.4M569.1 133.4L569.7 132.6M569.1 133.4L569.1 133.4M561.3 108.9L561.3 108.6M561.4 110.9L561.4 110M561.4 110L561.3 108.9M561.2 113.1L561.2 112.8M561.2 112.8L561.4 111.4M561.4 111.4L561.4 110.9M560.3 115.5L560.9 114.2M560.9 114.2L561.2 113.1M558.6 118.3L558.7 118.2M558.7 118.2L559.6 116.8M559.6 116.8L560.3 115.5M560.3 115.5L560.3 115.5M556.3 121.4L556.7 120.8M556.7 120.8L557.7 119.5M557.7 119.5L558.6 118.3M554.3 124.4L554.7 123.5M554.7 123.5L555.7 122.2M555.7 122.2L556.3 121.4M553.1 127.2L553.3 126.5M553.3 126.5L553.9 125M553.9 125L554.3 124.4M553.1 127.2L553.1 127.2M552.9 127.8L553.1 127.2M552.8 128.5L552.9 128M552.9 128L552.9 127.8M552.8 129.1L552.8 128.5M552.8 129.7L552.8 129.7M552.8 129.7L552.8 129.1M552.8 129.7L552.8 129.7M552.8 130.3L552.8 129.7M552.9 130.9L552.8 130.3M553 131.5L553 131.4M553 131.4L552.9 130.9M553.1 132L553 131.5M553.1 132L553.1 132M553.3 132.6L553.1 132M553.5 133.1L553.3 132.6M553.7 133.7L553.5 133.3M553.5 133.3L553.5 133.1M554 134.2L553.7 133.7M554 134.2L554 134.2M542.6 100.8L542.7 100.2M542.4 102.7L542.6 101.5M542.6 101.5L542.6 100.8M542 104.8L542.1 104.2M542.1 104.2L542.4 102.9M542.4 102.9L542.4 102.7M541.2 107L541.3 106.8M541.3 106.8L541.8 105.5M541.8 105.5L542 104.8M539.9 109.4L540.6 108.1M540.6 108.1L541.2 107M538.1 112L538.2 112M538.2 112L539 110.7M539 110.7L539.9 109.4M539.9 109.4L539.9 109.4M536 114.8L536.2 114.6M536.2 114.6L537.1 113.2M537.1 113.2L538.1 112M534.3 117.5L534.4 117.3M534.4 117.3L535.2 115.9M535.2 115.9L536 114.8M533.2 120.1L533.6 118.7M533.6 118.7L534.3 117.5M532.9 122.4L532.8 121.8M532.8 121.8L533.1 120.2M533.1 120.2L533.2 120.1M533.2 124.6L532.9 123.5M532.9 123.5L532.9 122.4M533.9 126.7L533.3 125.3M533.3 125.3L533.2 124.6M535.1 128.6L534.2 127.2M534.2 127.2L533.9 126.7M535.1 128.6L535.1 128.6M535.4 129.1L535.1 128.6M535.7 129.6L535.5 129.2M535.5 129.2L535.4 129.1M536.1 130.1L535.7 129.6M536.4 130.6L536.1 130.1M536.4 130.6L536.4 130.6M536.8 131L536.4 130.6M537.2 131.5L537.1 131.4M537.1 131.4L536.8 131M537.6 132L537.2 131.5M538 132.5L537.6 132M538 132.5L538 132.5M538.4 132.9L538 132.5M538.8 133.4L538.4 132.9M539.3 133.9L539 133.6M539 133.6L538.8 133.4M540.4 134.1L539.3 133.9M540.4 134.1L540.4 134.1M512.5 93.1L513.4 92.6M513.4 92.6L515 91.6M515 91.6L516.4 90.6M486.5 102.4L486.7 102.3M486.7 102.3L489.5 101.5M489.5 101.5L492.4 100.6M492.4 100.6L495.2 99.7M495.2 99.7L497.9 98.9M497.9 98.9L500.5 98M500.5 98L503.1 97.2M503.1 97.2L505.5 96.3M505.5 96.3L507.7 95.4M507.7 95.4L509.8 94.5M509.8 94.5L511.7 93.5M511.7 93.5L512.5 93.1M414.1 125L417.7 124M417.7 124L421.3 122.9M421.3 122.9L424.9 121.9M424.9 121.9L428.4 120.8M428.4 120.8L431.9 119.8M431.9 119.8L435.3 118.8M435.3 118.8L438.8 117.8M438.8 117.8L442.1 116.8M442.1 116.8L445.5 115.8M445.5 115.8L448.8 114.8M448.8 114.8L452.1 113.8M452.1 113.8L455.2 112.8M455.2 112.8L458.3 111.8M458.3 111.8L461.3 110.8M461.3 110.8L464.2 109.8M464.2 109.8L467 108.9M467 108.9L469.8 107.9M469.8 107.9L472.6 106.9M472.6 106.9L475.4 106M475.4 106L478.2 105M478.2 105L481.1 104.1M481.1 104.1L483.9 103.2M483.9 103.2L486.5 102.4M475.2 140.4L480.4 139.6M480.4 139.6L482.9 139.3M485.6 138.8L482.9 139.3M485.6 138.8L490.6 138M490.6 138L495.9 137.2M495.9 137.2L496 137.2M496 137.2L496 137.2M499.2 136.7L496 137.2M500.9 136.4L499.2 136.7M500.9 136.4L502.5 136.2M505.6 135.7L502.5 136.2M505.9 135.6L505.6 135.7M505.9 135.6L508.8 135.1M508.8 135.1L508.8 135.1M510.8 134.8L508.8 135.1M510.8 134.8L512 134.6M515.1 134.2L512 134.6M515.8 134L515.1 134.2M515.8 134L518.2 133.7M520.7 133.3L518.2 133.7M520.7 133.3L521.3 133.2M521.3 133.2L521.3 133.2M524.3 132.7L521.3 133.2M525.5 132.5L524.3 132.7M525.5 132.5L527.7 132.1M529.9 131.6L527.7 132.1M529.9 131.6L531.7 131.3M534.4 130.8L531.7 131.3M534.4 130.8L535.1 130.7M535.1 130.7L535.1 130.7M362.2 107L365.9 106M365.9 106L369.5 105.1M369.5 105.1L373.1 104.2M373.1 104.2L376.7 103.3M376.7 103.3L380.2 102.4M380.2 102.4L383.7 101.6M383.7 101.6L387.2 100.7M387.2 100.7L390.6 99.8M390.6 99.8L394 99M394 99L397.4 98.1M397.4 98.1L400.7 97.3M400.7 97.3L404 96.4M404 96.4L407.3 95.6M407.3 95.6L410.5 94.8M410.5 94.8L413.8 94M413.8 94L417 93.2M417 93.2L420.1 92.4M420.1 92.4L423.3 91.6M423.3 91.6L426.4 90.8M426.4 90.8L429.5 90M429.5 90L432.5 89.2M432.5 89.2L435.5 88.5M435.5 88.5L438.5 87.7M438.5 87.7L441.5 87M441.5 87L444.5 86.2M444.5 86.2L447.4 85.5M447.4 85.5L450.3 84.7M450.3 84.7L453.2 84M453.2 84L456 83.3M456 83.3L458.9 82.6M458.9 82.6L461.7 81.9M461.7 81.9L464.5 81.2M464.5 81.2L467.2 80.5M467.2 80.5L469.9 79.8M469.9 79.8L472.7 79.1M472.7 79.1L475.3 78.4M481.7 136.3L482.7 136.2M482.8 136.1L482.7 136.2M486.3 135.5L482.8 136.1M486.7 135.5L486.3 135.5M486.7 135.5L489.9 134.9M491.7 134.6L489.9 134.9M491.7 134.6L493.5 134.3M496.6 133.8L493.5 134.3M496.6 133.8L497.1 133.7M497.1 133.7L497.1 133.7M500 133.3L497.1 133.7M501.7 133L500 133.3M501.7 133L503.7 132.6M506.4 132.1L503.7 132.6M506.4 132.1L507.8 131.8M510.8 131.2L507.8 131.8M510.8 131.2L512.3 130.9M512.3 130.9L512.3 130.9M515.1 130.2L512.3 130.9M515.1 130.2L517 129.8M519.3 129.3L517 129.8M519.3 129.3L521.8 128.7M523.5 128.4L521.8 128.7M523.5 128.4L526.5 127.7M527.9 127.5L526.5 127.7M527.9 127.5L529.4 127.3M529.4 127.3L529.4 127.3M486.4 131.7L490.8 130.8M490.9 130.7L490.8 130.8M490.9 130.7L495.4 129.8M495.4 129.8L495.8 129.7M499.8 128.8L495.8 129.7M499.8 128.8L500.9 128.6M504.1 127.8L500.9 128.6M504.1 127.8L506 127.4M506 127.4L506 127.4M508.4 126.9L506 127.4M508.4 126.9L511.2 126.3M512.7 125.9L511.2 126.3M512.7 125.9L516.2 125.2M516.9 125L516.2 125.2M516.9 125L520.6 124.3M521.4 124.2L520.6 124.3M521.4 124.2L523.1 124M523.1 124L523.1 124M488.3 126.3L489.1 126.2M492.7 125.4L489.1 126.2M492.7 125.4L494.5 125M497.1 124.4L494.5 125M497.1 124.4L499.9 123.8M499.9 123.8L499.9 123.8M501.5 123.5L499.9 123.8M501.5 123.5L505.1 122.7M505.8 122.5L505.1 122.7M505.8 122.5L510.1 121.6M510.2 121.6L510.1 121.6M510.2 121.6L514.1 120.8M515 120.8L514.1 120.8M515 120.8L516.4 120.7M516.4 120.7L516.4 120.7M490 120.9L493.5 120.1M493.5 120.1L493.5 120.1M494.4 119.9L493.5 120.1M494.4 119.9L498.8 119M498.8 119L498.8 119M498.8 119L503.4 118.1M503.4 118.1L503.5 118.1M507.3 117.4L503.5 118.1M508.6 117.4L507.3 117.4M508.6 117.4L509.3 117.3M509.3 117.3L509.3 117.3M491.7 115.4L492 115.3M496.4 114.5L492 115.3M496.4 114.5L496.5 114.5M500 114L496.5 114.5M502 113.9L500 114M502 113.9L502 113.9M517.9 132.4L517.1 132.5M522.3 131.5L520.9 131.8M522.3 131.5L525.2 130.9M526.6 130.6L525.2 130.9M526.6 130.6L529.7 129.9M530.9 129.7L529.7 129.9M530.9 129.7L533 129.3M533 129.3L533 129.3M506 132.6L504.8 132.9M510.5 131.7L508.8 132.1M510.5 131.7L513.1 131.2M513.1 131.2L513.1 131.2M514.9 130.8L513.1 131.2M514.9 130.8L517.7 130.2M519.1 129.9L517.7 130.2M519.1 129.9L522.5 129.1M523.3 129L522.5 129.1M523.3 129L527.1 128.1M527.6 128L527.1 128.1M527.6 128L530.1 127.7M530.1 127.7L530.1 127.7M489 133.8L488.2 134M491.8 133.3L491.8 133.3M493.8 132.9L491.8 133.3M498.4 132L495.9 132.5M498.4 132L500.3 131.6M502.9 131.1L500.3 131.6M502.9 131.1L505 130.6M507.3 130.1L505 130.6M507.3 130.1L509.8 129.6M509.8 129.6L509.8 129.6M511.6 129.2L509.8 129.6M511.6 129.2L514.8 128.5M515.8 128.2L514.8 128.5M515.8 128.2L519.7 127.4M520 127.3L519.7 127.4M520 127.3L524.2 126.4M524.2 126.4L524.3 126.4M527.1 126L524.3 126.4M527.1 126L527.1 126M486 132.3L487 132.1M487 132.1L487 132.1M490.6 131.4L487 132.1M490.6 131.4L491.8 131.1M495.1 130.4L491.8 131.1M495.1 130.4L496.7 130.1M499.6 129.4L496.7 130.1M499.6 129.4L501.7 129M503.9 128.5L501.7 129M503.9 128.5L506.7 127.9M506.7 127.8L506.7 127.9M508.2 127.5L506.7 127.8M508.2 127.5L511.9 126.7M512.5 126.6L511.9 126.7M512.5 126.6L516.7 125.6M516.7 125.6L516.9 125.6M521 124.7L516.9 125.6M521 124.7L521.3 124.7M523.9 124.4L521.3 124.7M523.9 124.4L523.9 124.4M487.2 129.7L488.1 129.5M491.7 128.7L488.1 129.5M491.7 128.7L493.2 128.4M496.1 127.8L493.2 128.4M496.1 127.8L498.5 127.2M500.5 126.8L498.5 127.2M500.5 126.8L503.7 126.1M503.7 126.1L503.7 126.1M504.8 125.8L503.7 126.1M504.8 125.8L508.9 124.9M509 124.9L508.9 124.9M509 124.9L513.3 124M513.3 124L513.9 123.8M517.7 123.1L513.9 123.8M517.7 123.1L518.2 123M520.6 122.7L518.2 123M520.6 122.7L520.6 122.7M488.1 127L489.9 126.6M492.5 126.1L489.9 126.6M492.5 126.1L495.3 125.4M496.9 125.1L495.3 125.4M496.9 125.1L500.6 124.3M500.7 124.3L500.6 124.3M501.3 124.1L500.7 124.3M501.3 124.1L505.6 123.2M505.6 123.2L505.9 123.1M509.9 122.3L505.9 123.1M509.9 122.3L510.8 122.1M514.4 121.4L510.8 122.1M514.4 121.4L515 121.3M517.3 121.1L515 121.3M517.3 121.1L517.3 121.1M488.9 124.3L492.1 123.6M493.4 123.4L492.1 123.6M493.4 123.4L497.5 122.4M497.6 122.4L497.5 122.4M497.8 122.4L497.6 122.4M497.8 122.4L502.1 121.5M502.1 121.5L502.8 121.3M506.5 120.5L502.8 121.3M506.5 120.5L507.7 120.3M511.1 119.7L507.7 120.3M511.1 119.7L511.6 119.6M513.8 119.4L511.6 119.6M513.8 119.4L513.8 119.4M489.7 121.6L494.2 120.6M494.2 120.6L494.4 120.6M494.4 120.6L494.4 120.6M498.6 119.7L494.4 120.6M498.6 119.7L499.6 119.5M503.1 118.8L499.6 119.5M503.1 118.8L504.4 118.5M507.8 117.9L504.4 118.5M507.8 117.9L508.2 117.9M510.3 117.8L508.2 117.9M510.3 117.8L510.3 117.8M490.6 118.9L491.1 118.7M491.2 118.7L491.1 118.7M495.1 117.9L491.2 118.7M495.1 117.9L496.3 117.7M499.6 117L496.3 117.7M499.6 117L501 116.8M504.4 116.2L501 116.8M504.4 116.2L504.6 116.2M506.7 116.1L504.6 116.2M506.7 116.1L506.7 116.1M491.5 116.1L493 115.8M496.1 115.3L493 115.8M496.1 115.3L497.5 115M501 114.5L497.5 115M501.1 114.4L501 114.5M501.1 114.4L503 114.4M503 114.4L503 114.4M492.6 113.5L493.9 113.2M497.3 112.7L493.9 113.2M497.9 112.7L497.3 112.7M497.9 112.7L499.3 112.7M499.3 112.7L499.3 112.7" fill="none" stroke="#000" stroke-opacity=".4" stroke-width=".4"/>
<g fill="none" stroke="#333" stroke-width=".9">
<path d="M364.2 194.7L357 33.9"/>
<path d="M364.2 194.7L494.1 240.4"/>
<path d="M494.1 240.4L597 187.6"/>
<path d="M364.2 194.7h3"/>
<path d="M363.5 179.5h1.6"/>
<path d="M362.8 164.1h1.6"/>
<path d="M362.1 148.5h1.6"/>
<path d="M361.4 132.8h1.6"/>
<path d="M360.7 116.8h3"/>
<path d="M360 100.6h1.6"/>
<path d="M359.2 84.3h1.6"/>
<path d="M358.5 67.7h1.6"/>
<path d="M357.8 50.9h1.6"/>
<path d="M357 33.9h3"/>
<path d="M364.2 194.7l0-3.2"/>
<path d="M494.1 240.4l0-3.2"/>
<path d="M380.5 200.4l0-2"/>
<path d="M511.1 231.6l0-2"/>
<path d="M397.5 206.4l0-3.2"/>
<path d="M527.3 223.3l0-3.2"/>
<path d="M415.2 212.6l0-2"/>
<path d="M542.6 215.5l0-2"/>
<path d="M433.7 219.1l0-3.2"/>
<path d="M557.2 208l0-3.2"/>
<path d="M453 225.9l0-2"/>
<path d="M571.1 200.9l0-2"/>
<path d="M473.1 233l0-3.2"/>
<path d="M584.4 194.1l0-3.2"/>
<path d="M494.1 240.4l0-2"/>
<path d="M597 187.6l0-2"/>
</g>
<g fill="none" stroke-linecap="butt">
<path d="M214.7 479.7L316.8 441.1" stroke="#e2e2e2" stroke-width="0.7"/>
<path d="M214.7 479.7L335.2 524" stroke="#e2e2e2" stroke-width="0.7"/>
<path d="M214.7 479.7L208.5 325.5" stroke="#e2e2e2" stroke-width="0.7"/>
<path d="M316.8 441.1L316.8 308" stroke="#e2e2e2" stroke-width="0.7"/>
<path d="M229.9 485.2L331.5 445.2" stroke="#e2e2e2" stroke-width="0.7"/>
<path d="M231.3 473.4L351.2 515.6" stroke="#e2e2e2" stroke-width="0.7"/>
<path d="M231.3 473.4L226.3 322.6" stroke="#e2e2e2" stroke-width="0.7"/>
<path d="M331.5 445.2L332.3 309.8" stroke="#e2e2e2" stroke-width="0.7"/>
<path d="M245.6 491L346.7 449.4" stroke="#e2e2e2" stroke-width="0.7"/>
<path d="M247.2 467.4L366.3 507.6" stroke="#e2e2e2" stroke-width="0.7"/>
<path d="M247.2 467.4L243.2 319.9" stroke="#e2e2e2" stroke-width="0.7"/>
<path d="M346.7 449.4L348.3 311.8" stroke="#e2e2e2" stroke-width="0.7"/>
<path d="M262 497.1L362.5 453.8" stroke="#e2e2e2" stroke-width="0.7"/>
<path d="M262.3 461.7L380.7 500" stroke="#e2e2e2" stroke-width="0.7"/>
<path d="M262.3 461.7L259.3 317.3" stroke="#e2e2e2" stroke-width="0.7"/>
<path d="M362.5 453.8L365 313.8" stroke="#e2e2e2" stroke-width="0.7"/>
<path d="M279.1 503.4L378.8 458.4" stroke="#e2e2e2" stroke-width="0.7"/>
<path d="M276.8 456.2L394.4 492.8" stroke="#e2e2e2" stroke-width="0.7"/>
<path d="M276.8 456.2L274.6 314.8" stroke="#e2e2e2" stroke-width="0.7"/>
<path d="M378.8 458.4L382.3 315.9" stroke="#e2e2e2" stroke-width="0.7"/>
<path d="M297 510L395.8 463.1" stroke="#e2e2e2" stroke-width="0.7"/>
<path d="M290.7 451L407.4 485.9" stroke="#e2e2e2" stroke-width="0.7"/>
<path d="M290.7 451L289.3 312.4" stroke="#e2e2e2" stroke-width="0.7"/>
<path d="M395.8 463.1L400.3 318.1" stroke="#e2e2e2" stroke-width="0.7"/>
<path d="M315.6 516.8L413.4 468" stroke="#e2e2e2" stroke-width="0.7"/>
<path d="M304 445.9L419.8 479.3" stroke="#e2e2e2" stroke-width="0.7"/>
<path d="M304 445.9L303.4 310.1" stroke="#e2e2e2" stroke-width="0.7"/>
<path d="M413.4 468L419 320.3" stroke="#e2e2e2" stroke-width="0.7"/>
<path d="M335.2 524L431.6 473.1" stroke="#e2e2e2" stroke-width="0.7"/>
<path d="M316.8 441.1L431.6 473.1" stroke="#e2e2e2" stroke-width="0.7"/>
<path d="M316.8 441.1L316.8 308" stroke="#e2e2e2" stroke-width="0.7"/>
<path d="M431.6 473.1L438.5 322.7" stroke="#e2e2e2" stroke-width="0.7"/>
<path d="M214.7 479.7L316.8 441.1" stroke="#e2e2e2" stroke-width="0.7"/>
<path d="M316.8 441.1L431.6 473.1" stroke="#e2e2e2" stroke-width="0.7"/>
<path d="M214.2 465L316.8 428.4" stroke="#e2e2e2" stroke-width="0.7"/>
<path d="M316.8 428.4L432.3 458.8" stroke="#e2e2e2" stroke-width="0.7"/>
<path d="M213.6 450.3L316.8 415.5" stroke="#e2e2e2" stroke-width="0.7"/>
<path d="M316.8 415.5L432.9 444.4" stroke="#e2e2e2" stroke-width="0.7"/>
<path d="M213 435.3L316.8 402.6" stroke="#e2e2e2" stroke-width="0.7"/>
<path d="M316.8 402.6L433.6 429.8" stroke="#e2e2e2" stroke-width="0.7"/>
<path d="M212.4 420.2L316.8 389.5" stroke="#e2e2e2" stroke-width="0.7"/>
<path d="M316.8 389.5L434.3 415" stroke="#e2e2e2" stroke-width="0.7"/>
<path d="M211.7 404.9L316.8 376.2" stroke="#e2e2e2" stroke-width="0.7"/>
<path d="M316.8 376.2L435 400" stroke="#e2e2e2" stroke-width="0.7"/>
<path d="M211.1 389.4L316.8 362.8" stroke="#e2e2e2" stroke-width="0.7"/>
<path d="M316.8 362.8L435.7 384.9" stroke="#e2e2e2" stroke-width="0.7"/>
<path d="M210.5 373.7L316.8 349.3" stroke="#e2e2e2" stroke-width="0.7"/>
<path d="M316.8 349.3L436.3 369.6" stroke="#e2e2e2" stroke-width="0.7"/>
<path d="M209.8 357.8L316.8 335.7" stroke="#e2e2e2" stroke-width="0.7"/>
<path d="M316.8 335.7L437.1 354.2" stroke="#e2e2e2" stroke-width="0.7"/>
<path d="M209.2 341.8L316.8 321.9" stroke="#e2e2e2" stroke-width="0.7"/>
<path d="M316.8 321.9L437.8 338.5" stroke="#e2e2e2" stroke-width="0.7"/>
<path d="M208.5 325.5L316.8 308" stroke="#e2e2e2" stroke-width="0.7"/>
<path d="M316.8 308L438.5 322.7" stroke="#e2e2e2" stroke-width="0.7"/>
<path d="M208.5 325.5L316.8 308" stroke="#8f8f8f" stroke-width="0.6"/>
<path d="M316.8 308L438.5 322.7" stroke="#8f8f8f" stroke-width="0.6" stroke-dasharray="5 1"/>
<path d="M438.5 322.7L431.6 473.1" stroke="#8f8f8f" stroke-width="0.6" stroke-dasharray="5 1.5"/>
<path d="M316.8 441.1L316.8 308" stroke="#c4c4c4" stroke-width="0.7"/>
<path d="M214.7 479.7L316.8 441.1" stroke="#9a9a9a" stroke-width="0.7"/>
<path d="M316.8 441.1L431.6 473.1" stroke="#9a9a9a" stroke-width="0.7"/>
</g>
<g stroke-width=".3" stroke-linejoin="round">
<path d="M314.3 349.9l2.9 0.5 2.5-0.6-2.9-0.5z" fill="#00ff0d" stroke="#00cc0a"/>
<path d="M317.2 350.4l2.9 0.5 2.6-0.6-3-0.5z" fill="#00ff0d" stroke="#00cc0a"/>
<path d="M311.7 350.5l2.9 0.5 2.6-0.6-2.9-0.5z" fill="#00ff0d" stroke="#00cc0a"/>
<path d="M320.1 350.9l3 0.5 2.5-0.6-2.9-0.5z" fill="#00ff0c" stroke="#00cc09"/>
<path d="M314.6 351l3 0.5 2.5-0.6-2.9-0.5z" fill="#00ff0d" stroke="#00cc0a"/>
<path d="M309.1 351.1l3 0.5 2.5-0.6-2.9-0.5z" fill="#00ff0d" stroke="#00cc0a"/>
<path d="M323.1 351.4l3 0.5 2.5-0.6-3-0.5z" fill="#00ff0b" stroke="#00cc08"/>
<path d="M317.6 351.5l3 0.5 2.5-0.6-3-0.5z" fill="#00ff0c" stroke="#00cc09"/>
<path d="M312.1 351.6l2.9 0.5 2.6-0.6-3-0.5z" fill="#00ff0d" stroke="#00cc0a"/>
<path d="M306.5 351.7l3 0.5 2.6-0.6-3-0.5z" fill="#00ff0d" stroke="#00cc0a"/>
<path d="M326.1 351.9l3 0.4 2.5-0.6-3-0.4z" fill="#00ff08" stroke="#00cc06"/>
<path d="M320.6 352l2.9 0.5 2.6-0.6-3-0.5z" fill="#00ff0b" stroke="#00cc08"/>
<path d="M315 352.1l3 0.5 2.6-0.6-3-0.5z" fill="#00ff0c" stroke="#00cc09"/>
<path d="M309.5 352.2l2.9 0.5 2.6-0.6-2.9-0.5z" fill="#00ff0d" stroke="#00cc0a"/>
<path d="M303.9 352.3l3 0.5 2.6-0.6-3-0.5z" fill="#00ff0d" stroke="#00cc0a"/>
<path d="M329.1 352.3l3 0.5 2.5-0.7-3-0.4z" fill="#00ff04" stroke="#00cc03"/>
<path d="M323.5 352.5l3.1 0.5 2.5-0.7-3-0.4z" fill="#00ff09" stroke="#00cc07"/>
<path d="M318 352.6l3 0.5 2.5-0.6-2.9-0.5z" fill="#00ff0b" stroke="#00cc08"/>
<path d="M312.4 352.7l3 0.5 2.6-0.6-3-0.5z" fill="#00ff0c" stroke="#00cc09"/>
<path d="M306.9 352.8l2.9 0.5 2.6-0.6-2.9-0.5z" fill="#00ff0d" stroke="#00cc0a"/>
<path d="M301.3 352.9l2.9 0.5 2.7-0.6-3-0.5z" fill="#00ff0d" stroke="#00cc0a"/>
<path d="M332.1 352.8l3.1 0.3 2.5-0.6-3.1-0.4z" fill="#01ff00" stroke="#0c0"/>
<path d="M326.6 353l3 0.4 2.5-0.6-3-0.5z" fill="#00ff05" stroke="#00cc04"/>
<path d="M321 353.1l3 0.5 2.6-0.6-3.1-0.5z" fill="#00ff09" stroke="#00cc07"/>
<path d="M315.4 353.2l3 0.5 2.6-0.6-3-0.5z" fill="#00ff0c" stroke="#00cc09"/>
<path d="M309.8 353.3l3 0.5 2.6-0.6-3-0.5z" fill="#00ff0c" stroke="#00cc09"/>
<path d="M304.2 353.4l3 0.5 2.6-0.6-2.9-0.5z" fill="#00ff0d" stroke="#00cc0a"/>
<path d="M298.6 353.5l3 0.5 2.6-0.6-2.9-0.5z" fill="#00ff0d" stroke="#00cc0a"/>
<path d="M335.2 353.1l3 0.4 2.5-0.7-3-0.3z" fill="#06ff00" stroke="#04cc00"/>
<path d="M329.6 353.4l3 0.4 2.6-0.7-3.1-0.3z" fill="#01ff00" stroke="#0c0"/>
<path d="M324 353.6l3 0.4 2.6-0.6-3-0.4z" fill="#00ff06" stroke="#00cc04"/>
<path d="M318.4 353.7l3 0.5 2.6-0.6-3-0.5z" fill="#00ff0a" stroke="#00cc08"/>
<path d="M312.8 353.8l3 0.5 2.6-0.6-3-0.5z" fill="#00ff0c" stroke="#00cc09"/>
<path d="M307.2 353.9l3 0.5 2.6-0.6-3-0.5z" fill="#00ff0d" stroke="#00cc0a"/>
<path d="M301.6 354l2.9 0.5 2.7-0.6-3-0.5z" fill="#00ff0d" stroke="#00cc0a"/>
<path d="M338.2 353.5l3.1 0.2 2.5-0.7-3.1-0.2z" fill="#0cff00" stroke="#09cc00"/>
<path d="M296 354.1l2.9 0.5 2.7-0.6-3-0.5z" fill="#00ff0d" stroke="#00cc0a"/>
<path d="M332.6 353.8l3.1 0.3 2.5-0.6-3-0.4z" fill="#04ff00" stroke="#03cc00"/>
<path d="M327 354l3.1 0.5 2.5-0.7-3-0.4z" fill="#0f0" stroke="#0c0"/>
<path d="M321.4 354.2l3.1 0.5 2.5-0.7-3-0.4z" fill="#00ff07" stroke="#00cc05"/>
<path d="M315.8 354.3l3 0.5 2.6-0.6-3-0.5z" fill="#00ff0a" stroke="#00cc08"/>
<path d="M310.2 354.4l3 0.6 2.6-0.7-3-0.5z" fill="#00ff0c" stroke="#00cc09"/>
<path d="M341.3 353.7l3.1 0.2 2.5-0.8-3.1-0.1z" fill="#14ff00" stroke="#10cc00"/>
<path d="M304.5 354.5l3 0.6 2.7-0.7-3-0.5z" fill="#00ff0d" stroke="#00cc0a"/>
<path d="M298.9 354.6l3 0.6 2.6-0.7-2.9-0.5z" fill="#00ff0d" stroke="#00cc0a"/>
<path d="M335.7 354.1l3.1 0.3 2.5-0.7-3.1-0.2z" fill="#0aff00" stroke="#08cc00"/>
<path d="M293.3 354.7l2.9 0.6 2.7-0.7-2.9-0.5z" fill="#00ff0d" stroke="#00cc0a"/>
<path d="M330.1 354.5l3.1 0.3 2.5-0.7-3.1-0.3z" fill="#03ff00" stroke="#02cc00"/>
<path d="M324.5 354.7l3 0.4 2.6-0.6-3.1-0.5z" fill="#00ff02" stroke="#00cc01"/>
<path d="M318.8 354.8l3.1 0.5 2.6-0.6-3.1-0.5z" fill="#00ff08" stroke="#00cc06"/>
<path d="M313.2 355l3 0.5 2.6-0.7-3-0.5z" fill="#00ff0b" stroke="#00cc08"/>
<path d="M344.4 353.9l3.2 0 2.5-0.7-3.2-0.1z" fill="#1eff00" stroke="#18cc00"/>
<path d="M307.5 355.1l3 0.5 2.7-0.6-3-0.6z" fill="#00ff0c" stroke="#00cc09"/>
<path d="M301.9 355.2l3 0.5 2.6-0.6-3-0.6z" fill="#00ff0d" stroke="#00cc0a"/>
<path d="M338.8 354.4l3.1 0.2 2.5-0.7-3.1-0.2z" fill="#1f0" stroke="#0dcc00"/>
<path d="M296.2 355.3l3 0.5 2.7-0.6-3-0.6z" fill="#00ff0d" stroke="#00cc0a"/>
<path d="M290.5 355.3l3 0.6 2.7-0.6-2.9-0.6z" fill="#00ff0d" stroke="#00cc0a"/>
<path d="M333.2 354.8l3.1 0.3 2.5-0.7-3.1-0.3z" fill="#08ff00" stroke="#06cc00"/>
<path d="M327.5 355.1l3.1 0.4 2.6-0.7-3.1-0.3z" fill="#02ff00" stroke="#01cc00"/>
<path d="M321.9 355.3l3 0.5 2.6-0.7-3-0.4z" fill="#00ff03" stroke="#00cc02"/>
<path d="M316.2 355.5l3 0.5 2.7-0.7-3.1-0.5z" fill="#00ff08" stroke="#00cc06"/>
<path d="M347.6 353.9l3.2 0 2.4-0.9-3.1 0.2z" fill="#2cff00" stroke="#23cc00"/>
<path d="M310.5 355.6l3.1 0.5 2.6-0.6-3-0.5z" fill="#00ff0b" stroke="#00cc08"/>
<path d="M341.9 354.6l3.2 0.1 2.5-0.8-3.2 0z" fill="#1bff00" stroke="#15cc00"/>
<path d="M304.9 355.7l3 0.5 2.6-0.6-3-0.5z" fill="#00ff0c" stroke="#00cc09"/>
<path d="M299.2 355.8l3 0.5 2.7-0.6-3-0.5z" fill="#00ff0d" stroke="#00cc0a"/>
<path d="M336.3 355.1l3.1 0.3 2.5-0.8-3.1-0.2z" fill="#0fff00" stroke="#0ccc00"/>
<path d="M293.5 355.9l3 0.5 2.7-0.6-3-0.5z" fill="#00ff0d" stroke="#00cc0a"/>
<path d="M287.8 356l2.9 0.5 2.8-0.6-3-0.6z" fill="#00ff0d" stroke="#00cc0a"/>
<path d="M330.6 355.5l3.1 0.3 2.6-0.7-3.1-0.3z" fill="#07ff00" stroke="#05cc00"/>
<path d="M324.9 355.8l3.1 0.4 2.6-0.7-3.1-0.4z" fill="#01ff00" stroke="#0c0"/>
<path d="M319.2 356l3.1 0.4 2.6-0.6-3-0.5z" fill="#00ff05" stroke="#00cc04"/>
<path d="M350.8 353.9l3.2-0.2 2.4-0.9-3.2 0.2z" fill="#3cff00" stroke="#30cc00"/>
<path d="M313.6 356.1l3 0.5 2.6-0.6-3-0.5z" fill="#00ff09" stroke="#00cc07"/>
<path d="M345.1 354.7l3.1 0 2.6-0.8-3.2 0z" fill="#27ff00" stroke="#1fcc00"/>
<path d="M307.9 356.2l3 0.6 2.7-0.7-3.1-0.5z" fill="#00ff0b" stroke="#00cc08"/>
<path d="M302.2 356.3l3 0.6 2.7-0.7-3-0.5z" fill="#00ff0c" stroke="#00cc09"/>
<path d="M339.4 355.4l3.1 0.1 2.6-0.8-3.2-0.1z" fill="#18ff00" stroke="#13cc00"/>
<path d="M296.5 356.4l2.9 0.6 2.8-0.7-3-0.5z" fill="#00ff0d" stroke="#00cc0a"/>
<path d="M290.7 356.5l3 0.6 2.8-0.7-3-0.5z" fill="#00ff0d" stroke="#00cc0a"/>
<path d="M333.7 355.8l3.1 0.3 2.6-0.7-3.1-0.3z" fill="#0dff00" stroke="#0acc00"/>
<path d="M285 356.6l3 0.6 2.7-0.7-2.9-0.5z" fill="#00ff0d" stroke="#00cc0a"/>
<path d="M328 356.2l3.1 0.4 2.6-0.8-3.1-0.3z" fill="#05ff00" stroke="#04cc00"/>
<path d="M322.3 356.4l3.1 0.5 2.6-0.7-3.1-0.4z" fill="#0f0" stroke="#0c0"/>
<path d="M354 353.7l3.2-0.4 2.5-1-3.3 0.5z" fill="#51ff00" stroke="#40cc00"/>
<path d="M316.6 356.6l3.1 0.5 2.6-0.7-3.1-0.4z" fill="#00ff06" stroke="#00cc04"/>
<path d="M348.2 354.7l3.2-0.1 2.6-0.9-3.2 0.2z" fill="#36ff00" stroke="#2bcc00"/>
<path d="M310.9 356.8l3 0.5 2.7-0.7-3-0.5z" fill="#00ff0a" stroke="#00cc08"/>
<path d="M305.2 356.9l3 0.5 2.7-0.6-3-0.6z" fill="#00ff0c" stroke="#00cc09"/>
<path d="M342.5 355.5l3.2 0.1 2.5-0.9-3.1 0z" fill="#23ff00" stroke="#1ccc00"/>
<path d="M299.4 357l3.1 0.5 2.7-0.6-3-0.6z" fill="#00ff0d" stroke="#00cc0a"/>
<path d="M336.8 356.1l3.2 0.2 2.5-0.8-3.1-0.1z" fill="#14ff00" stroke="#10cc00"/>
<path d="M293.7 357.1l3 0.5 2.7-0.6-2.9-0.6z" fill="#00ff0d" stroke="#00cc0a"/>
<path d="M288 357.2l2.9 0.5 2.8-0.6-3-0.6z" fill="#00ff0d" stroke="#00cc0a"/>
<path d="M282.2 357.3l3 0.5 2.8-0.6-3-0.6z" fill="#00ff0d" stroke="#00cc0a"/>
<path d="M331.1 356.6l3.2 0.3 2.5-0.8-3.1-0.3z" fill="#0aff00" stroke="#08cc00"/>
<path d="M325.4 356.9l3.1 0.4 2.6-0.7-3.1-0.4z" fill="#04ff00" stroke="#03cc00"/>
<path d="M357.2 353.3l3.2-0.5 2.5-1.1-3.2 0.6z" fill="#69ff00" stroke="#54cc00"/>
<path d="M319.7 357.1l3.1 0.5 2.6-0.7-3.1-0.5z" fill="#00ff02" stroke="#00cc01"/>
<path d="M351.4 354.6l3.3-0.3 2.5-1-3.2 0.4z" fill="#49ff00" stroke="#3acc00"/>
<path d="M313.9 357.3l3.1 0.5 2.7-0.7-3.1-0.5z" fill="#00ff08" stroke="#00cc06"/>
<path d="M345.7 355.6l3.2-0.1 2.5-0.9-3.2 0.1z" fill="#30ff00" stroke="#26cc00"/>
<path d="M308.2 357.4l3.1 0.5 2.6-0.6-3-0.5z" fill="#00ff0b" stroke="#00cc08"/>
<path d="M302.5 357.5l3 0.6 2.7-0.7-3-0.5z" fill="#00ff0c" stroke="#00cc09"/>
<path d="M340 356.3l3.2 0.1 2.5-0.8-3.2-0.1z" fill="#1eff00" stroke="#18cc00"/>
<path d="M296.7 357.6l3 0.6 2.8-0.7-3.1-0.5z" fill="#00ff0d" stroke="#00cc0a"/>
<path d="M290.9 357.7l3 0.6 2.8-0.7-3-0.5z" fill="#00ff0d" stroke="#00cc0a"/>
<path d="M334.3 356.9l3.1 0.2 2.6-0.8-3.2-0.2z" fill="#1f0" stroke="#0dcc00"/>
<path d="M285.2 357.8l2.9 0.6 2.8-0.7-2.9-0.5z" fill="#00ff0d" stroke="#00cc0a"/>
<path d="M279.4 357.9l2.9 0.6 2.9-0.7-3-0.5z" fill="#00ff0d" stroke="#00cc0a"/>
<path d="M328.5 357.3l3.2 0.3 2.6-0.7-3.2-0.3z" fill="#08ff00" stroke="#06cc00"/>
<path d="M360.4 352.8l3.3-0.8 2.5-1.2-3.3 0.9z" fill="#86ff00" stroke="#6bcc00"/>
<path d="M322.8 357.6l3.1 0.4 2.6-0.7-3.1-0.4z" fill="#02ff00" stroke="#01cc00"/>
<path d="M354.7 354.3l3.2-0.4 2.5-1.1-3.2 0.5z" fill="#5fff00" stroke="#4ccc00"/>
<path d="M317 357.8l3.1 0.5 2.7-0.7-3.1-0.5z" fill="#00ff04" stroke="#00cc03"/>
<path d="M348.9 355.5l3.2-0.2 2.6-1-3.3 0.3z" fill="#41ff00" stroke="#34cc00"/>
<path d="M311.3 357.9l3 0.6 2.7-0.7-3.1-0.5z" fill="#00ff09" stroke="#00cc07"/>
<path d="M305.5 358.1l3.1 0.5 2.7-0.7-3.1-0.5z" fill="#00ff0c" stroke="#00cc09"/>
<path d="M343.2 356.4l3.2 0.1 2.5-1-3.2 0.1z" fill="#2aff00" stroke="#21cc00"/>
<path d="M299.7 358.2l3.1 0.5 2.7-0.6-3-0.6z" fill="#00ff0d" stroke="#00cc0a"/>
<path d="M337.4 357.1l3.2 0.2 2.6-0.9-3.2-0.1z" fill="#1aff00" stroke="#14cc00"/>
<path d="M293.9 358.3l3.1 0.5 2.7-0.6-3-0.6z" fill="#00ff0d" stroke="#00cc0a"/>
<path d="M288.1 358.4l3 0.5 2.8-0.6-3-0.6z" fill="#00ff0d" stroke="#00cc0a"/>
<path d="M282.3 358.5l3 0.5 2.8-0.6-2.9-0.6z" fill="#00ff0d" stroke="#00cc0a"/>
<path d="M331.7 357.6l3.1 0.3 2.6-0.8-3.1-0.2z" fill="#0eff00" stroke="#0bcc00"/>
<path d="M276.5 358.6l3 0.5 2.8-0.6-2.9-0.6z" fill="#00ff0d" stroke="#00cc0a"/>
<path d="M363.7 352l3.3-0.9 2.5-1.4-3.3 1.1z" fill="#a9ff00" stroke="#87cc00"/>
<path d="M325.9 358l3.1 0.4 2.7-0.8-3.2-0.3z" fill="#06ff00" stroke="#04cc00"/>
<path d="M357.9 353.9l3.3-0.6 2.5-1.3-3.3 0.8z" fill="#7aff00" stroke="#61cc00"/>
<path d="M320.1 358.3l3.1 0.4 2.7-0.7-3.1-0.4z" fill="#01ff00" stroke="#0c0"/>
<path d="M352.1 355.3l3.3-0.3 2.5-1.1-3.2 0.4z" fill="#5f0" stroke="#4c0"/>
<path d="M314.3 358.5l3.1 0.5 2.7-0.7-3.1-0.5z" fill="#00ff06" stroke="#00cc04"/>
<path d="M308.6 358.6l3 0.6 2.7-0.7-3-0.6z" fill="#00ff0a" stroke="#00cc08"/>
<path d="M346.4 356.5l3.2-0.1 2.5-1.1-3.2 0.2z" fill="#39ff00" stroke="#2dcc00"/>
<path d="M302.8 358.7l3 0.6 2.8-0.7-3.1-0.5z" fill="#00ff0c" stroke="#00cc09"/>
<path d="M340.6 357.3l3.2 0.1 2.6-0.9-3.2-0.1z" fill="#24ff00" stroke="#1ccc00"/>
<path d="M297 358.8l3 0.6 2.8-0.7-3.1-0.5z" fill="#00ff0d" stroke="#00cc0a"/>
<path d="M291.1 358.9l3.1 0.6 2.8-0.7-3.1-0.5z" fill="#00ff0d" stroke="#00cc0a"/>
<path d="M334.8 357.9l3.2 0.3 2.6-0.9-3.2-0.2z" fill="#15ff00" stroke="#10cc00"/>
<path d="M285.3 359l3 0.6 2.8-0.7-3-0.5z" fill="#00ff0d" stroke="#00cc0a"/>
<path d="M279.5 359.1l3 0.6 2.8-0.7-3-0.5z" fill="#00ff0d" stroke="#00cc0a"/>
<path d="M273.7 359.2l2.9 0.6 2.9-0.7-3-0.5z" fill="#00ff0d" stroke="#00cc0a"/>
<path d="M329 358.4l3.2 0.3 2.6-0.8-3.1-0.3z" fill="#0bff00" stroke="#08cc00"/>
<path d="M367 351.1l3.4-1.3 2.4-1.5-3.3 1.4z" fill="#d1ff00" stroke="#a7cc00"/>
<path d="M361.2 353.3l3.3-0.9 2.5-1.3-3.3 0.9z" fill="#9f0" stroke="#7acc00"/>
<path d="M323.2 358.7l3.2 0.5 2.6-0.8-3.1-0.4z" fill="#04ff00" stroke="#03cc00"/>
<path d="M355.4 355l3.3-0.5 2.5-1.2-3.3 0.6z" fill="#6dff00" stroke="#57cc00"/>
<path d="M317.4 359l3.2 0.5 2.6-0.8-3.1-0.4z" fill="#00ff02" stroke="#00cc01"/>
<path d="M349.6 356.4l3.3-0.3 2.5-1.1-3.3 0.3z" fill="#4bff00" stroke="#3ccc00"/>
<path d="M311.6 359.2l3.1 0.5 2.7-0.7-3.1-0.5z" fill="#00ff08" stroke="#00cc06"/>
<path d="M305.8 359.3l3.1 0.5 2.7-0.6-3-0.6z" fill="#00ff0b" stroke="#00cc08"/>
<path d="M343.8 357.4l3.2 0 2.6-1-3.2 0.1z" fill="#32ff00" stroke="#28cc00"/>
<path d="M300 359.4l3.1 0.6 2.7-0.7-3-0.6z" fill="#00ff0d" stroke="#00cc0a"/>
<path d="M338 358.2l3.2 0.1 2.6-0.9-3.2-0.1z" fill="#1fff00" stroke="#18cc00"/>
<path d="M294.2 359.5l3 0.6 2.8-0.7-3-0.6z" fill="#00ff0d" stroke="#00cc0a"/>
<path d="M288.3 359.6l3.1 0.6 2.8-0.7-3.1-0.6z" fill="#00ff0d" stroke="#00cc0a"/>
<path d="M282.5 359.7l3 0.6 2.8-0.7-3-0.6z" fill="#00ff0d" stroke="#00cc0a"/>
<path d="M332.2 358.7l3.2 0.3 2.6-0.8-3.2-0.3z" fill="#1f0" stroke="#0dcc00"/>
<path d="M276.6 359.8l3 0.6 2.9-0.7-3-0.6z" fill="#00ff0d" stroke="#00cc0a"/>
<path d="M270.8 359.9l2.9 0.5 2.9-0.6-2.9-0.6z" fill="#00ff0d" stroke="#00cc0a"/>
<path d="M370.4 349.8l3.3-1.4 2.5-1.8-3.4 1.7z" fill="#feff00" stroke="#cbcc00"/>
<path d="M326.4 359.2l3.1 0.4 2.7-0.9-3.2-0.3z" fill="#08ff00" stroke="#06cc00"/>
<path d="M364.5 352.4l3.4-1 2.5-1.6-3.4 1.3z" fill="#bdff00" stroke="#97cc00"/>
<path d="M320.6 359.5l3.1 0.4 2.7-0.7-3.2-0.5z" fill="#02ff00" stroke="#01cc00"/>
<path d="M358.7 354.5l3.3-0.7 2.5-1.4-3.3 0.9z" fill="#89ff00" stroke="#6dcc00"/>
<path d="M314.7 359.7l3.2 0.5 2.7-0.7-3.2-0.5z" fill="#00ff05" stroke="#00cc04"/>
<path d="M352.9 356.1l3.2-0.4 2.6-1.2-3.3 0.5z" fill="#61ff00" stroke="#4dcc00"/>
<path d="M308.9 359.8l3.1 0.6 2.7-0.7-3.1-0.5z" fill="#00ff0a" stroke="#00cc08"/>
<path d="M347 357.4l3.3-0.2 2.6-1.1-3.3 0.3z" fill="#41ff00" stroke="#34cc00"/>
<path d="M303.1 360l3.1 0.5 2.7-0.7-3.1-0.5z" fill="#00ff0d" stroke="#00cc0a"/>
<path d="M341.2 358.3l3.2 0.1 2.6-1-3.2 0z" fill="#2aff00" stroke="#21cc00"/>
<path d="M297.2 360.1l3.1 0.6 2.8-0.7-3.1-0.6z" fill="#00ff0e" stroke="#00cc0b"/>
<path d="M291.4 360.2l3 0.6 2.8-0.7-3-0.6z" fill="#00ff0e" stroke="#00cc0b"/>
<path d="M335.4 359l3.2 0.2 2.6-0.9-3.2-0.1z" fill="#19ff00" stroke="#14cc00"/>
<path d="M285.5 360.3l3 0.5 2.9-0.6-3.1-0.6z" fill="#00ff0d" stroke="#00cc0a"/>
<path d="M279.6 360.4l3 0.5 2.9-0.6-3-0.6z" fill="#00ff0d" stroke="#00cc0a"/>
<path d="M273.7 360.4l3 0.6 2.9-0.6-3-0.6z" fill="#00ff0d" stroke="#00cc0a"/>
<path d="M267.9 360.5l2.9 0.6 2.9-0.7-2.9-0.5z" fill="#00ff0d" stroke="#00cc0a"/>
<path d="M329.5 359.6l3.2 0.3 2.7-0.9-3.2-0.3z" fill="#0dff00" stroke="#0acc00"/>
<path d="M373.7 348.4l3.5-1.8 2.4-2-3.4 2z" fill="#ffd100" stroke="#cca700"/>
<path d="M367.9 351.4l3.3-1.3 2.5-1.7-3.3 1.4z" fill="#e7ff00" stroke="#b8cc00"/>
<path d="M323.7 359.9l3.2 0.5 2.6-0.8-3.1-0.4z" fill="#05ff00" stroke="#04cc00"/>
<path d="M362 353.8l3.3-0.9 2.6-1.5-3.4 1z" fill="#af0" stroke="#8c0"/>
<path d="M317.9 360.2l3.1 0.5 2.7-0.8-3.1-0.4z" fill="#00ff01" stroke="#0c0"/>
<path d="M356.1 355.7l3.4-0.5 2.5-1.4-3.3 0.7z" fill="#7aff00" stroke="#61cc00"/>
<path d="M312 360.4l3.1 0.5 2.8-0.7-3.2-0.5z" fill="#00ff08" stroke="#00cc06"/>
<path d="M350.3 357.2l3.3-0.2 2.5-1.3-3.2 0.4z" fill="#54ff00" stroke="#43cc00"/>
<path d="M306.2 360.5l3.1 0.6 2.7-0.7-3.1-0.6z" fill="#00ff0c" stroke="#00cc09"/>
<path d="M344.4 358.4l3.3-0.1 2.6-1.1-3.3 0.2z" fill="#38ff00" stroke="#2ccc00"/>
<path d="M300.3 360.7l3.1 0.5 2.8-0.7-3.1-0.5z" fill="#00ff0e" stroke="#00cc0b"/>
<path d="M338.6 359.2l3.2 0.2 2.6-1-3.2-0.1z" fill="#23ff00" stroke="#1ccc00"/>
<path d="M294.4 360.8l3.1 0.6 2.8-0.7-3.1-0.6z" fill="#00ff0e" stroke="#00cc0b"/>
<path d="M288.5 360.8l3.1 0.6 2.8-0.6-3-0.6z" fill="#00ff0e" stroke="#00cc0b"/>
<path d="M282.6 360.9l3.1 0.6 2.8-0.7-3-0.5z" fill="#00ff0e" stroke="#00cc0b"/>
<path d="M332.7 359.9l3.3 0.3 2.6-1-3.2-0.2z" fill="#14ff00" stroke="#10cc00"/>
<path d="M276.7 361l3 0.6 2.9-0.7-3-0.5z" fill="#00ff0d" stroke="#00cc0a"/>
<path d="M270.8 361.1l3 0.6 2.9-0.7-3-0.6z" fill="#00ff0d" stroke="#00cc0a"/>
<path d="M264.9 361.2l3 0.6 2.9-0.7-2.9-0.6z" fill="#00ff0c" stroke="#00cc09"/>
<path d="M377.2 346.6l3.4-2.2 2.5-2.1-3.5 2.3z" fill="#ff9c00" stroke="#cc7c00"/>
<path d="M371.2 350.1l3.5-1.6 2.5-1.9-3.5 1.8z" fill="#ffea00" stroke="#cb0"/>
<path d="M326.9 360.4l3.2 0.4 2.6-0.9-3.2-0.3z" fill="#09ff00" stroke="#07cc00"/>
<path d="M365.3 352.9l3.4-1.1 2.5-1.7-3.3 1.3z" fill="#d0ff00" stroke="#a6cc00"/>
<path d="M321 360.7l3.2 0.5 2.7-0.8-3.2-0.5z" fill="#02ff00" stroke="#01cc00"/>
<path d="M359.5 355.2l3.3-0.7 2.5-1.6-3.3 0.9z" fill="#97ff00" stroke="#78cc00"/>
<path d="M315.1 360.9l3.2 0.6 2.7-0.8-3.1-0.5z" fill="#00ff05" stroke="#00cc04"/>
<path d="M353.6 357l3.3-0.4 2.6-1.4-3.4 0.5z" fill="#6bff00" stroke="#5c0"/>
<path d="M309.3 361.1l3.1 0.6 2.7-0.8-3.1-0.5z" fill="#00ff0b" stroke="#00cc08"/>
<path d="M347.7 358.3l3.3-0.1 2.6-1.2-3.3 0.2z" fill="#49ff00" stroke="#3acc00"/>
<path d="M303.4 361.2l3.1 0.6 2.8-0.7-3.1-0.6z" fill="#00ff0e" stroke="#00cc0b"/>
<path d="M341.8 359.4l3.3 0.1 2.6-1.2-3.3 0.1z" fill="#2fff00" stroke="#25cc00"/>
<path d="M297.5 361.4l3.1 0.6 2.8-0.8-3.1-0.5z" fill="#00ff0f" stroke="#00cc0c"/>
<path d="M291.6 361.4l3.1 0.6 2.8-0.6-3.1-0.6z" fill="#00ff0f" stroke="#00cc0c"/>
<path d="M336 360.2l3.2 0.2 2.6-1-3.2-0.2z" fill="#1cff00" stroke="#16cc00"/>
<path d="M285.7 361.5l3 0.6 2.9-0.7-3.1-0.6z" fill="#00ff0e" stroke="#00cc0b"/>
<path d="M279.7 361.6l3.1 0.6 2.9-0.7-3.1-0.6z" fill="#00ff0e" stroke="#00cc0b"/>
<path d="M273.8 361.7l3 0.6 2.9-0.7-3-0.6z" fill="#00ff0d" stroke="#00cc0a"/>
<path d="M267.9 361.8l3 0.5 2.9-0.6-3-0.6z" fill="#00ff0c" stroke="#00cc09"/>
<path d="M261.9 361.9l3 0.5 3-0.6-3-0.6z" fill="#00ff0b" stroke="#00cc08"/>
<path d="M330.1 360.8l3.2 0.3 2.7-0.9-3.3-0.3z" fill="#0eff00" stroke="#0bcc00"/>
<path d="M380.6 344.4l3.5-2.4 2.5-2.5-3.5 2.8z" fill="#ff5300" stroke="#cc4200"/>
<path d="M374.7 348.5l3.4-1.9 2.5-2.2-3.4 2.2z" fill="#ffba00" stroke="#cc9400"/>
<path d="M368.7 351.8l3.4-1.4 2.6-1.9-3.5 1.6z" fill="#fbff00" stroke="#c8cc00"/>
<path d="M324.2 361.2l3.2 0.4 2.7-0.8-3.2-0.4z" fill="#05ff00" stroke="#04cc00"/>
<path d="M362.8 354.5l3.4-1 2.5-1.7-3.4 1.1z" fill="#b9ff00" stroke="#94cc00"/>
<path d="M318.3 361.5l3.2 0.5 2.7-0.8-3.2-0.5z" fill="#00ff02" stroke="#00cc01"/>
<path d="M356.9 356.6l3.3-0.6 2.6-1.5-3.3 0.7z" fill="#85ff00" stroke="#6acc00"/>
<path d="M312.4 361.7l3.2 0.6 2.7-0.8-3.2-0.6z" fill="#00ff0a" stroke="#00cc08"/>
<path d="M351 358.2l3.3-0.3 2.6-1.3-3.3 0.4z" fill="#5cff00" stroke="#49cc00"/>
<path d="M306.5 361.8l3.1 0.6 2.8-0.7-3.1-0.6z" fill="#00ff0e" stroke="#00cc0b"/>
<path d="M345.1 359.5l3.3-0.1 2.6-1.2-3.3 0.1z" fill="#3dff00" stroke="#30cc00"/>
<path d="M300.6 362l3.1 0.6 2.8-0.8-3.1-0.6z" fill="#00ff10" stroke="#00cc0c"/>
<path d="M339.2 360.4l3.3 0.2 2.6-1.1-3.3-0.1z" fill="#26ff00" stroke="#1ecc00"/>
<path d="M294.7 362l3.1 0.7 2.8-0.7-3.1-0.6z" fill="#00ff10" stroke="#00cc0c"/>
<path d="M288.7 362.1l3.1 0.6 2.9-0.7-3.1-0.6z" fill="#00ff0f" stroke="#00cc0c"/>
<path d="M282.8 362.2l3 0.6 2.9-0.7-3-0.6z" fill="#00ff0e" stroke="#00cc0b"/>
<path d="M333.3 361.1l3.2 0.3 2.7-1-3.2-0.2z" fill="#15ff00" stroke="#10cc00"/>
<path d="M276.8 362.3l3.1 0.6 2.9-0.7-3.1-0.6z" fill="#00ff0e" stroke="#00cc0b"/>
<path d="M270.9 362.3l3 0.6 2.9-0.6-3-0.6z" fill="#00ff0c" stroke="#00cc09"/>
<path d="M258.9 362.6l3 0.4 3-0.6-3-0.5z" fill="#00ff09" stroke="#00cc07"/>
<path d="M264.9 362.4l3 0.5 3-0.6-3-0.5z" fill="#00ff08" stroke="#00cc06"/>
<path d="M384.1 342l3.6-2.9 2.5-2.8-3.6 3.2z" fill="#f00" stroke="#c00"/>
<path d="M327.4 361.6l3.2 0.4 2.7-0.9-3.2-0.3z" fill="#09ff00" stroke="#07cc00"/>
<path d="M378.1 346.6l3.5-2.2 2.5-2.4-3.5 2.4z" fill="#ff8300" stroke="#cc6800"/>
<path d="M372.1 350.4l3.5-1.6 2.5-2.2-3.4 1.9z" fill="#ffd700" stroke="#ccac00"/>
<path d="M366.2 353.5l3.4-1.1 2.5-2-3.4 1.4z" fill="#e0ff00" stroke="#b3cc00"/>
<path d="M321.5 362l3.2 0.5 2.7-0.9-3.2-0.4z" fill="#02ff00" stroke="#01cc00"/>
<path d="M360.2 356l3.4-0.8 2.6-1.7-3.4 1z" fill="#a3ff00" stroke="#82cc00"/>
<path d="M315.6 362.3l3.1 0.5 2.8-0.8-3.2-0.5z" fill="#00ff07" stroke="#00cc05"/>
<path d="M354.3 357.9l3.4-0.4 2.5-1.5-3.3 0.6z" fill="#73ff00" stroke="#5ccc00"/>
<path d="M309.6 362.4l3.2 0.6 2.8-0.7-3.2-0.6z" fill="#00ff0e" stroke="#00cc0b"/>
<path d="M348.4 359.4l3.3-0.1 2.6-1.4-3.3 0.3z" fill="#4eff00" stroke="#3ecc00"/>
<path d="M303.7 362.6l3.1 0.6 2.8-0.8-3.1-0.6z" fill="#0f1" stroke="#00cc0d"/>
<path d="M342.5 360.6l3.3 0 2.6-1.2-3.3 0.1z" fill="#32ff00" stroke="#28cc00"/>
<path d="M297.8 362.7l3.1 0.6 2.8-0.7-3.1-0.6z" fill="#0f1" stroke="#00cc0d"/>
<path d="M291.8 362.7l3.1 0.7 2.9-0.7-3.1-0.7z" fill="#0f1" stroke="#00cc0d"/>
<path d="M336.5 361.4l3.3 0.3 2.7-1.1-3.3-0.2z" fill="#1dff00" stroke="#17cc00"/>
<path d="M285.8 362.8l3.1 0.7 2.9-0.8-3.1-0.6z" fill="#00ff10" stroke="#00cc0c"/>
<path d="M279.9 362.9l3 0.6 2.9-0.7-3-0.6z" fill="#00ff0f" stroke="#00cc0c"/>
<path d="M273.9 362.9l3 0.6 3-0.6-3.1-0.6z" fill="#00ff0c" stroke="#00cc09"/>
<path d="M255.9 363.3l3 0.2 3-0.5-3-0.4z" fill="#00ff05" stroke="#00cc04"/>
<path d="M330.6 362l3.3 0.4 2.6-1-3.2-0.3z" fill="#0eff00" stroke="#0bcc00"/>
<path d="M267.9 362.9l3 0.5 3-0.5-3-0.6z" fill="#00ff06" stroke="#00cc04"/>
<path d="M261.9 363l3 0.4 3-0.5-3-0.5z" fill="#00ff01" stroke="#0c0"/>
<path d="M381.6 344.4l3.5-2.5 2.6-2.8-3.6 2.9z" fill="#ff2d00" stroke="#cc2400"/>
<path d="M387.7 339.1l3.6-3.3 2.5-3.1-3.6 3.6z" fill="#f00" stroke="#c00"/>
<path d="M375.6 348.8l3.5-1.9 2.5-2.5-3.5 2.2z" fill="#ffa500" stroke="#cc8400"/>
<path d="M324.7 362.5l3.2 0.5 2.7-1-3.2-0.4z" fill="#04ff00" stroke="#03cc00"/>
<path d="M369.6 352.4l3.4-1.4 2.6-2.2-3.5 1.6z" fill="#fff300" stroke="#ccc200"/>
<path d="M363.6 355.2l3.4-0.9 2.6-1.9-3.4 1.1z" fill="#c6ff00" stroke="#9ecc00"/>
<path d="M318.7 362.8l3.2 0.6 2.8-0.9-3.2-0.5z" fill="#00ff04" stroke="#00cc03"/>
<path d="M357.7 357.5l3.3-0.6 2.6-1.7-3.4 0.8z" fill="#8dff00" stroke="#70cc00"/>
<path d="M312.8 363l3.2 0.6 2.7-0.8-3.1-0.5z" fill="#00ff0d" stroke="#00cc0a"/>
<path d="M351.7 359.3l3.4-0.3 2.6-1.5-3.4 0.4z" fill="#61ff00" stroke="#4dcc00"/>
<path d="M306.8 363.2l3.2 0.6 2.8-0.8-3.2-0.6z" fill="#0f1" stroke="#00cc0d"/>
<path d="M345.8 360.6l3.3 0 2.6-1.3-3.3 0.1z" fill="#40ff00" stroke="#3c0"/>
<path d="M300.9 363.3l3.1 0.6 2.8-0.7-3.1-0.6z" fill="#00ff13" stroke="#00cc0f"/>
<path d="M339.8 361.7l3.3 0.1 2.7-1.2-3.3 0z" fill="#27ff00" stroke="#1fcc00"/>
<path d="M294.9 363.4l3.1 0.6 2.9-0.7-3.1-0.6z" fill="#00ff13" stroke="#00cc0f"/>
<path d="M288.9 363.5l3.1 0.6 2.9-0.7-3.1-0.7z" fill="#00ff12" stroke="#00cc0e"/>
<path d="M282.9 363.5l3.1 0.7 2.9-0.7-3.1-0.7z" fill="#00ff10" stroke="#00cc0c"/>
<path d="M333.9 362.4l3.2 0.4 2.7-1.1-3.3-0.3z" fill="#15ff00" stroke="#10cc00"/>
<path d="M276.9 363.5l3.1 0.6 2.9-0.6-3-0.6z" fill="#00ff0c" stroke="#00cc09"/>
<path d="M252.9 364l2.9 0 3.1-0.5-3-0.2z" fill="#00ff01" stroke="#0c0"/>
<path d="M270.9 363.4l3.1 0.6 2.9-0.5-3-0.6z" fill="#00ff04" stroke="#00cc03"/>
<path d="M258.9 363.5l3 0.3 3-0.4-3-0.4z" fill="#04ff00" stroke="#03cc00"/>
<path d="M264.9 363.4l3 0.4 3-0.4-3-0.5z" fill="#02ff00" stroke="#01cc00"/>
<path d="M327.9 363l3.3 0.4 2.7-1-3.3-0.4z" fill="#08ff00" stroke="#06cc00"/>
<path d="M379.1 346.9l3.5-2.3 2.5-2.7-3.5 2.5z" fill="#f60" stroke="#cc5100"/>
<path d="M385.1 341.9l3.6-3 2.6-3.1-3.6 3.3z" fill="#f00" stroke="#c00"/>
<path d="M373 351l3.5-1.7 2.6-2.4-3.5 1.9z" fill="#ffc700" stroke="#cc9f00"/>
<path d="M391.3 335.8l3.6-3.7 2.5-3.6-3.6 4.2z" fill="#e00" stroke="#be0000"/>
<path d="M321.9 363.4l3.3 0.5 2.7-0.9-3.2-0.5z" fill="#0f0" stroke="#0c0"/>
<path d="M367 354.3l3.5-1.2 2.5-2.1-3.4 1.4z" fill="#edff00" stroke="#bdcc00"/>
<path d="M361 356.9l3.4-0.8 2.6-1.8-3.4 0.9z" fill="#acff00" stroke="#89cc00"/>
<path d="M316 363.6l3.2 0.6 2.7-0.8-3.2-0.6z" fill="#00ff0c" stroke="#00cc09"/>
<path d="M355.1 359l3.3-0.4 2.6-1.7-3.3 0.6z" fill="#78ff00" stroke="#60cc00"/>
<path d="M310 363.8l3.2 0.6 2.8-0.8-3.2-0.6z" fill="#00ff12" stroke="#00cc0e"/>
<path d="M349.1 360.6l3.3-0.1 2.7-1.5-3.4 0.3z" fill="#51ff00" stroke="#40cc00"/>
<path d="M304 363.9l3.2 0.7 2.8-0.8-3.2-0.6z" fill="#00ff15" stroke="#00cc10"/>
<path d="M343.1 361.8l3.3 0.1 2.7-1.3-3.3 0z" fill="#32ff00" stroke="#28cc00"/>
<path d="M298 364l3.2 0.7 2.8-0.8-3.1-0.6z" fill="#00ff15" stroke="#00cc10"/>
<path d="M292 364.1l3.2 0.7 2.8-0.8-3.1-0.6z" fill="#00ff14" stroke="#00cc10"/>
<path d="M337.1 362.8l3.3 0.2 2.7-1.2-3.3-0.1z" fill="#1cff00" stroke="#16cc00"/>
<path d="M286 364.2l3.1 0.6 2.9-0.7-3.1-0.6z" fill="#00ff12" stroke="#00cc0e"/>
<path d="M280 364.1l3.1 0.7 2.9-0.6-3.1-0.7z" fill="#00ff0e" stroke="#00cc0b"/>
<path d="M249.8 364.7l2.9-0.2 3.1-0.5-2.9 0z" fill="#02ff00" stroke="#01cc00"/>
<path d="M331.2 363.4l3.2 0.4 2.7-1-3.2-0.4z" fill="#0dff00" stroke="#0acc00"/>
<path d="M274 364l3 0.6 3-0.5-3.1-0.6z" fill="#00ff04" stroke="#00cc03"/>
<path d="M267.9 363.8l3.1 0.5 3-0.3-3.1-0.6z" fill="#04ff00" stroke="#03cc00"/>
<path d="M255.8 364l3 0.1 3.1-0.3-3-0.3z" fill="#0aff00" stroke="#08cc00"/>
<path d="M261.9 363.8l3 0.3 3-0.3-3-0.4z" fill="#09ff00" stroke="#07cc00"/>
<path d="M325.2 363.9l3.2 0.5 2.8-1-3.3-0.4z" fill="#02ff00" stroke="#01cc00"/>
<path d="M382.6 344.6l3.6-2.6 2.5-3.1-3.6 3z" fill="#ff0d00" stroke="#cc0a00"/>
<path d="M376.5 349.3l3.5-2 2.6-2.7-3.5 2.3z" fill="#ff9500" stroke="#c70"/>
<path d="M388.7 338.9l3.7-3.3 2.5-3.5-3.6 3.7z" fill="#f00" stroke="#c00"/>
<path d="M370.5 353.1l3.5-1.4 2.5-2.4-3.5 1.7z" fill="#ffe800" stroke="#ccb900"/>
<path d="M394.9 332.1l3.7-4.3 2.5-3.9-3.7 4.6z" fill="#c50000" stroke="#9d0000"/>
<path d="M364.4 356.1l3.5-0.9 2.6-2.1-3.5 1.2z" fill="#ceff00" stroke="#a4cc00"/>
<path d="M319.2 364.2l3.2 0.6 2.8-0.9-3.3-0.5z" fill="#00ff0b" stroke="#00cc08"/>
<path d="M358.4 358.6l3.4-0.6 2.6-1.9-3.4 0.8z" fill="#92ff00" stroke="#74cc00"/>
<path d="M313.2 364.4l3.2 0.7 2.8-0.9-3.2-0.6z" fill="#00ff13" stroke="#00cc0f"/>
<path d="M352.4 360.5l3.4-0.3 2.6-1.6-3.3 0.4z" fill="#64ff00" stroke="#50cc00"/>
<path d="M307.2 364.6l3.2 0.7 2.8-0.9-3.2-0.6z" fill="#00ff17" stroke="#00cc12"/>
<path d="M346.4 361.9l3.4 0.1 2.6-1.5-3.3 0.1z" fill="#40ff00" stroke="#3c0"/>
<path d="M301.2 364.7l3.1 0.7 2.9-0.8-3.2-0.7z" fill="#00ff18" stroke="#00cc13"/>
<path d="M340.4 363l3.4 0.3 2.6-1.4-3.3-0.1z" fill="#25ff00" stroke="#1dcc00"/>
<path d="M295.2 364.8l3.1 0.6 2.9-0.7-3.2-0.7z" fill="#00ff17" stroke="#00cc12"/>
<path d="M289.1 364.8l3.2 0.7 2.9-0.7-3.2-0.7z" fill="#00ff15" stroke="#00cc10"/>
<path d="M334.4 363.8l3.3 0.4 2.7-1.2-3.3-0.2z" fill="#12ff00" stroke="#0ecc00"/>
<path d="M283.1 364.8l3.1 0.6 2.9-0.6-3.1-0.6z" fill="#00ff10" stroke="#00cc0c"/>
<path d="M246.7 365.4l2.9-0.4 3.1-0.5-2.9 0.2z" fill="#04ff00" stroke="#03cc00"/>
<path d="M277 364.6l3.1 0.6 3-0.4-3.1-0.7z" fill="#00ff03" stroke="#00cc02"/>
<path d="M271 364.3l3 0.5 3-0.2-3-0.6z" fill="#06ff00" stroke="#04cc00"/>
<path d="M252.7 364.5l3 0 3.1-0.4-3-0.1z" fill="#10ff00" stroke="#0ccc00"/>
<path d="M328.4 364.4l3.3 0.5 2.7-1.1-3.2-0.4z" fill="#05ff00" stroke="#04cc00"/>
<path d="M264.9 364.1l3 0.4 3.1-0.2-3.1-0.5z" fill="#0dff00" stroke="#0acc00"/>
<path d="M258.8 364.1l3 0.3 3.1-0.3-3-0.3z" fill="#12ff00" stroke="#0ecc00"/>
<path d="M380 347.3l3.6-2.2 2.6-3.1-3.6 2.6z" fill="#ff4e00" stroke="#cc3e00"/>
<path d="M374 351.7l3.5-1.7 2.5-2.7-3.5 2z" fill="#fb0" stroke="#cc9500"/>
<path d="M322.4 364.8l3.3 0.6 2.7-1-3.2-0.5z" fill="#00ff08" stroke="#00cc06"/>
<path d="M386.2 342l3.6-3 2.6-3.4-3.7 3.3z" fill="#f00" stroke="#c00"/>
<path d="M367.9 355.2l3.5-1.1 2.6-2.4-3.5 1.4z" fill="#f5ff00" stroke="#c4cc00"/>
<path d="M392.4 335.6l3.6-3.8 2.6-4-3.7 4.3z" fill="#e10000" stroke="#b40000"/>
<path d="M361.8 358l3.5-0.7 2.6-2.1-3.5 0.9z" fill="#b0ff00" stroke="#8ccc00"/>
<path d="M316.4 365.1l3.2 0.6 2.8-0.9-3.2-0.6z" fill="#00ff14" stroke="#00cc10"/>
<path d="M398.6 327.8l3.7-4.7 2.6-4.5-3.8 5.3z" fill="#970000" stroke="#780000"/>
<path d="M355.8 360.2l3.4-0.3 2.6-1.9-3.4 0.6z" fill="#7aff00" stroke="#61cc00"/>
<path d="M310.4 365.3l3.2 0.6 2.8-0.8-3.2-0.7z" fill="#00ff1a" stroke="#00cc14"/>
<path d="M349.8 362l3.4-0.1 2.6-1.7-3.4 0.3z" fill="#50ff00" stroke="#40cc00"/>
<path d="M304.3 365.4l3.2 0.7 2.9-0.8-3.2-0.7z" fill="#00ff1c" stroke="#00cc16"/>
<path d="M343.8 363.3l3.3 0.1 2.7-1.4-3.4-0.1z" fill="#30ff00" stroke="#26cc00"/>
<path d="M298.3 365.4l3.2 0.7 2.8-0.7-3.1-0.7z" fill="#00ff1b" stroke="#00cc15"/>
<path d="M292.3 365.5l3.1 0.7 2.9-0.8-3.1-0.6z" fill="#00ff19" stroke="#00cc14"/>
<path d="M337.7 364.2l3.4 0.4 2.7-1.3-3.4-0.3z" fill="#19ff00" stroke="#14cc00"/>
<path d="M286.2 365.4l3.1 0.7 3-0.6-3.2-0.7z" fill="#00ff12" stroke="#00cc0e"/>
<path d="M243.5 366.1l3-0.6 3.1-0.5-2.9 0.4z" fill="#07ff00" stroke="#05cc00"/>
<path d="M280.1 365.2l3.1 0.6 3-0.4-3.1-0.6z" fill="#00ff04" stroke="#00cc03"/>
<path d="M331.7 364.9l3.3 0.5 2.7-1.2-3.3-0.4z" fill="#09ff00" stroke="#07cc00"/>
<path d="M274 364.8l3.1 0.6 3-0.2-3.1-0.6z" fill="#07ff00" stroke="#05cc00"/>
<path d="M249.6 365l3-0.2 3.1-0.3-3 0z" fill="#17ff00" stroke="#12cc00"/>
<path d="M267.9 364.5l3.1 0.4 3-0.1-3-0.5z" fill="#1f0" stroke="#0dcc00"/>
<path d="M255.7 364.5l3 0 3.1-0.1-3-0.3z" fill="#1cff00" stroke="#16cc00"/>
<path d="M261.8 364.4l3.1 0.2 3-0.1-3-0.4z" fill="#19ff00" stroke="#14cc00"/>
<path d="M325.7 365.4l3.3 0.6 2.7-1.1-3.3-0.5z" fill="#00ff05" stroke="#00cc04"/>
<path d="M377.5 350l3.5-1.9 2.6-3-3.6 2.2z" fill="#ff8900" stroke="#cc6d00"/>
<path d="M383.6 345.1l3.6-2.7 2.6-3.4-3.6 3z" fill="#f00" stroke="#c00"/>
<path d="M371.4 354.1l3.5-1.4 2.6-2.7-3.5 1.7z" fill="#ffe000" stroke="#ccb300"/>
<path d="M389.8 339l3.7-3.4 2.5-3.8-3.6 3.8z" fill="#fc0000" stroke="#c90000"/>
<path d="M319.6 365.7l3.3 0.7 2.8-1-3.3-0.6z" fill="#00ff15" stroke="#00cc10"/>
<path d="M365.3 357.3l3.5-0.9 2.6-2.3-3.5 1.1z" fill="#d2ff00" stroke="#a8cc00"/>
<path d="M396 331.8l3.8-4.3 2.5-4.4-3.7 4.7z" fill="#b70000" stroke="#920000"/>
<path d="M402.3 323.1l2.6-3.7 0-0.8 0 0z" fill="#700" stroke="#5f0000"/>
<path d="M359.2 359.9l3.5-0.5 2.6-2.1-3.5 0.7z" fill="#93ff00" stroke="#75cc00"/>
<path d="M313.6 365.9l3.2 0.7 2.8-0.9-3.2-0.6z" fill="#00ff1d" stroke="#00cc17"/>
<path d="M353.2 361.9l3.4-0.2 2.6-1.8-3.4 0.3z" fill="#62ff00" stroke="#4ecc00"/>
<path d="M307.5 366.1l3.3 0.7 2.8-0.9-3.2-0.6z" fill="#00ff20" stroke="#00cc19"/>
<path d="M347.1 363.4l3.4 0.1 2.7-1.6-3.4 0.1z" fill="#3dff00" stroke="#30cc00"/>
<path d="M301.5 366.1l3.2 0.8 2.8-0.8-3.2-0.7z" fill="#00ff20" stroke="#00cc19"/>
<path d="M341.1 364.6l3.3 0.3 2.7-1.5-3.3-0.1z" fill="#21ff00" stroke="#1acc00"/>
<path d="M295.4 366.2l3.2 0.7 2.9-0.8-3.2-0.7z" fill="#00ff1d" stroke="#00cc17"/>
<path d="M289.3 366.1l3.2 0.7 2.9-0.6-3.1-0.7z" fill="#00ff16" stroke="#0c1"/>
<path d="M335 365.4l3.4 0.5 2.7-1.3-3.4-0.4z" fill="#0dff00" stroke="#0acc00"/>
<path d="M240.4 366.9l2.9-0.9 3.2-0.5-3 0.6z" fill="#09ff00" stroke="#07cc00"/>
<path d="M283.2 365.8l3.2 0.6 2.9-0.3-3.1-0.7z" fill="#00ff06" stroke="#00cc04"/>
<path d="M277.1 365.4l3.1 0.6 3-0.2-3.1-0.6z" fill="#08ff00" stroke="#06cc00"/>
<path d="M329 366l3.3 0.6 2.7-1.2-3.3-0.5z" fill="#00ff02" stroke="#00cc01"/>
<path d="M246.5 365.5l3-0.4 3.1-0.3-3 0.2z" fill="#1eff00" stroke="#18cc00"/>
<path d="M271 364.9l3.1 0.5 3 0-3.1-0.6z" fill="#14ff00" stroke="#10cc00"/>
<path d="M252.6 364.8l3-0.1 3.1-0.2-3 0z" fill="#27ff00" stroke="#1fcc00"/>
<path d="M264.9 364.6l3 0.4 3.1-0.1-3.1-0.4z" fill="#1fff00" stroke="#18cc00"/>
<path d="M258.7 364.5l3.1 0.2 3.1-0.1-3.1-0.2z" fill="#26ff00" stroke="#1ecc00"/>
<path d="M322.9 366.4l3.3 0.7 2.8-1.1-3.3-0.6z" fill="#00ff15" stroke="#00cc10"/>
<path d="M374.9 352.7l3.5-1.6 2.6-3-3.5 1.9z" fill="#ffb500" stroke="#cc9000"/>
<path d="M381 348.1l3.6-2.3 2.6-3.4-3.6 2.7z" fill="#ff3e00" stroke="#cc3100"/>
<path d="M368.8 356.4l3.5-1.1 2.6-2.6-3.5 1.4z" fill="#f8ff00" stroke="#c6cc00"/>
<path d="M387.2 342.4l3.7-2.9 2.6-3.9-3.7 3.4z" fill="#f00" stroke="#c00"/>
<path d="M362.7 359.4l3.4-0.7 2.7-2.3-3.5 0.9z" fill="#b0ff00" stroke="#8ccc00"/>
<path d="M393.5 335.6l3.7-3.8 2.6-4.3-3.8 4.3z" fill="#d60000" stroke="#ab0000"/>
<path d="M316.8 366.6l3.3 0.8 2.8-1-3.3-0.7z" fill="#00ff20" stroke="#00cc19"/>
<path d="M356.6 361.7l3.4-0.3 2.7-2-3.5 0.5z" fill="#7f0" stroke="#5fcc00"/>
<path d="M399.8 327.5l3.8-4.9 1.5-2.8-0.2-0.4-2.6 3.7z" fill="#870000" stroke="#6c0000"/>
<path d="M310.8 366.8l3.2 0.7 2.8-0.9-3.2-0.7z" fill="#00ff25" stroke="#00cc1d"/>
<path d="M350.5 363.5l3.4 0 2.7-1.8-3.4 0.2z" fill="#4bff00" stroke="#3ccc00"/>
<path d="M304.7 366.9l3.2 0.7 2.9-0.8-3.3-0.7z" fill="#00ff26" stroke="#00cc1e"/>
<path d="M344.4 364.9l3.4 0.2 2.7-1.6-3.4-0.1z" fill="#2aff00" stroke="#21cc00"/>
<path d="M298.6 366.9l3.2 0.8 2.9-0.8-3.2-0.8z" fill="#00ff23" stroke="#00cc1c"/>
<path d="M338.4 365.9l3.3 0.4 2.7-1.4-3.3-0.3z" fill="#12ff00" stroke="#0ecc00"/>
<path d="M292.5 366.8l3.2 0.7 2.9-0.6-3.2-0.7z" fill="#00ff1b" stroke="#00cc15"/>
<path d="M237.2 367.6l2.9-1 3.2-0.6-2.9 0.9z" fill="#0cff00" stroke="#09cc00"/>
<path d="M286.4 366.4l3.1 0.7 3-0.3-3.2-0.7z" fill="#00ff09" stroke="#00cc07"/>
<path d="M332.3 366.6l3.3 0.5 2.8-1.2-3.4-0.5z" fill="#02ff00" stroke="#01cc00"/>
<path d="M280.2 366l3.2 0.6 3-0.2-3.2-0.6z" fill="#08ff00" stroke="#06cc00"/>
<path d="M243.3 366l3-0.6 3.2-0.3-3 0.4z" fill="#25ff00" stroke="#1dcc00"/>
<path d="M274.1 365.4l3.1 0.5 3 0.1-3.1-0.6z" fill="#16ff00" stroke="#1c0"/>
<path d="M326.2 367.1l3.3 0.6 2.8-1.1-3.3-0.6z" fill="#00ff15" stroke="#00cc10"/>
<path d="M249.5 365.1l3-0.3 3.1-0.1-3 0.1z" fill="#32ff00" stroke="#28cc00"/>
<path d="M267.9 365l3.1 0.3 3.1 0.1-3.1-0.5z" fill="#23ff00" stroke="#1ccc00"/>
<path d="M261.8 364.7l3.1 0.2 3 0.1-3-0.4z" fill="#2eff00" stroke="#24cc00"/>
<path d="M255.6 364.7l3.1 0 3.1 0-3.1-0.2z" fill="#34ff00" stroke="#29cc00"/>
<path d="M378.4 351.1l3.6-1.9 2.6-3.4-3.6 2.3z" fill="#ff8400" stroke="#cc6900"/>
<path d="M372.3 355.3l3.5-1.3 2.6-2.9-3.5 1.6z" fill="#ffdf00" stroke="#ccb200"/>
<path d="M384.6 345.8l3.7-2.5 2.6-3.8-3.7 2.9z" fill="#f00" stroke="#c00"/>
<path d="M320.1 367.4l3.3 0.7 2.8-1-3.3-0.7z" fill="#00ff24" stroke="#00cc1c"/>
<path d="M366.1 358.7l3.5-0.8 2.7-2.6-3.5 1.1z" fill="#d0ff00" stroke="#a6cc00"/>
<path d="M390.9 339.5l3.7-3.4 2.6-4.3-3.7 3.8z" fill="#f50000" stroke="#c40000"/>
<path d="M360 361.4l3.5-0.4 2.6-2.3-3.4 0.7z" fill="#8fff00" stroke="#72cc00"/>
<path d="M403.6 322.6l1.7-2.3-0.2-0.5z" fill="#750000" stroke="#5d0000"/>
<path d="M314 367.5l3.3 0.8 2.8-0.9-3.3-0.8z" fill="#00ff2b" stroke="#0c2"/>
<path d="M397.2 331.8l3.7-4.3 2.7-4.9-3.8 4.9z" fill="#ad0000" stroke="#8a0000"/>
<path d="M353.9 363.5l3.4-0.1 2.7-2-3.4 0.3z" fill="#5cff00" stroke="#49cc00"/>
<path d="M307.9 367.6l3.3 0.8 2.8-0.9-3.2-0.7z" fill="#00ff2c" stroke="#00cc23"/>
<path d="M347.8 365.1l3.4 0.2 2.7-1.8-3.4 0z" fill="#35ff00" stroke="#2acc00"/>
<path d="M301.8 367.7l3.2 0.7 2.9-0.8-3.2-0.7z" fill="#00ff2a" stroke="#00cc21"/>
<path d="M341.7 366.3l3.4 0.4 2.7-1.6-3.4-0.2z" fill="#18ff00" stroke="#13cc00"/>
<path d="M295.7 367.5l3.2 0.8 2.9-0.6-3.2-0.8z" fill="#00ff20" stroke="#00cc19"/>
<path d="M335.6 367.1l3.4 0.6 2.7-1.4-3.3-0.4z" fill="#04ff00" stroke="#03cc00"/>
<path d="M233.9 368.3l3-1.2 3.2-0.5-2.9 1z" fill="#0eff00" stroke="#0bcc00"/>
<path d="M289.5 367.1l3.2 0.7 3-0.3-3.2-0.7z" fill="#00ff0d" stroke="#00cc0a"/>
<path d="M283.4 366.6l3.1 0.6 3-0.1-3.1-0.7z" fill="#07ff00" stroke="#05cc00"/>
<path d="M329.5 367.7l3.3 0.7 2.8-1.3-3.3-0.5z" fill="#00ff15" stroke="#00cc10"/>
<path d="M240.1 366.6l3-0.8 3.2-0.4-3 0.6z" fill="#2cff00" stroke="#23cc00"/>
<path d="M277.2 365.9l3.2 0.6 3 0.1-3.2-0.6z" fill="#17ff00" stroke="#12cc00"/>
<path d="M323.4 368.1l3.3 0.7 2.8-1.1-3.3-0.6z" fill="#00ff28" stroke="#00cc20"/>
<path d="M271 365.3l3.2 0.5 3 0.1-3.1-0.5z" fill="#27ff00" stroke="#1fcc00"/>
<path d="M246.3 365.4l3-0.4 3.2-0.2-3 0.3z" fill="#3dff00" stroke="#30cc00"/>
<path d="M375.8 354l3.6-1.5 2.6-3.3-3.6 1.9z" fill="#ffb500" stroke="#cc9000"/>
<path d="M382 349.2l3.7-2.2 2.6-3.7-3.7 2.5z" fill="#ff3800" stroke="#cc2c00"/>
<path d="M264.9 364.9l3 0.3 3.1 0.1-3.1-0.3z" fill="#35ff00" stroke="#2acc00"/>
<path d="M369.6 357.9l3.6-1 2.6-2.9-3.5 1.3z" fill="#f5ff00" stroke="#c4cc00"/>
<path d="M252.5 364.8l3-0.1 3.2 0-3.1 0z" fill="#43ff00" stroke="#35cc00"/>
<path d="M258.7 364.7l3 0.1 3.2 0.1-3.1-0.2z" fill="#3fff00" stroke="#32cc00"/>
<path d="M388.3 343.3l3.7-2.9 2.6-4.3-3.7 3.4z" fill="#f00" stroke="#c00"/>
<path d="M363.5 361l3.5-0.5 2.6-2.6-3.5 0.8z" fill="#af0" stroke="#8c0"/>
<path d="M317.3 368.3l3.3 0.8 2.8-1-3.3-0.7z" fill="#00ff32" stroke="#00cc28"/>
<path d="M357.3 363.4l3.5-0.2 2.7-2.2-3.5 0.4z" fill="#6fff00" stroke="#58cc00"/>
<path d="M394.6 336.1l3.7-3.8 2.6-4.8-3.7 4.3z" fill="#d00000" stroke="#a60000"/>
<path d="M311.2 368.4l3.2 0.8 2.9-0.9-3.3-0.8z" fill="#00ff34" stroke="#00cc29"/>
<path d="M351.2 365.3l3.5 0.1 2.6-2-3.4 0.1z" fill="#41ff00" stroke="#34cc00"/>
<path d="M400.9 327.5l3.9-4.8 0.9-1.8-0.4-0.6-1.7 2.3z" fill="#810000" stroke="#670000"/>
<path d="M305 368.4l3.3 0.9 2.9-0.9-3.3-0.8z" fill="#00ff32" stroke="#00cc28"/>
<path d="M345.1 366.7l3.4 0.3 2.7-1.7-3.4-0.2z" fill="#20ff00" stroke="#19cc00"/>
<path d="M298.9 368.3l3.2 0.7 2.9-0.6-3.2-0.7z" fill="#00ff27" stroke="#00cc1f"/>
<path d="M339 367.7l3.4 0.5 2.7-1.5-3.4-0.4z" fill="#08ff00" stroke="#06cc00"/>
<path d="M230.7 369.1l2.9-1.3 3.3-0.7-3 1.2z" fill="#0fff00" stroke="#0ccc00"/>
<path d="M292.7 367.8l3.2 0.8 3-0.3-3.2-0.8z" fill="#00ff12" stroke="#00cc0e"/>
<path d="M332.8 368.4l3.4 0.7 2.8-1.4-3.4-0.6z" fill="#00ff14" stroke="#00cc10"/>
<path d="M286.5 367.2l3.2 0.7 3-0.1-3.2-0.7z" fill="#06ff00" stroke="#04cc00"/>
<path d="M236.9 367.1l2.9-0.9 3.3-0.4-3 0.8z" fill="#31ff00" stroke="#27cc00"/>
<path d="M326.7 368.8l3.4 0.8 2.7-1.2-3.3-0.7z" fill="#00ff2c" stroke="#00cc23"/>
<path d="M280.4 366.5l3.1 0.6 3 0.1-3.1-0.6z" fill="#17ff00" stroke="#12cc00"/>
<path d="M274.2 365.8l3.1 0.5 3.1 0.2-3.2-0.6z" fill="#2aff00" stroke="#21cc00"/>
<path d="M243.1 365.8l3-0.6 3.2-0.2-3 0.4z" fill="#47ff00" stroke="#38cc00"/>
<path d="M373.2 356.9l3.6-1.2 2.6-3.2-3.6 1.5z" fill="#ffe400" stroke="#ccb600"/>
<path d="M379.4 352.5l3.6-1.8 2.7-3.7-3.7 2.2z" fill="#ff8600" stroke="#cc6b00"/>
<path d="M320.6 369.1l3.3 0.8 2.8-1.1-3.3-0.7z" fill="#00ff39" stroke="#00cc2d"/>
<path d="M367 360.5l3.5-0.7 2.7-2.9-3.6 1z" fill="#c8ff00" stroke="#a0cc00"/>
<path d="M385.7 347l3.6-2.5 2.7-4.1-3.7 2.9z" fill="#f00" stroke="#c00"/>
<path d="M267.9 365.2l3.2 0.3 3.1 0.3-3.2-0.5z" fill="#3bff00" stroke="#2fcc00"/>
<path d="M249.3 365l3-0.3 3.2 0-3 0.1z" fill="#51ff00" stroke="#40cc00"/>
<path d="M261.7 364.8l3.1 0.1 3.1 0.3-3-0.3z" fill="#49ff00" stroke="#3acc00"/>
<path d="M360.8 363.2l3.5-0.2 2.7-2.5-3.5 0.5z" fill="#84ff00" stroke="#69cc00"/>
<path d="M255.5 364.7l3.1-0.1 3.1 0.2-3-0.1z" fill="#51ff00" stroke="#40cc00"/>
<path d="M392 340.4l3.7-3.3 2.6-4.8-3.7 3.8z" fill="#f20000" stroke="#c10000"/>
<path d="M314.4 369.2l3.3 0.9 2.9-1-3.3-0.8z" fill="#00ff3d" stroke="#00cc30"/>
<path d="M404.8 322.7l1.1-1.5-0.2-0.3z" fill="#730000" stroke="#5c0000"/>
<path d="M354.7 365.4l3.4 0.1 2.7-2.3-3.5 0.2z" fill="#50ff00" stroke="#40cc00"/>
<path d="M398.3 332.3l3.8-4.2 2.7-5.4-3.9 4.8z" fill="#a60000" stroke="#840000"/>
<path d="M308.3 369.3l3.2 0.8 2.9-0.9-3.2-0.8z" fill="#00ff3b" stroke="#00cc2f"/>
<path d="M348.5 367l3.4 0.3 2.8-1.9-3.5-0.1z" fill="#28ff00" stroke="#20cc00"/>
<path d="M302.1 369l3.3 0.9 2.9-0.6-3.3-0.9z" fill="#00ff30" stroke="#00cc26"/>
<path d="M342.4 368.2l3.4 0.5 2.7-1.7-3.4-0.3z" fill="#0cff00" stroke="#09cc00"/>
<path d="M227.4 369.8l2.9-1.3 3.3-0.7-2.9 1.3z" fill="#10ff00" stroke="#0ccc00"/>
<path d="M295.9 368.6l3.3 0.7 2.9-0.3-3.2-0.7z" fill="#00ff18" stroke="#00cc13"/>
<path d="M336.2 369.1l3.4 0.6 2.8-1.5-3.4-0.5z" fill="#00ff13" stroke="#00cc0f"/>
<path d="M289.7 367.9l3.2 0.7 3 0-3.2-0.8z" fill="#05ff00" stroke="#04cc00"/>
<path d="M330.1 369.6l3.3 0.8 2.8-1.3-3.4-0.7z" fill="#00ff30" stroke="#00cc26"/>
<path d="M233.6 367.8l3-1 3.2-0.6-2.9 0.9z" fill="#35ff00" stroke="#2acc00"/>
<path d="M283.5 367.1l3.2 0.6 3 0.2-3.2-0.7z" fill="#17ff00" stroke="#12cc00"/>
<path d="M323.9 369.9l3.3 0.9 2.9-1.2-3.4-0.8z" fill="#00ff41" stroke="#00cc34"/>
<path d="M277.3 366.3l3.2 0.5 3 0.3-3.1-0.6z" fill="#2cff00" stroke="#23cc00"/>
<path d="M376.8 355.7l3.6-1.4 2.6-3.6-3.6 1.8z" fill="#ffbc00" stroke="#cc9600"/>
<path d="M239.8 366.2l3-0.7 3.3-0.3-3 0.6z" fill="#4fff00" stroke="#3fcc00"/>
<path d="M370.5 359.8l3.6-0.9 2.7-3.2-3.6 1.2z" fill="#eaff00" stroke="#bc0"/>
<path d="M383 350.7l3.7-2 2.6-4.2-3.6 2.5z" fill="#ff3e00" stroke="#cc3100"/>
<path d="M364.3 363l3.6-0.4 2.6-2.8-3.5 0.7z" fill="#9cff00" stroke="#7ccc00"/>
<path d="M271.1 365.5l3.1 0.4 3.1 0.4-3.1-0.5z" fill="#3fff00" stroke="#32cc00"/>
<path d="M389.3 344.5l3.8-2.8 2.6-4.6-3.7 3.3z" fill="#f00" stroke="#c00"/>
<path d="M317.7 370.1l3.4 0.9 2.8-1.1-3.3-0.8z" fill="#00ff48" stroke="#00cc39"/>
<path d="M246.1 365.2l3-0.4 3.2-0.1-3 0.3z" fill="#5eff00" stroke="#4bcc00"/>
<path d="M358.1 365.5l3.5-0.1 2.7-2.4-3.5 0.2z" fill="#60ff00" stroke="#4ccc00"/>
<path d="M264.8 364.9l3.1 0.3 3.2 0.3-3.2-0.3z" fill="#50ff00" stroke="#40cc00"/>
<path d="M252.3 364.7l3.1-0.1 3.2 0-3.1 0.1z" fill="#62ff00" stroke="#4ecc00"/>
<path d="M258.6 364.6l3.1 0.1 3.1 0.2-3.1-0.1z" fill="#5dff00" stroke="#4acc00"/>
<path d="M395.7 337.1l3.8-3.7 2.6-5.3-3.8 4.2z" fill="#cd0000" stroke="#a40000"/>
<path d="M351.9 367.3l3.5 0.3 2.7-2.1-3.4-0.1z" fill="#32ff00" stroke="#28cc00"/>
<path d="M311.5 370.1l3.4 0.9 2.8-0.9-3.3-0.9z" fill="#00ff46" stroke="#00cc38"/>
<path d="M402.1 328.1l3.9-4.7 0.7-1.5-0.8-0.7-1.1 1.5z" fill="#7e0000" stroke="#640000"/>
<path d="M345.8 368.7l3.4 0.5 2.7-1.9-3.4-0.3z" fill="#10ff00" stroke="#0ccc00"/>
<path d="M305.4 369.9l3.2 0.8 2.9-0.6-3.2-0.8z" fill="#00ff3a" stroke="#00cc2e"/>
<path d="M339.6 369.7l3.4 0.7 2.8-1.7-3.4-0.5z" fill="#0f1" stroke="#00cc0d"/>
<path d="M299.2 369.3l3.2 0.8 3-0.2-3.3-0.9z" fill="#00ff20" stroke="#00cc19"/>
<path d="M224.1 370.6l2.9-1.4 3.3-0.7-2.9 1.3z" fill="#1f0" stroke="#0dcc00"/>
<path d="M333.4 370.4l3.4 0.8 2.8-1.5-3.4-0.6z" fill="#00ff35" stroke="#00cc2a"/>
<path d="M292.9 368.6l3.3 0.7 3 0-3.3-0.7z" fill="#02ff00" stroke="#01cc00"/>
<path d="M230.3 368.5l3-1.1 3.3-0.6-3 1z" fill="#38ff00" stroke="#2ccc00"/>
<path d="M286.7 367.7l3.2 0.7 3 0.2-3.2-0.7z" fill="#17ff00" stroke="#12cc00"/>
<path d="M327.2 370.8l3.4 0.9 2.8-1.3-3.3-0.8z" fill="#00ff4a" stroke="#00cc3b"/>
<path d="M374.1 358.9l3.6-1 2.7-3.6-3.6 1.4z" fill="#fff100" stroke="#ccc000"/>
<path d="M280.5 366.8l3.2 0.6 3 0.3-3.2-0.6z" fill="#2dff00" stroke="#24cc00"/>
<path d="M380.4 354.3l3.6-1.6 2.7-4-3.7 2z" fill="#ff9000" stroke="#cc7300"/>
<path d="M236.6 366.8l3-0.8 3.2-0.5-3 0.7z" fill="#56ff00" stroke="#4c0"/>
<path d="M367.9 362.6l3.5-0.6 2.7-3.1-3.6 0.9z" fill="#b7ff00" stroke="#92cc00"/>
<path d="M321.1 371l3.3 0.9 2.8-1.1-3.3-0.9z" fill="#00ff53" stroke="#00cc42"/>
<path d="M386.7 348.7l3.7-2.4 2.7-4.6-3.8 2.8z" fill="#f00" stroke="#c00"/>
<path d="M361.6 365.4l3.6-0.1 2.7-2.7-3.6 0.4z" fill="#72ff00" stroke="#5bcc00"/>
<path d="M274.2 365.9l3.2 0.5 3.1 0.4-3.2-0.5z" fill="#43ff00" stroke="#35cc00"/>
<path d="M242.8 365.5l3.1-0.5 3.2-0.2-3 0.4z" fill="#69ff00" stroke="#54cc00"/>
<path d="M393.1 341.7l3.7-3.1 2.7-5.2-3.8 3.7z" fill="#f30000" stroke="#c20000"/>
<path d="M355.4 367.6l3.5 0.2 2.7-2.4-3.5 0.1z" fill="#3dff00" stroke="#30cc00"/>
<path d="M314.9 371l3.3 1 2.9-1-3.4-0.9z" fill="#00ff53" stroke="#00cc42"/>
<path d="M267.9 365.2l3.2 0.3 3.1 0.4-3.1-0.4z" fill="#57ff00" stroke="#45cc00"/>
<path d="M406 323.4l0.9-1.2-0.2-0.3z" fill="#720000" stroke="#5b0000"/>
<path d="M249.1 364.8l3.1-0.2 3.2 0-3.1 0.1z" fill="#71ff00" stroke="#5acc00"/>
<path d="M261.7 364.7l3.1 0.2 3.1 0.3-3.1-0.3z" fill="#67ff00" stroke="#52cc00"/>
<path d="M255.4 364.6l3.1-0.1 3.2 0.2-3.1-0.1z" fill="#70ff00" stroke="#59cc00"/>
<path d="M399.5 333.4l3.8-4.1 2.7-5.9-3.9 4.7z" fill="#a50000" stroke="#840000"/>
<path d="M349.2 369.2l3.5 0.5 2.7-2.1-3.5-0.3z" fill="#16ff00" stroke="#1c0"/>
<path d="M308.6 370.7l3.4 0.9 2.9-0.6-3.4-0.9z" fill="#00ff46" stroke="#00cc38"/>
<path d="M343 370.4l3.5 0.7 2.7-1.9-3.4-0.5z" fill="#00ff0e" stroke="#00cc0b"/>
<path d="M302.4 370.1l3.3 0.9 2.9-0.3-3.2-0.8z" fill="#00ff29" stroke="#00cc20"/>
<path d="M220.7 371.4l2.9-1.4 3.4-0.8-2.9 1.4z" fill="#1f0" stroke="#0dcc00"/>
<path d="M336.8 371.2l3.4 0.8 2.8-1.6-3.4-0.7z" fill="#00ff3a" stroke="#00cc2e"/>
<path d="M296.2 369.3l3.3 0.8 2.9 0-3.2-0.8z" fill="#00ff01" stroke="#0c0"/>
<path d="M330.6 371.7l3.4 0.9 2.8-1.4-3.4-0.8z" fill="#00ff54" stroke="#00cc43"/>
<path d="M227 369.2l3-1.1 3.3-0.7-3 1.1z" fill="#3aff00" stroke="#2ecc00"/>
<path d="M289.9 368.4l3.3 0.7 3 0.2-3.3-0.7z" fill="#15ff00" stroke="#10cc00"/>
<path d="M324.4 371.9l3.4 1 2.8-1.2-3.4-0.9z" fill="#00ff60" stroke="#00cc4c"/>
<path d="M377.7 357.9l3.6-1.2 2.7-4-3.6 1.6z" fill="#fc0" stroke="#cca300"/>
<path d="M371.4 362l3.6-0.6 2.7-3.5-3.6 1z" fill="#d6ff00" stroke="#abcc00"/>
<path d="M283.7 367.4l3.2 0.6 3 0.4-3.2-0.7z" fill="#2dff00" stroke="#24cc00"/>
<path d="M233.3 367.4l3-0.9 3.3-0.5-3 0.8z" fill="#5aff00" stroke="#48cc00"/>
<path d="M384 352.7l3.7-1.9 2.7-4.5-3.7 2.4z" fill="#ff5100" stroke="#cc4000"/>
<path d="M365.2 365.3l3.5-0.2 2.7-3.1-3.5 0.6z" fill="#87ff00" stroke="#6ccc00"/>
<path d="M390.4 346.3l3.7-2.6 2.7-5.1-3.7 3.1z" fill="#f00" stroke="#c00"/>
<path d="M358.9 367.8l3.5 0.2 2.8-2.7-3.6 0.1z" fill="#4aff00" stroke="#3bcc00"/>
<path d="M318.2 372l3.3 0.9 2.9-1-3.3-0.9z" fill="#00ff61" stroke="#00cc4d"/>
<path d="M277.4 366.4l3.2 0.5 3.1 0.5-3.2-0.6z" fill="#45ff00" stroke="#37cc00"/>
<path d="M239.6 366l3-0.6 3.3-0.4-3.1 0.5z" fill="#72ff00" stroke="#5bcc00"/>
<path d="M352.7 369.7l3.5 0.4 2.7-2.3-3.5-0.2z" fill="#1dff00" stroke="#17cc00"/>
<path d="M396.8 338.6l3.8-3.5 2.7-5.8-3.8 4.1z" fill="#cf0000" stroke="#a50000"/>
<path d="M271.1 365.5l3.2 0.4 3.1 0.5-3.2-0.5z" fill="#5cff00" stroke="#49cc00"/>
<path d="M312 371.6l3.3 0.9 2.9-0.5-3.3-1z" fill="#00ff53" stroke="#00cc42"/>
<path d="M245.9 365l3-0.3 3.3-0.1-3.1 0.2z" fill="#7fff00" stroke="#65cc00"/>
<path d="M264.8 364.9l3.1 0.2 3.2 0.4-3.2-0.3z" fill="#6fff00" stroke="#58cc00"/>
<path d="M252.2 364.6l3.1-0.1 3.2 0-3.1 0.1z" fill="#82ff00" stroke="#68cc00"/>
<path d="M258.5 364.5l3.1 0.1 3.2 0.3-3.1-0.2z" fill="#7cff00" stroke="#63cc00"/>
<path d="M346.5 371.1l3.4 0.6 2.8-2-3.5-0.5z" fill="#00ff0a" stroke="#00cc08"/>
<path d="M403.3 329.3l3.9-4.6 0.8-1.8-1.1-0.7-0.9 1.2z" fill="#7e0000" stroke="#640000"/>
<path d="M305.7 371l3.3 0.9 3-0.3-3.4-0.9z" fill="#00ff34" stroke="#00cc29"/>
<path d="M217.3 372.1l3-1.3 3.3-0.8-2.9 1.4z" fill="#10ff00" stroke="#0ccc00"/>
<path d="M340.2 372l3.5 0.8 2.8-1.7-3.5-0.7z" fill="#00ff3e" stroke="#00cc31"/>
<path d="M299.5 370.1l3.2 0.8 3 0.1-3.3-0.9z" fill="#00ff09" stroke="#00cc07"/>
<path d="M334 372.6l3.4 0.9 2.8-1.5-3.4-0.8z" fill="#00ff5e" stroke="#00cc4b"/>
<path d="M223.6 370l3-1.1 3.4-0.8-3 1.1z" fill="#3aff00" stroke="#2ecc00"/>
<path d="M293.2 369.1l3.3 0.7 3 0.3-3.3-0.8z" fill="#13ff00" stroke="#0fcc00"/>
<path d="M327.8 372.9l3.4 1 2.8-1.3-3.4-0.9z" fill="#00ff6f" stroke="#00cc58"/>
<path d="M375 361.4l3.7-0.9 2.6-3.8-3.6 1.2z" fill="#f7ff00" stroke="#c5cc00"/>
<path d="M368.7 365.1l3.6-0.3 2.7-3.4-3.6 0.6z" fill="#9eff00" stroke="#7ecc00"/>
<path d="M381.3 356.7l3.7-1.4 2.7-4.5-3.7 1.9z" fill="#ffa300" stroke="#cc8200"/>
<path d="M286.9 368l3.2 0.7 3.1 0.4-3.3-0.7z" fill="#2dff00" stroke="#24cc00"/>
<path d="M230 368.1l2.9-0.9 3.4-0.7-3 0.9z" fill="#5dff00" stroke="#4acc00"/>
<path d="M321.5 372.9l3.4 1.1 2.9-1.1-3.4-1z" fill="#00ff71" stroke="#00cc5a"/>
<path d="M362.4 368l3.6 0 2.7-2.9-3.5 0.2z" fill="#59ff00" stroke="#47cc00"/>
<path d="M387.7 350.8l3.8-2.1 2.6-5-3.7 2.6z" fill="#ff0400" stroke="#cc0300"/>
<path d="M356.2 370.1l3.5 0.5 2.7-2.6-3.5-0.2z" fill="#24ff00" stroke="#1ccc00"/>
<path d="M280.6 366.9l3.2 0.6 3.1 0.5-3.2-0.6z" fill="#47ff00" stroke="#38cc00"/>
<path d="M394.1 343.7l3.9-3 2.6-5.6-3.8 3.5z" fill="#f80000" stroke="#c60000"/>
<path d="M236.3 366.5l3-0.6 3.3-0.5-3 0.6z" fill="#78ff00" stroke="#60cc00"/>
<path d="M315.3 372.5l3.3 1 2.9-0.6-3.3-0.9z" fill="#00ff62" stroke="#00cc4e"/>
<path d="M407.2 324.7l1.2-1.5-0.4-0.3z" fill="#730000" stroke="#5c0000"/>
<path d="M349.9 371.7l3.5 0.7 2.8-2.3-3.5-0.4z" fill="#00ff06" stroke="#00cc04"/>
<path d="M274.3 365.9l3.2 0.5 3.1 0.5-3.2-0.5z" fill="#60ff00" stroke="#4ccc00"/>
<path d="M400.6 335.1l3.9-4 2.7-6.4-3.9 4.6z" fill="#a90000" stroke="#870000"/>
<path d="M242.6 365.4l3.1-0.4 3.2-0.3-3 0.3z" fill="#89ff00" stroke="#6dcc00"/>
<path d="M267.9 365.1l3.2 0.4 3.2 0.4-3.2-0.4z" fill="#75ff00" stroke="#5dcc00"/>
<path d="M248.9 364.7l3.1-0.2 3.3 0-3.1 0.1z" fill="#91ff00" stroke="#74cc00"/>
<path d="M343.7 372.8l3.5 0.9 2.7-2-3.4-0.6z" fill="#00ff43" stroke="#00cc35"/>
<path d="M309 371.9l3.4 0.9 2.9-0.3-3.3-0.9z" fill="#00ff41" stroke="#00cc34"/>
<path d="M261.6 364.6l3.2 0.2 3.1 0.3-3.1-0.2z" fill="#86ff00" stroke="#6bcc00"/>
<path d="M213.9 372.9l2.9-1.3 3.5-0.8-3 1.3z" fill="#10ff00" stroke="#0ccc00"/>
<path d="M255.3 364.5l3.1 0 3.2 0.1-3.1-0.1z" fill="#90ff00" stroke="#73cc00"/>
<path d="M337.4 373.5l3.5 1 2.8-1.7-3.5-0.8z" fill="#00ff6a" stroke="#00cc54"/>
<path d="M302.7 370.9l3.4 0.9 2.9 0.1-3.3-0.9z" fill="#00ff13" stroke="#00cc0f"/>
<path d="M220.3 370.8l2.9-1.1 3.4-0.8-3 1.1z" fill="#39ff00" stroke="#2dcc00"/>
<path d="M331.2 373.9l3.4 1.1 2.8-1.5-3.4-0.9z" fill="#00ff7f" stroke="#00cc65"/>
<path d="M296.5 369.8l3.2 0.8 3 0.3-3.2-0.8z" fill="#10ff00" stroke="#0ccc00"/>
<path d="M372.3 364.8l3.6-0.5 2.8-3.8-3.7 0.9z" fill="#b8ff00" stroke="#93cc00"/>
<path d="M378.7 360.5l3.6-0.9 2.7-4.3-3.7 1.4z" fill="#ffe500" stroke="#ccb700"/>
<path d="M324.9 374l3.4 1.1 2.9-1.2-3.4-1z" fill="#00ff83" stroke="#00cc68"/>
<path d="M366 368l3.6 0.1 2.7-3.3-3.6 0.3z" fill="#69ff00" stroke="#54cc00"/>
<path d="M385 355.3l3.8-1.7 2.7-4.9-3.8 2.1z" fill="#ff7200" stroke="#cc5b00"/>
<path d="M226.6 368.9l3-0.9 3.3-0.8-2.9 0.9z" fill="#5dff00" stroke="#4acc00"/>
<path d="M290.1 368.7l3.3 0.7 3.1 0.4-3.3-0.7z" fill="#2bff00" stroke="#2c0"/>
<path d="M359.7 370.6l3.6 0.3 2.7-2.9-3.6 0z" fill="#2dff00" stroke="#24cc00"/>
<path d="M391.5 348.7l3.7-2.4 2.8-5.6-3.9 3z" fill="#f00" stroke="#c00"/>
<path d="M318.6 373.5l3.4 1.1 2.9-0.6-3.4-1.1z" fill="#00ff73" stroke="#00cc5c"/>
<path d="M283.8 367.5l3.3 0.6 3 0.6-3.2-0.7z" fill="#47ff00" stroke="#38cc00"/>
<path d="M353.4 372.4l3.6 0.6 2.7-2.4-3.5-0.5z" fill="#0f0" stroke="#0c0"/>
<path d="M232.9 367.2l3.1-0.6 3.3-0.7-3 0.6z" fill="#7aff00" stroke="#61cc00"/>
<path d="M398 340.7l3.8-3.3 2.7-6.3-3.9 4z" fill="#d70000" stroke="#ac0000"/>
<path d="M277.5 366.4l3.2 0.5 3.1 0.6-3.2-0.6z" fill="#63ff00" stroke="#4fcc00"/>
<path d="M347.2 373.7l3.5 0.9 2.7-2.2-3.5-0.7z" fill="#00ff48" stroke="#00cc39"/>
<path d="M312.4 372.8l3.3 1 2.9-0.3-3.3-1z" fill="#00ff50" stroke="#00cc40"/>
<path d="M239.3 365.9l3.1-0.4 3.3-0.5-3.1 0.4z" fill="#90ff00" stroke="#73cc00"/>
<path d="M210.5 373.7l2.9-1.2 3.4-0.9-2.9 1.3z" fill="#0fff00" stroke="#0ccc00"/>
<path d="M404.5 331.1l4-4.3 1.1-2.9-1.2-0.7-1.2 1.5z" fill="#820000" stroke="#680000"/>
<path d="M271.1 365.5l3.2 0.3 3.2 0.6-3.2-0.5z" fill="#7bff00" stroke="#62cc00"/>
<path d="M245.7 365l3.1-0.2 3.2-0.3-3.1 0.2z" fill="#9dff00" stroke="#7dcc00"/>
<path d="M340.9 374.5l3.5 1 2.8-1.8-3.5-0.9z" fill="#00ff76" stroke="#00cc5e"/>
<path d="M264.8 364.8l3.1 0.3 3.2 0.4-3.2-0.4z" fill="#8eff00" stroke="#71cc00"/>
<path d="M252 364.5l3.2 0 3.2 0-3.1 0z" fill="#a1ff00" stroke="#80cc00"/>
<path d="M258.4 364.5l3.2 0.1 3.2 0.2-3.2-0.2z" fill="#9bff00" stroke="#7ccc00"/>
<path d="M306.1 371.8l3.3 0.9 3 0.1-3.4-0.9z" fill="#00ff1f" stroke="#00cc18"/>
<path d="M334.6 375l3.5 1.1 2.8-1.6-3.5-1z" fill="#00ff90" stroke="#00cc73"/>
<path d="M216.8 371.6l3-1 3.4-0.9-2.9 1.1z" fill="#37ff00" stroke="#2ccc00"/>
<path d="M299.7 370.6l3.4 0.9 3 0.3-3.4-0.9z" fill="#0cff00" stroke="#09cc00"/>
<path d="M328.3 375.1l3.5 1.1 2.8-1.2-3.4-1.1z" fill="#00ff97" stroke="#00cc78"/>
<path d="M375.9 364.3l3.7-0.5 2.7-4.2-3.6 0.9z" fill="#d5ff00" stroke="#ac0"/>
<path d="M369.6 368.1l3.6-0.1 2.7-3.7-3.6 0.5z" fill="#7bff00" stroke="#62cc00"/>
<path d="M382.3 359.6l3.7-1.2 2.8-4.8-3.8 1.7z" fill="#ffc100" stroke="#cc9a00"/>
<path d="M223.2 369.7l3-0.8 3.4-0.9-3 0.9z" fill="#5cff00" stroke="#49cc00"/>
<path d="M363.3 370.9l3.6 0.4 2.7-3.2-3.6-0.1z" fill="#37ff00" stroke="#2ccc00"/>
<path d="M293.4 369.4l3.3 0.7 3 0.5-3.2-0.8z" fill="#29ff00" stroke="#20cc00"/>
<path d="M388.8 353.6l3.7-1.8 2.7-5.5-3.7 2.4z" fill="#ff2c00" stroke="#cc2300"/>
<path d="M322 374.6l3.4 1.1 2.9-0.6-3.4-1.1z" fill="#00ff87" stroke="#00cc6c"/>
<path d="M357 373l3.5 0.7 2.8-2.8-3.6-0.3z" fill="#03ff00" stroke="#02cc00"/>
<path d="M395.2 346.3l3.9-2.7 2.7-6.2-3.8 3.3z" fill="#f00" stroke="#c00"/>
<path d="M287.1 368.1l3.3 0.6 3 0.7-3.3-0.7z" fill="#47ff00" stroke="#38cc00"/>
<path d="M229.6 368l3-0.6 3.4-0.8-3.1 0.6z" fill="#7bff00" stroke="#62cc00"/>
<path d="M350.7 374.6l3.5 0.8 2.8-2.4-3.6-0.6z" fill="#00ff4c" stroke="#00cc3c"/>
<path d="M315.7 373.8l3.4 1 2.9-0.2-3.4-1.1z" fill="#00ff60" stroke="#00cc4c"/>
<path d="M408.5 326.8l2-2.5-0.9-0.4z" fill="#750000" stroke="#5d0000"/>
<path d="M401.8 337.4l3.9-3.6 2.8-7-4 4.3z" fill="#b20000" stroke="#8e0000"/>
<path d="M280.7 366.9l3.3 0.5 3.1 0.7-3.3-0.6z" fill="#65ff00" stroke="#50cc00"/>
<path d="M236 366.6l3-0.4 3.4-0.7-3.1 0.4z" fill="#94ff00" stroke="#76cc00"/>
<path d="M344.4 375.5l3.5 1.1 2.8-2-3.5-0.9z" fill="#00ff84" stroke="#00cc69"/>
<path d="M274.3 365.8l3.3 0.5 3.1 0.6-3.2-0.5z" fill="#7fff00" stroke="#65cc00"/>
<path d="M242.4 365.5l3.1-0.3 3.3-0.4-3.1 0.2z" fill="#a5ff00" stroke="#84cc00"/>
<path d="M309.4 372.7l3.4 0.9 2.9 0.2-3.3-1z" fill="#00ff2c" stroke="#00cc23"/>
<path d="M338.1 376.1l3.4 1.1 2.9-1.7-3.5-1z" fill="#00ffa3" stroke="#00cc82"/>
<path d="M267.9 365.1l3.3 0.3 3.1 0.4-3.2-0.3z" fill="#95ff00" stroke="#7c0"/>
<path d="M248.8 364.8l3.1-0.1 3.3-0.2-3.2 0z" fill="#aeff00" stroke="#8bcc00"/>
<path d="M261.6 364.6l3.1 0.2 3.2 0.3-3.1-0.3z" fill="#a5ff00" stroke="#84cc00"/>
<path d="M255.2 364.5l3.1 0 3.3 0.1-3.2-0.1z" fill="#aeff00" stroke="#8bcc00"/>
<path d="M213.4 372.5l3-0.9 3.4-1-3 1z" fill="#35ff00" stroke="#2acc00"/>
<path d="M331.8 376.2l3.4 1.2 2.9-1.3-3.5-1.1z" fill="#00ffad" stroke="#00cc8a"/>
<path d="M303.1 371.5l3.3 0.8 3 0.4-3.3-0.9z" fill="#08ff00" stroke="#06cc00"/>
<path d="M373.2 368l3.7-0.2 2.7-4-3.7 0.5z" fill="#90ff00" stroke="#73cc00"/>
<path d="M379.6 363.8l3.7-0.7 2.7-4.7-3.7 1.2z" fill="#f4ff00" stroke="#c3cc00"/>
<path d="M366.9 371.3l3.6 0.2 2.7-3.5-3.6 0.1z" fill="#42ff00" stroke="#34cc00"/>
<path d="M386 358.4l3.8-1.3 2.7-5.3-3.7 1.8z" fill="#f90" stroke="#cc7a00"/>
<path d="M219.8 370.6l3-0.7 3.4-1-3 0.8z" fill="#59ff00" stroke="#47cc00"/>
<path d="M296.7 370.1l3.4 0.8 3 0.6-3.4-0.9z" fill="#27ff00" stroke="#1fcc00"/>
<path d="M360.5 373.7l3.6 0.6 2.8-3-3.6-0.4z" fill="#07ff00" stroke="#05cc00"/>
<path d="M325.4 375.7l3.5 1.1 2.9-0.6-3.5-1.1z" fill="#00ff9c" stroke="#00cc7c"/>
<path d="M392.5 351.8l3.8-2.1 2.8-6.1-3.9 2.7z" fill="#f00" stroke="#c00"/>
<path d="M354.2 375.4l3.5 0.9 2.8-2.6-3.5-0.7z" fill="#00ff51" stroke="#00cc40"/>
<path d="M226.2 368.9l3-0.6 3.4-0.9-3 0.6z" fill="#79ff00" stroke="#60cc00"/>
<path d="M290.4 368.7l3.3 0.7 3 0.7-3.3-0.7z" fill="#46ff00" stroke="#38cc00"/>
<path d="M399.1 343.6l3.9-3 2.7-6.8-3.9 3.6z" fill="#e50000" stroke="#b70000"/>
<path d="M319.1 374.8l3.4 1.1 2.9-0.2-3.4-1.1z" fill="#00ff73" stroke="#00cc5c"/>
<path d="M347.9 376.6l3.5 1.1 2.8-2.3-3.5-0.8z" fill="#00ff92" stroke="#00cc74"/>
<path d="M284 367.4l3.3 0.6 3.1 0.7-3.3-0.6z" fill="#6f0" stroke="#51cc00"/>
<path d="M232.6 367.4l3.1-0.4 3.3-0.8-3 0.4z" fill="#94ff00" stroke="#76cc00"/>
<path d="M405.7 333.8l4-4.1 1.7-4.9-0.9-0.5-2 2.5z" fill="#890000" stroke="#6d0000"/>
<path d="M341.5 377.2l3.5 1.2 2.9-1.8-3.5-1.1z" fill="#00ffb8" stroke="#00cc93"/>
<path d="M312.8 373.6l3.4 1 2.9 0.2-3.4-1z" fill="#00ff3c" stroke="#00cc30"/>
<path d="M277.6 366.3l3.2 0.5 3.2 0.6-3.3-0.5z" fill="#82ff00" stroke="#68cc00"/>
<path d="M239 366.2l3.1-0.3 3.4-0.7-3.1 0.3z" fill="#a9ff00" stroke="#87cc00"/>
<path d="M271.2 365.4l3.2 0.4 3.2 0.5-3.3-0.5z" fill="#9bff00" stroke="#7ccc00"/>
<path d="M335.2 377.4l3.5 1.3 2.8-1.5-3.4-1.1z" fill="#00ffc6" stroke="#00cc9e"/>
<path d="M245.5 365.2l3.1-0.1 3.3-0.4-3.1 0.1z" fill="#b7ff00" stroke="#92cc00"/>
<path d="M264.7 364.8l3.2 0.2 3.3 0.4-3.3-0.3z" fill="#aeff00" stroke="#8bcc00"/>
<path d="M306.4 372.3l3.4 0.9 3 0.4-3.4-0.9z" fill="#03ff00" stroke="#02cc00"/>
<path d="M251.9 364.7l3.1 0 3.3-0.2-3.1 0z" fill="#bcff00" stroke="#96cc00"/>
<path d="M258.3 364.5l3.2 0.2 3.2 0.1-3.1-0.2z" fill="#b9ff00" stroke="#94cc00"/>
<path d="M376.9 367.8l3.7-0.2 2.7-4.5-3.7 0.7z" fill="#a6ff00" stroke="#84cc00"/>
<path d="M370.5 371.5l3.6 0.3 2.8-4-3.7 0.2z" fill="#4eff00" stroke="#3ecc00"/>
<path d="M383.3 363.1l3.8-0.8 2.7-5.2-3.8 1.3z" fill="#ffea00" stroke="#cb0"/>
<path d="M364.1 374.3l3.6 0.6 2.8-3.4-3.6-0.2z" fill="#0cff00" stroke="#09cc00"/>
<path d="M328.9 376.8l3.4 1.2 2.9-0.6-3.4-1.2z" fill="#00ffb4" stroke="#00cc90"/>
<path d="M216.4 371.6l3-0.7 3.4-1-3 0.7z" fill="#5f0" stroke="#4c0"/>
<path d="M389.8 357.1l3.8-1.5 2.7-5.9-3.8 2.1z" fill="#f60" stroke="#cc5100"/>
<path d="M300.1 370.9l3.3 0.8 3 0.6-3.3-0.8z" fill="#23ff00" stroke="#1ccc00"/>
<path d="M357.7 376.3l3.6 0.9 2.8-2.9-3.6-0.6z" fill="#0f5" stroke="#0c4"/>
<path d="M396.3 349.7l3.9-2.4 2.8-6.7-3.9 3z" fill="#f00" stroke="#c00"/>
<path d="M351.4 377.7l3.6 1.1 2.7-2.5-3.5-0.9z" fill="#00ffa1" stroke="#00cc80"/>
<path d="M222.8 369.9l3-0.6 3.4-1-3 0.6z" fill="#76ff00" stroke="#5ecc00"/>
<path d="M322.5 375.9l3.5 1.1 2.9-0.2-3.5-1.1z" fill="#0f8" stroke="#00cc6c"/>
<path d="M293.7 369.4l3.3 0.8 3.1 0.7-3.4-0.8z" fill="#45ff00" stroke="#37cc00"/>
<path d="M403 340.6l3.9-3.3 2.8-7.6-4 4.1z" fill="#c30000" stroke="#9c0000"/>
<path d="M345 378.4l3.6 1.3 2.8-2-3.5-1.1z" fill="#00ffcf" stroke="#00cca5"/>
<path d="M409.7 329.7l3.7-4.1-2-0.8z" fill="#7b0000" stroke="#620000"/>
<path d="M229.2 368.3l3.1-0.4 3.4-0.9-3.1 0.4z" fill="#92ff00" stroke="#74cc00"/>
<path d="M287.3 368l3.3 0.7 3.1 0.7-3.3-0.7z" fill="#6f0" stroke="#51cc00"/>
<path d="M316.2 374.6l3.4 1.1 2.9 0.2-3.4-1.1z" fill="#00ff4d" stroke="#00cc3d"/>
<path d="M338.7 378.7l3.5 1.3 2.8-1.6-3.5-1.2z" fill="#00ffe0" stroke="#00ccb3"/>
<path d="M235.7 367l3.1-0.3 3.3-0.8-3.1 0.3z" fill="#a9ff00" stroke="#87cc00"/>
<path d="M280.8 366.8l3.3 0.5 3.2 0.7-3.3-0.6z" fill="#85ff00" stroke="#6acc00"/>
<path d="M309.8 373.2l3.4 1 3 0.4-3.4-1z" fill="#00ff07" stroke="#00cc05"/>
<path d="M274.4 365.8l3.3 0.4 3.1 0.6-3.2-0.5z" fill="#9fff00" stroke="#7fcc00"/>
<path d="M242.1 365.9l3.2-0.1 3.3-0.7-3.1 0.1z" fill="#bcff00" stroke="#96cc00"/>
<path d="M374.1 371.8l3.7 0.2 2.8-4.4-3.7 0.2z" fill="#5dff00" stroke="#4acc00"/>
<path d="M380.6 367.6l3.7-0.3 2.8-5-3.8 0.8z" fill="#bfff00" stroke="#98cc00"/>
<path d="M267.9 365l3.3 0.4 3.2 0.4-3.2-0.4z" fill="#b4ff00" stroke="#90cc00"/>
<path d="M332.3 378l3.5 1.2 2.9-0.5-3.5-1.3z" fill="#00ffce" stroke="#00cca4"/>
<path d="M367.7 374.9l3.7 0.6 2.7-3.7-3.6-0.3z" fill="#1f0" stroke="#0dcc00"/>
<path d="M248.6 365.1l3.1 0 3.3-0.4-3.1 0z" fill="#c6ff00" stroke="#9ecc00"/>
<path d="M387.1 362.3l3.7-1 2.8-5.7-3.8 1.5z" fill="#ffc800" stroke="#cca000"/>
<path d="M261.5 364.7l3.2 0.2 3.2 0.1-3.2-0.2z" fill="#c2ff00" stroke="#9bcc00"/>
<path d="M255 364.7l3.2 0.1 3.3-0.1-3.2-0.2z" fill="#c9ff00" stroke="#a0cc00"/>
<path d="M361.3 377.2l3.6 1 2.8-3.3-3.6-0.6z" fill="#00ff59" stroke="#00cc47"/>
<path d="M303.4 371.7l3.4 0.9 3 0.6-3.4-0.9z" fill="#1fff00" stroke="#18cc00"/>
<path d="M393.6 355.6l3.8-1.8 2.8-6.5-3.9 2.4z" fill="#f20" stroke="#cc1b00"/>
<path d="M355 378.8l3.5 1.2 2.8-2.8-3.6-0.9z" fill="#00ffb1" stroke="#00cc8d"/>
<path d="M326 377l3.5 1.2 2.8-0.2-3.4-1.2z" fill="#00ff9f" stroke="#00cc7f"/>
<path d="M219.4 370.9l3-0.5 3.4-1.1-3 0.6z" fill="#71ff00" stroke="#5acc00"/>
<path d="M400.2 347.3l3.9-2.6 2.8-7.4-3.9 3.3z" fill="#f90000" stroke="#c70000"/>
<path d="M297 370.2l3.4 0.7 3 0.8-3.3-0.8z" fill="#42ff00" stroke="#34cc00"/>
<path d="M348.6 379.7l3.5 1.3 2.9-2.2-3.6-1.1z" fill="#00ffe8" stroke="#00ccb9"/>
<path d="M319.6 375.7l3.5 1.1 2.9 0.2-3.5-1.1z" fill="#00ff60" stroke="#00cc4c"/>
<path d="M225.8 369.3l3.1-0.4 3.4-1-3.1 0.4z" fill="#8eff00" stroke="#71cc00"/>
<path d="M290.6 368.7l3.3 0.7 3.1 0.8-3.3-0.8z" fill="#65ff00" stroke="#50cc00"/>
<path d="M342.2 380l3.5 1.4 2.9-1.7-3.6-1.3z" fill="#00fffe" stroke="#00cccb"/>
<path d="M406.9 337.3l4-3.7 2.6-7.9-0.1-0.1-3.7 4.1z" fill="#950000" stroke="#700"/>
<path d="M232.3 367.9l3.1-0.2 3.4-1-3.1 0.3z" fill="#a7ff00" stroke="#85cc00"/>
<path d="M284.1 367.3l3.3 0.6 3.2 0.8-3.3-0.7z" fill="#86ff00" stroke="#6bcc00"/>
<path d="M313.2 374.2l3.4 1 3 0.5-3.4-1.1z" fill="#00ff16" stroke="#0c1"/>
<path d="M377.8 372l3.7 0.1 2.8-4.8-3.7 0.3z" fill="#6cff00" stroke="#56cc00"/>
<path d="M335.8 379.2l3.6 1.4 2.8-0.6-3.5-1.3z" fill="#00ffeb" stroke="#00ccbc"/>
<path d="M371.4 375.5l3.6 0.6 2.8-4.1-3.7-0.2z" fill="#17ff00" stroke="#12cc00"/>
<path d="M384.3 367.3l3.8-0.5 2.7-5.5-3.7 1z" fill="#dbff00" stroke="#afcc00"/>
<path d="M238.8 366.7l3.1-0.1 3.4-0.8-3.2 0.1z" fill="#bcff00" stroke="#96cc00"/>
<path d="M277.7 366.2l3.3 0.5 3.1 0.6-3.3-0.5z" fill="#a3ff00" stroke="#82cc00"/>
<path d="M364.9 378.2l3.7 0.9 2.8-3.6-3.7-0.6z" fill="#00ff5d" stroke="#00cc4a"/>
<path d="M390.8 361.3l3.8-1.1 2.8-6.4-3.8 1.8z" fill="#ffa400" stroke="#cc8300"/>
<path d="M245.3 365.8l3.1-0.1 3.3-0.6-3.1 0z" fill="#cbff00" stroke="#a2cc00"/>
<path d="M271.2 365.4l3.3 0.4 3.2 0.4-3.3-0.4z" fill="#baff00" stroke="#94cc00"/>
<path d="M358.5 380l3.7 1.2 2.7-3-3.6-1z" fill="#00ffc2" stroke="#00cc9b"/>
<path d="M306.8 372.6l3.4 0.9 3 0.7-3.4-1z" fill="#1aff00" stroke="#14cc00"/>
<path d="M251.7 365.1l3.2 0 3.3-0.3-3.2-0.1z" fill="#d3ff00" stroke="#a8cc00"/>
<path d="M264.7 364.9l3.3 0.3 3.2 0.2-3.3-0.4z" fill="#caff00" stroke="#a1cc00"/>
<path d="M258.2 364.8l3.2 0.2 3.3-0.1-3.2-0.2z" fill="#d3ff00" stroke="#a8cc00"/>
<path d="M329.5 378.2l3.4 1.2 2.9-0.2-3.5-1.2z" fill="#00ffb8" stroke="#00cc93"/>
<path d="M397.4 353.8l3.9-1.9 2.8-7.2-3.9 2.6z" fill="#f00" stroke="#c00"/>
<path d="M352.1 381l3.6 1.4 2.8-2.4-3.5-1.2z" fill="#00fdff" stroke="#00cacc"/>
<path d="M300.4 370.9l3.3 0.9 3.1 0.8-3.4-0.9z" fill="#3fff00" stroke="#32cc00"/>
<path d="M404.1 344.7l4-2.9 2.8-8.2-4 3.7z" fill="#da0000" stroke="#ae0000"/>
<path d="M323.1 376.8l3.4 1.1 3 0.3-3.5-1.2z" fill="#00ff76" stroke="#00cc5e"/>
<path d="M345.7 381.4l3.6 1.4 2.8-1.8-3.5-1.3z" fill="#00ecff" stroke="#00bccc"/>
<path d="M222.4 370.4l3.1-0.3 3.4-1.2-3.1 0.4z" fill="#8f0" stroke="#6ccc00"/>
<path d="M410.9 333.6l4-4.1 1-3-2.4-0.8z" fill="#830000" stroke="#680000"/>
<path d="M293.9 369.4l3.4 0.7 3.1 0.8-3.4-0.7z" fill="#64ff00" stroke="#50cc00"/>
<path d="M228.9 368.9l3.1-0.2 3.4-1-3.1 0.2z" fill="#a3ff00" stroke="#82cc00"/>
<path d="M339.4 380.6l3.5 1.3 2.8-0.5-3.5-1.4z" fill="#00f8ff" stroke="#00c6cc"/>
<path d="M316.6 375.2l3.5 1.1 3 0.5-3.5-1.1z" fill="#00ff28" stroke="#00cc20"/>
<path d="M375 376.1l3.8 0.6 2.7-4.6-3.7-0.1z" fill="#1eff00" stroke="#18cc00"/>
<path d="M381.5 372.1l3.8 0 2.8-5.3-3.8 0.5z" fill="#7eff00" stroke="#64cc00"/>
<path d="M287.4 367.9l3.4 0.6 3.1 0.9-3.3-0.7z" fill="#87ff00" stroke="#6ccc00"/>
<path d="M368.6 379.1l3.7 0.9 2.7-3.9-3.6-0.6z" fill="#00ff60" stroke="#00cc4c"/>
<path d="M388.1 366.8l3.8-0.5 2.7-6.1-3.8 1.1z" fill="#f9ff00" stroke="#c7cc00"/>
<path d="M235.4 367.7l3.1-0.1 3.4-1-3.1 0.1z" fill="#b9ff00" stroke="#94cc00"/>
<path d="M362.2 381.2l3.6 1.2 2.8-3.3-3.7-0.9z" fill="#00ffd4" stroke="#00cca9"/>
<path d="M281 366.7l3.3 0.5 3.1 0.7-3.3-0.6z" fill="#a5ff00" stroke="#84cc00"/>
<path d="M394.6 360.2l3.9-1.3 2.8-7-3.9 1.9z" fill="#ff7a00" stroke="#cc6100"/>
<path d="M241.9 366.6l3.2 0 3.3-0.9-3.1 0.1z" fill="#cbff00" stroke="#a2cc00"/>
<path d="M332.9 379.4l3.6 1.3 2.9-0.1-3.6-1.4z" fill="#00ffd4" stroke="#00cca9"/>
<path d="M310.2 373.5l3.4 1 3 0.7-3.4-1z" fill="#14ff00" stroke="#10cc00"/>
<path d="M274.5 365.8l3.3 0.4 3.2 0.5-3.3-0.5z" fill="#beff00" stroke="#98cc00"/>
<path d="M355.7 382.4l3.6 1.4 2.9-2.6-3.7-1.2z" fill="#00ecff" stroke="#00bccc"/>
<path d="M248.4 365.7l3.2 0.1 3.3-0.7-3.2 0z" fill="#d8ff00" stroke="#accc00"/>
<path d="M268 365.2l3.2 0.3 3.3 0.3-3.3-0.4z" fill="#d1ff00" stroke="#a7cc00"/>
<path d="M401.3 351.9l3.9-2.2 2.9-7.9-4 2.9z" fill="#f00" stroke="#c00"/>
<path d="M254.9 365.1l3.2 0.2 3.3-0.3-3.2-0.2z" fill="#deff00" stroke="#b1cc00"/>
<path d="M261.4 365l3.3 0.2 3.3 0-3.3-0.3z" fill="#dcff00" stroke="#b0cc00"/>
<path d="M349.3 382.8l3.6 1.5 2.8-1.9-3.6-1.4z" fill="#00d7ff" stroke="#00accc"/>
<path d="M303.7 371.8l3.5 0.8 3 0.9-3.4-0.9z" fill="#3bff00" stroke="#2fcc00"/>
<path d="M326.5 377.9l3.5 1.2 2.9 0.3-3.4-1.2z" fill="#00ff8e" stroke="#00cc71"/>
<path d="M408.1 341.8l4-3.3 2.8-9-4 4.1z" fill="#b90000" stroke="#940000"/>
<path d="M414.9 329.5l2.3-2.5-1.3-0.5z" fill="#760000" stroke="#5e0000"/>
<path d="M297.3 370.1l3.4 0.7 3 1-3.3-0.9z" fill="#62ff00" stroke="#4ecc00"/>
<path d="M342.9 381.9l3.6 1.5 2.8-0.6-3.6-1.4z" fill="#00e3ff" stroke="#00b5cc"/>
<path d="M378.8 376.7l3.7 0.5 2.8-5.1-3.8 0z" fill="#26ff00" stroke="#1ecc00"/>
<path d="M320.1 376.3l3.5 1.1 2.9 0.5-3.4-1.1z" fill="#00ff3c" stroke="#00cc30"/>
<path d="M225.5 370.1l3.1-0.2 3.4-1.2-3.1 0.2z" fill="#9cff00" stroke="#7ccc00"/>
<path d="M372.3 380l3.7 1 2.8-4.3-3.8-0.6z" fill="#00ff63" stroke="#00cc4f"/>
<path d="M385.3 372.1l3.8 0 2.8-5.8-3.8 0.5z" fill="#91ff00" stroke="#74cc00"/>
<path d="M365.8 382.4l3.7 1.3 2.8-3.7-3.7-0.9z" fill="#00ffe7" stroke="#00ccb8"/>
<path d="M391.9 366.3l3.8-0.7 2.8-6.7-3.9 1.3z" fill="#ffe700" stroke="#ccb800"/>
<path d="M290.8 368.5l3.3 0.7 3.2 0.9-3.4-0.7z" fill="#86ff00" stroke="#6bcc00"/>
<path d="M232 368.7l3.1-0.1 3.4-1-3.1 0.1z" fill="#b4ff00" stroke="#90cc00"/>
<path d="M336.5 380.7l3.5 1.4 2.9-0.2-3.5-1.3z" fill="#00fff3" stroke="#00ccc2"/>
<path d="M359.3 383.8l3.7 1.5 2.8-2.9-3.6-1.2z" fill="#00d9ff" stroke="#00adcc"/>
<path d="M398.5 358.9l3.9-1.5 2.8-7.7-3.9 2.2z" fill="#ff3b00" stroke="#cc2f00"/>
<path d="M284.3 367.2l3.3 0.6 3.2 0.7-3.4-0.6z" fill="#a7ff00" stroke="#85cc00"/>
<path d="M313.6 374.5l3.5 1 3 0.8-3.5-1.1z" fill="#0dff00" stroke="#0acc00"/>
<path d="M238.5 367.6l3.2 0 3.4-1-3.2 0z" fill="#c9ff00" stroke="#a0cc00"/>
<path d="M277.8 366.2l3.3 0.5 3.2 0.5-3.3-0.5z" fill="#c2ff00" stroke="#9bcc00"/>
<path d="M352.9 384.3l3.6 1.6 2.8-2.1-3.6-1.4z" fill="#00c0ff" stroke="#09c"/>
<path d="M245.1 366.6l3.2 0.1 3.3-0.9-3.2-0.1z" fill="#d9ff00" stroke="#adcc00"/>
<path d="M405.2 349.7l4-2.5 2.9-8.7-4 3.3z" fill="#f90000" stroke="#c70000"/>
<path d="M271.2 365.5l3.3 0.4 3.3 0.3-3.3-0.4z" fill="#d6ff00" stroke="#abcc00"/>
<path d="M251.6 365.8l3.2 0.2 3.3-0.7-3.2-0.2z" fill="#e4ff00" stroke="#b6cc00"/>
<path d="M330 379.1l3.6 1.3 2.9 0.3-3.6-1.3z" fill="#00ffa9" stroke="#00cc87"/>
<path d="M307.2 372.6l3.4 0.9 3 1-3.4-1z" fill="#37ff00" stroke="#2ccc00"/>
<path d="M264.7 365.2l3.3 0.3 3.2 0-3.2-0.3z" fill="#e3ff00" stroke="#b5cc00"/>
<path d="M258.1 365.3l3.3 0.3 3.3-0.4-3.3-0.2z" fill="#e7ff00" stroke="#b8cc00"/>
<path d="M346.5 383.4l3.6 1.5 2.8-0.6-3.6-1.5z" fill="#0cf" stroke="#00a3cc"/>
<path d="M412.1 338.5l4-3.6 2.3-7.6-1.2-0.3-2.3 2.5z" fill="#910000" stroke="#740000"/>
<path d="M382.5 377.2l3.8 0.5 2.8-5.6-3.8 0z" fill="#2eff00" stroke="#24cc00"/>
<path d="M376 381l3.7 1 2.8-4.8-3.7-0.5z" fill="#00ff65" stroke="#00cc50"/>
<path d="M300.7 370.8l3.4 0.8 3.1 1-3.5-0.8z" fill="#5fff00" stroke="#4ccc00"/>
<path d="M323.6 377.4l3.5 1.1 2.9 0.6-3.5-1.2z" fill="#00ff52" stroke="#00cc41"/>
<path d="M389.1 372.1l3.8 0 2.8-6.5-3.8 0.7z" fill="#a6ff00" stroke="#84cc00"/>
<path d="M369.5 383.7l3.7 1.3 2.8-4-3.7-1z" fill="#00fffb" stroke="#00ccc8"/>
<path d="M395.7 365.6l3.9-0.8 2.8-7.4-3.9 1.5z" fill="#ffc800" stroke="#cca000"/>
<path d="M363 385.3l3.6 1.6 2.9-3.2-3.7-1.3z" fill="#00c5ff" stroke="#009dcc"/>
<path d="M340 382.1l3.6 1.4 2.9-0.1-3.6-1.5z" fill="#00f2ff" stroke="#00c1cc"/>
<path d="M294.1 369.2l3.4 0.7 3.2 0.9-3.4-0.7z" fill="#86ff00" stroke="#6bcc00"/>
<path d="M228.6 369.9l3.1 0 3.4-1.3-3.1 0.1z" fill="#adff00" stroke="#8acc00"/>
<path d="M317.1 375.5l3.5 1 3 0.9-3.5-1.1z" fill="#06ff00" stroke="#04cc00"/>
<path d="M402.4 357.4l4-1.7 2.8-8.5-4 2.5z" fill="#f00" stroke="#c00"/>
<path d="M356.5 385.9l3.7 1.7 2.8-2.3-3.7-1.5z" fill="#00a7ff" stroke="#0085cc"/>
<path d="M287.6 367.8l3.4 0.6 3.1 0.8-3.3-0.7z" fill="#a8ff00" stroke="#86cc00"/>
<path d="M235.1 368.6l3.2 0.1 3.4-1.1-3.2 0z" fill="#c3ff00" stroke="#9ccc00"/>
<path d="M333.6 380.4l3.5 1.3 2.9 0.4-3.5-1.4z" fill="#00ffc6" stroke="#00cc9e"/>
<path d="M281.1 366.7l3.3 0.5 3.2 0.6-3.3-0.6z" fill="#c5ff00" stroke="#9dcc00"/>
<path d="M241.7 367.6l3.2 0.1 3.4-1-3.2-0.1z" fill="#d6ff00" stroke="#abcc00"/>
<path d="M310.6 373.5l3.5 1 3 1-3.5-1z" fill="#31ff00" stroke="#27cc00"/>
<path d="M409.2 347.2l4-2.7 2.9-9.6-4 3.6z" fill="#dc0000" stroke="#b00000"/>
<path d="M350.1 384.9l3.6 1.6 2.8-0.6-3.6-1.6z" fill="#00b3ff" stroke="#008fcc"/>
<path d="M248.3 366.7l3.2 0.1 3.3-0.8-3.2-0.2z" fill="#e4ff00" stroke="#b6cc00"/>
<path d="M274.5 365.9l3.4 0.5 3.2 0.3-3.3-0.5z" fill="#dbff00" stroke="#afcc00"/>
<path d="M254.8 366l3.3 0.2 3.3-0.6-3.3-0.3z" fill="#edff00" stroke="#bdcc00"/>
<path d="M268 365.5l3.3 0.4 3.2 0-3.3-0.4z" fill="#e9ff00" stroke="#bacc00"/>
<path d="M261.4 365.6l3.3 0.3 3.3-0.4-3.3-0.3z" fill="#efff00" stroke="#bfcc00"/>
<path d="M379.7 382l3.8 1 2.8-5.3-3.8-0.5z" fill="#00ff67" stroke="#00cc52"/>
<path d="M386.3 377.7l3.8 0.5 2.8-6.1-3.8 0z" fill="#38ff00" stroke="#2ccc00"/>
<path d="M373.2 385l3.7 1.4 2.8-4.4-3.7-1z" fill="#00f5ff" stroke="#00c4cc"/>
<path d="M327.1 378.5l3.5 1.2 3 0.7-3.6-1.3z" fill="#00ff6a" stroke="#00cc54"/>
<path d="M392.9 372.1l3.8-0.2 2.9-7.1-3.9 0.8z" fill="#bdff00" stroke="#97cc00"/>
<path d="M304.1 371.6l3.4 0.9 3.1 1-3.4-0.9z" fill="#5cff00" stroke="#49cc00"/>
<path d="M366.6 386.9l3.7 1.7 2.9-3.6-3.7-1.3z" fill="#00afff" stroke="#008ccc"/>
<path d="M343.6 383.5l3.6 1.5 2.9-0.1-3.6-1.5z" fill="#00dbff" stroke="#00afcc"/>
<path d="M399.6 364.8l3.9-0.9 2.9-8.2-4 1.7z" fill="#ffa500" stroke="#cc8400"/>
<path d="M360.2 387.6l3.6 1.8 2.8-2.5-3.6-1.6z" fill="#008dff" stroke="#0070cc"/>
<path d="M297.5 369.9l3.5 0.8 3.1 0.9-3.4-0.8z" fill="#84ff00" stroke="#69cc00"/>
<path d="M320.6 376.5l3.5 1.1 3 0.9-3.5-1.1z" fill="#00ff06" stroke="#00cc04"/>
<path d="M406.4 355.7l3.9-1.9 2.9-9.3-4 2.7z" fill="#f00" stroke="#c00"/>
<path d="M231.7 369.9l3.1 0 3.5-1.2-3.2-0.1z" fill="#bcff00" stroke="#96cc00"/>
<path d="M291 368.4l3.4 0.7 3.1 0.8-3.4-0.7z" fill="#a8ff00" stroke="#86cc00"/>
<path d="M337.1 381.7l3.6 1.4 2.9 0.4-3.6-1.4z" fill="#00ffe5" stroke="#00ccb7"/>
<path d="M353.7 386.5l3.6 1.7 2.9-0.6-3.7-1.7z" fill="#0098ff" stroke="#0079cc"/>
<path d="M238.3 368.7l3.2 0.1 3.4-1.1-3.2-0.1z" fill="#d0ff00" stroke="#a6cc00"/>
<path d="M314.1 374.5l3.5 0.9 3 1.1-3.5-1z" fill="#2bff00" stroke="#2c0"/>
<path d="M284.4 367.2l3.4 0.6 3.2 0.6-3.4-0.6z" fill="#c7ff00" stroke="#9fcc00"/>
<path d="M383.5 383l3.7 1 2.9-5.8-3.8-0.5z" fill="#00ff68" stroke="#00cc53"/>
<path d="M376.9 386.4l3.7 1.4 2.9-4.8-3.8-1z" fill="#00e7ff" stroke="#00b8cc"/>
<path d="M244.9 367.7l3.2 0.1 3.4-1-3.2-0.1z" fill="#e1ff00" stroke="#b4cc00"/>
<path d="M390.1 378.2l3.8 0.4 2.8-6.7-3.8 0.2z" fill="#4f0" stroke="#36cc00"/>
<path d="M277.9 366.4l3.3 0.5 3.2 0.3-3.3-0.5z" fill="#deff00" stroke="#b1cc00"/>
<path d="M251.5 366.8l3.2 0.3 3.4-0.9-3.3-0.2z" fill="#edff00" stroke="#bdcc00"/>
<path d="M370.3 388.6l3.8 1.7 2.8-3.9-3.7-1.4z" fill="#09f" stroke="#007acc"/>
<path d="M330.6 379.7l3.6 1.3 2.9 0.7-3.5-1.3z" fill="#00ff84" stroke="#00cc69"/>
<path d="M271.3 365.9l3.3 0.5 3.3 0-3.4-0.5z" fill="#ef0" stroke="#becc00"/>
<path d="M258.1 366.2l3.3 0.3 3.3-0.6-3.3-0.3z" fill="#f5ff00" stroke="#c4cc00"/>
<path d="M396.7 371.9l3.9-0.2 2.9-7.8-3.9 0.9z" fill="#d6ff00" stroke="#abcc00"/>
<path d="M264.7 365.9l3.3 0.3 3.3-0.3-3.3-0.4z" fill="#f6ff00" stroke="#c4cc00"/>
<path d="M347.2 385l3.6 1.6 2.9-0.1-3.6-1.6z" fill="#00c3ff" stroke="#009ccc"/>
<path d="M307.5 372.5l3.5 0.9 3.1 1.1-3.5-1z" fill="#57ff00" stroke="#45cc00"/>
<path d="M363.8 389.4l3.7 1.8 2.8-2.6-3.7-1.7z" fill="#0071ff" stroke="#005acc"/>
<path d="M403.5 363.9l4-1.1 2.8-9-3.9 1.9z" fill="#ff8000" stroke="#c60"/>
<path d="M324.1 377.6l3.6 1.2 2.9 0.9-3.5-1.2z" fill="#00ff1b" stroke="#00cc15"/>
<path d="M301 370.7l3.4 0.7 3.1 1.1-3.4-0.9z" fill="#82ff00" stroke="#68cc00"/>
<path d="M340.7 383.1l3.6 1.5 2.9 0.4-3.6-1.5z" fill="#00faff" stroke="#00c8cc"/>
<path d="M357.3 388.2l3.7 1.8 2.8-0.6-3.6-1.8z" fill="#007bff" stroke="#0062cc"/>
<path d="M294.4 369.1l3.4 0.7 3.2 0.9-3.5-0.8z" fill="#a8ff00" stroke="#86cc00"/>
<path d="M380.6 387.8l3.8 1.4 2.8-5.2-3.7-1z" fill="#00daff" stroke="#00aecc"/>
<path d="M387.2 384l3.9 1 2.8-6.4-3.8-0.4z" fill="#00ff68" stroke="#00cc53"/>
<path d="M317.6 375.4l3.5 1.1 3 1.1-3.5-1.1z" fill="#24ff00" stroke="#1ccc00"/>
<path d="M234.8 369.9l3.2 0.2 3.5-1.3-3.2-0.1z" fill="#c8ff00" stroke="#a0cc00"/>
<path d="M374.1 390.3l3.7 1.7 2.8-4.2-3.7-1.4z" fill="#0081ff" stroke="#0067cc"/>
<path d="M393.9 378.6l3.9 0.4 2.8-7.3-3.9 0.2z" fill="#50ff00" stroke="#40cc00"/>
<path d="M287.8 367.8l3.4 0.6 3.2 0.7-3.4-0.7z" fill="#c8ff00" stroke="#a0cc00"/>
<path d="M334.2 381l3.6 1.3 2.9 0.8-3.6-1.4z" fill="#00ffa1" stroke="#00cc80"/>
<path d="M241.5 368.8l3.2 0.2 3.4-1.2-3.2-0.1z" fill="#dbff00" stroke="#afcc00"/>
<path d="M350.8 386.6l3.7 1.7 2.8-0.1-3.6-1.7z" fill="#00a9ff" stroke="#0087cc"/>
<path d="M281.2 366.9l3.4 0.5 3.2 0.4-3.4-0.6z" fill="#e1ff00" stroke="#b4cc00"/>
<path d="M400.6 371.7l4-0.4 2.9-8.5-4 1.1z" fill="#f2ff00" stroke="#c1cc00"/>
<path d="M367.5 391.2l3.7 2 2.9-2.9-3.8-1.7z" fill="#0052ff" stroke="#0041cc"/>
<path d="M248.1 367.8l3.3 0.3 3.3-1-3.2-0.3z" fill="#eaff00" stroke="#bc0"/>
<path d="M311 373.4l3.5 0.9 3.1 1.1-3.5-0.9z" fill="#53ff00" stroke="#42cc00"/>
<path d="M274.6 366.4l3.4 0.4 3.2 0.1-3.3-0.5z" fill="#f3ff00" stroke="#c2cc00"/>
<path d="M254.7 367.1l3.3 0.3 3.4-0.9-3.3-0.3z" fill="#f6ff00" stroke="#c4cc00"/>
<path d="M268 366.2l3.3 0.4 3.3-0.2-3.3-0.5z" fill="#fcff00" stroke="#c9cc00"/>
<path d="M261.4 366.5l3.3 0.4 3.3-0.7-3.3-0.3z" fill="#fcff00" stroke="#c9cc00"/>
<path d="M327.7 378.8l3.5 1.2 3 1-3.6-1.3z" fill="#00ff32" stroke="#00cc28"/>
<path d="M361 390l3.7 1.8 2.8-0.6-3.7-1.8z" fill="#005cff" stroke="#0049cc"/>
<path d="M344.3 384.6l3.7 1.5 2.8 0.5-3.6-1.6z" fill="#00e3ff" stroke="#00b5cc"/>
<path d="M304.4 371.4l3.5 0.9 3.1 1.1-3.5-0.9z" fill="#7fff00" stroke="#65cc00"/>
<path d="M384.4 389.2l3.8 1.6 2.9-5.8-3.9-1z" fill="#00cbff" stroke="#00a2cc"/>
<path d="M391.1 385l3.8 1 2.9-7-3.9-0.4z" fill="#00ff67" stroke="#00cc52"/>
<path d="M377.8 392l3.8 1.9 2.8-4.7-3.8-1.4z" fill="#0067ff" stroke="#0052cc"/>
<path d="M297.8 369.8l3.5 0.7 3.1 0.9-3.4-0.7z" fill="#a7ff00" stroke="#85cc00"/>
<path d="M321.1 376.5l3.6 1.1 3 1.2-3.6-1.2z" fill="#1cff00" stroke="#16cc00"/>
<path d="M397.8 379l3.9 0.4 2.9-8.1-4 0.4z" fill="#5eff00" stroke="#4bcc00"/>
<path d="M354.5 388.3l3.7 1.7 2.8 0-3.7-1.8z" fill="#008cff" stroke="#0070cc"/>
<path d="M371.2 393.2l3.8 2 2.8-3.2-3.7-1.7z" fill="#0032ff" stroke="#0028cc"/>
<path d="M337.8 382.3l3.6 1.4 2.9 0.9-3.6-1.5z" fill="#00ffc1" stroke="#00cc9a"/>
<path d="M291.2 368.4l3.5 0.6 3.1 0.8-3.4-0.7z" fill="#c9ff00" stroke="#a0cc00"/>
<path d="M238 370.1l3.3 0.2 3.4-1.3-3.2-0.2z" fill="#d2ff00" stroke="#a8cc00"/>
<path d="M284.6 367.4l3.4 0.6 3.2 0.4-3.4-0.6z" fill="#e3ff00" stroke="#b5cc00"/>
<path d="M244.7 369l3.2 0.3 3.5-1.2-3.3-0.3z" fill="#e4ff00" stroke="#b6cc00"/>
<path d="M314.5 374.3l3.6 0.9 3 1.3-3.5-1.1z" fill="#4dff00" stroke="#3dcc00"/>
<path d="M364.7 391.8l3.8 2 2.7-0.6-3.7-2z" fill="#003bff" stroke="#002fcc"/>
<path d="M251.4 368.1l3.2 0.3 3.4-1-3.3-0.3z" fill="#f2ff00" stroke="#c1cc00"/>
<path d="M278 366.8l3.3 0.5 3.3 0.1-3.4-0.5z" fill="#f6ff00" stroke="#c4cc00"/>
<path d="M258 367.4l3.3 0.4 3.4-0.9-3.3-0.4z" fill="#fdff00" stroke="#cacc00"/>
<path d="M348 386.1l3.6 1.7 2.9 0.5-3.7-1.7z" fill="#00c9ff" stroke="#00a0cc"/>
<path d="M331.2 380l3.6 1.2 3 1.1-3.6-1.3z" fill="#00ff4c" stroke="#00cc3c"/>
<path d="M271.3 366.6l3.4 0.5 3.3-0.3-3.4-0.4z" fill="#fffe00" stroke="#cccb00"/>
<path d="M264.7 366.9l3.3 0.4 3.3-0.7-3.3-0.4z" fill="#fffc00" stroke="#ccc900"/>
<path d="M388.2 390.8l3.9 1.5 2.8-6.3-3.8-1z" fill="#00bcff" stroke="#0096cc"/>
<path d="M307.9 372.3l3.5 0.8 3.1 1.2-3.5-0.9z" fill="#7bff00" stroke="#62cc00"/>
<path d="M381.6 393.9l3.8 1.9 2.8-5-3.8-1.6z" fill="#004cff" stroke="#003ccc"/>
<path d="M394.9 386l3.9 1 2.9-7.6-3.9-0.4z" fill="#00ff65" stroke="#00cc50"/>
<path d="M375 395.2l3.8 2.1 2.8-3.4-3.8-1.9z" fill="#0010ff" stroke="#000ccc"/>
<path d="M358.2 390l3.7 1.9 2.8-0.1-3.7-1.8z" fill="#006dff" stroke="#0057cc"/>
<path d="M324.7 377.6l3.5 1.1 3 1.3-3.5-1.2z" fill="#13ff00" stroke="#0fcc00"/>
<path d="M301.3 370.5l3.5 0.7 3.1 1.1-3.5-0.9z" fill="#a5ff00" stroke="#84cc00"/>
<path d="M341.4 383.7l3.7 1.5 2.9 0.9-3.7-1.5z" fill="#00ffe3" stroke="#00ccb5"/>
<path d="M294.7 369l3.4 0.7 3.2 0.8-3.5-0.7z" fill="#c9ff00" stroke="#a0cc00"/>
<path d="M368.5 393.8l3.7 2 2.8-0.6-3.8-2z" fill="#0017ff" stroke="#0012cc"/>
<path d="M318.1 375.2l3.5 1 3.1 1.4-3.6-1.1z" fill="#47ff00" stroke="#38cc00"/>
<path d="M241.3 370.3l3.2 0.3 3.4-1.3-3.2-0.3z" fill="#dbff00" stroke="#afcc00"/>
<path d="M351.6 387.8l3.7 1.7 2.9 0.5-3.7-1.7z" fill="#00aeff" stroke="#008bcc"/>
<path d="M288 368l3.5 0.6 3.2 0.4-3.5-0.6z" fill="#e5ff00" stroke="#b7cc00"/>
<path d="M334.8 381.2l3.7 1.3 2.9 1.2-3.6-1.4z" fill="#00ff68" stroke="#00cc53"/>
<path d="M392.1 392.3l3.8 1.6 2.9-6.9-3.9-1z" fill="#00adff" stroke="#008acc"/>
<path d="M385.4 395.8l3.8 2.1 2.9-5.6-3.9-1.5z" fill="#0030ff" stroke="#0026cc"/>
<path d="M247.9 369.3l3.3 0.3 3.4-1.2-3.2-0.3z" fill="#ecff00" stroke="#bccc00"/>
<path d="M281.3 367.3l3.5 0.6 3.2 0.1-3.4-0.6z" fill="#f9ff00" stroke="#c7cc00"/>
<path d="M254.6 368.4l3.3 0.4 3.4-1-3.3-0.4z" fill="#f9ff00" stroke="#c7cc00"/>
<path d="M274.7 367.1l3.4 0.5 3.2-0.3-3.3-0.5z" fill="#fffa00" stroke="#ccc800"/>
<path d="M261.3 367.8l3.4 0.4 3.3-0.9-3.3-0.4z" fill="#fffc00" stroke="#ccc900"/>
<path d="M378.8 397.3l3.8 2.3 2.8-3.8-3.8-1.9z" fill="#1100fa" stroke="#0d00c8"/>
<path d="M268 367.3l3.4 0.5 3.3-0.7-3.4-0.5z" fill="#fff800" stroke="#ccc600"/>
<path d="M311.4 373.1l3.6 0.9 3.1 1.2-3.6-0.9z" fill="#7f0" stroke="#5fcc00"/>
<path d="M361.9 391.9l3.7 1.9 2.9 0-3.8-2z" fill="#004cff" stroke="#003ccc"/>
<path d="M345.1 385.2l3.6 1.6 2.9 1-3.6-1.7z" fill="#00f8ff" stroke="#00c6cc"/>
<path d="M328.2 378.7l3.7 1.2 2.9 1.3-3.6-1.2z" fill="#09ff00" stroke="#07cc00"/>
<path d="M304.8 371.2l3.5 0.8 3.1 1.1-3.5-0.8z" fill="#a3ff00" stroke="#82cc00"/>
<path d="M372.2 395.8l3.8 2.2 2.8-0.7-3.8-2.1z" fill="#0c00fc" stroke="#0900c9"/>
<path d="M355.3 389.5l3.8 1.8 2.8 0.6-3.7-1.9z" fill="#0090ff" stroke="#0073cc"/>
<path d="M298.1 369.7l3.5 0.7 3.2 0.8-3.5-0.7z" fill="#c8ff00" stroke="#a0cc00"/>
<path d="M389.2 397.9l3.9 2 2.8-6-3.8-1.6z" fill="#0012ff" stroke="#000ecc"/>
<path d="M321.6 376.2l3.6 1.1 3 1.4-3.5-1.1z" fill="#40ff00" stroke="#3c0"/>
<path d="M338.5 382.5l3.6 1.5 3 1.2-3.7-1.5z" fill="#0f8" stroke="#00cc6c"/>
<path d="M382.6 399.6l3.8 2.3 2.8-4-3.8-2.1z" fill="#3000f2" stroke="#2600c1"/>
<path d="M291.5 368.6l3.4 0.6 3.2 0.5-3.4-0.7z" fill="#e6ff00" stroke="#b8cc00"/>
<path d="M365.6 393.8l3.8 2.1 2.8-0.1-3.7-2z" fill="#0029ff" stroke="#0020cc"/>
<path d="M244.5 370.6l3.3 0.4 3.4-1.4-3.3-0.3z" fill="#e3ff00" stroke="#b5cc00"/>
<path d="M284.8 367.9l3.4 0.5 3.3 0.2-3.5-0.6z" fill="#fbff00" stroke="#c8cc00"/>
<path d="M251.2 369.6l3.3 0.4 3.4-1.2-3.3-0.4z" fill="#f3ff00" stroke="#c2cc00"/>
<path d="M315 374l3.5 0.9 3.1 1.3-3.5-1z" fill="#72ff00" stroke="#5bcc00"/>
<path d="M278.1 367.6l3.4 0.5 3.3-0.2-3.5-0.6z" fill="#fff700" stroke="#ccc500"/>
<path d="M257.9 368.8l3.4 0.5 3.4-1.1-3.4-0.4z" fill="#ff0" stroke="#cc0"/>
<path d="M348.7 386.8l3.8 1.7 2.8 1-3.7-1.7z" fill="#00deff" stroke="#00b1cc"/>
<path d="M264.7 368.2l3.3 0.5 3.4-0.9-3.4-0.5z" fill="#fff800" stroke="#ccc600"/>
<path d="M271.4 367.8l3.4 0.5 3.3-0.7-3.4-0.5z" fill="#fff400" stroke="#ccc300"/>
<path d="M376 398l3.8 2.2 2.8-0.6-3.8-2.3z" fill="#2d00f3" stroke="#2400c2"/>
<path d="M331.9 379.9l3.6 1.2 3 1.4-3.7-1.3z" fill="#00ff02" stroke="#00cc01"/>
<path d="M308.3 372l3.6 0.8 3.1 1.2-3.6-0.9z" fill="#a0ff00" stroke="#80cc00"/>
<path d="M359.1 391.3l3.7 2 2.8 0.5-3.7-1.9z" fill="#006fff" stroke="#0058cc"/>
<path d="M386.4 401.9l3.8 2.4 2.9-4.4-3.9-2z" fill="#5200e9" stroke="#4100ba"/>
<path d="M342.1 384l3.7 1.5 2.9 1.3-3.6-1.6z" fill="#00ffab" stroke="#0c8"/>
<path d="M325.2 377.3l3.6 1.1 3.1 1.5-3.7-1.2z" fill="#38ff00" stroke="#2ccc00"/>
<path d="M301.6 370.4l3.6 0.7 3.1 0.9-3.5-0.8z" fill="#c7ff00" stroke="#9fcc00"/>
<path d="M369.4 395.9l3.8 2.1 2.8 0-3.8-2.2z" fill="#0003ff" stroke="#0002cc"/>
<path d="M294.9 369.2l3.5 0.7 3.2 0.5-3.5-0.7z" fill="#e6ff00" stroke="#b8cc00"/>
<path d="M379.8 400.2l3.8 2.4 2.8-0.7-3.8-2.3z" fill="#5000e9" stroke="#4000ba"/>
<path d="M352.5 388.5l3.7 1.8 2.9 1-3.8-1.8z" fill="#00c1ff" stroke="#009acc"/>
<path d="M318.5 374.9l3.7 1 3 1.4-3.6-1.1z" fill="#6dff00" stroke="#57cc00"/>
<path d="M247.8 371l3.3 0.4 3.4-1.4-3.3-0.4z" fill="#e9ff00" stroke="#bacc00"/>
<path d="M288.2 368.4l3.5 0.6 3.2 0.2-3.4-0.6z" fill="#fdff00" stroke="#cacc00"/>
<path d="M335.5 381.1l3.7 1.3 2.9 1.6-3.6-1.5z" fill="#00ff1e" stroke="#00cc18"/>
<path d="M254.5 370l3.4 0.5 3.4-1.2-3.4-0.5z" fill="#f8ff00" stroke="#c6cc00"/>
<path d="M281.5 368.1l3.4 0.6 3.3-0.3-3.4-0.5z" fill="#fff500" stroke="#ccc400"/>
<path d="M261.3 369.3l3.4 0.4 3.3-1-3.3-0.5z" fill="#fffb00" stroke="#ccc800"/>
<path d="M274.8 368.3l3.4 0.5 3.3-0.7-3.4-0.5z" fill="#fff100" stroke="#ccc000"/>
<path d="M362.8 393.3l3.8 2 2.8 0.6-3.8-2.1z" fill="#004cff" stroke="#003ccc"/>
<path d="M268 368.7l3.4 0.5 3.4-0.9-3.4-0.5z" fill="#fff400" stroke="#ccc300"/>
<path d="M311.9 372.8l3.5 0.9 3.1 1.2-3.5-0.9z" fill="#9dff00" stroke="#7dcc00"/>
<path d="M373.2 398l3.8 2.3 2.8-0.1-3.8-2.2z" fill="#1e00f7" stroke="#1800c5"/>
<path d="M345.8 385.5l3.7 1.6 3 1.4-3.8-1.7z" fill="#00ffd3" stroke="#00cca8"/>
<path d="M328.8 378.4l3.7 1.1 3 1.6-3.6-1.2z" fill="#2fff00" stroke="#25cc00"/>
<path d="M383.6 402.6l3.9 2.4 2.7-0.7-3.8-2.4z" fill="#7400df" stroke="#5c00b2"/>
<path d="M305.2 371.1l3.5 0.8 3.2 0.9-3.6-0.8z" fill="#c6ff00" stroke="#9ecc00"/>
<path d="M356.2 390.3l3.7 1.9 2.9 1.1-3.7-2z" fill="#00a1ff" stroke="#0080cc"/>
<path d="M298.4 369.9l3.6 0.6 3.2 0.6-3.6-0.7z" fill="#e7ff00" stroke="#b8cc00"/>
<path d="M322.2 375.9l3.6 1 3 1.5-3.6-1.1z" fill="#67ff00" stroke="#52cc00"/>
<path d="M339.2 382.4l3.7 1.5 2.9 1.6-3.7-1.5z" fill="#00ff3e" stroke="#00cc31"/>
<path d="M366.6 395.3l3.8 2.2 2.8 0.5-3.8-2.1z" fill="#0026ff" stroke="#001ecc"/>
<path d="M291.7 369l3.5 0.7 3.2 0.2-3.5-0.7z" fill="#feff00" stroke="#cbcc00"/>
<path d="M251.1 371.4l3.3 0.5 3.5-1.4-3.4-0.5z" fill="#efff00" stroke="#bfcc00"/>
<path d="M377 400.3l3.9 2.3 2.7 0-3.8-2.4z" fill="#4100ed" stroke="#3400bd"/>
<path d="M284.9 368.7l3.5 0.6 3.3-0.3-3.5-0.6z" fill="#fff300" stroke="#ccc200"/>
<path d="M257.9 370.5l3.4 0.5 3.4-1.3-3.4-0.4z" fill="#fdff00" stroke="#cacc00"/>
<path d="M278.2 368.8l3.4 0.5 3.3-0.6-3.4-0.6z" fill="#fe0" stroke="#ccbe00"/>
<path d="M264.7 369.7l3.4 0.5 3.3-1-3.4-0.5z" fill="#fff700" stroke="#ccc500"/>
<path d="M271.4 369.2l3.4 0.5 3.4-0.9-3.4-0.5z" fill="#fff100" stroke="#ccc000"/>
<path d="M349.5 387.1l3.8 1.8 2.9 1.4-3.7-1.8z" fill="#00feff" stroke="#00cbcc"/>
<path d="M315.4 373.7l3.7 0.9 3.1 1.3-3.7-1z" fill="#9f0" stroke="#7acc00"/>
<path d="M332.5 379.5l3.7 1.2 3 1.7-3.7-1.3z" fill="#25ff00" stroke="#1dcc00"/>
<path d="M359.9 392.2l3.8 2.1 2.9 1-3.8-2z" fill="#007eff" stroke="#0064cc"/>
<path d="M308.7 371.9l3.6 0.8 3.1 1-3.5-0.9z" fill="#c4ff00" stroke="#9ccc00"/>
<path d="M370.4 397.5l3.8 2.2 2.8 0.6-3.8-2.3z" fill="#0200ff" stroke="#0100cc"/>
<path d="M342.9 383.9l3.7 1.6 2.9 1.6-3.7-1.6z" fill="#00ff63" stroke="#00cc4f"/>
<path d="M380.9 402.6l3.8 2.5 2.8-0.1-3.9-2.4z" fill="#6600e3" stroke="#5100b5"/>
<path d="M302 370.5l3.5 0.8 3.2 0.6-3.5-0.8z" fill="#e6ff00" stroke="#b8cc00"/>
<path d="M325.8 376.9l3.6 1 3.1 1.6-3.7-1.1z" fill="#60ff00" stroke="#4ccc00"/>
<path d="M295.2 369.7l3.5 0.6 3.3 0.2-3.6-0.6z" fill="#ff0" stroke="#cc0"/>
<path d="M353.3 388.9l3.8 1.9 2.8 1.4-3.7-1.9z" fill="#00dfff" stroke="#00b2cc"/>
<path d="M288.4 369.3l3.5 0.6 3.3-0.2-3.5-0.7z" fill="#fff100" stroke="#ccc000"/>
<path d="M254.4 371.9l3.4 0.5 3.5-1.4-3.4-0.5z" fill="#f3ff00" stroke="#c2cc00"/>
<path d="M319.1 374.6l3.6 0.9 3.1 1.4-3.6-1z" fill="#95ff00" stroke="#7c0"/>
<path d="M261.3 371l3.4 0.5 3.4-1.3-3.4-0.5z" fill="#fffd00" stroke="#ccca00"/>
<path d="M281.6 369.3l3.5 0.6 3.3-0.6-3.5-0.6z" fill="#ffec00" stroke="#ccbc00"/>
<path d="M363.7 394.3l3.8 2.1 2.9 1.1-3.8-2.2z" fill="#0059ff" stroke="#0047cc"/>
<path d="M268.1 370.2l3.4 0.6 3.3-1.1-3.4-0.5z" fill="#fff400" stroke="#ccc300"/>
<path d="M274.8 369.7l3.5 0.6 3.3-1-3.4-0.5z" fill="#fe0" stroke="#ccbe00"/>
<path d="M336.2 380.7l3.7 1.4 3 1.8-3.7-1.5z" fill="#18ff00" stroke="#13cc00"/>
<path d="M374.2 399.7l3.9 2.4 2.8 0.5-3.9-2.3z" fill="#2400f5" stroke="#1c00c4"/>
<path d="M312.3 372.7l3.6 0.8 3.2 1.1-3.7-0.9z" fill="#c2ff00" stroke="#9bcc00"/>
<path d="M346.6 385.5l3.8 1.7 2.9 1.7-3.8-1.8z" fill="#00ff8e" stroke="#00cc71"/>
<path d="M329.4 377.9l3.7 1.2 3.1 1.6-3.7-1.2z" fill="#58ff00" stroke="#46cc00"/>
<path d="M305.5 371.3l3.6 0.7 3.2 0.7-3.6-0.8z" fill="#e6ff00" stroke="#b8cc00"/>
<path d="M357.1 390.8l3.8 2 2.8 1.5-3.8-2.1z" fill="#00bdff" stroke="#0097cc"/>
<path d="M298.7 370.3l3.6 0.7 3.2 0.3-3.5-0.8z" fill="#fffe00" stroke="#cccb00"/>
<path d="M367.5 396.4l3.9 2.3 2.8 1-3.8-2.2z" fill="#0031ff" stroke="#0027cc"/>
<path d="M378.1 402.1l3.9 2.5 2.7 0.5-3.8-2.5z" fill="#4a00eb" stroke="#3b00bc"/>
<path d="M322.7 375.5l3.7 0.9 3 1.5-3.6-1z" fill="#90ff00" stroke="#73cc00"/>
<path d="M339.9 382.1l3.7 1.6 3 1.8-3.7-1.6z" fill="#09ff00" stroke="#07cc00"/>
<path d="M291.9 369.9l3.6 0.6 3.2-0.2-3.5-0.6z" fill="#fff000" stroke="#ccc000"/>
<path d="M257.8 372.4l3.4 0.5 3.5-1.4-3.4-0.5z" fill="#f7ff00" stroke="#c5cc00"/>
<path d="M285.1 369.9l3.5 0.6 3.3-0.6-3.5-0.6z" fill="#ffea00" stroke="#cb0"/>
<path d="M264.7 371.5l3.4 0.5 3.4-1.2-3.4-0.6z" fill="#fffa00" stroke="#ccc800"/>
<path d="M278.3 370.3l3.5 0.6 3.3-1-3.5-0.6z" fill="#ffeb00" stroke="#ccbc00"/>
<path d="M271.5 370.8l3.4 0.6 3.4-1.1-3.5-0.6z" fill="#fff100" stroke="#ccc000"/>
<path d="M350.4 387.2l3.7 1.9 3 1.7-3.8-1.9z" fill="#00ffbe" stroke="#00cc98"/>
<path d="M315.9 373.5l3.7 0.8 3.1 1.2-3.6-0.9z" fill="#bfff00" stroke="#98cc00"/>
<path d="M360.9 392.8l3.8 2.2 2.8 1.4-3.8-2.1z" fill="#0098ff" stroke="#0079cc"/>
<path d="M333.1 379.1l3.8 1.3 3 1.7-3.7-1.4z" fill="#4dff00" stroke="#3dcc00"/>
<path d="M371.4 398.7l3.9 2.4 2.8 1-3.9-2.4z" fill="#0006ff" stroke="#0004cc"/>
<path d="M309.1 372l3.6 0.7 3.2 0.8-3.6-0.8z" fill="#e5ff00" stroke="#b7cc00"/>
<path d="M343.6 383.7l3.8 1.7 3 1.8-3.8-1.7z" fill="#00ff13" stroke="#00cc0f"/>
<path d="M302.3 371l3.6 0.7 3.2 0.3-3.6-0.7z" fill="#fffe00" stroke="#cccb00"/>
<path d="M326.4 376.4l3.7 1.1 3 1.6-3.7-1.2z" fill="#8aff00" stroke="#6ecc00"/>
<path d="M295.5 370.5l3.6 0.7 3.2-0.2-3.6-0.7z" fill="#ffef00" stroke="#ccbf00"/>
<path d="M354.1 389.1l3.9 2 2.9 1.7-3.8-2z" fill="#00fff4" stroke="#00ccc3"/>
<path d="M288.6 370.5l3.6 0.7 3.3-0.7-3.6-0.6z" fill="#ffe900" stroke="#ccba00"/>
<path d="M261.2 372.9l3.5 0.6 3.4-1.5-3.4-0.5z" fill="#fbff00" stroke="#c8cc00"/>
<path d="M281.8 370.9l3.5 0.6 3.3-1-3.5-0.6z" fill="#ffe900" stroke="#ccba00"/>
<path d="M268.1 372l3.5 0.6 3.3-1.2-3.4-0.6z" fill="#fff700" stroke="#ccc500"/>
<path d="M274.9 371.4l3.5 0.6 3.4-1.1-3.5-0.6z" fill="#ffef00" stroke="#ccbf00"/>
<path d="M364.7 395l3.8 2.3 2.9 1.4-3.9-2.3z" fill="#0070ff" stroke="#0059cc"/>
<path d="M319.6 374.3l3.6 0.9 3.2 1.2-3.7-0.9z" fill="#bcff00" stroke="#96cc00"/>
<path d="M375.3 401.1l3.9 2.5 2.8 1-3.9-2.5z" fill="#2100f6" stroke="#1a00c4"/>
<path d="M336.9 380.4l3.7 1.5 3 1.8-3.7-1.6z" fill="#40ff00" stroke="#3c0"/>
<path d="M312.7 372.7l3.7 0.8 3.2 0.8-3.7-0.8z" fill="#e4ff00" stroke="#b6cc00"/>
<path d="M347.4 385.4l3.8 1.8 2.9 1.9-3.7-1.9z" fill="#00ff41" stroke="#00cc34"/>
<path d="M330.1 377.5l3.7 1.2 3.1 1.7-3.8-1.3z" fill="#80ff00" stroke="#6c0"/>
<path d="M305.9 371.7l3.6 0.7 3.2 0.3-3.6-0.7z" fill="#fffe00" stroke="#cccb00"/>
<path d="M358 391.1l3.8 2.1 2.9 1.8-3.8-2.2z" fill="#00e1ff" stroke="#00b4cc"/>
<path d="M368.5 397.3l3.9 2.4 2.9 1.4-3.9-2.4z" fill="#0045ff" stroke="#0037cc"/>
<path d="M299.1 371.2l3.6 0.6 3.2-0.1-3.6-0.7z" fill="#fe0" stroke="#ccbe00"/>
<path d="M292.2 371.2l3.6 0.6 3.3-0.6-3.6-0.7z" fill="#ffe700" stroke="#ccb800"/>
<path d="M264.7 373.5l3.4 0.6 3.5-1.5-3.5-0.6z" fill="#feff00" stroke="#cbcc00"/>
<path d="M340.6 381.9l3.8 1.6 3 1.9-3.8-1.7z" fill="#2fff00" stroke="#25cc00"/>
<path d="M285.3 371.5l3.6 0.6 3.3-0.9-3.6-0.7z" fill="#ffe800" stroke="#ccb900"/>
<path d="M323.2 375.2l3.8 1 3.1 1.3-3.7-1.1z" fill="#b7ff00" stroke="#92cc00"/>
<path d="M271.6 372.6l3.4 0.6 3.4-1.2-3.5-0.6z" fill="#fff500" stroke="#ccc400"/>
<path d="M278.4 372l3.6 0.6 3.3-1.1-3.5-0.6z" fill="#ffed00" stroke="#ccbd00"/>
<path d="M351.2 387.2l3.8 2 3 1.9-3.9-2z" fill="#00ff75" stroke="#00cc5d"/>
<path d="M316.4 373.5l3.7 0.8 3.1 0.9-3.6-0.9z" fill="#e2ff00" stroke="#b4cc00"/>
<path d="M361.8 393.2l3.9 2.3 2.8 1.8-3.8-2.3z" fill="#00b9ff" stroke="#0094cc"/>
<path d="M372.4 399.7l3.9 2.6 2.9 1.3-3.9-2.5z" fill="#0016ff" stroke="#01c"/>
<path d="M333.8 378.7l3.8 1.5 3 1.7-3.7-1.5z" fill="#74ff00" stroke="#5ccc00"/>
<path d="M309.5 372.4l3.7 0.7 3.2 0.4-3.7-0.8z" fill="#fffe00" stroke="#cccb00"/>
<path d="M302.7 371.8l3.6 0.7 3.2-0.1-3.6-0.7z" fill="#ffed00" stroke="#ccbd00"/>
<path d="M344.4 383.5l3.8 1.8 3 1.9-3.8-1.8z" fill="#1cff00" stroke="#16cc00"/>
<path d="M327 376.2l3.7 1.2 3.1 1.3-3.7-1.2z" fill="#b0ff00" stroke="#8ccc00"/>
<path d="M295.8 371.8l3.6 0.7 3.3-0.7-3.6-0.6z" fill="#ffe600" stroke="#ccb800"/>
<path d="M288.9 372.1l3.5 0.7 3.4-1-3.6-0.6z" fill="#ffe600" stroke="#ccb800"/>
<path d="M268.1 374.1l3.5 0.6 3.4-1.5-3.4-0.6z" fill="#fffd00" stroke="#ccca00"/>
<path d="M355 389.2l3.9 2.1 2.9 1.9-3.8-2.1z" fill="#00ffb0" stroke="#00cc8c"/>
<path d="M282 372.6l3.5 0.6 3.4-1.1-3.6-0.6z" fill="#ffeb00" stroke="#ccbc00"/>
<path d="M275 373.2l3.6 0.6 3.4-1.2-3.6-0.6z" fill="#fff300" stroke="#ccc200"/>
<path d="M365.7 395.5l3.9 2.5 2.8 1.7-3.9-2.4z" fill="#008eff" stroke="#0071cc"/>
<path d="M320.1 374.3l3.7 0.9 3.2 1-3.8-1z" fill="#dfff00" stroke="#b2cc00"/>
<path d="M337.6 380.2l3.8 1.6 3 1.7-3.8-1.6z" fill="#65ff00" stroke="#50cc00"/>
<path d="M313.2 373.1l3.7 0.7 3.2 0.5-3.7-0.8z" fill="#fffe00" stroke="#cccb00"/>
<path d="M348.2 385.3l3.8 2 3 1.9-3.8-2z" fill="#05ff00" stroke="#04cc00"/>
<path d="M306.3 372.5l3.7 0.7 3.2-0.1-3.7-0.7z" fill="#ffed00" stroke="#ccbd00"/>
<path d="M330.7 377.4l3.8 1.3 3.1 1.5-3.8-1.5z" fill="#a4ff00" stroke="#83cc00"/>
<path d="M358.9 391.3l3.9 2.3 2.9 1.9-3.9-2.3z" fill="#00fff0" stroke="#00ccc0"/>
<path d="M369.6 398l3.9 2.6 2.8 1.7-3.9-2.6z" fill="#005fff" stroke="#004ccc"/>
<path d="M299.4 372.5l3.6 0.6 3.3-0.6-3.6-0.7z" fill="#ffe500" stroke="#ccb700"/>
<path d="M292.4 372.8l3.7 0.6 3.3-0.9-3.6-0.7z" fill="#ffe500" stroke="#ccb700"/>
<path d="M285.5 373.2l3.6 0.7 3.3-1.1-3.5-0.7z" fill="#ffe900" stroke="#ccba00"/>
<path d="M271.6 374.7l3.6 0.6 3.4-1.5-3.6-0.6z" fill="#fffb00" stroke="#ccc800"/>
<path d="M278.6 373.8l3.5 0.7 3.4-1.3-3.5-0.6z" fill="#fff100" stroke="#ccc000"/>
<path d="M341.4 381.8l3.8 1.7 3 1.8-3.8-1.8z" fill="#52ff00" stroke="#41cc00"/>
<path d="M323.8 375.2l3.8 1.2 3.1 1-3.7-1.2z" fill="#d8ff00" stroke="#accc00"/>
<path d="M352 387.3l3.9 2.1 3 1.9-3.9-2.1z" fill="#00ff2d" stroke="#00cc24"/>
<path d="M316.9 373.8l3.7 0.9 3.2 0.5-3.7-0.9z" fill="#feff00" stroke="#cbcc00"/>
<path d="M362.8 393.6l3.9 2.5 2.9 1.9-3.9-2.5z" fill="#00dcff" stroke="#00b0cc"/>
<path d="M334.5 378.7l3.8 1.6 3.1 1.5-3.8-1.6z" fill="#96ff00" stroke="#78cc00"/>
<path d="M310 373.2l3.7 0.7 3.2-0.1-3.7-0.7z" fill="#ffec00" stroke="#ccbc00"/>
<path d="M303 373.1l3.7 0.7 3.3-0.6-3.7-0.7z" fill="#ffe400" stroke="#ccb600"/>
<path d="M296.1 373.4l3.6 0.7 3.3-1-3.6-0.6z" fill="#ffe400" stroke="#ccb600"/>
<path d="M345.2 383.5l3.8 2 3 1.8-3.8-2z" fill="#3cff00" stroke="#30cc00"/>
<path d="M289.1 373.9l3.6 0.6 3.4-1.1-3.7-0.6z" fill="#ffe800" stroke="#ccb900"/>
<path d="M327.6 376.4l3.7 1.3 3.2 1-3.8-1.3z" fill="#ceff00" stroke="#a4cc00"/>
<path d="M282.1 374.5l3.6 0.6 3.4-1.2-3.6-0.7z" fill="#ffef00" stroke="#ccbf00"/>
<path d="M275.2 375.3l3.5 0.6 3.4-1.4-3.5-0.7z" fill="#fff900" stroke="#ccc700"/>
<path d="M355.9 389.4l3.9 2.3 3 1.9-3.9-2.3z" fill="#00ff6e" stroke="#00cc58"/>
<path d="M366.7 396.1l3.9 2.6 2.9 1.9-3.9-2.6z" fill="#00adff" stroke="#008acc"/>
<path d="M320.6 374.7l3.8 1.1 3.2 0.6-3.8-1.2z" fill="#f8ff00" stroke="#c6cc00"/>
<path d="M338.3 380.3l3.8 1.8 3.1 1.4-3.8-1.7z" fill="#84ff00" stroke="#69cc00"/>
<path d="M313.7 373.9l3.7 0.9 3.2-0.1-3.7-0.9z" fill="#fe0" stroke="#ccbe00"/>
<path d="M349 385.5l3.9 2.1 3 1.8-3.9-2.1z" fill="#24ff00" stroke="#1ccc00"/>
<path d="M306.7 373.8l3.7 0.8 3.3-0.7-3.7-0.7z" fill="#ffe400" stroke="#ccb600"/>
<path d="M359.8 391.7l3.9 2.5 3 1.9-3.9-2.5z" fill="#00ffb5" stroke="#00cc90"/>
<path d="M331.3 377.7l3.9 1.5 3.1 1.1-3.8-1.6z" fill="#c1ff00" stroke="#9acc00"/>
<path d="M299.7 374.1l3.7 0.7 3.3-1-3.7-0.7z" fill="#ffe300" stroke="#ccb500"/>
<path d="M292.7 374.5l3.7 0.7 3.3-1.1-3.6-0.7z" fill="#ffe700" stroke="#ccb800"/>
<path d="M285.7 375.1l3.6 0.7 3.4-1.3-3.6-0.6z" fill="#ffed00" stroke="#ccbd00"/>
<path d="M278.7 375.9l3.6 0.7 3.4-1.5-3.6-0.6z" fill="#fff700" stroke="#ccc500"/>
<path d="M324.4 375.8l3.8 1.3 3.1 0.6-3.7-1.3z" fill="#efff00" stroke="#bfcc00"/>
<path d="M342.1 382.1l3.9 1.9 3 1.5-3.8-2z" fill="#6fff00" stroke="#58cc00"/>
<path d="M352.9 387.6l3.9 2.4 3 1.7-3.9-2.3z" fill="#07ff00" stroke="#05cc00"/>
<path d="M317.4 374.8l3.8 1.1 3.2-0.1-3.8-1.1z" fill="#fff200" stroke="#ccc100"/>
<path d="M363.7 394.2l4 2.7 2.9 1.8-3.9-2.6z" fill="#00fdff" stroke="#00cacc"/>
<path d="M335.2 379.2l3.8 1.8 3.1 1.1-3.8-1.8z" fill="#afff00" stroke="#8ccc00"/>
<path d="M310.4 374.6l3.7 0.8 3.3-0.6-3.7-0.9z" fill="#ffe400" stroke="#ccb600"/>
<path d="M303.4 374.8l3.7 0.7 3.3-0.9-3.7-0.8z" fill="#ffe200" stroke="#ccb400"/>
<path d="M296.4 375.2l3.7 0.7 3.3-1.1-3.7-0.7z" fill="#ffe600" stroke="#ccb800"/>
<path d="M289.3 375.8l3.7 0.7 3.4-1.3-3.7-0.7z" fill="#ffec00" stroke="#ccbc00"/>
<path d="M282.3 376.6l3.6 0.6 3.4-1.4-3.6-0.7z" fill="#fff500" stroke="#ccc400"/>
<path d="M346 384l3.9 2.1 3 1.5-3.9-2.1z" fill="#56ff00" stroke="#4c0"/>
<path d="M328.2 377.1l3.8 1.6 3.2 0.5-3.9-1.5z" fill="#e2ff00" stroke="#b4cc00"/>
<path d="M356.8 390l4 2.5 2.9 1.7-3.9-2.5z" fill="#00ff36" stroke="#00cc2b"/>
<path d="M321.2 375.9l3.8 1.3 3.2-0.1-3.8-1.3z" fill="#fff900" stroke="#ccc700"/>
<path d="M339 381l3.9 1.9 3.1 1.1-3.9-1.9z" fill="#9bff00" stroke="#7ccc00"/>
<path d="M314.1 375.4l3.8 1.1 3.3-0.6-3.8-1.1z" fill="#ffe800" stroke="#ccb900"/>
<path d="M307.1 375.5l3.7 0.9 3.3-1-3.7-0.8z" fill="#ffe300" stroke="#ccb500"/>
<path d="M349.9 386.1l3.9 2.4 3 1.5-3.9-2.4z" fill="#3aff00" stroke="#2ecc00"/>
<path d="M300.1 375.9l3.7 0.7 3.3-1.1-3.7-0.7z" fill="#ffe500" stroke="#ccb700"/>
<path d="M360.8 392.5l3.9 2.7 3 1.7-4-2.7z" fill="#00ff85" stroke="#00cc6a"/>
<path d="M332 378.7l3.9 1.7 3.1 0.6-3.8-1.8z" fill="#d1ff00" stroke="#a7cc00"/>
<path d="M293 376.5l3.7 0.6 3.4-1.2-3.7-0.7z" fill="#ffeb00" stroke="#ccbc00"/>
<path d="M285.9 377.2l3.7 0.7 3.4-1.4-3.7-0.7z" fill="#fff400" stroke="#ccc300"/>
<path d="M325 377.2l3.8 1.5 3.2 0-3.8-1.6z" fill="#f9ff00" stroke="#c7cc00"/>
<path d="M342.9 382.9l3.9 2.1 3.1 1.1-3.9-2.1z" fill="#82ff00" stroke="#68cc00"/>
<path d="M317.9 376.5l3.8 1.3 3.3-0.6-3.8-1.3z" fill="#fff000" stroke="#ccc000"/>
<path d="M353.8 388.5l3.9 2.5 3.1 1.5-4-2.5z" fill="#1bff00" stroke="#15cc00"/>
<path d="M310.8 376.4l3.8 1.1 3.3-1-3.8-1.1z" fill="#ffe700" stroke="#ccb800"/>
<path d="M335.9 380.4l3.8 1.9 3.2 0.6-3.9-1.9z" fill="#bdff00" stroke="#97cc00"/>
<path d="M303.8 376.6l3.7 0.9 3.3-1.1-3.7-0.9z" fill="#ffe500" stroke="#ccb700"/>
<path d="M296.7 377.1l3.7 0.7 3.4-1.2-3.7-0.7z" fill="#ffe900" stroke="#ccba00"/>
<path d="M289.6 377.9l3.7 0.6 3.4-1.4-3.7-0.6z" fill="#fff200" stroke="#ccc100"/>
<path d="M346.8 385l3.9 2.4 3.1 1.1-3.9-2.4z" fill="#6f0" stroke="#51cc00"/>
<path d="M328.8 378.7l3.9 1.7 3.2 0-3.9-1.7z" fill="#e9ff00" stroke="#bacc00"/>
<path d="M357.7 391l4 2.7 3 1.5-3.9-2.7z" fill="#00ff12" stroke="#00cc0e"/>
<path d="M321.7 377.8l3.9 1.5 3.2-0.6-3.8-1.5z" fill="#fffb00" stroke="#ccc800"/>
<path d="M339.7 382.3l4 2.2 3.1 0.5-3.9-2.1z" fill="#a5ff00" stroke="#84cc00"/>
<path d="M314.6 377.5l3.8 1.3 3.3-1-3.8-1.3z" fill="#fe0" stroke="#ccbe00"/>
<path d="M307.5 377.5l3.8 1 3.3-1-3.8-1.1z" fill="#ffe900" stroke="#ccba00"/>
<path d="M350.7 387.4l4 2.5 3 1.1-3.9-2.5z" fill="#47ff00" stroke="#38cc00"/>
<path d="M300.4 377.8l3.8 0.8 3.3-1.1-3.7-0.9z" fill="#ffe900" stroke="#ccba00"/>
<path d="M332.7 380.4l3.9 1.9 3.1 0-3.8-1.9z" fill="#d4ff00" stroke="#a9cc00"/>
<path d="M293.3 378.5l3.7 0.7 3.4-1.4-3.7-0.7z" fill="#fff000" stroke="#ccc000"/>
<path d="M325.6 379.3l3.8 1.8 3.3-0.7-3.9-1.7z" fill="#f4ff00" stroke="#c3cc00"/>
<path d="M343.7 384.5l3.9 2.3 3.1 0.6-3.9-2.4z" fill="#89ff00" stroke="#6dcc00"/>
<path d="M318.4 378.8l3.9 1.5 3.3-1-3.9-1.5z" fill="#fff900" stroke="#ccc700"/>
<path d="M354.7 389.9l4 2.8 3 1-4-2.7z" fill="#24ff00" stroke="#1ccc00"/>
<path d="M311.3 378.5l3.8 1.3 3.3-1-3.8-1.3z" fill="#ffef00" stroke="#ccbf00"/>
<path d="M336.6 382.3l3.9 2.2 3.2 0-4-2.2z" fill="#bcff00" stroke="#96cc00"/>
<path d="M304.2 378.6l3.7 1.1 3.4-1.2-3.8-1z" fill="#ffec00" stroke="#ccbc00"/>
<path d="M297 379.2l3.8 0.7 3.4-1.3-3.8-0.8z" fill="#ffef00" stroke="#ccbf00"/>
<path d="M347.6 386.8l4 2.6 3.1 0.5-4-2.5z" fill="#69ff00" stroke="#54cc00"/>
<path d="M329.4 381.1l3.9 1.9 3.3-0.7-3.9-1.9z" fill="#e0ff00" stroke="#b3cc00"/>
<path d="M322.3 380.3l3.9 1.7 3.2-0.9-3.8-1.8z" fill="#f6ff00" stroke="#c4cc00"/>
<path d="M340.5 384.5l3.9 2.4 3.2-0.1-3.9-2.3z" fill="#a1ff00" stroke="#80cc00"/>
<path d="M315.1 379.8l3.9 1.5 3.3-1-3.9-1.5z" fill="#fffa00" stroke="#ccc800"/>
<path d="M307.9 379.7l3.9 1.2 3.3-1.1-3.8-1.3z" fill="#fff200" stroke="#ccc100"/>
<path d="M351.6 389.4l4 2.8 3.1 0.5-4-2.8z" fill="#46ff00" stroke="#38cc00"/>
<path d="M300.8 379.9l3.7 1 3.4-1.2-3.7-1.1z" fill="#fff100" stroke="#ccc000"/>
<path d="M333.3 383l4 2.2 3.2-0.7-3.9-2.2z" fill="#c8ff00" stroke="#a0cc00"/>
<path d="M326.2 382l3.9 1.9 3.2-0.9-3.9-1.9z" fill="#e2ff00" stroke="#b4cc00"/>
<path d="M344.4 386.9l4 2.6 3.2-0.1-4-2.6z" fill="#81ff00" stroke="#67cc00"/>
<path d="M319 381.3l3.9 1.7 3.3-1-3.9-1.7z" fill="#f6ff00" stroke="#c4cc00"/>
<path d="M311.8 380.9l3.8 1.4 3.4-1-3.9-1.5z" fill="#fffc00" stroke="#ccc900"/>
<path d="M337.3 385.2l3.9 2.4 3.2-0.7-3.9-2.4z" fill="#acff00" stroke="#89cc00"/>
<path d="M304.5 380.9l3.9 1.2 3.4-1.2-3.9-1.2z" fill="#fff600" stroke="#ccc400"/>
<path d="M330.1 383.9l3.9 2.2 3.3-0.9-4-2.2z" fill="#cbff00" stroke="#a2cc00"/>
<path d="M348.4 389.5l4 2.8 3.2-0.1-4-2.8z" fill="#5dff00" stroke="#4acc00"/>
<path d="M322.9 383l3.9 1.9 3.3-1-3.9-1.9z" fill="#e2ff00" stroke="#b4cc00"/>
<path d="M341.2 387.6l4 2.6 3.2-0.7-4-2.6z" fill="#8cff00" stroke="#70cc00"/>
<path d="M315.6 382.3l3.9 1.7 3.4-1-3.9-1.7z" fill="#f4ff00" stroke="#c3cc00"/>
<path d="M308.4 382.1l3.8 1.3 3.4-1.1-3.8-1.4z" fill="#fffe00" stroke="#cccb00"/>
<path d="M334 386.1l4 2.4 3.2-0.9-3.9-2.4z" fill="#afff00" stroke="#8ccc00"/>
<path d="M326.8 384.9l3.9 2.1 3.3-0.9-3.9-2.2z" fill="#cbff00" stroke="#a2cc00"/>
<path d="M345.2 390.2l4 2.8 3.2-0.7-4-2.8z" fill="#69ff00" stroke="#54cc00"/>
<path d="M319.5 384l3.9 1.8 3.4-0.9-3.9-1.9z" fill="#e2ff00" stroke="#b4cc00"/>
<path d="M338 388.5l4 2.6 3.2-0.9-4-2.6z" fill="#8fff00" stroke="#72cc00"/>
<path d="M312.2 383.4l3.9 1.6 3.4-1-3.9-1.7z" fill="#f3ff00" stroke="#c2cc00"/>
<path d="M330.7 387l4 2.4 3.3-0.9-4-2.4z" fill="#b0ff00" stroke="#8ccc00"/>
<path d="M323.4 385.8l4 2.1 3.3-0.9-3.9-2.1z" fill="#cdff00" stroke="#a4cc00"/>
<path d="M342 391.1l4 2.8 3.2-0.9-4-2.8z" fill="#6cff00" stroke="#56cc00"/>
<path d="M316.1 385l4 1.7 3.3-0.9-3.9-1.8z" fill="#e3ff00" stroke="#b5cc00"/>
<path d="M334.7 389.4l4 2.5 3.3-0.8-4-2.6z" fill="#92ff00" stroke="#74cc00"/>
<path d="M327.4 387.9l4 2.2 3.3-0.7-4-2.4z" fill="#b3ff00" stroke="#8fcc00"/>
<path d="M320.1 386.7l3.9 2 3.4-0.8-4-2.1z" fill="#cfff00" stroke="#a5cc00"/>
<path d="M338.7 391.9l4.1 2.8 3.2-0.8-4-2.8z" fill="#6fff00" stroke="#58cc00"/>
<path d="M331.4 390.1l4 2.5 3.3-0.7-4-2.5z" fill="#96ff00" stroke="#78cc00"/>
<path d="M324 388.7l4 2.1 3.4-0.7-4-2.2z" fill="#b7ff00" stroke="#92cc00"/>
<path d="M335.4 392.6l4.1 2.7 3.3-0.6-4.1-2.8z" fill="#75ff00" stroke="#5dcc00"/>
<path d="M328 390.8l4.1 2.4 3.3-0.6-4-2.5z" fill="#9cff00" stroke="#7ccc00"/>
<path d="M332.1 393.2l4 2.6 3.4-0.5-4.1-2.7z" fill="#7dff00" stroke="#64cc00"/>
</g>
<path d="M382 402.6L382.2 401.7M382.2 401.7L384.2 400.6M384.2 400.6L387.2 400.8M382.4 404.7L381.7 403.2M381.7 403.2L382 402.6M392.3 401.2L387.2 400.8M360.5 390L360.5 389.7M360.5 389.7L362.2 388.6M362.2 388.6L364.6 388.7M361.2 391.7L360.7 391.3M360.7 391.3L360.5 390M369.9 389L364.6 388.7M362.8 393.3L362.7 393.2M362.7 393.2L361.2 391.7M371.4 389L369.9 389M371.4 389L374.7 389.4M364.8 394.6L362.8 393.3M379.2 389.9L374.7 389.4M366.8 396.1L365.8 395.4M365.8 395.4L364.8 394.6M383.7 390.5L379.2 389.9M368.9 397.5L366.8 396.1M388.1 391L383.7 390.5M371.1 398.9L369.3 397.8M369.3 397.8L368.9 397.5M389.4 391.2L388.1 391M389.4 391.2L392.3 391.7M373.2 400.4L372.8 400.1M372.8 400.1L371.1 398.9M396.6 392.3L392.3 391.7M324.4 375.7L323.7 375.1M330.7 373.8L331.4 373.8M325.8 377L325.6 376.9M325.6 376.9L324.4 375.7M336.5 374L331.4 373.8M328 378L325.8 377M339.7 374.2L336.5 374M339.7 374.2L341.2 374.3M330.1 379.1L328 378M345.5 374.8L341.2 374.3M332.5 380.2L330.2 379.2M330.2 379.2L330.1 379.1M349.7 375.3L345.5 374.8M335 381.2L332.5 380.2M353.8 375.8L349.7 375.3M337.6 382.2L336.8 382M336.8 382L335 381.2M357.7 376.4L353.8 375.8M340.3 383.3L337.6 382.2M358 376.4L357.7 376.4M358 376.4L361.6 377M342.9 384.3L340.3 383.3M365.4 377.6L361.6 377M345.6 385.4L345 385.1M345 385.1L342.9 384.3M369.3 378.2L365.4 377.6M348.3 386.4L345.6 385.4M373.1 378.9L369.3 378.2M351 387.6L348.3 386.4M376.9 379.6L373.1 378.9M353.6 388.7L352.3 388.2M352.3 388.2L351 387.6M380.7 380.3L376.9 379.6M356.1 389.9L353.6 388.7M384.5 381L380.7 380.3M358.6 391.2L358.1 390.9M358.1 390.9L356.1 389.9M388.4 381.7L384.5 381M361 392.5L358.6 391.2M392.2 382.4L388.4 381.7M363.2 393.9L362.5 393.4M362.5 393.4L361 392.5M396.1 383.2L392.2 382.4M365.1 395.4L363.2 393.9M400 383.9L396.1 383.2M219.2 370.9L222.2 370M222.2 370L225.2 369.2M225.2 369.2L228.4 368.4M228.4 368.4L231.7 367.6M231.7 367.6L235.1 366.9M235.1 366.9L238.8 366.2M238.8 366.2L242.7 365.6M242.7 365.6L243.3 365.5M247.1 365.1L243.3 365.5M247.1 365.1L252.1 364.7M252.1 364.7L252.6 364.7M258.5 364.6L252.6 364.7M258.5 364.6L258.6 364.6M263.5 364.9L258.6 364.6M267.9 365.2L263.5 364.9M268.3 365.2L267.9 365.2M268.3 365.2L271.8 365.6M275.6 366.1L271.8 365.6M279.2 366.7L275.6 366.1M282.7 367.3L279.2 366.7M286 367.9L282.7 367.3M289.4 368.5L286 367.9M292.6 369.2L289.4 368.5M359.6 352.4L359.6 352.3M295.9 369.9L292.6 369.2M356.7 354.4L357.2 354M357.2 354L358.3 353.1M358.3 353.1L359.6 352.4M299.1 370.6L295.9 369.9M355.2 356.2L355.4 355.8M355.4 355.8L356.2 354.9M356.2 354.9L356.7 354.4M302.3 371.3L299.1 370.6M354.6 357.8L354.8 356.8M354.8 356.8L355.2 356.2M305.4 372.1L302.3 371.3M354.7 359.2L354.6 359M354.6 359L354.5 357.9M354.5 357.9L354.6 357.8M308.6 372.8L305.4 372.1M355.5 360.5L355.3 360.3M355.3 360.3L354.7 359.2M311.7 373.6L308.6 372.8M356.7 361.6L355.5 360.5M314.9 374.4L311.7 373.6M358.3 362.7L356.8 361.7M356.8 361.7L356.7 361.6M318 375.2L317.6 375.1M317.6 375.1L314.9 374.4M360.2 363.8L359.3 363.3M359.3 363.3L358.3 362.7M321.2 376L318 375.2M362.4 364.7L360.2 363.8M324.3 376.9L321.2 376M364.8 365.7L363.9 365.3M363.9 365.3L362.4 364.7M327.5 377.7L324.3 376.9M367.3 366.6L364.8 365.7M330.8 378.6L327.5 377.7M370.1 367.5L367.3 366.6M333.9 379.5L330.8 378.6M373 368.3L371.9 368M371.9 368L370.1 367.5M337 380.4L333.9 379.5M376 369.2L373 368.3M339.9 381.4L337.3 380.5M337.3 380.5L337 380.4M379.1 370L376 369.2M342.7 382.5L339.9 381.4M382.3 370.8L379.1 370M345.3 383.6L342.7 382.5M385.6 371.6L382.3 370.8M347.7 384.9L345.6 383.8M345.6 383.8L345.3 383.6M388.9 372.4L387.7 372.1M387.7 372.1L385.6 371.6M349.9 386.2L347.7 384.9M392.4 373.2L388.9 372.4M351.6 387.7L350 386.2M350 386.2L349.9 386.2M395.8 374L392.4 373.2M352.3 389.5L352 388.2M352 388.2L351.6 387.7M399.4 374.8L395.8 374M342.3 394.8L342.6 394.6M342.6 394.6L345.4 393.5M345.4 393.5L348.4 392.4M348.4 392.4L351.1 391.3M351.1 391.3L352.3 389.9M352.3 389.9L352.3 389.5M403 375.6L399.4 374.8M258.9 367.2L260.8 366.5M260.8 366.5L263 366.2M257.6 369L257.5 368.8M257.5 368.8L258.3 367.4M258.3 367.4L258.9 367.2M265.4 365.9L263 366.2M265.4 365.9L269.6 366.1M258.7 370.2L257.6 369M274.5 366.3L269.6 366.1M274.5 366.3L274.6 366.4M260.5 371.3L259.4 370.7M259.4 370.7L258.7 370.2M278.8 366.8L274.6 366.4M262.8 372.3L260.5 371.3M282.7 367.4L278.8 366.8M265.3 373.2L262.8 372.3M286.6 367.9L282.7 367.4M267.1 373.9L265.3 373.2M290.4 368.5L286.6 367.9M294.1 369.2L290.4 368.5M372.1 349.5L372.5 348.9M372.5 348.9L373.4 348M297.8 369.8L294.1 369.2M371.2 351.1L371.3 350.8M371.3 350.8L371.8 349.8M371.8 349.8L372.1 349.5M301.4 370.5L297.8 369.8M371.1 352.6L371 351.8M371 351.8L371.2 351.1M305 371.2L301.4 370.5M371.5 353.9L371.1 352.8M371.1 352.8L371.1 352.6M308.6 371.9L305 371.2M372.4 355.2L371.5 354M371.5 354L371.5 353.9M312.1 372.7L308.6 371.9M373.7 356.3L372.4 355.2M372.4 355.2L372.4 355.2M315.7 373.4L312.1 372.7M375.3 357.5L374 356.6M374 356.6L373.7 356.3M319.3 374.2L315.7 373.4M377.2 358.5L376.6 358.2M376.6 358.2L375.3 357.5M322.6 375L319.3 374.2M379.4 359.5L377.2 358.5M325.5 376L322.6 375M381.7 360.5L380.6 360M380.6 360L379.4 359.5M327.9 377.1L327.7 377M327.7 377L325.5 376M384.3 361.4L381.7 360.5M312.2 383.4L312.4 383.4M329.1 378.7L327.9 377.1M387 362.3L387 362.3M387 362.3L384.3 361.4M316.3 382.6L312.4 383.4M316.3 382.6L320.1 381.7M320.1 381.7L323.6 380.9M323.6 380.9L326.9 379.9M326.9 379.9L329.1 378.8M329.1 378.8L329.1 378.7M389.9 363.2L387 362.3M392.9 364.1L389.9 363.2M396 364.9L392.9 364.1M399.2 365.8L397.3 365.3M397.3 365.3L396 364.9M402.5 366.6L399.2 365.8M405.9 367.4L402.5 366.6M382.1 343.2L382.3 342.8M381.3 344.7L381.3 344.6M381.3 344.6L381.7 343.7M381.7 343.7L382.1 343.2M381.2 346.1L381.1 345.6M381.1 345.6L381.3 344.7M381.5 347.5L381.2 346.6M381.2 346.6L381.2 346.1M382.4 348.7L381.6 347.7M381.6 347.7L381.5 347.5M383.6 349.9L382.5 348.9M382.5 348.9L382.4 348.7M385.2 351L384 350.2M384 350.2L383.6 349.9M387 352L386.2 351.6M386.2 351.6L385.2 351M389.1 353L387 352M391.4 354L389.6 353.2M389.6 353.2L389.1 353M393.9 354.9L391.4 354M396.5 355.8L394.5 355.2M394.5 355.2L393.9 354.9M399.4 356.7L396.5 355.8M402.3 357.6L402 357.5M402 357.5L399.4 356.7M405.4 358.5L402.3 357.6M408.6 359.3L405.4 358.5M389.1 337.5L389.3 337.1M388.7 338.9L388.9 338M388.9 338L389.1 337.5M388.9 340.2L388.8 339.9M388.8 339.9L388.7 338.9M388.7 338.9L388.7 338.9M389.5 341.5L389.1 340.9M389.1 340.9L388.9 340.2M390.5 342.6L389.9 342M389.9 342L389.5 341.5M391.9 343.8L391.1 343.2M391.1 343.2L390.5 342.6M393.6 344.8L393 344.5M393 344.5L391.9 343.8M395.5 345.8L393.6 344.8M397.6 346.8L395.8 346M395.8 346L395.5 345.8M400 347.7L399.7 347.6M399.7 347.6L397.6 346.8M402.6 348.6L400 347.7M405.3 349.5L402.6 348.6M408.1 350.4L405.4 349.6M405.4 349.6L405.3 349.5M411.1 351.2L408.1 350.4M394.9 332L395.1 331.1M395 333.3L394.9 332.9M394.9 332.9L394.9 332M394.9 332L394.9 332M395.6 334.5L395.2 333.9M395.2 333.9L395 333.3M396.5 335.6L395.8 334.9M395.8 334.9L395.6 334.5M397.8 336.7L396.8 336M396.8 336L396.5 335.6M399.4 337.8L398.4 337.2M398.4 337.2L397.8 336.7M401.2 338.7L400.6 338.5M400.6 338.5L399.4 337.8M403.3 339.7L401.2 338.7M405.6 340.6L403.8 339.9M403.8 339.9L403.3 339.7M408.1 341.5L405.6 340.6M410.8 342.4L408.3 341.6M408.3 341.6L408.1 341.5M413.6 343.2L410.8 342.4M400.2 325.3L400.3 325M400.3 326.5L400.2 325.8M400.2 325.8L400.2 325.3M400.9 327.7L400.9 327.6M400.9 327.6L400.4 326.7M400.4 326.7L400.3 326.5M401.8 328.8L401.7 328.6M401.7 328.6L400.9 327.7M403.1 329.8L402.9 329.7M402.9 329.7L401.8 328.8M404.7 330.8L403.1 329.8M406.5 331.7L404.8 330.9M404.8 330.9L404.7 330.8M408.6 332.7L407.3 332.1M407.3 332.1L406.5 331.7M410.9 333.6L408.6 332.7M413.4 334.4L410.9 333.6M410.9 333.6L410.9 333.6M416 335.3L415.8 335.2M415.8 335.2L413.4 334.4" fill="none" stroke="#000" stroke-opacity=".4" stroke-width=".4"/>
<g fill="none" stroke="#333" stroke-width=".9">
<path d="M214.7 479.7L208.5 325.5"/>
<path d="M214.7 479.7L335.2 524"/>
<path d="M335.2 524L431.6 473.1"/>
<path d="M214.7 479.7h3"/>
<path d="M214.2 465h1.6"/>
<path d="M213.6 450.3h1.6"/>
<path d="M213 435.3h1.6"/>
<path d="M212.4 420.2h1.6"/>
<path d="M211.7 404.9h3"/>
<path d="M211.1 389.4h1.6"/>
<path d="M210.5 373.7h1.6"/>
<path d="M209.8 357.8h1.6"/>
<path d="M209.2 341.8h1.6"/>
<path d="M208.5 325.5h3"/>
<path d="M214.7 479.7l0-3.2"/>
<path d="M335.2 524l0-3.2"/>
<path d="M229.9 485.2l0-2"/>
<path d="M351.2 515.6l0-2"/>
<path d="M245.6 491l0-3.2"/>
<path d="M366.3 507.6l0-3.2"/>
<path d="M262 497.1l0-2"/>
<path d="M380.7 500l0-2"/>
<path d="M279.1 503.4l0-3.2"/>
<path d="M394.4 492.8l0-3.2"/>
<path d="M297 510l0-2"/>
<path d="M407.4 485.9l0-2"/>
<path d="M315.6 516.8l0-3.2"/>
<path d="M419.8 479.3l0-3.2"/>
<path d="M335.2 524l0-2"/>
<path d="M431.6 473.1l0-2"/>
</g>
<linearGradient id="ga" x1="0" y1="0" x2="0" y2="1"><stop offset="0" stop-color="#f00"/><stop offset="0.07" stop-color="#f00"/><stop offset="0.35" stop-color="#ff0"/><stop offset="0.545" stop-color="#0ff"/><stop offset="0.726" stop-color="#00f"/><stop offset="0.97" stop-color="#f0f"/><stop offset="1" stop-color="#f0f"/></linearGradient>
<rect x="275.6" y="31.7" width="14.6" height="138.5" fill="url(#ga)"/>
<rect x="275.6" y="30.4" width="14.6" height="1.3" fill="#b4b4b4"/>
<rect x="275.6" y="170" width="14.6" height="1.6" fill="#111"/>
<rect x="275.6" y="30.4" width="14.6" height="141.2" fill="none" stroke="#000" stroke-opacity=".35" stroke-width=".5"/>
<path d="M290.2 32.4h1.2" stroke="#333" stroke-width=".7"/>
<text x="295.8" y="34.4" font-size="6.0" text-anchor="start">1.067</text>
<path d="M290.2 46.2h1.2" stroke="#333" stroke-width=".7"/>
<text x="295.8" y="48.2" font-size="6.0" text-anchor="start">1.044</text>
<path d="M290.2 60h1.2" stroke="#333" stroke-width=".7"/>
<text x="295.8" y="62" font-size="6.0" text-anchor="start">1.021</text>
<path d="M290.2 73.8h1.2" stroke="#333" stroke-width=".7"/>
<text x="295.8" y="75.8" font-size="6.0" text-anchor="start">0.9986</text>
<path d="M290.2 87.6h1.2" stroke="#333" stroke-width=".7"/>
<text x="295.8" y="89.6" font-size="6.0" text-anchor="start">0.9758</text>
<path d="M290.2 101.3h1.2" stroke="#333" stroke-width=".7"/>
<text x="295.8" y="103.3" font-size="6.0" text-anchor="start">0.9530</text>
<path d="M290.2 115.1h1.2" stroke="#333" stroke-width=".7"/>
<text x="295.8" y="117.1" font-size="6.0" text-anchor="start">0.9302</text>
<path d="M290.2 128.9h1.2" stroke="#333" stroke-width=".7"/>
<text x="295.8" y="130.9" font-size="6.0" text-anchor="start">0.9074</text>
<path d="M290.2 142.7h1.2" stroke="#333" stroke-width=".7"/>
<text x="295.8" y="144.7" font-size="6.0" text-anchor="start">0.8846</text>
<path d="M290.2 156.5h1.2" stroke="#333" stroke-width=".7"/>
<text x="295.8" y="158.5" font-size="6.0" text-anchor="start">0.8618</text>
<path d="M290.2 170.3h1.2" stroke="#333" stroke-width=".7"/>
<text x="295.8" y="172.3" font-size="6.0" text-anchor="start">0.8390</text>
<linearGradient id="gb" x1="0" y1="0" x2="0" y2="1"><stop offset="0" stop-color="#f00"/><stop offset="0.07" stop-color="#f00"/><stop offset="0.35" stop-color="#ff0"/><stop offset="0.545" stop-color="#0ff"/><stop offset="0.726" stop-color="#00f"/><stop offset="0.97" stop-color="#f0f"/><stop offset="1" stop-color="#f0f"/></linearGradient>
<rect x="610.5" y="26.9" width="15" height="150.1" fill="url(#gb)"/>
<rect x="610.5" y="25.6" width="15" height="1.3" fill="#b4b4b4"/>
<rect x="610.5" y="176.8" width="15" height="1.6" fill="#111"/>
<rect x="610.5" y="25.6" width="15" height="152.8" fill="none" stroke="#000" stroke-opacity=".35" stroke-width=".5"/>
<path d="M625.5 27.5h1.2" stroke="#333" stroke-width=".7"/>
<text x="631.1" y="29.5" font-size="6.0" text-anchor="start">1.220</text>
<path d="M625.5 42.4h1.2" stroke="#333" stroke-width=".7"/>
<text x="631.1" y="44.4" font-size="6.0" text-anchor="start">1.189</text>
<path d="M625.5 57.3h1.2" stroke="#333" stroke-width=".7"/>
<text x="631.1" y="59.3" font-size="6.0" text-anchor="start">1.158</text>
<path d="M625.5 72.2h1.2" stroke="#333" stroke-width=".7"/>
<text x="631.1" y="74.2" font-size="6.0" text-anchor="start">1.126</text>
<path d="M625.5 87.1h1.2" stroke="#333" stroke-width=".7"/>
<text x="631.1" y="89.1" font-size="6.0" text-anchor="start">1.095</text>
<path d="M625.5 102h1.2" stroke="#333" stroke-width=".7"/>
<text x="631.1" y="104" font-size="6.0" text-anchor="start">1.064</text>
<path d="M625.5 117h1.2" stroke="#333" stroke-width=".7"/>
<text x="631.1" y="119" font-size="6.0" text-anchor="start">1.033</text>
<path d="M625.5 131.9h1.2" stroke="#333" stroke-width=".7"/>
<text x="631.1" y="133.9" font-size="6.0" text-anchor="start">1.002</text>
<path d="M625.5 146.8h1.2" stroke="#333" stroke-width=".7"/>
<text x="631.1" y="148.8" font-size="6.0" text-anchor="start">0.9704</text>
<path d="M625.5 161.7h1.2" stroke="#333" stroke-width=".7"/>
<text x="631.1" y="163.7" font-size="6.0" text-anchor="start">0.9392</text>
<path d="M625.5 176.6h1.2" stroke="#333" stroke-width=".7"/>
<text x="631.1" y="178.6" font-size="6.0" text-anchor="start">0.9080</text>
<linearGradient id="gc" x1="0" y1="0" x2="0" y2="1"><stop offset="0" stop-color="#6e0000"/><stop offset="0.239" stop-color="#f00"/><stop offset="0.336" stop-color="#f00"/><stop offset="0.402" stop-color="#ff8000"/><stop offset="0.496" stop-color="#ff0"/><stop offset="0.663" stop-color="#0f0"/><stop offset="0.736" stop-color="#0ff"/><stop offset="0.854" stop-color="#00f"/><stop offset="0.927" stop-color="#8000dc"/><stop offset="1" stop-color="#600060"/></linearGradient>
<rect x="441" y="317.9" width="14.4" height="144.1" fill="url(#gc)"/>
<rect x="441" y="316.6" width="14.4" height="1.3" fill="#b4b4b4"/>
<rect x="441" y="461.8" width="14.4" height="1.6" fill="#111"/>
<rect x="441" y="316.6" width="14.4" height="146.8" fill="none" stroke="#000" stroke-opacity=".35" stroke-width=".5"/>
<path d="M455.4 318.8h1.2" stroke="#333" stroke-width=".7"/>
<text x="461" y="320.8" font-size="6.0" text-anchor="start">1.500</text>
<path d="M455.4 333.1h1.2" stroke="#333" stroke-width=".7"/>
<text x="461" y="335.1" font-size="6.0" text-anchor="start">1.455</text>
<path d="M455.4 347.3h1.2" stroke="#333" stroke-width=".7"/>
<text x="461" y="349.3" font-size="6.0" text-anchor="start">1.410</text>
<path d="M455.4 361.6h1.2" stroke="#333" stroke-width=".7"/>
<text x="461" y="363.6" font-size="6.0" text-anchor="start">1.365</text>
<path d="M455.4 375.9h1.2" stroke="#333" stroke-width=".7"/>
<text x="461" y="377.9" font-size="6.0" text-anchor="start">1.320</text>
<path d="M455.4 390.1h1.2" stroke="#333" stroke-width=".7"/>
<text x="461" y="392.1" font-size="6.0" text-anchor="start">1.275</text>
<path d="M455.4 404.4h1.2" stroke="#333" stroke-width=".7"/>
<text x="461" y="406.4" font-size="6.0" text-anchor="start">1.230</text>
<path d="M455.4 418.7h1.2" stroke="#333" stroke-width=".7"/>
<text x="461" y="420.7" font-size="6.0" text-anchor="start">1.185</text>
<path d="M455.4 433h1.2" stroke="#333" stroke-width=".7"/>
<text x="461" y="435" font-size="6.0" text-anchor="start">1.140</text>
<path d="M455.4 447.2h1.2" stroke="#333" stroke-width=".7"/>
<text x="461" y="449.2" font-size="6.0" text-anchor="start">1.095</text>
<path d="M455.4 461.5h1.2" stroke="#333" stroke-width=".7"/>
<text x="461" y="463.5" font-size="6.0" text-anchor="start">1.050</text>
<text x="42.2" y="194.2" font-size="7.2" text-anchor="end">0.5</text>
<text x="39" y="118.3" font-size="7.2" text-anchor="end">1.0</text>
<text x="35.6" y="38" font-size="7.2" text-anchor="end">1.5</text>
<text x="45.1" y="202.1" font-size="7.2" text-anchor="middle">0.0</text>
<text x="76.4" y="213.5" font-size="7.2" text-anchor="middle">0.2</text>
<text x="110.3" y="225.8" font-size="7.2" text-anchor="middle">0.4</text>
<text x="147.2" y="239.2" font-size="7.2" text-anchor="middle">0.6</text>
<text x="168" y="247.5" font-size="7.2" text-anchor="middle">0.0</text>
<text x="199" y="230.4" font-size="7.2" text-anchor="middle">0.2</text>
<text x="227.2" y="215.5" font-size="7.2" text-anchor="middle">0.4</text>
<text x="252.8" y="202" font-size="7.2" text-anchor="middle">0.6</text>
<text x="90.7" y="228.9" font-size="9.5" text-anchor="middle">a</text>
<text x="220.3" y="231.8" font-size="9.5" text-anchor="middle">b</text>
<text x="10.8" y="121.6" font-size="8.5" text-anchor="start">ω</text>
<text x="16.8" y="117.2" font-size="5.6" text-anchor="start">NM</text>
<text x="16.8" y="122.8" font-size="5.6" text-anchor="start">N</text>
<text x="360.3" y="197.1" font-size="7.2" text-anchor="end">0.5</text>
<text x="356.8" y="119.2" font-size="7.2" text-anchor="end">1.0</text>
<text x="353.1" y="36.3" font-size="7.2" text-anchor="end">1.5</text>
<text x="363.2" y="205" font-size="7.2" text-anchor="middle">0.0</text>
<text x="396.5" y="216.7" font-size="7.2" text-anchor="middle">0.2</text>
<text x="432.7" y="229.4" font-size="7.2" text-anchor="middle">0.4</text>
<text x="472.1" y="243.3" font-size="7.2" text-anchor="middle">0.6</text>
<text x="494.1" y="251.8" font-size="7.2" text-anchor="middle">0.0</text>
<text x="527" y="234.1" font-size="7.2" text-anchor="middle">0.2</text>
<text x="556.9" y="218.8" font-size="7.2" text-anchor="middle">0.4</text>
<text x="584.1" y="204.9" font-size="7.2" text-anchor="middle">0.6</text>
<text x="410.5" y="235.5" font-size="9.5" text-anchor="middle">a</text>
<text x="551.5" y="233" font-size="9.5" text-anchor="middle">b</text>
<text x="327.4" y="120.8" font-size="8.5" text-anchor="start">ω</text>
<text x="333.4" y="116.4" font-size="5.6" text-anchor="start">MLM</text>
<text x="333.4" y="122" font-size="5.6" text-anchor="start">N</text>
<text x="210.8" y="482.1" font-size="7.2" text-anchor="end">0.5</text>
<text x="207.8" y="407.3" font-size="7.2" text-anchor="end">1.0</text>
<text x="204.6" y="327.9" font-size="7.2" text-anchor="end">1.5</text>
<text x="213.7" y="490" font-size="7.2" text-anchor="middle">0.0</text>
<text x="244.6" y="501.3" font-size="7.2" text-anchor="middle">0.2</text>
<text x="278.1" y="513.7" font-size="7.2" text-anchor="middle">0.4</text>
<text x="314.6" y="527.1" font-size="7.2" text-anchor="middle">0.6</text>
<text x="335.2" y="535.4" font-size="7.2" text-anchor="middle">0.0</text>
<text x="366" y="518.4" font-size="7.2" text-anchor="middle">0.2</text>
<text x="394.1" y="503.6" font-size="7.2" text-anchor="middle">0.4</text>
<text x="419.5" y="490.1" font-size="7.2" text-anchor="middle">0.6</text>
<text x="270" y="524.2" font-size="9.5" text-anchor="middle">a</text>
<text x="388" y="519.5" font-size="9.5" text-anchor="middle">b</text>
<text x="179.7" y="409.6" font-size="8.5" text-anchor="start">ω</text>
<text x="185.7" y="405.2" font-size="5.6" text-anchor="start">RLM</text>
<text x="185.7" y="410.8" font-size="5.6" text-anchor="start">N</text>
<text x="173.5" y="279.5" font-size="12.4" text-anchor="middle">(a) NM</text>
<text x="484" y="280.5" font-size="12.4" text-anchor="middle">(b) MLM</text>
<text x="331" y="571.5" font-size="12.4" text-anchor="middle">(c) RLM</text></svg></body></html>
